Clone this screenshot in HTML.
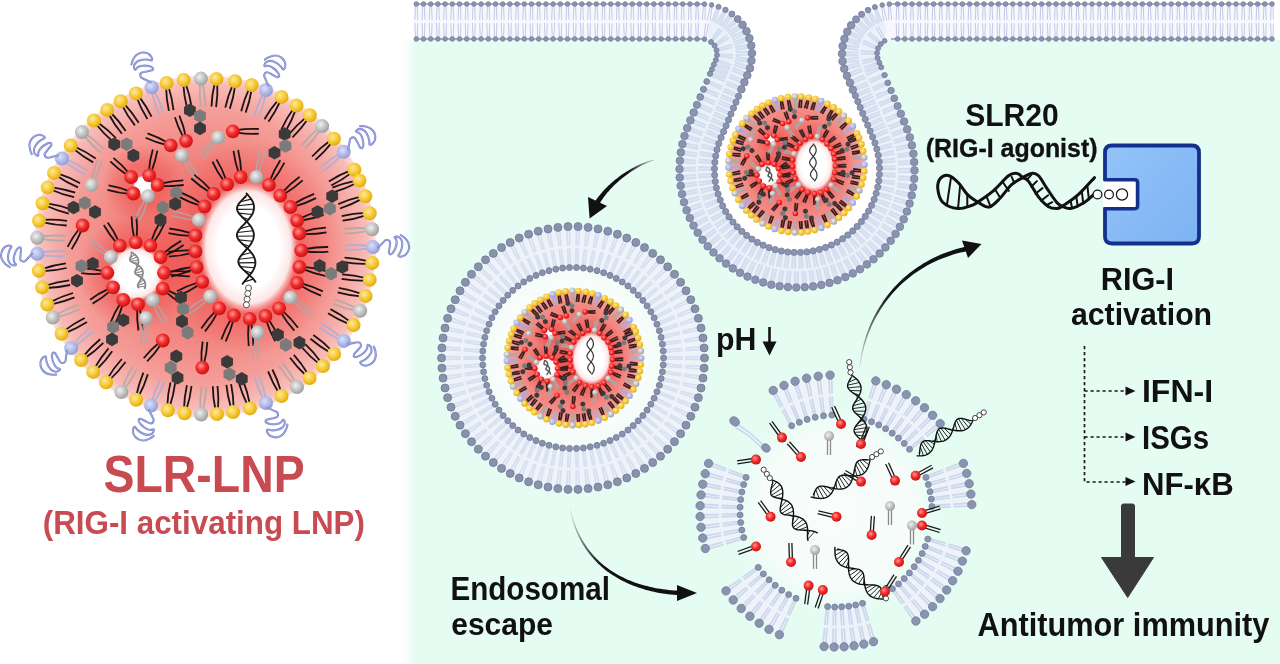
<!DOCTYPE html>
<html><head><meta charset="utf-8"><style>
html,body{margin:0;padding:0;background:#fff;}
svg{display:block;will-change:transform;}
text{font-family:"Liberation Sans",sans-serif;font-weight:bold;}
</style></head><body>
<svg width="1280" height="664" viewBox="0 0 1280 664">
<defs>
<radialGradient id="gY" cx="0.4" cy="0.38" r="0.65"><stop offset="0" stop-color="#fbe9a0"/><stop offset="0.55" stop-color="#f6c936"/><stop offset="1" stop-color="#e2a90a"/></radialGradient>
<radialGradient id="gR" cx="0.4" cy="0.38" r="0.65"><stop offset="0" stop-color="#ff9a9a"/><stop offset="0.5" stop-color="#f22c2c"/><stop offset="1" stop-color="#c90f0f"/></radialGradient>
<radialGradient id="gG" cx="0.4" cy="0.38" r="0.65"><stop offset="0" stop-color="#f0f0f0"/><stop offset="1" stop-color="#9c9c9c"/></radialGradient>
<radialGradient id="gL" cx="0.4" cy="0.38" r="0.65"><stop offset="0" stop-color="#dbe0fa"/><stop offset="1" stop-color="#8f9bd6"/></radialGradient>
<radialGradient id="gDisc"><stop offset="0" stop-color="#f06a64"/><stop offset="0.5" stop-color="#f2827d"/><stop offset="0.8" stop-color="#f59e99"/><stop offset="0.95" stop-color="#f8bcb8"/><stop offset="1" stop-color="#fde0dd"/></radialGradient>
<radialGradient id="gGlow"><stop offset="0.5" stop-color="#ee3a3a" stop-opacity="0.45"/><stop offset="1" stop-color="#ee3a3a" stop-opacity="0"/></radialGradient>
<radialGradient id="gHole"><stop offset="0" stop-color="#fff"/><stop offset="0.62" stop-color="#fff"/><stop offset="0.85" stop-color="#fde6e6"/><stop offset="1" stop-color="#fbd0d0" stop-opacity="0"/></radialGradient>
<linearGradient id="gEdge" x1="0" y1="0" x2="1" y2="0"><stop offset="0" stop-color="#e5fcf3" stop-opacity="0"/><stop offset="1" stop-color="#e5fcf3" stop-opacity="0.85"/></linearGradient>
<radialGradient id="gLumen2"><stop offset="0" stop-color="#f8fdfb"/><stop offset="0.75" stop-color="#f5fcf9"/><stop offset="1" stop-color="#f5fcf9" stop-opacity="0"/></radialGradient>
<radialGradient id="gLumen"><stop offset="0.6" stop-color="#fbfefd"/><stop offset="1" stop-color="#f3fcf8"/></radialGradient>
<linearGradient id="gRig" x1="0" y1="0" x2="1" y2="1"><stop offset="0" stop-color="#93c3f8"/><stop offset="1" stop-color="#7db3f2"/></linearGradient>
<linearGradient id="gArr1" gradientUnits="userSpaceOnUse" x1="654" y1="160" x2="600" y2="205"><stop offset="0" stop-color="#111" stop-opacity="0.2"/><stop offset="0.4" stop-color="#111"/></linearGradient>
<linearGradient id="gArr2" gradientUnits="userSpaceOnUse" x1="570" y1="510" x2="640" y2="585"><stop offset="0" stop-color="#111" stop-opacity="0.05"/><stop offset="0.6" stop-color="#111"/></linearGradient>
<linearGradient id="gArr3" gradientUnits="userSpaceOnUse" x1="860" y1="372" x2="920" y2="270"><stop offset="0" stop-color="#111" stop-opacity="0.05"/><stop offset="0.7" stop-color="#111"/></linearGradient>
<g id="lnp"><circle r="171" fill="url(#gDisc)"/><ellipse cx="44" cy="1" rx="92" ry="108" fill="url(#gGlow)"/><circle cx="-69" cy="27" r="58" fill="url(#gGlow)"/><circle cx="-62" cy="-62" r="40" fill="url(#gGlow)" opacity="0.8"/><ellipse cx="43.5" cy="1" rx="50" ry="66" fill="url(#gHole)"/><circle cx="-69.3" cy="26.8" r="28" fill="url(#gHole)"/><circle cx="-62" cy="-61" r="10" fill="url(#gHole)"/><path d="M-163.5 -10Q-151.6 -11.5 -139.7 -10.7" stroke="#a9a9a9" stroke-width="1.8" fill="none" opacity="0.85"/><path d="M-163.6 -7.5Q-151.7 -5.5 -139.8 -6" stroke="#a9a9a9" stroke-width="1.8" fill="none" opacity="0.85"/><path d="M-161.7 -26.6Q-149.7 -27.3 -137.9 -25.7" stroke="#1c1414" stroke-width="1.8" fill="none"/><path d="M-161.9 -24.1Q-150.2 -21.4 -138.3 -21" stroke="#1c1414" stroke-width="1.8" fill="none"/><path d="M-158 -43.2Q-146.1 -41.5 -134.9 -37.4" stroke="#1c1414" stroke-width="1.8" fill="none"/><path d="M-158.7 -40.8Q-147.8 -35.7 -136.2 -32.9" stroke="#1c1414" stroke-width="1.8" fill="none"/><path d="M-152.9 -59.2Q-140.9 -57.6 -129.7 -53.8" stroke="#1c1414" stroke-width="1.8" fill="none"/><path d="M-153.6 -56.8Q-142.6 -51.9 -130.9 -49.3" stroke="#1c1414" stroke-width="1.8" fill="none"/><path d="M-146.7 -72.9Q-135.2 -69.2 -124.9 -63.3" stroke="#1c1414" stroke-width="1.8" fill="none"/><path d="M-147.8 -70.6Q-137.9 -63.8 -127 -59.1" stroke="#1c1414" stroke-width="1.8" fill="none"/><path d="M-138.8 -87Q-127.7 -82.6 -117.7 -76" stroke="#a6aedb" stroke-width="1.8" fill="none" opacity="0.85"/><path d="M-140.1 -84.8Q-130.7 -77.4 -120 -72" stroke="#a6aedb" stroke-width="1.8" fill="none" opacity="0.85"/><path d="M-130.1 -99.7Q-119.1 -94.9 -109.3 -88.1" stroke="#1c1414" stroke-width="1.8" fill="none"/><path d="M-131.4 -97.6Q-122.3 -89.8 -111.8 -84.1" stroke="#1c1414" stroke-width="1.8" fill="none"/><path d="M-119.1 -112.4Q-109.2 -105.6 -101 -97" stroke="#a9a9a9" stroke-width="1.8" fill="none" opacity="0.85"/><path d="M-120.9 -110.6Q-113.3 -101.2 -104.2 -93.6" stroke="#a9a9a9" stroke-width="1.8" fill="none" opacity="0.85"/><path d="M-107.2 -124.1Q-97.3 -117.2 -89.1 -108.5" stroke="#1c1414" stroke-width="1.8" fill="none"/><path d="M-108.9 -122.2Q-101.4 -112.8 -92.3 -105.1" stroke="#1c1414" stroke-width="1.8" fill="none"/><path d="M-94.3 -134Q-85.8 -125.4 -79.3 -115.4" stroke="#1c1414" stroke-width="1.8" fill="none"/><path d="M-96.3 -132.5Q-90.7 -121.9 -83.1 -112.7" stroke="#1c1414" stroke-width="1.8" fill="none"/><path d="M-80.8 -142.6Q-72.6 -133.9 -66.3 -123.8" stroke="#1c1414" stroke-width="1.8" fill="none"/><path d="M-82.9 -141.2Q-77.5 -130.4 -70.1 -121.1" stroke="#1c1414" stroke-width="1.8" fill="none"/><path d="M-66 -150.1Q-58.7 -140.5 -53.5 -129.8" stroke="#1c1414" stroke-width="1.8" fill="none"/><path d="M-68.2 -148.8Q-64 -137.6 -57.6 -127.5" stroke="#1c1414" stroke-width="1.8" fill="none"/><path d="M-50.7 -155.8Q-45.1 -145.1 -41.8 -133.7" stroke="#a6aedb" stroke-width="1.8" fill="none" opacity="0.85"/><path d="M-53.1 -154.9Q-50.8 -143.1 -46.2 -132.1" stroke="#a6aedb" stroke-width="1.8" fill="none" opacity="0.85"/><path d="M-36.4 -159.6Q-32.8 -148.2 -31.5 -136.3" stroke="#1c1414" stroke-width="1.8" fill="none"/><path d="M-38.9 -159.2Q-38.7 -147.2 -36.1 -135.6" stroke="#1c1414" stroke-width="1.8" fill="none"/><path d="M-19.3 -162.8Q-15.2 -151.5 -13.4 -139.7" stroke="#1c1414" stroke-width="1.8" fill="none"/><path d="M-21.7 -162.3Q-21 -150.3 -18 -138.7" stroke="#1c1414" stroke-width="1.8" fill="none"/><path d="M-2.5 -163.9Q0.2 -152.1 0.5 -140.2" stroke="#a9a9a9" stroke-width="1.8" fill="none" opacity="0.85"/><path d="M-5 -163.7Q-5.8 -151.7 -4.2 -139.9" stroke="#a9a9a9" stroke-width="1.8" fill="none" opacity="0.85"/><path d="M12.3 -163.3Q12.9 -151.3 11.1 -139.5" stroke="#1c1414" stroke-width="1.8" fill="none"/><path d="M9.8 -163.5Q6.9 -151.9 6.5 -140" stroke="#1c1414" stroke-width="1.8" fill="none"/><path d="M30.1 -160.9Q28.6 -149 24.8 -137.7" stroke="#1c1414" stroke-width="1.8" fill="none"/><path d="M27.7 -161.6Q22.9 -150.6 20.3 -138.9" stroke="#1c1414" stroke-width="1.8" fill="none"/><path d="M46.6 -157Q44.8 -145.1 40.6 -133.9" stroke="#1c1414" stroke-width="1.8" fill="none"/><path d="M44.2 -157.8Q39 -146.9 36.2 -135.3" stroke="#1c1414" stroke-width="1.8" fill="none"/><path d="M60.8 -152.1Q58.3 -140.4 53.6 -129.4" stroke="#a6aedb" stroke-width="1.8" fill="none" opacity="0.85"/><path d="M58.4 -153Q52.7 -142.4 49.2 -131" stroke="#a6aedb" stroke-width="1.8" fill="none" opacity="0.85"/><path d="M75.3 -145.3Q70.4 -134.4 63.4 -124.7" stroke="#1c1414" stroke-width="1.8" fill="none"/><path d="M73.2 -146.7Q65.3 -137.6 59.5 -127.2" stroke="#1c1414" stroke-width="1.8" fill="none"/><path d="M90.7 -136.6Q86.6 -125.3 80.5 -115" stroke="#1c1414" stroke-width="1.8" fill="none"/><path d="M88.4 -137.8Q81.3 -128.1 76.4 -117.2" stroke="#1c1414" stroke-width="1.8" fill="none"/><path d="M102.9 -127.4Q96.1 -117.4 87.5 -109.1" stroke="#1c1414" stroke-width="1.8" fill="none"/><path d="M101 -129.1Q91.7 -121.5 84.1 -112.3" stroke="#1c1414" stroke-width="1.8" fill="none"/><path d="M115.3 -116.5Q108.6 -106.4 100.2 -98" stroke="#a9a9a9" stroke-width="1.8" fill="none" opacity="0.85"/><path d="M113.4 -118.1Q104.2 -110.4 96.7 -101.1" stroke="#a9a9a9" stroke-width="1.8" fill="none" opacity="0.85"/><path d="M126.7 -103.9Q119.4 -94.4 110.4 -86.6" stroke="#1c1414" stroke-width="1.8" fill="none"/><path d="M125 -105.8Q115.2 -98.7 107.1 -90" stroke="#1c1414" stroke-width="1.8" fill="none"/><path d="M136.3 -91.1Q128.1 -82.3 118.4 -75.3" stroke="#a6aedb" stroke-width="1.8" fill="none" opacity="0.85"/><path d="M134.7 -93Q124.3 -87 115.5 -79" stroke="#a6aedb" stroke-width="1.8" fill="none" opacity="0.85"/><path d="M146.4 -73.6Q136.9 -66.3 126.2 -61" stroke="#1c1414" stroke-width="1.8" fill="none"/><path d="M145.1 -75.8Q133.9 -71.5 123.9 -65.1" stroke="#1c1414" stroke-width="1.8" fill="none"/><path d="M151 -63.3Q140.4 -57.7 128.9 -54.4" stroke="#1c1414" stroke-width="1.8" fill="none"/><path d="M150.2 -65.7Q138.4 -63.4 127.4 -58.8" stroke="#1c1414" stroke-width="1.8" fill="none"/><path d="M156.8 -47.6Q146.4 -41.7 135 -38" stroke="#1c1414" stroke-width="1.8" fill="none"/><path d="M155.9 -49.9Q144.2 -47.3 133.3 -42.4" stroke="#1c1414" stroke-width="1.8" fill="none"/><path d="M160.8 -31.2Q149.4 -27.3 137.6 -25.8" stroke="#1c1414" stroke-width="1.8" fill="none"/><path d="M160.3 -33.7Q148.3 -33.2 136.7 -30.4" stroke="#1c1414" stroke-width="1.8" fill="none"/><path d="M163 -15.7Q151.3 -13.1 139.4 -12.8" stroke="#a9a9a9" stroke-width="1.8" fill="none" opacity="0.85"/><path d="M162.8 -18.2Q150.8 -19.1 139 -17.5" stroke="#a9a9a9" stroke-width="1.8" fill="none" opacity="0.85"/><path d="M163.8 1.9Q152 3.9 140.1 3.5" stroke="#a6aedb" stroke-width="1.8" fill="none" opacity="0.85"/><path d="M163.8 -0.6Q151.8 -2.1 140 -1.1" stroke="#a6aedb" stroke-width="1.8" fill="none" opacity="0.85"/><path d="M162.9 17.2Q150.9 17.7 139.1 15.7" stroke="#1c1414" stroke-width="1.8" fill="none"/><path d="M163.2 14.7Q151.5 11.7 139.6 11.1" stroke="#1c1414" stroke-width="1.8" fill="none"/><path d="M160.4 34Q148.4 34.4 136.6 32.4" stroke="#1c1414" stroke-width="1.8" fill="none"/><path d="M160.7 31.5Q149 28.4 137.1 27.8" stroke="#1c1414" stroke-width="1.8" fill="none"/><path d="M156.2 49.8Q144.2 49 132.7 45.8" stroke="#1c1414" stroke-width="1.8" fill="none"/><path d="M156.7 47.3Q145.5 43.1 133.7 41.3" stroke="#1c1414" stroke-width="1.8" fill="none"/><path d="M150.8 64.1Q139 61.8 128 57.3" stroke="#a9a9a9" stroke-width="1.8" fill="none" opacity="0.85"/><path d="M151.7 61.7Q141 56.2 129.5 52.9" stroke="#a9a9a9" stroke-width="1.8" fill="none" opacity="0.85"/><path d="M144.2 77.6Q133 73.2 123 66.7" stroke="#1c1414" stroke-width="1.8" fill="none"/><path d="M145.5 75.4Q136 68 125.4 62.6" stroke="#1c1414" stroke-width="1.8" fill="none"/><path d="M134.7 93.2Q123.9 88.1 114.3 81" stroke="#a6aedb" stroke-width="1.8" fill="none" opacity="0.85"/><path d="M136.1 91.1Q127.2 83.1 116.9 77.1" stroke="#a6aedb" stroke-width="1.8" fill="none" opacity="0.85"/><path d="M125 106Q114.5 100.1 105.5 92.3" stroke="#1c1414" stroke-width="1.8" fill="none"/><path d="M126.5 104Q118.2 95.3 108.3 88.6" stroke="#1c1414" stroke-width="1.8" fill="none"/><path d="M114.2 117.4Q104.7 110 97 101" stroke="#1c1414" stroke-width="1.8" fill="none"/><path d="M116 115.7Q109 105.9 100.3 97.7" stroke="#1c1414" stroke-width="1.8" fill="none"/><path d="M101 129Q92.1 120.9 85.1 111.2" stroke="#1c1414" stroke-width="1.8" fill="none"/><path d="M102.9 127.4Q96.8 117.1 88.8 108.3" stroke="#1c1414" stroke-width="1.8" fill="none"/><path d="M88.5 137.9Q80.2 129.2 73.8 119.1" stroke="#a9a9a9" stroke-width="1.8" fill="none" opacity="0.85"/><path d="M90.6 136.4Q85.1 125.7 77.6 116.4" stroke="#a9a9a9" stroke-width="1.8" fill="none" opacity="0.85"/><path d="M73.7 146.2Q67.3 136 63.1 124.9" stroke="#1c1414" stroke-width="1.8" fill="none"/><path d="M76 145.2Q72.8 133.6 67.4 123" stroke="#1c1414" stroke-width="1.8" fill="none"/><path d="M58.5 153Q52.9 142.3 49.7 130.8" stroke="#a6aedb" stroke-width="1.8" fill="none" opacity="0.85"/><path d="M60.8 152.1Q58.6 140.3 54.1 129.3" stroke="#a6aedb" stroke-width="1.8" fill="none" opacity="0.85"/><path d="M42.4 158.3Q37 147.6 33.8 136.1" stroke="#1c1414" stroke-width="1.8" fill="none"/><path d="M44.8 157.5Q42.7 145.7 38.3 134.6" stroke="#1c1414" stroke-width="1.8" fill="none"/><path d="M26.1 161.7Q22.6 150.2 21.4 138.3" stroke="#1c1414" stroke-width="1.8" fill="none"/><path d="M28.6 161.3Q28.5 149.3 26.1 137.6" stroke="#1c1414" stroke-width="1.8" fill="none"/><path d="M10.5 163.5Q7.9 151.7 7.8 139.8" stroke="#1c1414" stroke-width="1.8" fill="none"/><path d="M13 163.3Q13.9 151.3 12.5 139.5" stroke="#1c1414" stroke-width="1.8" fill="none"/><path d="M-4.7 163.7Q-5.2 151.6 -3.4 139.9" stroke="#a9a9a9" stroke-width="1.8" fill="none" opacity="0.85"/><path d="M-2.1 163.9Q0.7 152.2 1.2 140.3" stroke="#a9a9a9" stroke-width="1.8" fill="none" opacity="0.85"/><path d="M-21 162.4Q-20.7 150.4 -18.1 138.8" stroke="#1c1414" stroke-width="1.8" fill="none"/><path d="M-18.5 162.8Q-14.8 151.4 -13.5 139.5" stroke="#1c1414" stroke-width="1.8" fill="none"/><path d="M-37.7 159.5Q-37.3 147.4 -34.5 135.9" stroke="#1c1414" stroke-width="1.8" fill="none"/><path d="M-35.2 159.9Q-31.4 148.5 -29.9 136.7" stroke="#1c1414" stroke-width="1.8" fill="none"/><path d="M-53.3 154.8Q-50 143.2 -44.5 132.6" stroke="#a6aedb" stroke-width="1.8" fill="none" opacity="0.85"/><path d="M-51 155.8Q-44.5 145.7 -40.2 134.6" stroke="#a6aedb" stroke-width="1.8" fill="none" opacity="0.85"/><path d="M-68.6 148.9Q-66.2 137.1 -61.6 126.1" stroke="#1c1414" stroke-width="1.8" fill="none"/><path d="M-66.3 149.7Q-60.6 139.1 -57.2 127.7" stroke="#1c1414" stroke-width="1.8" fill="none"/><path d="M-82.8 141.4Q-78.6 130.1 -72.2 120" stroke="#a9a9a9" stroke-width="1.8" fill="none" opacity="0.85"/><path d="M-80.6 142.6Q-73.3 133 -68.1 122.3" stroke="#a9a9a9" stroke-width="1.8" fill="none" opacity="0.85"/><path d="M-97.3 131.7Q-91.2 121.3 -83.2 112.5" stroke="#1c1414" stroke-width="1.8" fill="none"/><path d="M-95.4 133.3Q-86.5 125.1 -79.5 115.5" stroke="#1c1414" stroke-width="1.8" fill="none"/><path d="M-110.2 121.3Q-104.3 110.9 -96.5 101.9" stroke="#1c1414" stroke-width="1.8" fill="none"/><path d="M-108.2 122.9Q-99.5 114.5 -92.8 104.7" stroke="#1c1414" stroke-width="1.8" fill="none"/><path d="M-121.6 109.7Q-114 100.4 -104.8 92.8" stroke="#1c1414" stroke-width="1.8" fill="none"/><path d="M-119.9 111.6Q-110 104.8 -101.7 96.3" stroke="#1c1414" stroke-width="1.8" fill="none"/><path d="M-131.6 97.8Q-124 88.5 -114.7 80.9" stroke="#a6aedb" stroke-width="1.8" fill="none" opacity="0.85"/><path d="M-129.9 99.7Q-119.9 92.9 -111.6 84.4" stroke="#a6aedb" stroke-width="1.8" fill="none" opacity="0.85"/><path d="M-140.5 84.1Q-131 76.8 -120.3 71.5" stroke="#1c1414" stroke-width="1.8" fill="none"/><path d="M-139.3 86.3Q-128 82 -118 75.6" stroke="#1c1414" stroke-width="1.8" fill="none"/><path d="M-148.8 68.3Q-138.5 62.2 -127.2 58.4" stroke="#a9a9a9" stroke-width="1.8" fill="none" opacity="0.85"/><path d="M-147.9 70.6Q-136.2 67.8 -125.4 62.7" stroke="#a9a9a9" stroke-width="1.8" fill="none" opacity="0.85"/><path d="M-154.1 55.4Q-143.5 49.8 -132 46.5" stroke="#1c1414" stroke-width="1.8" fill="none"/><path d="M-153.3 57.8Q-141.5 55.5 -130.5 50.9" stroke="#1c1414" stroke-width="1.8" fill="none"/><path d="M-159 39Q-147.6 35.2 -135.7 33.9" stroke="#1c1414" stroke-width="1.8" fill="none"/><path d="M-158.6 41.5Q-146.6 41.1 -134.9 38.5" stroke="#1c1414" stroke-width="1.8" fill="none"/><path d="M-162.3 22.3Q-150.9 18.4 -139.1 16.9" stroke="#1c1414" stroke-width="1.8" fill="none"/><path d="M-161.9 24.7Q-149.9 24.3 -138.3 21.5" stroke="#1c1414" stroke-width="1.8" fill="none"/><path d="M-163.6 6Q-151.8 4.3 -139.9 4.9" stroke="#a6aedb" stroke-width="1.8" fill="none" opacity="0.85"/><path d="M-163.6 8.6Q-151.7 10.3 -139.8 9.5" stroke="#a6aedb" stroke-width="1.8" fill="none" opacity="0.85"/><path d="M33.7 -73.4Q29.9 -84.3 28.5 -95.6" stroke="#1c1414" stroke-width="1.8" fill="none"/><path d="M36.2 -73.9Q35.8 -85.4 33.1 -96.5" stroke="#1c1414" stroke-width="1.8" fill="none"/><path d="M51.2 -73.9Q51.9 -85.4 54.9 -96.4" stroke="#a9a9a9" stroke-width="1.8" fill="none" opacity="0.85"/><path d="M53.6 -73.3Q57.7 -84.1 59.5 -95.4" stroke="#a9a9a9" stroke-width="1.8" fill="none" opacity="0.85"/><path d="M64.9 -65.9Q69.1 -76.6 75.3 -86.2" stroke="#1c1414" stroke-width="1.8" fill="none"/><path d="M67.1 -64.6Q74.3 -73.6 79.4 -83.8" stroke="#1c1414" stroke-width="1.8" fill="none"/><path d="M77.7 -54.4Q85.4 -63 94.6 -69.7" stroke="#1c1414" stroke-width="1.8" fill="none"/><path d="M79.3 -52.5Q89.2 -58.3 97.6 -66.1" stroke="#1c1414" stroke-width="1.8" fill="none"/><path d="M88.7 -42.4Q98.4 -48.6 109.1 -52.7" stroke="#1c1414" stroke-width="1.8" fill="none"/><path d="M89.7 -40.1Q100.9 -43.2 111 -48.4" stroke="#1c1414" stroke-width="1.8" fill="none"/><path d="M95.7 -28.4Q106.1 -33.4 117.2 -36.2" stroke="#1c1414" stroke-width="1.8" fill="none"/><path d="M96.5 -26Q107.9 -27.7 118.6 -31.7" stroke="#1c1414" stroke-width="1.8" fill="none"/><path d="M98.4 -14.9Q109.5 -18.1 120.9 -18.8" stroke="#1c1414" stroke-width="1.8" fill="none"/><path d="M98.7 -12.4Q110.3 -12.1 121.5 -14.2" stroke="#1c1414" stroke-width="1.8" fill="none"/><path d="M100.3 2.5Q111.7 0.3 123.1 0.5" stroke="#1c1414" stroke-width="1.8" fill="none"/><path d="M100.4 5Q111.9 6.3 123.3 5.2" stroke="#1c1414" stroke-width="1.8" fill="none"/><path d="M98.8 20.3Q110.3 21.3 121.2 24.7" stroke="#1c1414" stroke-width="1.8" fill="none"/><path d="M98.2 22.7Q108.8 27.2 120 29.3" stroke="#1c1414" stroke-width="1.8" fill="none"/><path d="M96.5 36.8Q107.6 39.7 117.8 44.9" stroke="#1c1414" stroke-width="1.8" fill="none"/><path d="M95.5 39.1Q105.2 45.2 116 49.2" stroke="#1c1414" stroke-width="1.8" fill="none"/><path d="M89.5 52.5Q99.5 58.2 108.1 65.7" stroke="#a9a9a9" stroke-width="1.8" fill="none" opacity="0.85"/><path d="M87.9 54.5Q95.8 62.9 105.2 69.4" stroke="#a9a9a9" stroke-width="1.8" fill="none" opacity="0.85"/><path d="M77.7 64.3Q86.3 72 93 81.3" stroke="#1c1414" stroke-width="1.8" fill="none"/><path d="M75.8 65.9Q81.6 75.8 89.3 84.2" stroke="#1c1414" stroke-width="1.8" fill="none"/><path d="M63.5 72.7Q70 82.2 74.4 92.7" stroke="#1c1414" stroke-width="1.8" fill="none"/><path d="M61.2 73.8Q64.6 84.8 70.2 94.8" stroke="#1c1414" stroke-width="1.8" fill="none"/><path d="M46.2 76.5Q48.5 87.8 48.3 99.3" stroke="#1c1414" stroke-width="1.8" fill="none"/><path d="M43.6 76.7Q42.5 88.1 43.7 99.5" stroke="#1c1414" stroke-width="1.8" fill="none"/><path d="M28.4 73.4Q25.7 84.6 20.7 94.8" stroke="#1c1414" stroke-width="1.8" fill="none"/><path d="M26.1 72.4Q20.1 82.2 16.4 93" stroke="#1c1414" stroke-width="1.8" fill="none"/><path d="M12.7 65.9Q7.3 76.1 0 84.9" stroke="#1c1414" stroke-width="1.8" fill="none"/><path d="M10.7 64.4Q2.5 72.6 -3.7 82.1" stroke="#1c1414" stroke-width="1.8" fill="none"/><path d="M2.5 53.3Q-5.7 61.3 -15.4 67.5" stroke="#a9a9a9" stroke-width="1.8" fill="none" opacity="0.85"/><path d="M1.1 51.2Q-9.2 56.5 -18.1 63.7" stroke="#a9a9a9" stroke-width="1.8" fill="none" opacity="0.85"/><path d="M-5.9 38.2Q-15.5 44.7 -26.1 49" stroke="#1c1414" stroke-width="1.8" fill="none"/><path d="M-7 36Q-18.1 39.3 -28.1 44.8" stroke="#1c1414" stroke-width="1.8" fill="none"/><path d="M-12 22.9Q-22.5 27.6 -33.7 30" stroke="#1c1414" stroke-width="1.8" fill="none"/><path d="M-12.7 20.5Q-24.1 21.9 -35 25.5" stroke="#1c1414" stroke-width="1.8" fill="none"/><path d="M-13.5 6.5Q-24.7 9.5 -36.1 10.1" stroke="#1c1414" stroke-width="1.8" fill="none"/><path d="M-13.8 4Q-25.3 3.5 -36.6 5.5" stroke="#1c1414" stroke-width="1.8" fill="none"/><path d="M-13.9 -10.6Q-25.4 -10.8 -36.5 -13.3" stroke="#1c1414" stroke-width="1.8" fill="none"/><path d="M-13.4 -13.1Q-24.4 -16.7 -35.7 -18" stroke="#1c1414" stroke-width="1.8" fill="none"/><path d="M-10.5 -26.4Q-22 -27.4 -32.9 -30.8" stroke="#a9a9a9" stroke-width="1.8" fill="none" opacity="0.85"/><path d="M-9.9 -28.8Q-20.5 -33.2 -31.8 -35.3" stroke="#a9a9a9" stroke-width="1.8" fill="none" opacity="0.85"/><path d="M-4.8 -40.9Q-15.9 -44.1 -25.9 -49.6" stroke="#1c1414" stroke-width="1.8" fill="none"/><path d="M-3.8 -43.1Q-13.3 -49.6 -23.9 -53.8" stroke="#1c1414" stroke-width="1.8" fill="none"/><path d="M4.6 -54.3Q-5.3 -60.2 -13.7 -68" stroke="#1c1414" stroke-width="1.8" fill="none"/><path d="M6.2 -56.2Q-1.5 -64.8 -10.7 -71.6" stroke="#1c1414" stroke-width="1.8" fill="none"/><path d="M19 -65.2Q12.1 -74.5 7.4 -84.9" stroke="#1c1414" stroke-width="1.8" fill="none"/><path d="M21.2 -66.4Q17.4 -77.3 11.5 -87.1" stroke="#1c1414" stroke-width="1.8" fill="none"/><path d="M-70.8 -8.3Q-73.3 -19.1 -73.4 -30" stroke="#1c1414" stroke-width="1.8" fill="none"/><path d="M-68.3 -8.5Q-67.3 -19.5 -68.7 -30.3" stroke="#1c1414" stroke-width="1.8" fill="none"/><path d="M-53.8 -5.2Q-50.3 -15.7 -44.7 -25" stroke="#1c1414" stroke-width="1.8" fill="none"/><path d="M-51.5 -4Q-45 -12.9 -40.5 -22.9" stroke="#1c1414" stroke-width="1.8" fill="none"/><path d="M-41.7 7.2Q-33.4 -0.2 -23.9 -5.6" stroke="#1c1414" stroke-width="1.8" fill="none"/><path d="M-40.3 9.3Q-30.2 4.8 -21.4 -1.6" stroke="#1c1414" stroke-width="1.8" fill="none"/><path d="M-36.8 25.2Q-25.9 24 -15 25.1" stroke="#1c1414" stroke-width="1.8" fill="none"/><path d="M-37 27.7Q-26.1 30 -15.2 29.8" stroke="#1c1414" stroke-width="1.8" fill="none"/><path d="M-38 43.3Q-27.8 47.7 -19 54" stroke="#1c1414" stroke-width="1.8" fill="none"/><path d="M-39.3 45.4Q-31.1 52.7 -21.5 58" stroke="#1c1414" stroke-width="1.8" fill="none"/><path d="M-49.3 56.5Q-42.4 65.1 -37.7 75" stroke="#a9a9a9" stroke-width="1.8" fill="none" opacity="0.85"/><path d="M-51.5 57.7Q-47.7 68.1 -41.8 77.3" stroke="#a9a9a9" stroke-width="1.8" fill="none" opacity="0.85"/><path d="M-65.3 61.9Q-62.4 72.6 -61.8 83.5" stroke="#1c1414" stroke-width="1.8" fill="none"/><path d="M-67.8 62.2Q-68.3 73.2 -66.5 84" stroke="#1c1414" stroke-width="1.8" fill="none"/><path d="M-82.3 57.7Q-85.2 68.4 -90.2 78.1" stroke="#1c1414" stroke-width="1.8" fill="none"/><path d="M-84.6 56.7Q-90.6 65.9 -94.5 76.2" stroke="#1c1414" stroke-width="1.8" fill="none"/><path d="M-94.7 44.3Q-102.9 51.7 -112.4 57.1" stroke="#1c1414" stroke-width="1.8" fill="none"/><path d="M-96.1 42.1Q-106.2 46.7 -114.9 53.2" stroke="#1c1414" stroke-width="1.8" fill="none"/><path d="M-101.9 27.2Q-112.9 28.1 -123.7 26.6" stroke="#1c1414" stroke-width="1.8" fill="none"/><path d="M-101.7 24.7Q-112.4 22.1 -123.3 21.9" stroke="#1c1414" stroke-width="1.8" fill="none"/><path d="M-98.3 8.9Q-108 3.7 -116.3 -3.4" stroke="#a9a9a9" stroke-width="1.8" fill="none" opacity="0.85"/><path d="M-96.8 6.9Q-104.4 -1.1 -113.4 -7.2" stroke="#a9a9a9" stroke-width="1.8" fill="none" opacity="0.85"/><path d="M-88.4 -3.7Q-95.8 -11.9 -101.2 -21.5" stroke="#1c1414" stroke-width="1.8" fill="none"/><path d="M-86.3 -5.1Q-90.8 -15.2 -97.3 -24" stroke="#1c1414" stroke-width="1.8" fill="none"/><path d="M-38.7 -101.6Q-49.4 -104.1 -59.3 -108.8" stroke="#1c1414" stroke-width="1.8" fill="none"/><path d="M-37.7 -103.9Q-47.2 -109.6 -57.5 -113.1" stroke="#1c1414" stroke-width="1.8" fill="none"/><path d="M-21.6 -109.2Q-27 -118.9 -30.1 -129.3" stroke="#1c1414" stroke-width="1.8" fill="none"/><path d="M-19.3 -110.1Q-21.3 -120.9 -25.7 -130.9" stroke="#1c1414" stroke-width="1.8" fill="none"/><path d="M-77.8 -71.4Q-87 -77.4 -94.7 -85.2" stroke="#1c1414" stroke-width="1.8" fill="none"/><path d="M-76.1 -73.2Q-83 -81.8 -91.6 -88.6" stroke="#1c1414" stroke-width="1.8" fill="none"/><path d="M-56.1 -75.5Q-55.3 -86.5 -52.2 -97" stroke="#1c1414" stroke-width="1.8" fill="none"/><path d="M-53.6 -74.9Q-49.5 -85.1 -47.7 -95.9" stroke="#1c1414" stroke-width="1.8" fill="none"/><path d="M-43.3 -63.2Q-32.6 -65.9 -21.7 -66.2" stroke="#1c1414" stroke-width="1.8" fill="none"/><path d="M-43.1 -60.7Q-32.1 -59.9 -21.3 -61.5" stroke="#1c1414" stroke-width="1.8" fill="none"/><path d="M-76 -52.7Q-87 -53.5 -97.5 -56.6" stroke="#1c1414" stroke-width="1.8" fill="none"/><path d="M-75.4 -55.2Q-85.6 -59.3 -96.4 -61.1" stroke="#1c1414" stroke-width="1.8" fill="none"/><path d="M-123.4 -16.7Q-127.4 -6.4 -133.4 2.7" stroke="#1c1414" stroke-width="1.8" fill="none"/><path d="M-125.6 -18Q-132.5 -9.4 -137.4 0.3" stroke="#1c1414" stroke-width="1.8" fill="none"/><path d="M32 -116.5Q42.9 -118.2 53.8 -117.5" stroke="#1c1414" stroke-width="1.8" fill="none"/><path d="M32 -113.9Q42.9 -112.2 53.8 -112.9" stroke="#1c1414" stroke-width="1.8" fill="none"/><path d="M-44.1 98Q-50.1 107.2 -57.9 114.9" stroke="#1c1414" stroke-width="1.8" fill="none"/><path d="M-45.9 96.3Q-54.5 103.2 -61.3 111.8" stroke="#1c1414" stroke-width="1.8" fill="none"/><path d="M-3.5 116.8Q-4.1 105.8 -2.3 95" stroke="#1c1414" stroke-width="1.8" fill="none"/><path d="M-1 117.1Q1.9 106.4 2.3 95.5" stroke="#1c1414" stroke-width="1.8" fill="none"/><path d="M-113.3 -66Q-111.6 -76.9 -107.6 -87.1" stroke="#a9a9a9" stroke-width="1.8" fill="none" opacity="0.85"/><path d="M-110.9 -65.2Q-105.9 -75 -103.1 -85.6" stroke="#a9a9a9" stroke-width="1.8" fill="none" opacity="0.85"/><path d="M-19.6 -88.2Q-12.1 -80.2 -6.5 -70.8" stroke="#a9a9a9" stroke-width="1.8" fill="none" opacity="0.85"/><path d="M-21.7 -86.8Q-17 -76.8 -10.4 -68.1" stroke="#a9a9a9" stroke-width="1.8" fill="none" opacity="0.85"/><path d="M-57.5 -46Q-60.3 -35.3 -65.3 -25.6" stroke="#a9a9a9" stroke-width="1.8" fill="none" opacity="0.85"/><path d="M-59.8 -47Q-65.8 -37.7 -69.6 -27.5" stroke="#a9a9a9" stroke-width="1.8" fill="none" opacity="0.85"/><path d="M11.4 -105.1Q5.7 -95.6 -1.8 -87.7" stroke="#a9a9a9" stroke-width="1.8" fill="none" opacity="0.85"/><path d="M9.4 -106.7Q1.1 -99.5 -5.4 -90.7" stroke="#a9a9a9" stroke-width="1.8" fill="none" opacity="0.85"/><path d="M-58.3 75.8Q-57.5 86.8 -59.1 97.6" stroke="#a9a9a9" stroke-width="1.8" fill="none" opacity="0.85"/><path d="M-60.8 75.6Q-63.5 86.3 -63.8 97.2" stroke="#a9a9a9" stroke-width="1.8" fill="none" opacity="0.85"/><path d="M53.5 90.3Q54.3 101.3 52.7 112.1" stroke="#a9a9a9" stroke-width="1.8" fill="none" opacity="0.85"/><path d="M51 90.1Q48.3 100.8 48 111.7" stroke="#a9a9a9" stroke-width="1.8" fill="none" opacity="0.85"/><polygon points="-84.9,-98.9 -90.8,-95.5 -96.7,-98.9 -96.7,-105.7 -90.8,-109.1 -84.9,-105.7" fill="#3a3a3a"/><polygon points="-72.5,-98.9 -78.4,-95.5 -84.3,-98.9 -84.3,-105.7 -78.4,-109.1 -72.5,-105.7" fill="#7b7b7b"/><polygon points="-65.7,-87.6 -71.6,-84.2 -77.5,-87.6 -77.5,-94.4 -71.6,-97.8 -65.7,-94.4" fill="#3a3a3a"/><polygon points="-125.5,-35.6 -131.4,-32.2 -137.3,-35.6 -137.3,-42.4 -131.4,-45.8 -125.5,-42.4" fill="#3a3a3a"/><polygon points="-114.3,-40.1 -120.2,-36.7 -126.1,-40.1 -126.1,-46.9 -120.2,-50.3 -114.3,-46.9" fill="#7b7b7b"/><polygon points="-104.1,-31.1 -110,-27.7 -115.9,-31.1 -115.9,-37.9 -110,-41.3 -104.1,-37.9" fill="#3a3a3a"/><polygon points="-9.2,-132.8 -15.1,-129.4 -21,-132.8 -21,-139.6 -15.1,-143 -9.2,-139.6" fill="#3a3a3a"/><polygon points="0.9,-127.1 -5,-123.7 -10.9,-127.1 -10.9,-133.9 -5,-137.3 0.9,-133.9" fill="#7b7b7b"/><polygon points="0.9,-114.7 -5,-111.3 -10.9,-114.7 -10.9,-121.5 -5,-124.9 0.9,-121.5" fill="#3a3a3a"/><polygon points="-22.8,-50.3 -28.7,-46.9 -34.6,-50.3 -34.6,-57.1 -28.7,-60.5 -22.8,-57.1" fill="#7b7b7b"/><polygon points="-23.9,-39.1 -29.8,-35.7 -35.7,-39.1 -35.7,-45.9 -29.8,-49.3 -23.9,-45.9" fill="#3a3a3a"/><polygon points="-36.3,-35.6 -42.2,-32.2 -48.1,-35.6 -48.1,-42.4 -42.2,-45.8 -36.3,-42.4" fill="#7b7b7b"/><polygon points="-38.6,-23.2 -44.5,-19.8 -50.4,-23.2 -50.4,-30 -44.5,-33.4 -38.6,-30" fill="#3a3a3a"/><polygon points="85.6,-109.1 79.7,-105.7 73.8,-109.1 73.8,-115.9 79.7,-119.3 85.6,-115.9" fill="#3a3a3a"/><polygon points="86.3,-97.1 80.4,-93.7 74.5,-97.1 74.5,-103.9 80.4,-107.3 86.3,-103.9" fill="#7b7b7b"/><polygon points="75.4,-90.3 69.5,-86.9 63.6,-90.3 63.6,-97.1 69.5,-100.5 75.4,-97.1" fill="#3a3a3a"/><polygon points="133.1,-46.9 127.2,-43.5 121.3,-46.9 121.3,-53.7 127.2,-57.1 133.1,-53.7" fill="#3a3a3a"/><polygon points="130.8,-34.5 124.9,-31.1 119,-34.5 119,-41.3 124.9,-44.7 130.8,-41.3" fill="#7b7b7b"/><polygon points="118.4,-31.1 112.5,-27.7 106.6,-31.1 106.6,-37.9 112.5,-41.3 118.4,-37.9" fill="#3a3a3a"/><polygon points="-106.3,20.6 -112.2,24 -118.1,20.6 -118.1,13.8 -112.2,10.4 -106.3,13.8" fill="#3a3a3a"/><polygon points="-117.6,22.9 -123.5,26.3 -129.4,22.9 -129.4,16.1 -123.5,12.7 -117.6,16.1" fill="#7b7b7b"/><polygon points="-122.1,37.6 -128,41 -133.9,37.6 -133.9,30.8 -128,27.4 -122.1,30.8" fill="#3a3a3a"/><polygon points="-75.8,77.1 -81.7,80.5 -87.6,77.1 -87.6,70.3 -81.7,66.9 -75.8,70.3" fill="#3a3a3a"/><polygon points="-86,83.9 -91.9,87.3 -97.8,83.9 -97.8,77.1 -91.9,73.7 -86,77.1" fill="#7b7b7b"/><polygon points="-87.1,96.3 -93,99.7 -98.9,96.3 -98.9,89.5 -93,86.1 -87.1,89.5" fill="#3a3a3a"/><polygon points="-18.1,54.5 -24,57.9 -29.9,54.5 -29.9,47.7 -24,44.3 -18.1,47.7" fill="#3a3a3a"/><polygon points="-16,65.9 -21.9,69.3 -27.8,65.9 -27.8,59.1 -21.9,55.7 -16,59.1" fill="#7b7b7b"/><polygon points="-17.1,78.2 -23,81.6 -28.9,78.2 -28.9,71.4 -23,68 -17.1,71.4" fill="#3a3a3a"/><polygon points="-11.5,89.5 -17.4,92.9 -23.3,89.5 -23.3,82.7 -17.4,79.3 -11.5,82.7" fill="#7b7b7b"/><polygon points="-22.8,113.2 -28.7,116.6 -34.6,113.2 -34.6,106.4 -28.7,103 -22.8,106.4" fill="#3a3a3a"/><polygon points="-28.4,124.5 -34.3,127.9 -40.2,124.5 -40.2,117.7 -34.3,114.3 -28.4,117.7" fill="#7b7b7b"/><polygon points="-21.6,134.7 -27.5,138.1 -33.4,134.7 -33.4,127.9 -27.5,124.5 -21.6,127.9" fill="#3a3a3a"/><polygon points="78.8,91.6 72.9,95 67,91.6 67,84.8 72.9,81.4 78.8,84.8" fill="#3a3a3a"/><polygon points="86.7,101.8 80.8,105.2 74.9,101.8 74.9,95 80.8,91.6 86.7,95" fill="#7b7b7b"/><polygon points="100.3,99.5 94.4,102.9 88.5,99.5 88.5,92.7 94.4,89.3 100.3,92.7" fill="#3a3a3a"/><polygon points="28,118.7 22.1,122.1 16.2,118.7 16.2,111.9 22.1,108.5 28,111.9" fill="#3a3a3a"/><polygon points="30.3,131.1 24.4,134.5 18.5,131.1 18.5,124.3 24.4,120.9 30.3,124.3" fill="#7b7b7b"/><polygon points="42.7,135.7 36.8,139.1 30.9,135.7 30.9,128.9 36.8,125.5 42.7,128.9" fill="#3a3a3a"/><polygon points="120.6,22.7 114.7,26.1 108.8,22.7 108.8,15.9 114.7,12.5 120.6,15.9" fill="#3a3a3a"/><polygon points="131.9,30.6 126,34 120.1,30.6 120.1,23.8 126,20.4 131.9,23.8" fill="#7b7b7b"/><polygon points="143.2,23.9 137.3,27.3 131.4,23.9 131.4,17.1 137.3,13.7 143.2,17.1" fill="#3a3a3a"/><circle cx="-167.8" cy="-8.8" r="7" fill="url(#gG)"/><circle cx="-166" cy="-25.7" r="7" fill="url(#gY)"/><circle cx="-162.4" cy="-43.2" r="7" fill="url(#gY)"/><circle cx="-157.3" cy="-59.1" r="7" fill="url(#gY)"/><circle cx="-151" cy="-73.6" r="7" fill="url(#gY)"/><circle cx="-143.1" cy="-88" r="7" fill="url(#gL)"/><circle cx="-134.3" cy="-100.9" r="7" fill="url(#gY)"/><circle cx="-123.1" cy="-114.4" r="7" fill="url(#gG)"/><circle cx="-111.1" cy="-126" r="7" fill="url(#gY)"/><circle cx="-97.8" cy="-136.6" r="7" fill="url(#gY)"/><circle cx="-84.3" cy="-145.3" r="7" fill="url(#gY)"/><circle cx="-69.1" cy="-153.1" r="7" fill="url(#gY)"/><circle cx="-53.3" cy="-159.3" r="7" fill="url(#gL)"/><circle cx="-38.4" cy="-163.6" r="7" fill="url(#gY)"/><circle cx="-21.3" cy="-166.6" r="7" fill="url(#gY)"/><circle cx="-4.1" cy="-167.9" r="7" fill="url(#gG)"/><circle cx="11.4" cy="-167.6" r="7" fill="url(#gY)"/><circle cx="30" cy="-165.3" r="7" fill="url(#gY)"/><circle cx="46.6" cy="-161.4" r="7" fill="url(#gY)"/><circle cx="61" cy="-156.5" r="7" fill="url(#gL)"/><circle cx="76.5" cy="-149.6" r="7" fill="url(#gY)"/><circle cx="91.5" cy="-140.9" r="7" fill="url(#gY)"/><circle cx="104.8" cy="-131.3" r="7" fill="url(#gY)"/><circle cx="117.1" cy="-120.4" r="7" fill="url(#gG)"/><circle cx="128.9" cy="-107.8" r="7" fill="url(#gY)"/><circle cx="138.8" cy="-94.7" r="7" fill="url(#gL)"/><circle cx="149.4" cy="-76.8" r="7" fill="url(#gY)"/><circle cx="154.5" cy="-65.9" r="7" fill="url(#gY)"/><circle cx="160.3" cy="-50.2" r="7" fill="url(#gY)"/><circle cx="164.7" cy="-33.2" r="7" fill="url(#gY)"/><circle cx="167.1" cy="-17.3" r="7" fill="url(#gG)"/><circle cx="168" cy="0.6" r="7" fill="url(#gL)"/><circle cx="167.2" cy="16.4" r="7" fill="url(#gY)"/><circle cx="164.7" cy="33.2" r="7" fill="url(#gY)"/><circle cx="160.6" cy="49.4" r="7" fill="url(#gY)"/><circle cx="155.2" cy="64.3" r="7" fill="url(#gG)"/><circle cx="148.5" cy="78.6" r="7" fill="url(#gY)"/><circle cx="138.9" cy="94.4" r="7" fill="url(#gL)"/><circle cx="129.1" cy="107.5" r="7" fill="url(#gY)"/><circle cx="118" cy="119.6" r="7" fill="url(#gY)"/><circle cx="104.6" cy="131.5" r="7" fill="url(#gY)"/><circle cx="92" cy="140.6" r="7" fill="url(#gG)"/><circle cx="76.5" cy="149.6" r="7" fill="url(#gY)"/><circle cx="61" cy="156.5" r="7" fill="url(#gL)"/><circle cx="44.9" cy="161.9" r="7" fill="url(#gY)"/><circle cx="28" cy="165.6" r="7" fill="url(#gY)"/><circle cx="12" cy="167.6" r="7" fill="url(#gY)"/><circle cx="-3.8" cy="168" r="7" fill="url(#gG)"/><circle cx="-20.5" cy="166.7" r="7" fill="url(#gY)"/><circle cx="-37.2" cy="163.8" r="7" fill="url(#gY)"/><circle cx="-53.9" cy="159.1" r="7" fill="url(#gL)"/><circle cx="-68.9" cy="153.2" r="7" fill="url(#gY)"/><circle cx="-83.7" cy="145.6" r="7" fill="url(#gG)"/><circle cx="-99" cy="135.7" r="7" fill="url(#gY)"/><circle cx="-111.8" cy="125.4" r="7" fill="url(#gY)"/><circle cx="-123.9" cy="113.5" r="7" fill="url(#gY)"/><circle cx="-133.8" cy="101.6" r="7" fill="url(#gL)"/><circle cx="-143.5" cy="87.3" r="7" fill="url(#gY)"/><circle cx="-152.3" cy="71" r="7" fill="url(#gG)"/><circle cx="-157.7" cy="58" r="7" fill="url(#gY)"/><circle cx="-162.9" cy="40.9" r="7" fill="url(#gY)"/><circle cx="-166.2" cy="24.3" r="7" fill="url(#gY)"/><circle cx="-167.8" cy="7.3" r="7" fill="url(#gL)"/><circle cx="35.7" cy="-69.5" r="6.9" fill="url(#gR)"/><circle cx="51.5" cy="-69.5" r="6.9" fill="url(#gG)"/><circle cx="63.9" cy="-61.6" r="6.9" fill="url(#gR)"/><circle cx="75.2" cy="-50.8" r="6.9" fill="url(#gR)"/><circle cx="85.4" cy="-39.5" r="6.9" fill="url(#gR)"/><circle cx="92.1" cy="-25.9" r="6.9" fill="url(#gR)"/><circle cx="94.4" cy="-13.1" r="6.9" fill="url(#gR)"/><circle cx="96.2" cy="3.9" r="6.9" fill="url(#gR)"/><circle cx="94.4" cy="20.5" r="6.9" fill="url(#gR)"/><circle cx="92.1" cy="36.3" r="6.9" fill="url(#gR)"/><circle cx="85.4" cy="50.9" r="6.9" fill="url(#gG)"/><circle cx="74.1" cy="61.8" r="6.9" fill="url(#gR)"/><circle cx="60.5" cy="69.5" r="6.9" fill="url(#gR)"/><circle cx="44.7" cy="72.4" r="6.9" fill="url(#gR)"/><circle cx="28.9" cy="69" r="6.9" fill="url(#gR)"/><circle cx="14.2" cy="61.8" r="6.9" fill="url(#gR)"/><circle cx="5.2" cy="49.8" r="6.9" fill="url(#gG)"/><circle cx="-2.7" cy="35.3" r="6.9" fill="url(#gR)"/><circle cx="-8.3" cy="20.6" r="6.9" fill="url(#gR)"/><circle cx="-9.5" cy="4.8" r="6.9" fill="url(#gR)"/><circle cx="-9.5" cy="-11.1" r="6.9" fill="url(#gR)"/><circle cx="-6.1" cy="-26.6" r="6.9" fill="url(#gG)"/><circle cx="-0.5" cy="-40.2" r="6.9" fill="url(#gR)"/><circle cx="8.6" cy="-52.6" r="6.9" fill="url(#gR)"/><circle cx="22.1" cy="-62.1" r="6.9" fill="url(#gR)"/><circle cx="-69.3" cy="-4.2" r="6.9" fill="url(#gR)"/><circle cx="-54.6" cy="-0.9" r="6.9" fill="url(#gR)"/><circle cx="-44.5" cy="10.5" r="6.9" fill="url(#gR)"/><circle cx="-41.1" cy="26.3" r="6.9" fill="url(#gR)"/><circle cx="-42.2" cy="42.1" r="6.9" fill="url(#gR)"/><circle cx="-52.4" cy="53.4" r="6.9" fill="url(#gG)"/><circle cx="-67" cy="57.9" r="6.9" fill="url(#gR)"/><circle cx="-81.7" cy="53.4" r="6.9" fill="url(#gR)"/><circle cx="-91.9" cy="40.9" r="6.9" fill="url(#gR)"/><circle cx="-97.6" cy="26.3" r="6.9" fill="url(#gR)"/><circle cx="-94.2" cy="10.5" r="6.9" fill="url(#gG)"/><circle cx="-85.1" cy="-0.9" r="6.9" fill="url(#gR)"/><circle cx="-34.3" cy="-101.2" r="6.9" fill="url(#gR)"/><circle cx="-19" cy="-105.7" r="6.9" fill="url(#gR)"/><circle cx="-73.8" cy="-69.5" r="6.9" fill="url(#gR)"/><circle cx="-55.8" cy="-71.1" r="6.9" fill="url(#gR)"/><circle cx="-47.4" cy="-61.6" r="6.9" fill="url(#gR)"/><circle cx="-71.6" cy="-53" r="6.9" fill="url(#gR)"/><circle cx="-122.4" cy="-21" r="6.9" fill="url(#gR)"/><circle cx="27.8" cy="-115.2" r="6.9" fill="url(#gR)"/><circle cx="-42.2" cy="94" r="6.9" fill="url(#gR)"/><circle cx="-2.7" cy="121.1" r="6.9" fill="url(#gR)"/><circle cx="-113.4" cy="-61.6" r="6.9" fill="url(#gG)"/><circle cx="-23" cy="-91" r="6.9" fill="url(#gG)"/><circle cx="-56.9" cy="-50.3" r="6.9" fill="url(#gG)"/><circle cx="13.1" cy="-109.1" r="6.9" fill="url(#gG)"/><circle cx="-59.2" cy="71.5" r="6.9" fill="url(#gG)"/><circle cx="52.6" cy="86" r="6.9" fill="url(#gG)"/><path d="M-147.1 -91.1 C-148.2 -90.8 -151.8 -89.9 -153.7 -89.5 C-155.5 -89.1 -156.9 -88.4 -158 -88.8 C-159.1 -89.3 -160.5 -90.9 -160.4 -92.2 C-160.2 -93.6 -158.1 -95.5 -157 -97 C-155.9 -98.5 -154.1 -100.2 -153.7 -101.3 C-153.3 -102.4 -153.7 -103.3 -154.5 -103.5 C-155.4 -103.7 -157.1 -103.4 -158.6 -102.5 C-160.2 -101.7 -162.8 -99.8 -164.1 -98.5 C-165.4 -97.1 -166.1 -95.7 -166.6 -94.4 C-167.1 -93.1 -166.3 -90.9 -166.9 -90.7 C-167.6 -90.5 -169.8 -91.9 -170.4 -93.1 C-171.1 -94.4 -171.3 -96.6 -170.8 -98.3 C-170.3 -100 -168.9 -101.9 -167.7 -103.3 C-166.4 -104.8 -164.6 -106.1 -163.3 -106.9 C-162.1 -107.8 -160.4 -107.9 -160.2 -108.5 C-160.1 -109.2 -161 -110.4 -162.2 -110.9 C-163.3 -111.4 -165.4 -112 -167.2 -111.6 C-169 -111.2 -171.5 -109.8 -172.8 -108.3 C-174.2 -106.9 -175.1 -104.6 -175.5 -102.7 C-175.8 -100.8 -175.3 -98.5 -174.9 -96.8 C-174.6 -95 -173.5 -93.1 -173.2 -92.3" stroke="#7a84cc" stroke-width="2.1" fill="none" stroke-linecap="round" stroke-linejoin="round"/><path d="M-147.1 -91.1 C-148.2 -90.8 -151.8 -89.9 -153.7 -89.5 C-155.5 -89.1 -156.9 -88.4 -158 -88.8 C-159.1 -89.3 -160.5 -90.9 -160.4 -92.2 C-160.2 -93.6 -158.1 -95.5 -157 -97 C-155.9 -98.5 -154.1 -100.2 -153.7 -101.3 C-153.3 -102.4 -153.7 -103.3 -154.5 -103.5 C-155.4 -103.7 -157.1 -103.4 -158.6 -102.5 C-160.2 -101.7 -162.8 -99.8 -164.1 -98.5 C-165.4 -97.1 -166.1 -95.7 -166.6 -94.4 C-167.1 -93.1 -166.3 -90.9 -166.9 -90.7 C-167.6 -90.5 -169.8 -91.9 -170.4 -93.1 C-171.1 -94.4 -171.3 -96.6 -170.8 -98.3 C-170.3 -100 -168.9 -101.9 -167.7 -103.3 C-166.4 -104.8 -164.6 -106.1 -163.3 -106.9 C-162.1 -107.8 -160.4 -107.9 -160.2 -108.5 C-160.1 -109.2 -161 -110.4 -162.2 -110.9 C-163.3 -111.4 -165.4 -112 -167.2 -111.6 C-169 -111.2 -171.5 -109.8 -172.8 -108.3 C-174.2 -106.9 -175.1 -104.6 -175.5 -102.7 C-175.8 -100.8 -175.3 -98.5 -174.9 -96.8 C-174.6 -95 -173.5 -93.1 -173.2 -92.3" stroke="#b4bcee" stroke-width="0.7" fill="none" stroke-linecap="round" stroke-linejoin="round"/><path d="M-54.4 -164.2 C-55.4 -164.7 -58.8 -166.3 -60.5 -167.2 C-62.1 -168.1 -63.7 -168.4 -64.2 -169.5 C-64.8 -170.6 -64.9 -172.7 -63.9 -173.6 C-62.8 -174.6 -60 -174.7 -58.2 -175.1 C-56.4 -175.6 -53.9 -175.7 -52.9 -176.3 C-51.9 -176.8 -51.7 -177.8 -52.2 -178.5 C-52.7 -179.2 -54.2 -180 -55.9 -180.4 C-57.7 -180.8 -60.8 -181 -62.7 -180.8 C-64.6 -180.6 -66.1 -180 -67.2 -179.3 C-68.4 -178.6 -69.3 -176.4 -69.9 -176.6 C-70.5 -176.9 -71.3 -179.4 -71 -180.8 C-70.7 -182.2 -69.4 -183.9 -68 -184.9 C-66.6 -185.9 -64.2 -186.5 -62.3 -186.8 C-60.5 -187.1 -58.2 -186.9 -56.7 -186.8 C-55.2 -186.7 -53.9 -185.7 -53.3 -186.1 C-52.7 -186.4 -52.7 -187.9 -53.3 -189.1 C-53.9 -190.2 -55.1 -192 -56.7 -192.8 C-58.3 -193.7 -61.1 -194.2 -63.1 -194 C-65.1 -193.7 -67.2 -192.6 -68.7 -191.3 C-70.3 -190.1 -71.3 -188 -72.1 -186.4 C-73 -184.9 -73.4 -182.7 -73.6 -181.9" stroke="#7a84cc" stroke-width="2.1" fill="none" stroke-linecap="round" stroke-linejoin="round"/><path d="M-54.4 -164.2 C-55.4 -164.7 -58.8 -166.3 -60.5 -167.2 C-62.1 -168.1 -63.7 -168.4 -64.2 -169.5 C-64.8 -170.6 -64.9 -172.7 -63.9 -173.6 C-62.8 -174.6 -60 -174.7 -58.2 -175.1 C-56.4 -175.6 -53.9 -175.7 -52.9 -176.3 C-51.9 -176.8 -51.7 -177.8 -52.2 -178.5 C-52.7 -179.2 -54.2 -180 -55.9 -180.4 C-57.7 -180.8 -60.8 -181 -62.7 -180.8 C-64.6 -180.6 -66.1 -180 -67.2 -179.3 C-68.4 -178.6 -69.3 -176.4 -69.9 -176.6 C-70.5 -176.9 -71.3 -179.4 -71 -180.8 C-70.7 -182.2 -69.4 -183.9 -68 -184.9 C-66.6 -185.9 -64.2 -186.5 -62.3 -186.8 C-60.5 -187.1 -58.2 -186.9 -56.7 -186.8 C-55.2 -186.7 -53.9 -185.7 -53.3 -186.1 C-52.7 -186.4 -52.7 -187.9 -53.3 -189.1 C-53.9 -190.2 -55.1 -192 -56.7 -192.8 C-58.3 -193.7 -61.1 -194.2 -63.1 -194 C-65.1 -193.7 -67.2 -192.6 -68.7 -191.3 C-70.3 -190.1 -71.3 -188 -72.1 -186.4 C-73 -184.9 -73.4 -182.7 -73.6 -181.9" stroke="#b4bcee" stroke-width="0.7" fill="none" stroke-linecap="round" stroke-linejoin="round"/><path d="M63.3 -161 C62.8 -162 61.3 -165.5 60.6 -167.2 C59.9 -168.9 58.9 -170.1 59.1 -171.3 C59.4 -172.5 60.7 -174.2 62.1 -174.3 C63.5 -174.4 65.7 -172.6 67.4 -171.8 C69.1 -171 71 -169.5 72.2 -169.3 C73.3 -169.1 74.1 -169.7 74.2 -170.6 C74.2 -171.4 73.6 -173 72.5 -174.4 C71.4 -175.8 69.1 -178 67.5 -179 C66 -180.1 64.5 -180.5 63.1 -180.8 C61.7 -181 59.7 -179.8 59.4 -180.4 C59.1 -181 60 -183.5 61.2 -184.3 C62.3 -185.2 64.4 -185.8 66.1 -185.6 C67.9 -185.5 70 -184.4 71.7 -183.4 C73.3 -182.5 74.9 -180.9 76 -179.8 C77.1 -178.8 77.5 -177.1 78.1 -177.1 C78.8 -177 79.8 -178.2 80.1 -179.4 C80.4 -180.6 80.6 -182.8 79.9 -184.4 C79.1 -186.1 77.4 -188.3 75.7 -189.4 C74 -190.5 71.6 -191 69.7 -191 C67.7 -191 65.5 -190.1 63.9 -189.4 C62.3 -188.7 60.5 -187.3 59.9 -186.9" stroke="#7a84cc" stroke-width="2.1" fill="none" stroke-linecap="round" stroke-linejoin="round"/><path d="M63.3 -161 C62.8 -162 61.3 -165.5 60.6 -167.2 C59.9 -168.9 58.9 -170.1 59.1 -171.3 C59.4 -172.5 60.7 -174.2 62.1 -174.3 C63.5 -174.4 65.7 -172.6 67.4 -171.8 C69.1 -171 71 -169.5 72.2 -169.3 C73.3 -169.1 74.1 -169.7 74.2 -170.6 C74.2 -171.4 73.6 -173 72.5 -174.4 C71.4 -175.8 69.1 -178 67.5 -179 C66 -180.1 64.5 -180.5 63.1 -180.8 C61.7 -181 59.7 -179.8 59.4 -180.4 C59.1 -181 60 -183.5 61.2 -184.3 C62.3 -185.2 64.4 -185.8 66.1 -185.6 C67.9 -185.5 70 -184.4 71.7 -183.4 C73.3 -182.5 74.9 -180.9 76 -179.8 C77.1 -178.8 77.5 -177.1 78.1 -177.1 C78.8 -177 79.8 -178.2 80.1 -179.4 C80.4 -180.6 80.6 -182.8 79.9 -184.4 C79.1 -186.1 77.4 -188.3 75.7 -189.4 C74 -190.5 71.6 -191 69.7 -191 C67.7 -191 65.5 -190.1 63.9 -189.4 C62.3 -188.7 60.5 -187.3 59.9 -186.9" stroke="#b4bcee" stroke-width="0.7" fill="none" stroke-linecap="round" stroke-linejoin="round"/><path d="M143.2 -97.1 C143.4 -98.2 144 -101.9 144.4 -103.7 C144.8 -105.5 144.7 -107.1 145.6 -108 C146.5 -108.8 148.5 -109.4 149.7 -108.7 C150.9 -108 151.8 -105.3 152.7 -103.7 C153.6 -102.1 154.4 -99.7 155.2 -98.9 C156 -98.1 157 -98.1 157.6 -98.8 C158.1 -99.5 158.5 -101.2 158.4 -103 C158.2 -104.7 157.6 -107.8 156.9 -109.6 C156.2 -111.3 155.2 -112.6 154.2 -113.5 C153.2 -114.5 150.9 -114.7 150.9 -115.3 C151 -116 153.2 -117.5 154.6 -117.6 C156 -117.6 158.1 -116.9 159.4 -115.8 C160.8 -114.7 162 -112.6 162.8 -110.9 C163.6 -109.1 164 -106.9 164.3 -105.4 C164.6 -103.9 164 -102.4 164.5 -102 C165 -101.5 166.5 -101.9 167.4 -102.8 C168.3 -103.6 169.8 -105.3 170.1 -107.1 C170.5 -108.9 170.2 -111.7 169.5 -113.5 C168.7 -115.4 167 -117.1 165.4 -118.2 C163.8 -119.4 161.5 -119.8 159.8 -120.2 C158 -120.5 155.8 -120.4 155 -120.4" stroke="#7a84cc" stroke-width="2.1" fill="none" stroke-linecap="round" stroke-linejoin="round"/><path d="M143.2 -97.1 C143.4 -98.2 144 -101.9 144.4 -103.7 C144.8 -105.5 144.7 -107.1 145.6 -108 C146.5 -108.8 148.5 -109.4 149.7 -108.7 C150.9 -108 151.8 -105.3 152.7 -103.7 C153.6 -102.1 154.4 -99.7 155.2 -98.9 C156 -98.1 157 -98.1 157.6 -98.8 C158.1 -99.5 158.5 -101.2 158.4 -103 C158.2 -104.7 157.6 -107.8 156.9 -109.6 C156.2 -111.3 155.2 -112.6 154.2 -113.5 C153.2 -114.5 150.9 -114.7 150.9 -115.3 C151 -116 153.2 -117.5 154.6 -117.6 C156 -117.6 158.1 -116.9 159.4 -115.8 C160.8 -114.7 162 -112.6 162.8 -110.9 C163.6 -109.1 164 -106.9 164.3 -105.4 C164.6 -103.9 164 -102.4 164.5 -102 C165 -101.5 166.5 -101.9 167.4 -102.8 C168.3 -103.6 169.8 -105.3 170.1 -107.1 C170.5 -108.9 170.2 -111.7 169.5 -113.5 C168.7 -115.4 167 -117.1 165.4 -118.2 C163.8 -119.4 161.5 -119.8 159.8 -120.2 C158 -120.5 155.8 -120.4 155 -120.4" stroke="#b4bcee" stroke-width="0.7" fill="none" stroke-linecap="round" stroke-linejoin="round"/><path d="M173 1.1 C173.8 0.3 176.4 -2.4 177.8 -3.7 C179.1 -4.9 179.9 -6.3 181.1 -6.5 C182.3 -6.7 184.4 -6.1 184.9 -4.8 C185.5 -3.6 184.7 -0.8 184.6 1 C184.4 2.9 183.7 5.2 183.9 6.4 C184.1 7.5 185 8.1 185.8 7.8 C186.6 7.6 187.9 6.4 188.8 4.9 C189.7 3.3 190.9 0.4 191.4 -1.4 C191.8 -3.3 191.6 -4.9 191.4 -6.2 C191.1 -7.6 189.3 -9 189.7 -9.6 C190.2 -10.1 192.8 -10 194 -9.3 C195.2 -8.6 196.5 -6.8 197 -5.1 C197.5 -3.4 197.2 -1 196.9 0.8 C196.6 2.7 195.7 4.8 195.1 6.2 C194.5 7.6 193.2 8.5 193.3 9.2 C193.5 9.8 194.9 10.3 196.2 10.1 C197.4 10 199.5 9.4 200.8 8.1 C202.1 6.8 203.6 4.4 204 2.4 C204.4 0.4 204 -1.9 203.3 -3.8 C202.6 -5.6 200.9 -7.3 199.7 -8.6 C198.5 -9.8 196.6 -11 195.9 -11.4" stroke="#7a84cc" stroke-width="2.1" fill="none" stroke-linecap="round" stroke-linejoin="round"/><path d="M173 1.1 C173.8 0.3 176.4 -2.4 177.8 -3.7 C179.1 -4.9 179.9 -6.3 181.1 -6.5 C182.3 -6.7 184.4 -6.1 184.9 -4.8 C185.5 -3.6 184.7 -0.8 184.6 1 C184.4 2.9 183.7 5.2 183.9 6.4 C184.1 7.5 185 8.1 185.8 7.8 C186.6 7.6 187.9 6.4 188.8 4.9 C189.7 3.3 190.9 0.4 191.4 -1.4 C191.8 -3.3 191.6 -4.9 191.4 -6.2 C191.1 -7.6 189.3 -9 189.7 -9.6 C190.2 -10.1 192.8 -10 194 -9.3 C195.2 -8.6 196.5 -6.8 197 -5.1 C197.5 -3.4 197.2 -1 196.9 0.8 C196.6 2.7 195.7 4.8 195.1 6.2 C194.5 7.6 193.2 8.5 193.3 9.2 C193.5 9.8 194.9 10.3 196.2 10.1 C197.4 10 199.5 9.4 200.8 8.1 C202.1 6.8 203.6 4.4 204 2.4 C204.4 0.4 204 -1.9 203.3 -3.8 C202.6 -5.6 200.9 -7.3 199.7 -8.6 C198.5 -9.8 196.6 -11 195.9 -11.4" stroke="#b4bcee" stroke-width="0.7" fill="none" stroke-linecap="round" stroke-linejoin="round"/><path d="M142.8 97.6 C143.9 97.4 147.6 96.7 149.4 96.4 C151.3 96.1 152.7 95.4 153.8 95.9 C154.9 96.4 156.2 98.1 156 99.4 C155.8 100.8 153.6 102.6 152.4 104 C151.2 105.5 149.4 107.1 148.9 108.1 C148.5 109.2 148.9 110.2 149.7 110.4 C150.5 110.6 152.2 110.4 153.8 109.6 C155.5 108.8 158.1 107.1 159.4 105.8 C160.8 104.5 161.6 103.1 162.1 101.9 C162.7 100.6 162 98.4 162.6 98.2 C163.3 98 165.5 99.5 166 100.8 C166.6 102.1 166.7 104.2 166.2 105.9 C165.6 107.6 164.1 109.4 162.8 110.8 C161.5 112.2 159.6 113.4 158.3 114.2 C157 115.1 155.4 115.1 155.2 115.7 C154.9 116.3 155.8 117.5 157 118.1 C158.1 118.7 160.2 119.4 162 119 C163.8 118.7 166.3 117.5 167.7 116.1 C169.2 114.6 170.2 112.5 170.6 110.5 C171.1 108.6 170.7 106.3 170.4 104.6 C170.1 102.8 169.1 100.8 168.8 100.1" stroke="#7a84cc" stroke-width="2.1" fill="none" stroke-linecap="round" stroke-linejoin="round"/><path d="M142.8 97.6 C143.9 97.4 147.6 96.7 149.4 96.4 C151.3 96.1 152.7 95.4 153.8 95.9 C154.9 96.4 156.2 98.1 156 99.4 C155.8 100.8 153.6 102.6 152.4 104 C151.2 105.5 149.4 107.1 148.9 108.1 C148.5 109.2 148.9 110.2 149.7 110.4 C150.5 110.6 152.2 110.4 153.8 109.6 C155.5 108.8 158.1 107.1 159.4 105.8 C160.8 104.5 161.6 103.1 162.1 101.9 C162.7 100.6 162 98.4 162.6 98.2 C163.3 98 165.5 99.5 166 100.8 C166.6 102.1 166.7 104.2 166.2 105.9 C165.6 107.6 164.1 109.4 162.8 110.8 C161.5 112.2 159.6 113.4 158.3 114.2 C157 115.1 155.4 115.1 155.2 115.7 C154.9 116.3 155.8 117.5 157 118.1 C158.1 118.7 160.2 119.4 162 119 C163.8 118.7 166.3 117.5 167.7 116.1 C169.2 114.6 170.2 112.5 170.6 110.5 C171.1 108.6 170.7 106.3 170.4 104.6 C170.1 102.8 169.1 100.8 168.8 100.1" stroke="#b4bcee" stroke-width="0.7" fill="none" stroke-linecap="round" stroke-linejoin="round"/><path d="M62.4 161.4 C63.4 161.8 66.9 163.3 68.6 164.1 C70.2 164.9 71.8 165.1 72.4 166.1 C73 167.2 73.2 169.3 72.3 170.3 C71.3 171.3 68.5 171.6 66.7 172.1 C64.9 172.6 62.5 172.9 61.5 173.5 C60.5 174.1 60.3 175.1 60.8 175.8 C61.4 176.4 62.9 177.2 64.7 177.5 C66.5 177.8 69.6 177.8 71.5 177.5 C73.4 177.2 74.8 176.5 75.9 175.8 C77.1 175 77.8 172.8 78.4 173 C79.1 173.2 80 175.7 79.8 177.1 C79.5 178.5 78.3 180.3 76.9 181.4 C75.6 182.5 73.3 183.1 71.4 183.5 C69.5 184 67.3 183.9 65.8 183.8 C64.2 183.8 62.9 182.8 62.3 183.2 C61.8 183.6 61.9 185.1 62.5 186.2 C63.1 187.3 64.4 189.1 66 189.8 C67.7 190.6 70.5 191 72.5 190.7 C74.5 190.3 76.6 189.1 78 187.7 C79.5 186.4 80.4 184.3 81.2 182.7 C81.9 181.1 82.2 178.9 82.4 178.1" stroke="#7a84cc" stroke-width="2.1" fill="none" stroke-linecap="round" stroke-linejoin="round"/><path d="M62.4 161.4 C63.4 161.8 66.9 163.3 68.6 164.1 C70.2 164.9 71.8 165.1 72.4 166.1 C73 167.2 73.2 169.3 72.3 170.3 C71.3 171.3 68.5 171.6 66.7 172.1 C64.9 172.6 62.5 172.9 61.5 173.5 C60.5 174.1 60.3 175.1 60.8 175.8 C61.4 176.4 62.9 177.2 64.7 177.5 C66.5 177.8 69.6 177.8 71.5 177.5 C73.4 177.2 74.8 176.5 75.9 175.8 C77.1 175 77.8 172.8 78.4 173 C79.1 173.2 80 175.7 79.8 177.1 C79.5 178.5 78.3 180.3 76.9 181.4 C75.6 182.5 73.3 183.1 71.4 183.5 C69.5 184 67.3 183.9 65.8 183.8 C64.2 183.8 62.9 182.8 62.3 183.2 C61.8 183.6 61.9 185.1 62.5 186.2 C63.1 187.3 64.4 189.1 66 189.8 C67.7 190.6 70.5 191 72.5 190.7 C74.5 190.3 76.6 189.1 78 187.7 C79.5 186.4 80.4 184.3 81.2 182.7 C81.9 181.1 82.2 178.9 82.4 178.1" stroke="#b4bcee" stroke-width="0.7" fill="none" stroke-linecap="round" stroke-linejoin="round"/><path d="M-55.9 163.7 C-55.4 164.7 -53.7 168.1 -52.9 169.8 C-52.2 171.4 -51.1 172.6 -51.3 173.8 C-51.5 175 -52.7 176.8 -54.1 176.9 C-55.5 177.1 -57.8 175.4 -59.5 174.7 C-61.2 173.9 -63.3 172.6 -64.4 172.4 C-65.6 172.2 -66.4 172.9 -66.4 173.7 C-66.4 174.6 -65.7 176.2 -64.5 177.5 C-63.3 178.9 -61 180.9 -59.3 181.9 C-57.7 182.9 -56.2 183.3 -54.8 183.5 C-53.5 183.6 -51.5 182.4 -51.1 183 C-50.8 183.5 -51.7 186 -52.7 186.9 C-53.8 187.8 -55.9 188.5 -57.6 188.4 C-59.4 188.3 -61.6 187.4 -63.3 186.5 C-65 185.6 -66.7 184.1 -67.8 183.1 C-68.9 182.1 -69.4 180.5 -70 180.4 C-70.7 180.4 -71.6 181.6 -71.9 182.8 C-72.1 184.1 -72.2 186.2 -71.4 187.9 C-70.6 189.5 -68.8 191.6 -67 192.7 C-65.3 193.7 -62.9 194.1 -60.9 194 C-59 193.9 -56.9 192.9 -55.3 192.1 C-53.7 191.4 -52 189.9 -51.3 189.4" stroke="#7a84cc" stroke-width="2.1" fill="none" stroke-linecap="round" stroke-linejoin="round"/><path d="M-55.9 163.7 C-55.4 164.7 -53.7 168.1 -52.9 169.8 C-52.2 171.4 -51.1 172.6 -51.3 173.8 C-51.5 175 -52.7 176.8 -54.1 176.9 C-55.5 177.1 -57.8 175.4 -59.5 174.7 C-61.2 173.9 -63.3 172.6 -64.4 172.4 C-65.6 172.2 -66.4 172.9 -66.4 173.7 C-66.4 174.6 -65.7 176.2 -64.5 177.5 C-63.3 178.9 -61 180.9 -59.3 181.9 C-57.7 182.9 -56.2 183.3 -54.8 183.5 C-53.5 183.6 -51.5 182.4 -51.1 183 C-50.8 183.5 -51.7 186 -52.7 186.9 C-53.8 187.8 -55.9 188.5 -57.6 188.4 C-59.4 188.3 -61.6 187.4 -63.3 186.5 C-65 185.6 -66.7 184.1 -67.8 183.1 C-68.9 182.1 -69.4 180.5 -70 180.4 C-70.7 180.4 -71.6 181.6 -71.9 182.8 C-72.1 184.1 -72.2 186.2 -71.4 187.9 C-70.6 189.5 -68.8 191.6 -67 192.7 C-65.3 193.7 -62.9 194.1 -60.9 194 C-59 193.9 -56.9 192.9 -55.3 192.1 C-53.7 191.4 -52 189.9 -51.3 189.4" stroke="#b4bcee" stroke-width="0.7" fill="none" stroke-linecap="round" stroke-linejoin="round"/><path d="M-138.1 104.2 C-138.2 105.3 -138.7 109.1 -139 110.9 C-139.3 112.7 -139.1 114.3 -139.9 115.2 C-140.8 116.1 -142.8 116.8 -144 116.2 C-145.2 115.5 -146.2 112.9 -147.2 111.3 C-148.2 109.7 -149.1 107.4 -150 106.7 C-150.8 105.9 -151.9 106 -152.4 106.7 C-152.9 107.4 -153.2 109 -153 110.8 C-152.7 112.6 -151.9 115.7 -151.1 117.4 C-150.4 119.1 -149.3 120.3 -148.3 121.2 C-147.2 122.1 -144.9 122.2 -144.9 122.8 C-145 123.5 -147.1 125.1 -148.5 125.2 C-149.9 125.4 -152 124.7 -153.4 123.7 C-154.8 122.7 -156.1 120.6 -157 119 C-157.9 117.3 -158.4 115.1 -158.8 113.6 C-159.1 112.1 -158.6 110.6 -159.1 110.1 C-159.7 109.7 -161.1 110.2 -162 111.1 C-162.9 112 -164.2 113.7 -164.5 115.5 C-164.7 117.3 -164.4 120.1 -163.5 122 C-162.6 123.8 -160.9 125.4 -159.2 126.5 C-157.5 127.5 -155.2 127.8 -153.5 128.1 C-151.7 128.4 -149.5 128.1 -148.7 128.1" stroke="#7a84cc" stroke-width="2.1" fill="none" stroke-linecap="round" stroke-linejoin="round"/><path d="M-138.1 104.2 C-138.2 105.3 -138.7 109.1 -139 110.9 C-139.3 112.7 -139.1 114.3 -139.9 115.2 C-140.8 116.1 -142.8 116.8 -144 116.2 C-145.2 115.5 -146.2 112.9 -147.2 111.3 C-148.2 109.7 -149.1 107.4 -150 106.7 C-150.8 105.9 -151.9 106 -152.4 106.7 C-152.9 107.4 -153.2 109 -153 110.8 C-152.7 112.6 -151.9 115.7 -151.1 117.4 C-150.4 119.1 -149.3 120.3 -148.3 121.2 C-147.2 122.1 -144.9 122.2 -144.9 122.8 C-145 123.5 -147.1 125.1 -148.5 125.2 C-149.9 125.4 -152 124.7 -153.4 123.7 C-154.8 122.7 -156.1 120.6 -157 119 C-157.9 117.3 -158.4 115.1 -158.8 113.6 C-159.1 112.1 -158.6 110.6 -159.1 110.1 C-159.7 109.7 -161.1 110.2 -162 111.1 C-162.9 112 -164.2 113.7 -164.5 115.5 C-164.7 117.3 -164.4 120.1 -163.5 122 C-162.6 123.8 -160.9 125.4 -159.2 126.5 C-157.5 127.5 -155.2 127.8 -153.5 128.1 C-151.7 128.4 -149.5 128.1 -148.7 128.1" stroke="#b4bcee" stroke-width="0.7" fill="none" stroke-linecap="round" stroke-linejoin="round"/><path d="M-172.9 7.1 C-173.6 7.9 -176.1 10.7 -177.4 12 C-178.7 13.4 -179.4 14.8 -180.6 15 C-181.8 15.3 -183.9 14.7 -184.5 13.5 C-185.1 12.3 -184.5 9.5 -184.4 7.7 C-184.3 5.8 -183.8 3.4 -184 2.3 C-184.3 1.2 -185.2 0.7 -186 0.9 C-186.8 1.2 -188 2.5 -188.8 4 C-189.7 5.6 -190.7 8.6 -191.1 10.5 C-191.4 12.3 -191.2 13.9 -190.9 15.2 C-190.5 16.6 -188.6 17.9 -189.1 18.5 C-189.5 19 -192.1 19.1 -193.4 18.4 C-194.6 17.7 -195.9 16.1 -196.5 14.4 C-197.1 12.7 -197 10.3 -196.8 8.4 C-196.5 6.5 -195.7 4.4 -195.2 3 C-194.7 1.6 -193.3 0.6 -193.5 0 C-193.8 -0.7 -195.2 -1.1 -196.4 -0.9 C-197.7 -0.6 -199.8 0 -201 1.3 C-202.2 2.7 -203.5 5.2 -203.8 7.2 C-204.2 9.2 -203.7 11.6 -202.9 13.3 C-202.1 15.1 -200.4 16.7 -199.1 18 C-197.8 19.2 -195.8 20.2 -195.2 20.7" stroke="#7a84cc" stroke-width="2.1" fill="none" stroke-linecap="round" stroke-linejoin="round"/><path d="M-172.9 7.1 C-173.6 7.9 -176.1 10.7 -177.4 12 C-178.7 13.4 -179.4 14.8 -180.6 15 C-181.8 15.3 -183.9 14.7 -184.5 13.5 C-185.1 12.3 -184.5 9.5 -184.4 7.7 C-184.3 5.8 -183.8 3.4 -184 2.3 C-184.3 1.2 -185.2 0.7 -186 0.9 C-186.8 1.2 -188 2.5 -188.8 4 C-189.7 5.6 -190.7 8.6 -191.1 10.5 C-191.4 12.3 -191.2 13.9 -190.9 15.2 C-190.5 16.6 -188.6 17.9 -189.1 18.5 C-189.5 19 -192.1 19.1 -193.4 18.4 C-194.6 17.7 -195.9 16.1 -196.5 14.4 C-197.1 12.7 -197 10.3 -196.8 8.4 C-196.5 6.5 -195.7 4.4 -195.2 3 C-194.7 1.6 -193.3 0.6 -193.5 0 C-193.8 -0.7 -195.2 -1.1 -196.4 -0.9 C-197.7 -0.6 -199.8 0 -201 1.3 C-202.2 2.7 -203.5 5.2 -203.8 7.2 C-204.2 9.2 -203.7 11.6 -202.9 13.3 C-202.1 15.1 -200.4 16.7 -199.1 18 C-197.8 19.2 -195.8 20.2 -195.2 20.7" stroke="#b4bcee" stroke-width="0.7" fill="none" stroke-linecap="round" stroke-linejoin="round"/><path d="M41.1 -50.5 L39.5 -49 L38.1 -47.5 L36.7 -46.1 L35.4 -44.7 L34.3 -43.4 L33.4 -42.1 L32.7 -40.8 L32.3 -39.5 L32 -38.3 L32.1 -37.1 L32.4 -35.9 L33 -34.6 L33.7 -33.4 L34.7 -32.1 L35.9 -30.8 L37.1 -29.5 L38.5 -28.1 L40 -26.7 L41.4 -25.3 L42.8 -23.8 L44.2 -22.2 L45.4 -20.7 L46.5 -19 L47.4 -17.4 L48.1 -15.7 L48.6 -14 L48.9 -12.2 L48.8 -10.5 L48.6 -8.7 L48.1 -7 L47.4 -5.3 L46.5 -3.6 L45.4 -1.9 L44.2 -0.2 L42.9 1.4 L41.5 2.9 L40.1 4.5 L38.8 5.9 L37.5 7.4 L36.3 8.8 L35.3 10.1 L34.5 11.4 L33.9 12.7 L33.5 14 L33.4 15.2 L33.5 16.4 L33.9 17.6 L34.5 18.9 L35.4 20.1 L36.5 21.3 L37.7 22.6 L39.1 23.9 L40.6 25.3 L42.2 26.7 L43.8 28.1 L45.4 29.6 L47 31.1 L48.4 32.6 L49.7 34.2 L50.8 35.9" stroke="#1a1a1a" stroke-width="1.9" fill="none"/><path d="M40.9 -53.5 L42.4 -52 L43.7 -50.5 L45 -49 L46.2 -47.4 L47.2 -45.8 L48 -44.1 L48.6 -42.4 L48.9 -40.7 L49 -38.9 L48.9 -37.2 L48.5 -35.4 L47.9 -33.7 L47.1 -32 L46 -30.3 L44.8 -28.6 L43.5 -26.9 L42.1 -25.3 L40.6 -23.8 L39.1 -22.2 L37.7 -20.8 L36.3 -19.3 L35.1 -17.9 L34 -16.6 L33.2 -15.3 L32.5 -14 L32.1 -12.8 L31.9 -11.5 L32 -10.3 L32.3 -9.1 L32.9 -7.9 L33.7 -6.6 L34.8 -5.4 L36 -4.1 L37.3 -2.8 L38.8 -1.4 L40.3 0 L41.9 1.4 L43.4 2.9 L44.9 4.4 L46.2 6 L47.4 7.6 L48.5 9.3 L49.3 11 L49.9 12.7 L50.3 14.4 L50.4 16.1 L50.3 17.9 L49.9 19.6 L49.3 21.3 L48.5 23.1 L47.6 24.7 L46.4 26.4 L45.2 28 L43.9 29.6 L42.6 31.1 L41.3 32.6 L40.1 34 L39 35.4 L38 36.8 L37.2 38.1" stroke="#1a1a1a" stroke-width="1.9" fill="none"/><line x1="39.5" y1="-49" x2="42.4" y2="-52" stroke="#1a1a1a" stroke-width="1.1"/><line x1="35.4" y1="-44.7" x2="46.2" y2="-47.4" stroke="#1a1a1a" stroke-width="1.1"/><line x1="32.7" y1="-40.8" x2="48.6" y2="-42.4" stroke="#1a1a1a" stroke-width="1.1"/><line x1="32.1" y1="-37.1" x2="48.9" y2="-37.2" stroke="#1a1a1a" stroke-width="1.1"/><line x1="33.7" y1="-33.4" x2="47.1" y2="-32" stroke="#1a1a1a" stroke-width="1.1"/><line x1="37.1" y1="-29.5" x2="43.5" y2="-26.9" stroke="#1a1a1a" stroke-width="1.1"/><line x1="41.4" y1="-25.3" x2="39.1" y2="-22.2" stroke="#1a1a1a" stroke-width="1.1"/><line x1="45.4" y1="-20.7" x2="35.1" y2="-17.9" stroke="#1a1a1a" stroke-width="1.1"/><line x1="48.1" y1="-15.7" x2="32.5" y2="-14" stroke="#1a1a1a" stroke-width="1.1"/><line x1="48.8" y1="-10.5" x2="32" y2="-10.3" stroke="#1a1a1a" stroke-width="1.1"/><line x1="47.4" y1="-5.3" x2="33.7" y2="-6.6" stroke="#1a1a1a" stroke-width="1.1"/><line x1="44.2" y1="-0.2" x2="37.3" y2="-2.8" stroke="#1a1a1a" stroke-width="1.1"/><line x1="40.1" y1="4.5" x2="41.9" y2="1.4" stroke="#1a1a1a" stroke-width="1.1"/><line x1="36.3" y1="8.8" x2="46.2" y2="6" stroke="#1a1a1a" stroke-width="1.1"/><line x1="33.9" y1="12.7" x2="49.3" y2="11" stroke="#1a1a1a" stroke-width="1.1"/><line x1="33.5" y1="16.4" x2="50.4" y2="16.1" stroke="#1a1a1a" stroke-width="1.1"/><line x1="35.4" y1="20.1" x2="49.3" y2="21.3" stroke="#1a1a1a" stroke-width="1.1"/><line x1="39.1" y1="23.9" x2="46.4" y2="26.4" stroke="#1a1a1a" stroke-width="1.1"/><line x1="43.8" y1="28.1" x2="42.6" y2="31.1" stroke="#1a1a1a" stroke-width="1.1"/><line x1="48.4" y1="32.6" x2="39" y2="35.4" stroke="#1a1a1a" stroke-width="1.1"/><circle cx="43.5" cy="41.5" r="3" fill="#fff" stroke="#444" stroke-width="0.9"/><circle cx="42.8" cy="47.1" r="3" fill="#fff" stroke="#444" stroke-width="0.9"/><circle cx="42.1" cy="52.7" r="3" fill="#fff" stroke="#444" stroke-width="0.9"/><circle cx="41.4" cy="58.3" r="3" fill="#fff" stroke="#444" stroke-width="0.9"/><path d="M-73.6 8.4 L-73.8 9.1 L-74.1 9.8 L-74.4 10.5 L-74.6 11.1 L-74.8 11.6 L-75 12.2 L-75.1 12.6 L-75.1 13.1 L-75.1 13.5 L-75 13.9 L-74.8 14.2 L-74.5 14.6 L-74.2 14.9 L-73.7 15.2 L-73.3 15.5 L-72.7 15.7 L-72.1 16 L-71.4 16.3 L-70.7 16.7 L-69.9 17 L-69.1 17.4 L-68.4 17.8 L-67.6 18.2 L-66.8 18.7 L-66.1 19.2 L-65.3 19.7 L-64.7 20.3 L-64.1 20.9 L-63.6 21.6 L-63.1 22.3 L-62.7 23.1 L-62.4 23.8 L-62.2 24.6 L-62.1 25.5 L-62.1 26.3 L-62.1 27.2 L-62.3 28.1 L-62.5 28.9 L-62.7 29.8 L-63.1 30.6 L-63.4 31.5 L-63.8 32.3 L-64.3 33.1 L-64.7 33.8 L-65.2 34.6 L-65.6 35.2 L-66 35.9 L-66.4 36.5 L-66.7 37.1 L-67 37.6 L-67.2 38.1 L-67.3 38.6 L-67.4 39 L-67.3 39.4 L-67.2 39.8 L-67.1 40.2 L-66.8 40.5 L-66.5 40.9 L-66.1 41.2 L-65.6 41.5" stroke="#8a8a8a" stroke-width="1.8" fill="none"/><path d="M-74.4 5.6 L-73.6 6 L-72.8 6.4 L-71.9 6.9 L-71.1 7.4 L-70.4 7.9 L-69.7 8.5 L-69 9.1 L-68.4 9.8 L-67.9 10.5 L-67.5 11.2 L-67.1 12 L-66.8 12.7 L-66.7 13.5 L-66.6 14.4 L-66.5 15.2 L-66.6 16 L-66.7 16.9 L-66.9 17.7 L-67.2 18.5 L-67.4 19.3 L-67.8 20.1 L-68.1 20.8 L-68.4 21.5 L-68.8 22.2 L-69.1 22.8 L-69.4 23.4 L-69.6 24 L-69.8 24.5 L-70 25 L-70.1 25.5 L-70.1 25.9 L-70 26.3 L-69.9 26.7 L-69.7 27 L-69.4 27.4 L-69 27.7 L-68.6 28 L-68.1 28.3 L-67.6 28.7 L-67 29 L-66.3 29.4 L-65.7 29.7 L-65 30.2 L-64.3 30.6 L-63.6 31.1 L-63 31.6 L-62.4 32.2 L-61.8 32.8 L-61.3 33.4 L-60.8 34.1 L-60.4 34.8 L-60.1 35.6 L-59.8 36.4 L-59.7 37.2 L-59.6 38.1 L-59.6 38.9 L-59.7 39.8 L-59.9 40.7 L-60.1 41.6 L-60.4 42.5" stroke="#8a8a8a" stroke-width="1.8" fill="none"/><line x1="-73.8" y1="9.1" x2="-73.6" y2="6" stroke="#8a8a8a" stroke-width="1.1"/><line x1="-74.8" y1="11.6" x2="-70.4" y2="7.9" stroke="#8a8a8a" stroke-width="1.1"/><line x1="-75.1" y1="13.5" x2="-67.9" y2="10.5" stroke="#8a8a8a" stroke-width="1.1"/><line x1="-74.2" y1="14.9" x2="-66.7" y2="13.5" stroke="#8a8a8a" stroke-width="1.1"/><line x1="-72.1" y1="16" x2="-66.7" y2="16.9" stroke="#8a8a8a" stroke-width="1.1"/><line x1="-69.1" y1="17.4" x2="-67.8" y2="20.1" stroke="#8a8a8a" stroke-width="1.1"/><line x1="-66.1" y1="19.2" x2="-69.1" y2="22.8" stroke="#8a8a8a" stroke-width="1.1"/><line x1="-63.6" y1="21.6" x2="-70" y2="25" stroke="#8a8a8a" stroke-width="1.1"/><line x1="-62.2" y1="24.6" x2="-69.9" y2="26.7" stroke="#8a8a8a" stroke-width="1.1"/><line x1="-62.3" y1="28.1" x2="-68.6" y2="28" stroke="#8a8a8a" stroke-width="1.1"/><line x1="-63.4" y1="31.5" x2="-66.3" y2="29.4" stroke="#8a8a8a" stroke-width="1.1"/><line x1="-65.2" y1="34.6" x2="-63.6" y2="31.1" stroke="#8a8a8a" stroke-width="1.1"/><line x1="-66.7" y1="37.1" x2="-61.3" y2="33.4" stroke="#8a8a8a" stroke-width="1.1"/><line x1="-67.4" y1="39" x2="-59.8" y2="36.4" stroke="#8a8a8a" stroke-width="1.1"/><line x1="-66.8" y1="40.5" x2="-59.7" y2="39.8" stroke="#8a8a8a" stroke-width="1.1"/></g><g id="lnps"><circle r="171" fill="url(#gDisc)"/><circle r="166" fill="#ee4a40" opacity="0.22"/><ellipse cx="44" cy="1" rx="92" ry="108" fill="url(#gGlow)"/><circle cx="-69" cy="27" r="58" fill="url(#gGlow)"/><circle cx="-62" cy="-62" r="40" fill="url(#gGlow)" opacity="0.8"/><ellipse cx="43.5" cy="1" rx="50" ry="66" fill="url(#gHole)"/><circle cx="-69.3" cy="26.8" r="28" fill="url(#gHole)"/><circle cx="-62" cy="-61" r="10" fill="url(#gHole)"/><path d="M-163.5 -10.1Q-151.6 -11.7 -139.7 -10.9" stroke="#a9a9a9" stroke-width="4.4" fill="none" opacity="0.85"/><path d="M-163.6 -7.3Q-151.7 -5.3 -139.8 -5.7" stroke="#a9a9a9" stroke-width="4.4" fill="none" opacity="0.85"/><path d="M-161.7 -26.7Q-149.7 -27.5 -137.9 -26" stroke="#3a2020" stroke-width="4.4" fill="none"/><path d="M-162 -24Q-150.2 -21.2 -138.3 -20.8" stroke="#3a2020" stroke-width="4.4" fill="none"/><path d="M-157.9 -43.3Q-146 -41.7 -134.8 -37.7" stroke="#3a2020" stroke-width="4.4" fill="none"/><path d="M-158.7 -40.7Q-147.8 -35.5 -136.3 -32.7" stroke="#3a2020" stroke-width="4.4" fill="none"/><path d="M-152.8 -59.3Q-140.9 -57.8 -129.6 -54" stroke="#3a2020" stroke-width="4.4" fill="none"/><path d="M-153.6 -56.6Q-142.6 -51.7 -131 -49" stroke="#3a2020" stroke-width="4.4" fill="none"/><path d="M-146.6 -73Q-135.2 -69.4 -124.8 -63.5" stroke="#3a2020" stroke-width="4.4" fill="none"/><path d="M-147.9 -70.5Q-138 -63.6 -127.1 -58.9" stroke="#3a2020" stroke-width="4.4" fill="none"/><path d="M-138.8 -87.1Q-127.6 -82.7 -117.6 -76.3" stroke="#a6aedb" stroke-width="4.4" fill="none" opacity="0.85"/><path d="M-140.2 -84.7Q-130.8 -77.2 -120.2 -71.8" stroke="#a6aedb" stroke-width="4.4" fill="none" opacity="0.85"/><path d="M-130 -99.8Q-119 -95.1 -109.2 -88.3" stroke="#3a2020" stroke-width="4.4" fill="none"/><path d="M-131.5 -97.5Q-122.4 -89.7 -111.9 -83.9" stroke="#3a2020" stroke-width="4.4" fill="none"/><path d="M-119 -112.5Q-109.1 -105.7 -100.8 -97.2" stroke="#a9a9a9" stroke-width="4.4" fill="none" opacity="0.85"/><path d="M-120.9 -110.5Q-113.5 -101 -104.4 -93.4" stroke="#a9a9a9" stroke-width="4.4" fill="none" opacity="0.85"/><path d="M-107.1 -124.2Q-97.2 -117.3 -88.9 -108.7" stroke="#3a2020" stroke-width="4.4" fill="none"/><path d="M-109 -122.1Q-101.6 -112.6 -92.5 -104.9" stroke="#3a2020" stroke-width="4.4" fill="none"/><path d="M-94.2 -134Q-85.7 -125.5 -79.1 -115.6" stroke="#3a2020" stroke-width="4.4" fill="none"/><path d="M-96.4 -132.4Q-90.8 -121.7 -83.3 -112.5" stroke="#3a2020" stroke-width="4.4" fill="none"/><path d="M-80.7 -142.7Q-72.4 -134 -66.1 -123.9" stroke="#3a2020" stroke-width="4.4" fill="none"/><path d="M-83 -141.1Q-77.6 -130.3 -70.3 -120.9" stroke="#3a2020" stroke-width="4.4" fill="none"/><path d="M-65.9 -150.1Q-58.5 -140.6 -53.3 -129.9" stroke="#3a2020" stroke-width="4.4" fill="none"/><path d="M-68.3 -148.8Q-64.1 -137.5 -57.8 -127.4" stroke="#3a2020" stroke-width="4.4" fill="none"/><path d="M-50.6 -155.8Q-44.9 -145.2 -41.6 -133.8" stroke="#a6aedb" stroke-width="4.4" fill="none" opacity="0.85"/><path d="M-53.2 -154.9Q-51 -143.1 -46.5 -132" stroke="#a6aedb" stroke-width="4.4" fill="none" opacity="0.85"/><path d="M-36.3 -159.6Q-32.6 -148.2 -31.2 -136.4" stroke="#3a2020" stroke-width="4.4" fill="none"/><path d="M-39.1 -159.2Q-38.9 -147.2 -36.3 -135.5" stroke="#3a2020" stroke-width="4.4" fill="none"/><path d="M-19.1 -162.8Q-15 -151.5 -13.2 -139.7" stroke="#3a2020" stroke-width="4.4" fill="none"/><path d="M-21.9 -162.2Q-21.2 -150.2 -18.3 -138.7" stroke="#3a2020" stroke-width="4.4" fill="none"/><path d="M-2.4 -163.9Q0.4 -152.2 0.7 -140.2" stroke="#a9a9a9" stroke-width="4.4" fill="none" opacity="0.85"/><path d="M-5.2 -163.7Q-6 -151.6 -4.5 -139.8" stroke="#a9a9a9" stroke-width="4.4" fill="none" opacity="0.85"/><path d="M12.4 -163.3Q13.1 -151.3 11.4 -139.5" stroke="#3a2020" stroke-width="4.4" fill="none"/><path d="M9.6 -163.6Q6.7 -151.9 6.2 -140" stroke="#3a2020" stroke-width="4.4" fill="none"/><path d="M30.3 -160.9Q28.8 -148.9 25.1 -137.6" stroke="#3a2020" stroke-width="4.4" fill="none"/><path d="M27.6 -161.6Q22.7 -150.6 20.1 -139" stroke="#3a2020" stroke-width="4.4" fill="none"/><path d="M46.7 -157Q44.9 -145.1 40.9 -133.9" stroke="#3a2020" stroke-width="4.4" fill="none"/><path d="M44 -157.8Q38.8 -146.9 35.9 -135.4" stroke="#3a2020" stroke-width="4.4" fill="none"/><path d="M60.9 -152.1Q58.5 -140.3 53.8 -129.3" stroke="#a6aedb" stroke-width="4.4" fill="none" opacity="0.85"/><path d="M58.3 -153.1Q52.5 -142.5 49 -131.1" stroke="#a6aedb" stroke-width="4.4" fill="none" opacity="0.85"/><path d="M75.5 -145.3Q70.6 -134.3 63.7 -124.6" stroke="#3a2020" stroke-width="4.4" fill="none"/><path d="M73.1 -146.8Q65.2 -137.7 59.3 -127.4" stroke="#3a2020" stroke-width="4.4" fill="none"/><path d="M90.8 -136.5Q86.8 -125.2 80.7 -114.9" stroke="#3a2020" stroke-width="4.4" fill="none"/><path d="M88.3 -137.8Q81.2 -128.1 76.1 -117.3" stroke="#3a2020" stroke-width="4.4" fill="none"/><path d="M103 -127.3Q96.2 -117.3 87.7 -109" stroke="#3a2020" stroke-width="4.4" fill="none"/><path d="M100.9 -129.2Q91.5 -121.6 83.9 -112.5" stroke="#3a2020" stroke-width="4.4" fill="none"/><path d="M115.4 -116.4Q108.8 -106.3 100.4 -97.8" stroke="#a9a9a9" stroke-width="4.4" fill="none" opacity="0.85"/><path d="M113.3 -118.2Q104 -110.6 96.5 -101.3" stroke="#a9a9a9" stroke-width="4.4" fill="none" opacity="0.85"/><path d="M126.8 -103.8Q119.5 -94.3 110.5 -86.5" stroke="#3a2020" stroke-width="4.4" fill="none"/><path d="M124.9 -105.9Q115.1 -98.9 106.9 -90.2" stroke="#3a2020" stroke-width="4.4" fill="none"/><path d="M136.4 -91Q128.2 -82.1 118.6 -75.1" stroke="#a6aedb" stroke-width="4.4" fill="none" opacity="0.85"/><path d="M134.6 -93.1Q124.2 -87.1 115.3 -79.2" stroke="#a6aedb" stroke-width="4.4" fill="none" opacity="0.85"/><path d="M146.4 -73.5Q137 -66.1 126.3 -60.8" stroke="#3a2020" stroke-width="4.4" fill="none"/><path d="M145.1 -76Q133.8 -71.7 123.8 -65.3" stroke="#3a2020" stroke-width="4.4" fill="none"/><path d="M151 -63.2Q140.4 -57.5 129 -54.1" stroke="#3a2020" stroke-width="4.4" fill="none"/><path d="M150.1 -65.8Q138.3 -63.6 127.3 -59" stroke="#3a2020" stroke-width="4.4" fill="none"/><path d="M156.9 -47.4Q146.4 -41.5 135.1 -37.8" stroke="#3a2020" stroke-width="4.4" fill="none"/><path d="M155.9 -50Q144.1 -47.4 133.2 -42.6" stroke="#3a2020" stroke-width="4.4" fill="none"/><path d="M160.8 -31.1Q149.4 -27.1 137.6 -25.6" stroke="#3a2020" stroke-width="4.4" fill="none"/><path d="M160.3 -33.8Q148.3 -33.4 136.7 -30.7" stroke="#3a2020" stroke-width="4.4" fill="none"/><path d="M163 -15.6Q151.3 -12.9 139.4 -12.6" stroke="#a9a9a9" stroke-width="4.4" fill="none" opacity="0.85"/><path d="M162.8 -18.3Q150.8 -19.3 139 -17.8" stroke="#a9a9a9" stroke-width="4.4" fill="none" opacity="0.85"/><path d="M163.8 2.1Q152 4.1 140.1 3.8" stroke="#a6aedb" stroke-width="4.4" fill="none" opacity="0.85"/><path d="M163.8 -0.7Q151.8 -2.3 139.9 -1.4" stroke="#a6aedb" stroke-width="4.4" fill="none" opacity="0.85"/><path d="M162.9 17.3Q150.8 17.9 139.1 16" stroke="#3a2020" stroke-width="4.4" fill="none"/><path d="M163.2 14.6Q151.5 11.5 139.6 10.8" stroke="#3a2020" stroke-width="4.4" fill="none"/><path d="M160.4 34.1Q148.3 34.6 136.6 32.7" stroke="#3a2020" stroke-width="4.4" fill="none"/><path d="M160.7 31.3Q149 28.2 137.1 27.5" stroke="#3a2020" stroke-width="4.4" fill="none"/><path d="M156.2 49.9Q144.2 49.2 132.6 46.1" stroke="#3a2020" stroke-width="4.4" fill="none"/><path d="M156.8 47.2Q145.5 42.9 133.7 41" stroke="#3a2020" stroke-width="4.4" fill="none"/><path d="M150.8 64.2Q139 62 127.9 57.6" stroke="#a9a9a9" stroke-width="4.4" fill="none" opacity="0.85"/><path d="M151.7 61.6Q141 56 129.6 52.7" stroke="#a9a9a9" stroke-width="4.4" fill="none" opacity="0.85"/><path d="M144.1 77.7Q132.9 73.3 122.9 66.9" stroke="#3a2020" stroke-width="4.4" fill="none"/><path d="M145.5 75.3Q136.1 67.8 125.5 62.4" stroke="#3a2020" stroke-width="4.4" fill="none"/><path d="M134.7 93.3Q123.7 88.2 114.1 81.2" stroke="#a6aedb" stroke-width="4.4" fill="none" opacity="0.85"/><path d="M136.2 91Q127.3 82.9 117 76.9" stroke="#a6aedb" stroke-width="4.4" fill="none" opacity="0.85"/><path d="M124.9 106.1Q114.4 100.2 105.3 92.5" stroke="#3a2020" stroke-width="4.4" fill="none"/><path d="M126.6 103.9Q118.3 95.2 108.5 88.4" stroke="#3a2020" stroke-width="4.4" fill="none"/><path d="M114.1 117.5Q104.5 110.2 96.8 101.1" stroke="#3a2020" stroke-width="4.4" fill="none"/><path d="M116.1 115.6Q109.2 105.8 100.5 97.6" stroke="#3a2020" stroke-width="4.4" fill="none"/><path d="M100.8 129.1Q92 121 84.9 111.4" stroke="#3a2020" stroke-width="4.4" fill="none"/><path d="M103 127.3Q96.9 117 89 108.1" stroke="#3a2020" stroke-width="4.4" fill="none"/><path d="M88.4 138Q80 129.3 73.6 119.3" stroke="#a9a9a9" stroke-width="4.4" fill="none" opacity="0.85"/><path d="M90.7 136.3Q85.2 125.6 77.8 116.3" stroke="#a9a9a9" stroke-width="4.4" fill="none" opacity="0.85"/><path d="M73.6 146.3Q67.1 136.1 62.9 125" stroke="#3a2020" stroke-width="4.4" fill="none"/><path d="M76.1 145.1Q73 133.5 67.6 122.9" stroke="#3a2020" stroke-width="4.4" fill="none"/><path d="M58.3 153Q52.8 142.3 49.4 130.9" stroke="#a6aedb" stroke-width="4.4" fill="none" opacity="0.85"/><path d="M61 152.1Q58.8 140.3 54.4 129.2" stroke="#a6aedb" stroke-width="4.4" fill="none" opacity="0.85"/><path d="M42.2 158.3Q36.8 147.6 33.6 136.1" stroke="#3a2020" stroke-width="4.4" fill="none"/><path d="M44.9 157.5Q42.8 145.6 38.5 134.5" stroke="#3a2020" stroke-width="4.4" fill="none"/><path d="M26 161.7Q22.4 150.2 21.2 138.4" stroke="#3a2020" stroke-width="4.4" fill="none"/><path d="M28.8 161.3Q28.7 149.2 26.3 137.6" stroke="#3a2020" stroke-width="4.4" fill="none"/><path d="M10.3 163.5Q7.7 151.7 7.6 139.8" stroke="#3a2020" stroke-width="4.4" fill="none"/><path d="M13.1 163.3Q14.1 151.3 12.7 139.5" stroke="#3a2020" stroke-width="4.4" fill="none"/><path d="M-4.8 163.6Q-5.4 151.6 -3.7 139.8" stroke="#a9a9a9" stroke-width="4.4" fill="none" opacity="0.85"/><path d="M-2 163.9Q0.9 152.2 1.5 140.3" stroke="#a9a9a9" stroke-width="4.4" fill="none" opacity="0.85"/><path d="M-21.2 162.4Q-20.9 150.3 -18.4 138.7" stroke="#3a2020" stroke-width="4.4" fill="none"/><path d="M-18.4 162.8Q-14.6 151.4 -13.2 139.6" stroke="#3a2020" stroke-width="4.4" fill="none"/><path d="M-37.8 159.4Q-37.5 147.4 -34.7 135.8" stroke="#3a2020" stroke-width="4.4" fill="none"/><path d="M-35.1 159.9Q-31.2 148.6 -29.6 136.8" stroke="#3a2020" stroke-width="4.4" fill="none"/><path d="M-53.4 154.7Q-50.2 143.1 -44.8 132.5" stroke="#a6aedb" stroke-width="4.4" fill="none" opacity="0.85"/><path d="M-50.9 155.9Q-44.3 145.8 -40 134.7" stroke="#a6aedb" stroke-width="4.4" fill="none" opacity="0.85"/><path d="M-68.8 148.8Q-66.4 137 -61.8 126" stroke="#3a2020" stroke-width="4.4" fill="none"/><path d="M-66.1 149.8Q-60.4 139.2 -56.9 127.8" stroke="#3a2020" stroke-width="4.4" fill="none"/><path d="M-82.9 141.3Q-78.7 130 -72.5 119.9" stroke="#a9a9a9" stroke-width="4.4" fill="none" opacity="0.85"/><path d="M-80.5 142.6Q-73.2 133.1 -67.9 122.4" stroke="#a9a9a9" stroke-width="4.4" fill="none" opacity="0.85"/><path d="M-97.4 131.6Q-91.3 121.2 -83.4 112.4" stroke="#3a2020" stroke-width="4.4" fill="none"/><path d="M-95.3 133.4Q-86.4 125.3 -79.3 115.6" stroke="#3a2020" stroke-width="4.4" fill="none"/><path d="M-110.3 121.3Q-104.4 110.7 -96.7 101.7" stroke="#3a2020" stroke-width="4.4" fill="none"/><path d="M-108.1 123Q-99.4 114.7 -92.6 104.9" stroke="#3a2020" stroke-width="4.4" fill="none"/><path d="M-121.7 109.6Q-114.2 100.2 -105 92.6" stroke="#3a2020" stroke-width="4.4" fill="none"/><path d="M-119.8 111.7Q-109.8 105 -101.5 96.5" stroke="#3a2020" stroke-width="4.4" fill="none"/><path d="M-131.7 97.7Q-124.1 88.3 -114.9 80.7" stroke="#a6aedb" stroke-width="4.4" fill="none" opacity="0.85"/><path d="M-129.8 99.8Q-119.8 93.1 -111.4 84.6" stroke="#a6aedb" stroke-width="4.4" fill="none" opacity="0.85"/><path d="M-140.6 84Q-131.1 76.6 -120.4 71.3" stroke="#3a2020" stroke-width="4.4" fill="none"/><path d="M-139.2 86.4Q-127.9 82.2 -117.9 75.8" stroke="#3a2020" stroke-width="4.4" fill="none"/><path d="M-148.9 68.1Q-138.5 62 -127.3 58.1" stroke="#a9a9a9" stroke-width="4.4" fill="none" opacity="0.85"/><path d="M-147.8 70.7Q-136.1 67.9 -125.3 62.9" stroke="#a9a9a9" stroke-width="4.4" fill="none" opacity="0.85"/><path d="M-154.2 55.3Q-143.5 49.7 -132.1 46.3" stroke="#3a2020" stroke-width="4.4" fill="none"/><path d="M-153.2 57.9Q-141.4 55.7 -130.4 51.2" stroke="#3a2020" stroke-width="4.4" fill="none"/><path d="M-159 38.8Q-147.6 35 -135.8 33.6" stroke="#3a2020" stroke-width="4.4" fill="none"/><path d="M-158.6 41.6Q-146.5 41.3 -134.9 38.7" stroke="#3a2020" stroke-width="4.4" fill="none"/><path d="M-162.4 22.1Q-151 18.2 -139.2 16.6" stroke="#3a2020" stroke-width="4.4" fill="none"/><path d="M-161.9 24.9Q-149.8 24.5 -138.2 21.7" stroke="#3a2020" stroke-width="4.4" fill="none"/><path d="M-163.6 5.9Q-151.8 4.1 -139.9 4.6" stroke="#a6aedb" stroke-width="4.4" fill="none" opacity="0.85"/><path d="M-163.6 8.7Q-151.7 10.5 -139.8 9.8" stroke="#a6aedb" stroke-width="4.4" fill="none" opacity="0.85"/><path d="M33.6 -73.4Q29.7 -84.3 28.3 -95.6" stroke="#3a2020" stroke-width="4.4" fill="none"/><path d="M36.3 -73.9Q36 -85.4 33.4 -96.5" stroke="#3a2020" stroke-width="4.4" fill="none"/><path d="M51 -73.9Q51.7 -85.4 54.7 -96.4" stroke="#a9a9a9" stroke-width="4.4" fill="none" opacity="0.85"/><path d="M53.8 -73.3Q57.9 -84.1 59.8 -95.3" stroke="#a9a9a9" stroke-width="4.4" fill="none" opacity="0.85"/><path d="M64.8 -65.9Q68.9 -76.7 75.1 -86.3" stroke="#3a2020" stroke-width="4.4" fill="none"/><path d="M67.2 -64.5Q74.5 -73.5 79.6 -83.7" stroke="#3a2020" stroke-width="4.4" fill="none"/><path d="M77.6 -54.5Q85.3 -63.1 94.5 -69.9" stroke="#3a2020" stroke-width="4.4" fill="none"/><path d="M79.3 -52.4Q89.3 -58.2 97.8 -65.9" stroke="#3a2020" stroke-width="4.4" fill="none"/><path d="M88.7 -42.5Q98.3 -48.8 109 -53" stroke="#3a2020" stroke-width="4.4" fill="none"/><path d="M89.8 -39.9Q100.9 -43 111.1 -48.2" stroke="#3a2020" stroke-width="4.4" fill="none"/><path d="M95.7 -28.5Q106 -33.6 117.1 -36.4" stroke="#3a2020" stroke-width="4.4" fill="none"/><path d="M96.5 -25.8Q107.9 -27.5 118.6 -31.5" stroke="#3a2020" stroke-width="4.4" fill="none"/><path d="M98.4 -15Q109.5 -18.2 120.9 -19.1" stroke="#3a2020" stroke-width="4.4" fill="none"/><path d="M98.7 -12.2Q110.3 -11.9 121.5 -13.9" stroke="#3a2020" stroke-width="4.4" fill="none"/><path d="M100.3 2.3Q111.7 0.1 123.1 0.2" stroke="#3a2020" stroke-width="4.4" fill="none"/><path d="M100.5 5.1Q111.9 6.5 123.3 5.4" stroke="#3a2020" stroke-width="4.4" fill="none"/><path d="M98.8 20.1Q110.3 21.1 121.2 24.5" stroke="#3a2020" stroke-width="4.4" fill="none"/><path d="M98.1 22.9Q108.8 27.4 120 29.5" stroke="#3a2020" stroke-width="4.4" fill="none"/><path d="M96.5 36.7Q107.7 39.6 117.9 44.6" stroke="#3a2020" stroke-width="4.4" fill="none"/><path d="M95.4 39.3Q105.1 45.4 115.9 49.4" stroke="#3a2020" stroke-width="4.4" fill="none"/><path d="M89.6 52.4Q99.7 58 108.3 65.5" stroke="#a9a9a9" stroke-width="4.4" fill="none" opacity="0.85"/><path d="M87.8 54.6Q95.7 63 105 69.6" stroke="#a9a9a9" stroke-width="4.4" fill="none" opacity="0.85"/><path d="M77.8 64.2Q86.4 71.9 93.2 81.1" stroke="#3a2020" stroke-width="4.4" fill="none"/><path d="M75.7 65.9Q81.5 75.9 89.1 84.4" stroke="#3a2020" stroke-width="4.4" fill="none"/><path d="M63.6 72.7Q70.2 82.1 74.7 92.6" stroke="#3a2020" stroke-width="4.4" fill="none"/><path d="M61.1 73.9Q64.5 84.9 70 94.9" stroke="#3a2020" stroke-width="4.4" fill="none"/><path d="M46.3 76.5Q48.7 87.8 48.6 99.2" stroke="#3a2020" stroke-width="4.4" fill="none"/><path d="M43.5 76.7Q42.3 88.1 43.4 99.5" stroke="#3a2020" stroke-width="4.4" fill="none"/><path d="M28.6 73.4Q25.9 84.6 20.9 94.9" stroke="#3a2020" stroke-width="4.4" fill="none"/><path d="M26 72.3Q19.9 82.2 16.1 92.9" stroke="#3a2020" stroke-width="4.4" fill="none"/><path d="M12.8 66Q7.5 76.2 0.2 85.1" stroke="#3a2020" stroke-width="4.4" fill="none"/><path d="M10.6 64.3Q2.4 72.4 -3.9 82" stroke="#3a2020" stroke-width="4.4" fill="none"/><path d="M2.6 53.4Q-5.6 61.5 -15.2 67.7" stroke="#a9a9a9" stroke-width="4.4" fill="none" opacity="0.85"/><path d="M1 51.1Q-9.3 56.3 -18.2 63.5" stroke="#a9a9a9" stroke-width="4.4" fill="none" opacity="0.85"/><path d="M-5.9 38.4Q-15.4 44.9 -25.9 49.3" stroke="#3a2020" stroke-width="4.4" fill="none"/><path d="M-7.1 35.8Q-18.2 39.1 -28.2 44.6" stroke="#3a2020" stroke-width="4.4" fill="none"/><path d="M-12 23.1Q-22.5 27.8 -33.6 30.3" stroke="#3a2020" stroke-width="4.4" fill="none"/><path d="M-12.7 20.4Q-24.2 21.7 -35 25.3" stroke="#3a2020" stroke-width="4.4" fill="none"/><path d="M-13.5 6.7Q-24.7 9.7 -36 10.4" stroke="#3a2020" stroke-width="4.4" fill="none"/><path d="M-13.8 3.9Q-25.4 3.3 -36.6 5.2" stroke="#3a2020" stroke-width="4.4" fill="none"/><path d="M-13.9 -10.4Q-25.4 -10.6 -36.6 -13.1" stroke="#3a2020" stroke-width="4.4" fill="none"/><path d="M-13.4 -13.2Q-24.3 -16.9 -35.7 -18.2" stroke="#3a2020" stroke-width="4.4" fill="none"/><path d="M-10.5 -26.2Q-22 -27.2 -32.9 -30.5" stroke="#a9a9a9" stroke-width="4.4" fill="none" opacity="0.85"/><path d="M-9.8 -29Q-20.5 -33.4 -31.7 -35.6" stroke="#a9a9a9" stroke-width="4.4" fill="none" opacity="0.85"/><path d="M-4.9 -40.7Q-16 -44 -26 -49.4" stroke="#3a2020" stroke-width="4.4" fill="none"/><path d="M-3.7 -43.3Q-13.2 -49.7 -23.8 -54.1" stroke="#3a2020" stroke-width="4.4" fill="none"/><path d="M4.5 -54.2Q-5.5 -60.1 -13.9 -67.8" stroke="#3a2020" stroke-width="4.4" fill="none"/><path d="M6.3 -56.4Q-1.4 -65 -10.6 -71.8" stroke="#3a2020" stroke-width="4.4" fill="none"/><path d="M18.9 -65.2Q12 -74.4 7.2 -84.7" stroke="#3a2020" stroke-width="4.4" fill="none"/><path d="M21.4 -66.5Q17.6 -77.4 11.8 -87.2" stroke="#3a2020" stroke-width="4.4" fill="none"/><path d="M-71 -8.3Q-73.5 -19.1 -73.6 -30" stroke="#3a2020" stroke-width="4.4" fill="none"/><path d="M-68.2 -8.5Q-67.1 -19.5 -68.4 -30.3" stroke="#3a2020" stroke-width="4.4" fill="none"/><path d="M-53.9 -5.3Q-50.5 -15.8 -44.9 -25.2" stroke="#3a2020" stroke-width="4.4" fill="none"/><path d="M-51.4 -4Q-44.8 -12.8 -40.3 -22.8" stroke="#3a2020" stroke-width="4.4" fill="none"/><path d="M-41.7 7Q-33.6 -0.4 -24.1 -5.8" stroke="#3a2020" stroke-width="4.4" fill="none"/><path d="M-40.2 9.4Q-30.1 5 -21.2 -1.4" stroke="#3a2020" stroke-width="4.4" fill="none"/><path d="M-36.8 25.1Q-25.9 23.8 -15 24.8" stroke="#3a2020" stroke-width="4.4" fill="none"/><path d="M-37 27.9Q-26.2 30.2 -15.2 30" stroke="#3a2020" stroke-width="4.4" fill="none"/><path d="M-37.9 43.2Q-27.7 47.5 -18.8 53.8" stroke="#3a2020" stroke-width="4.4" fill="none"/><path d="M-39.4 45.5Q-31.2 52.9 -21.6 58.2" stroke="#3a2020" stroke-width="4.4" fill="none"/><path d="M-49.1 56.4Q-42.3 65 -37.5 74.9" stroke="#a9a9a9" stroke-width="4.4" fill="none" opacity="0.85"/><path d="M-51.6 57.8Q-47.9 68.2 -42 77.4" stroke="#a9a9a9" stroke-width="4.4" fill="none" opacity="0.85"/><path d="M-65.2 61.9Q-62.2 72.6 -61.6 83.5" stroke="#3a2020" stroke-width="4.4" fill="none"/><path d="M-67.9 62.2Q-68.5 73.3 -66.7 84" stroke="#3a2020" stroke-width="4.4" fill="none"/><path d="M-82.1 57.8Q-85 68.5 -90 78.2" stroke="#3a2020" stroke-width="4.4" fill="none"/><path d="M-84.7 56.7Q-90.8 65.9 -94.7 76" stroke="#3a2020" stroke-width="4.4" fill="none"/><path d="M-94.6 44.4Q-102.8 51.9 -112.2 57.3" stroke="#3a2020" stroke-width="4.4" fill="none"/><path d="M-96.2 42Q-106.3 46.5 -115.1 53" stroke="#3a2020" stroke-width="4.4" fill="none"/><path d="M-101.9 27.4Q-112.9 28.3 -123.7 26.8" stroke="#3a2020" stroke-width="4.4" fill="none"/><path d="M-101.7 24.6Q-112.4 21.9 -123.3 21.7" stroke="#3a2020" stroke-width="4.4" fill="none"/><path d="M-98.4 9.1Q-108.1 3.9 -116.4 -3.2" stroke="#a9a9a9" stroke-width="4.4" fill="none" opacity="0.85"/><path d="M-96.7 6.8Q-104.3 -1.2 -113.3 -7.4" stroke="#a9a9a9" stroke-width="4.4" fill="none" opacity="0.85"/><path d="M-88.6 -3.7Q-96 -11.8 -101.4 -21.3" stroke="#3a2020" stroke-width="4.4" fill="none"/><path d="M-86.2 -5.2Q-90.6 -15.3 -97 -24.1" stroke="#3a2020" stroke-width="4.4" fill="none"/><path d="M-38.7 -101.5Q-49.5 -103.9 -59.4 -108.5" stroke="#3a2020" stroke-width="4.4" fill="none"/><path d="M-37.7 -104.1Q-47.1 -109.8 -57.4 -113.4" stroke="#3a2020" stroke-width="4.4" fill="none"/><path d="M-21.8 -109.2Q-27.2 -118.8 -30.3 -129.2" stroke="#3a2020" stroke-width="4.4" fill="none"/><path d="M-19.1 -110.1Q-21.2 -121 -25.4 -131" stroke="#3a2020" stroke-width="4.4" fill="none"/><path d="M-77.9 -71.3Q-87.2 -77.2 -94.9 -85" stroke="#3a2020" stroke-width="4.4" fill="none"/><path d="M-76 -73.4Q-82.9 -82 -91.4 -88.8" stroke="#3a2020" stroke-width="4.4" fill="none"/><path d="M-56.2 -75.5Q-55.5 -86.5 -52.5 -97" stroke="#3a2020" stroke-width="4.4" fill="none"/><path d="M-53.5 -74.9Q-49.3 -85.1 -47.4 -95.8" stroke="#3a2020" stroke-width="4.4" fill="none"/><path d="M-43.3 -63.4Q-32.6 -66.1 -21.7 -66.5" stroke="#3a2020" stroke-width="4.4" fill="none"/><path d="M-43.1 -60.6Q-32.1 -59.7 -21.3 -61.3" stroke="#3a2020" stroke-width="4.4" fill="none"/><path d="M-76 -52.6Q-87 -53.3 -97.5 -56.3" stroke="#3a2020" stroke-width="4.4" fill="none"/><path d="M-75.4 -55.3Q-85.6 -59.5 -96.3 -61.4" stroke="#3a2020" stroke-width="4.4" fill="none"/><path d="M-123.3 -16.7Q-127.2 -6.3 -133.1 2.8" stroke="#3a2020" stroke-width="4.4" fill="none"/><path d="M-125.7 -18.1Q-132.7 -9.5 -137.7 0.2" stroke="#3a2020" stroke-width="4.4" fill="none"/><path d="M32 -116.6Q42.9 -118.4 53.8 -117.8" stroke="#3a2020" stroke-width="4.4" fill="none"/><path d="M32 -113.8Q42.9 -112 53.8 -112.6" stroke="#3a2020" stroke-width="4.4" fill="none"/><path d="M-44 98.1Q-49.9 107.4 -57.7 115.1" stroke="#3a2020" stroke-width="4.4" fill="none"/><path d="M-46.1 96.2Q-54.7 103.1 -61.5 111.6" stroke="#3a2020" stroke-width="4.4" fill="none"/><path d="M-3.7 116.8Q-4.3 105.7 -2.6 95" stroke="#3a2020" stroke-width="4.4" fill="none"/><path d="M-0.9 117.1Q2.1 106.4 2.6 95.5" stroke="#3a2020" stroke-width="4.4" fill="none"/><path d="M-113.4 -66Q-111.8 -76.9 -107.8 -87.1" stroke="#a9a9a9" stroke-width="4.4" fill="none" opacity="0.85"/><path d="M-110.8 -65.2Q-105.7 -75 -102.9 -85.5" stroke="#a9a9a9" stroke-width="4.4" fill="none" opacity="0.85"/><path d="M-19.5 -88.3Q-11.9 -80.3 -6.3 -70.9" stroke="#a9a9a9" stroke-width="4.4" fill="none" opacity="0.85"/><path d="M-21.8 -86.7Q-17.2 -76.7 -10.6 -68" stroke="#a9a9a9" stroke-width="4.4" fill="none" opacity="0.85"/><path d="M-57.3 -45.9Q-60.1 -35.2 -65.1 -25.5" stroke="#a9a9a9" stroke-width="4.4" fill="none" opacity="0.85"/><path d="M-59.9 -47Q-66 -37.8 -69.9 -27.6" stroke="#a9a9a9" stroke-width="4.4" fill="none" opacity="0.85"/><path d="M11.5 -105Q5.8 -95.5 -1.6 -87.5" stroke="#a9a9a9" stroke-width="4.4" fill="none" opacity="0.85"/><path d="M9.3 -106.8Q0.9 -99.6 -5.6 -90.9" stroke="#a9a9a9" stroke-width="4.4" fill="none" opacity="0.85"/><path d="M-58.2 75.8Q-57.3 86.8 -58.9 97.6" stroke="#a9a9a9" stroke-width="4.4" fill="none" opacity="0.85"/><path d="M-61 75.6Q-63.7 86.3 -64.1 97.2" stroke="#a9a9a9" stroke-width="4.4" fill="none" opacity="0.85"/><path d="M53.6 90.3Q54.5 101.3 52.9 112.1" stroke="#a9a9a9" stroke-width="4.4" fill="none" opacity="0.85"/><path d="M50.8 90.1Q48.1 100.8 47.7 111.7" stroke="#a9a9a9" stroke-width="4.4" fill="none" opacity="0.85"/><polygon points="-84.9,-98.9 -90.8,-95.5 -96.7,-98.9 -96.7,-105.7 -90.8,-109.1 -84.9,-105.7" fill="#3a3a3a"/><polygon points="-72.5,-98.9 -78.4,-95.5 -84.3,-98.9 -84.3,-105.7 -78.4,-109.1 -72.5,-105.7" fill="#7b7b7b"/><polygon points="-65.7,-87.6 -71.6,-84.2 -77.5,-87.6 -77.5,-94.4 -71.6,-97.8 -65.7,-94.4" fill="#3a3a3a"/><polygon points="-125.5,-35.6 -131.4,-32.2 -137.3,-35.6 -137.3,-42.4 -131.4,-45.8 -125.5,-42.4" fill="#3a3a3a"/><polygon points="-114.3,-40.1 -120.2,-36.7 -126.1,-40.1 -126.1,-46.9 -120.2,-50.3 -114.3,-46.9" fill="#7b7b7b"/><polygon points="-104.1,-31.1 -110,-27.7 -115.9,-31.1 -115.9,-37.9 -110,-41.3 -104.1,-37.9" fill="#3a3a3a"/><polygon points="-9.2,-132.8 -15.1,-129.4 -21,-132.8 -21,-139.6 -15.1,-143 -9.2,-139.6" fill="#3a3a3a"/><polygon points="0.9,-127.1 -5,-123.7 -10.9,-127.1 -10.9,-133.9 -5,-137.3 0.9,-133.9" fill="#7b7b7b"/><polygon points="0.9,-114.7 -5,-111.3 -10.9,-114.7 -10.9,-121.5 -5,-124.9 0.9,-121.5" fill="#3a3a3a"/><polygon points="-22.8,-50.3 -28.7,-46.9 -34.6,-50.3 -34.6,-57.1 -28.7,-60.5 -22.8,-57.1" fill="#7b7b7b"/><polygon points="-23.9,-39.1 -29.8,-35.7 -35.7,-39.1 -35.7,-45.9 -29.8,-49.3 -23.9,-45.9" fill="#3a3a3a"/><polygon points="-36.3,-35.6 -42.2,-32.2 -48.1,-35.6 -48.1,-42.4 -42.2,-45.8 -36.3,-42.4" fill="#7b7b7b"/><polygon points="-38.6,-23.2 -44.5,-19.8 -50.4,-23.2 -50.4,-30 -44.5,-33.4 -38.6,-30" fill="#3a3a3a"/><polygon points="85.6,-109.1 79.7,-105.7 73.8,-109.1 73.8,-115.9 79.7,-119.3 85.6,-115.9" fill="#3a3a3a"/><polygon points="86.3,-97.1 80.4,-93.7 74.5,-97.1 74.5,-103.9 80.4,-107.3 86.3,-103.9" fill="#7b7b7b"/><polygon points="75.4,-90.3 69.5,-86.9 63.6,-90.3 63.6,-97.1 69.5,-100.5 75.4,-97.1" fill="#3a3a3a"/><polygon points="133.1,-46.9 127.2,-43.5 121.3,-46.9 121.3,-53.7 127.2,-57.1 133.1,-53.7" fill="#3a3a3a"/><polygon points="130.8,-34.5 124.9,-31.1 119,-34.5 119,-41.3 124.9,-44.7 130.8,-41.3" fill="#7b7b7b"/><polygon points="118.4,-31.1 112.5,-27.7 106.6,-31.1 106.6,-37.9 112.5,-41.3 118.4,-37.9" fill="#3a3a3a"/><polygon points="-106.3,20.6 -112.2,24 -118.1,20.6 -118.1,13.8 -112.2,10.4 -106.3,13.8" fill="#3a3a3a"/><polygon points="-117.6,22.9 -123.5,26.3 -129.4,22.9 -129.4,16.1 -123.5,12.7 -117.6,16.1" fill="#7b7b7b"/><polygon points="-122.1,37.6 -128,41 -133.9,37.6 -133.9,30.8 -128,27.4 -122.1,30.8" fill="#3a3a3a"/><polygon points="-75.8,77.1 -81.7,80.5 -87.6,77.1 -87.6,70.3 -81.7,66.9 -75.8,70.3" fill="#3a3a3a"/><polygon points="-86,83.9 -91.9,87.3 -97.8,83.9 -97.8,77.1 -91.9,73.7 -86,77.1" fill="#7b7b7b"/><polygon points="-87.1,96.3 -93,99.7 -98.9,96.3 -98.9,89.5 -93,86.1 -87.1,89.5" fill="#3a3a3a"/><polygon points="-18.1,54.5 -24,57.9 -29.9,54.5 -29.9,47.7 -24,44.3 -18.1,47.7" fill="#3a3a3a"/><polygon points="-16,65.9 -21.9,69.3 -27.8,65.9 -27.8,59.1 -21.9,55.7 -16,59.1" fill="#7b7b7b"/><polygon points="-17.1,78.2 -23,81.6 -28.9,78.2 -28.9,71.4 -23,68 -17.1,71.4" fill="#3a3a3a"/><polygon points="-11.5,89.5 -17.4,92.9 -23.3,89.5 -23.3,82.7 -17.4,79.3 -11.5,82.7" fill="#7b7b7b"/><polygon points="-22.8,113.2 -28.7,116.6 -34.6,113.2 -34.6,106.4 -28.7,103 -22.8,106.4" fill="#3a3a3a"/><polygon points="-28.4,124.5 -34.3,127.9 -40.2,124.5 -40.2,117.7 -34.3,114.3 -28.4,117.7" fill="#7b7b7b"/><polygon points="-21.6,134.7 -27.5,138.1 -33.4,134.7 -33.4,127.9 -27.5,124.5 -21.6,127.9" fill="#3a3a3a"/><polygon points="78.8,91.6 72.9,95 67,91.6 67,84.8 72.9,81.4 78.8,84.8" fill="#3a3a3a"/><polygon points="86.7,101.8 80.8,105.2 74.9,101.8 74.9,95 80.8,91.6 86.7,95" fill="#7b7b7b"/><polygon points="100.3,99.5 94.4,102.9 88.5,99.5 88.5,92.7 94.4,89.3 100.3,92.7" fill="#3a3a3a"/><polygon points="28,118.7 22.1,122.1 16.2,118.7 16.2,111.9 22.1,108.5 28,111.9" fill="#3a3a3a"/><polygon points="30.3,131.1 24.4,134.5 18.5,131.1 18.5,124.3 24.4,120.9 30.3,124.3" fill="#7b7b7b"/><polygon points="42.7,135.7 36.8,139.1 30.9,135.7 30.9,128.9 36.8,125.5 42.7,128.9" fill="#3a3a3a"/><polygon points="120.6,22.7 114.7,26.1 108.8,22.7 108.8,15.9 114.7,12.5 120.6,15.9" fill="#3a3a3a"/><polygon points="131.9,30.6 126,34 120.1,30.6 120.1,23.8 126,20.4 131.9,23.8" fill="#7b7b7b"/><polygon points="143.2,23.9 137.3,27.3 131.4,23.9 131.4,17.1 137.3,13.7 143.2,17.1" fill="#3a3a3a"/><circle cx="-167.8" cy="-8.8" r="8.2" fill="url(#gG)"/><circle cx="-166" cy="-25.7" r="8.2" fill="url(#gY)"/><circle cx="-162.4" cy="-43.2" r="8.2" fill="url(#gY)"/><circle cx="-157.3" cy="-59.1" r="8.2" fill="url(#gY)"/><circle cx="-151" cy="-73.6" r="8.2" fill="url(#gY)"/><circle cx="-143.1" cy="-88" r="8.2" fill="url(#gL)"/><circle cx="-134.3" cy="-100.9" r="8.2" fill="url(#gY)"/><circle cx="-123.1" cy="-114.4" r="8.2" fill="url(#gG)"/><circle cx="-111.1" cy="-126" r="8.2" fill="url(#gY)"/><circle cx="-97.8" cy="-136.6" r="8.2" fill="url(#gY)"/><circle cx="-84.3" cy="-145.3" r="8.2" fill="url(#gY)"/><circle cx="-69.1" cy="-153.1" r="8.2" fill="url(#gY)"/><circle cx="-53.3" cy="-159.3" r="8.2" fill="url(#gL)"/><circle cx="-38.4" cy="-163.6" r="8.2" fill="url(#gY)"/><circle cx="-21.3" cy="-166.6" r="8.2" fill="url(#gY)"/><circle cx="-4.1" cy="-167.9" r="8.2" fill="url(#gG)"/><circle cx="11.4" cy="-167.6" r="8.2" fill="url(#gY)"/><circle cx="30" cy="-165.3" r="8.2" fill="url(#gY)"/><circle cx="46.6" cy="-161.4" r="8.2" fill="url(#gY)"/><circle cx="61" cy="-156.5" r="8.2" fill="url(#gL)"/><circle cx="76.5" cy="-149.6" r="8.2" fill="url(#gY)"/><circle cx="91.5" cy="-140.9" r="8.2" fill="url(#gY)"/><circle cx="104.8" cy="-131.3" r="8.2" fill="url(#gY)"/><circle cx="117.1" cy="-120.4" r="8.2" fill="url(#gG)"/><circle cx="128.9" cy="-107.8" r="8.2" fill="url(#gY)"/><circle cx="138.8" cy="-94.7" r="8.2" fill="url(#gL)"/><circle cx="149.4" cy="-76.8" r="8.2" fill="url(#gY)"/><circle cx="154.5" cy="-65.9" r="8.2" fill="url(#gY)"/><circle cx="160.3" cy="-50.2" r="8.2" fill="url(#gY)"/><circle cx="164.7" cy="-33.2" r="8.2" fill="url(#gY)"/><circle cx="167.1" cy="-17.3" r="8.2" fill="url(#gG)"/><circle cx="168" cy="0.6" r="8.2" fill="url(#gL)"/><circle cx="167.2" cy="16.4" r="8.2" fill="url(#gY)"/><circle cx="164.7" cy="33.2" r="8.2" fill="url(#gY)"/><circle cx="160.6" cy="49.4" r="8.2" fill="url(#gY)"/><circle cx="155.2" cy="64.3" r="8.2" fill="url(#gG)"/><circle cx="148.5" cy="78.6" r="8.2" fill="url(#gY)"/><circle cx="138.9" cy="94.4" r="8.2" fill="url(#gL)"/><circle cx="129.1" cy="107.5" r="8.2" fill="url(#gY)"/><circle cx="118" cy="119.6" r="8.2" fill="url(#gY)"/><circle cx="104.6" cy="131.5" r="8.2" fill="url(#gY)"/><circle cx="92" cy="140.6" r="8.2" fill="url(#gG)"/><circle cx="76.5" cy="149.6" r="8.2" fill="url(#gY)"/><circle cx="61" cy="156.5" r="8.2" fill="url(#gL)"/><circle cx="44.9" cy="161.9" r="8.2" fill="url(#gY)"/><circle cx="28" cy="165.6" r="8.2" fill="url(#gY)"/><circle cx="12" cy="167.6" r="8.2" fill="url(#gY)"/><circle cx="-3.8" cy="168" r="8.2" fill="url(#gG)"/><circle cx="-20.5" cy="166.7" r="8.2" fill="url(#gY)"/><circle cx="-37.2" cy="163.8" r="8.2" fill="url(#gY)"/><circle cx="-53.9" cy="159.1" r="8.2" fill="url(#gL)"/><circle cx="-68.9" cy="153.2" r="8.2" fill="url(#gY)"/><circle cx="-83.7" cy="145.6" r="8.2" fill="url(#gG)"/><circle cx="-99" cy="135.7" r="8.2" fill="url(#gY)"/><circle cx="-111.8" cy="125.4" r="8.2" fill="url(#gY)"/><circle cx="-123.9" cy="113.5" r="8.2" fill="url(#gY)"/><circle cx="-133.8" cy="101.6" r="8.2" fill="url(#gL)"/><circle cx="-143.5" cy="87.3" r="8.2" fill="url(#gY)"/><circle cx="-152.3" cy="71" r="8.2" fill="url(#gG)"/><circle cx="-157.7" cy="58" r="8.2" fill="url(#gY)"/><circle cx="-162.9" cy="40.9" r="8.2" fill="url(#gY)"/><circle cx="-166.2" cy="24.3" r="8.2" fill="url(#gY)"/><circle cx="-167.8" cy="7.3" r="8.2" fill="url(#gL)"/><circle cx="35.7" cy="-69.5" r="6.9" fill="url(#gR)"/><circle cx="51.5" cy="-69.5" r="6.9" fill="url(#gG)"/><circle cx="63.9" cy="-61.6" r="6.9" fill="url(#gR)"/><circle cx="75.2" cy="-50.8" r="6.9" fill="url(#gR)"/><circle cx="85.4" cy="-39.5" r="6.9" fill="url(#gR)"/><circle cx="92.1" cy="-25.9" r="6.9" fill="url(#gR)"/><circle cx="94.4" cy="-13.1" r="6.9" fill="url(#gR)"/><circle cx="96.2" cy="3.9" r="6.9" fill="url(#gR)"/><circle cx="94.4" cy="20.5" r="6.9" fill="url(#gR)"/><circle cx="92.1" cy="36.3" r="6.9" fill="url(#gR)"/><circle cx="85.4" cy="50.9" r="6.9" fill="url(#gG)"/><circle cx="74.1" cy="61.8" r="6.9" fill="url(#gR)"/><circle cx="60.5" cy="69.5" r="6.9" fill="url(#gR)"/><circle cx="44.7" cy="72.4" r="6.9" fill="url(#gR)"/><circle cx="28.9" cy="69" r="6.9" fill="url(#gR)"/><circle cx="14.2" cy="61.8" r="6.9" fill="url(#gR)"/><circle cx="5.2" cy="49.8" r="6.9" fill="url(#gG)"/><circle cx="-2.7" cy="35.3" r="6.9" fill="url(#gR)"/><circle cx="-8.3" cy="20.6" r="6.9" fill="url(#gR)"/><circle cx="-9.5" cy="4.8" r="6.9" fill="url(#gR)"/><circle cx="-9.5" cy="-11.1" r="6.9" fill="url(#gR)"/><circle cx="-6.1" cy="-26.6" r="6.9" fill="url(#gG)"/><circle cx="-0.5" cy="-40.2" r="6.9" fill="url(#gR)"/><circle cx="8.6" cy="-52.6" r="6.9" fill="url(#gR)"/><circle cx="22.1" cy="-62.1" r="6.9" fill="url(#gR)"/><circle cx="-69.3" cy="-4.2" r="6.9" fill="url(#gR)"/><circle cx="-54.6" cy="-0.9" r="6.9" fill="url(#gR)"/><circle cx="-44.5" cy="10.5" r="6.9" fill="url(#gR)"/><circle cx="-41.1" cy="26.3" r="6.9" fill="url(#gR)"/><circle cx="-42.2" cy="42.1" r="6.9" fill="url(#gR)"/><circle cx="-52.4" cy="53.4" r="6.9" fill="url(#gG)"/><circle cx="-67" cy="57.9" r="6.9" fill="url(#gR)"/><circle cx="-81.7" cy="53.4" r="6.9" fill="url(#gR)"/><circle cx="-91.9" cy="40.9" r="6.9" fill="url(#gR)"/><circle cx="-97.6" cy="26.3" r="6.9" fill="url(#gR)"/><circle cx="-94.2" cy="10.5" r="6.9" fill="url(#gG)"/><circle cx="-85.1" cy="-0.9" r="6.9" fill="url(#gR)"/><circle cx="-34.3" cy="-101.2" r="6.9" fill="url(#gR)"/><circle cx="-19" cy="-105.7" r="6.9" fill="url(#gR)"/><circle cx="-73.8" cy="-69.5" r="6.9" fill="url(#gR)"/><circle cx="-55.8" cy="-71.1" r="6.9" fill="url(#gR)"/><circle cx="-47.4" cy="-61.6" r="6.9" fill="url(#gR)"/><circle cx="-71.6" cy="-53" r="6.9" fill="url(#gR)"/><circle cx="-122.4" cy="-21" r="6.9" fill="url(#gR)"/><circle cx="27.8" cy="-115.2" r="6.9" fill="url(#gR)"/><circle cx="-42.2" cy="94" r="6.9" fill="url(#gR)"/><circle cx="-2.7" cy="121.1" r="6.9" fill="url(#gR)"/><circle cx="-113.4" cy="-61.6" r="6.9" fill="url(#gG)"/><circle cx="-23" cy="-91" r="6.9" fill="url(#gG)"/><circle cx="-56.9" cy="-50.3" r="6.9" fill="url(#gG)"/><circle cx="13.1" cy="-109.1" r="6.9" fill="url(#gG)"/><circle cx="-59.2" cy="71.5" r="6.9" fill="url(#gG)"/><circle cx="52.6" cy="86" r="6.9" fill="url(#gG)"/><path d="M41 -48.5 L39.7 -47 L38.5 -45.5 L37.3 -44 L36.1 -42.6 L35.1 -41.2 L34.2 -39.9 L33.5 -38.6 L33 -37.3 L32.7 -36 L32.5 -34.7 L32.6 -33.4 L32.8 -32.2 L33.2 -30.9 L33.9 -29.6 L34.6 -28.3 L35.6 -27 L36.6 -25.7 L37.8 -24.3 L39 -22.9 L40.2 -21.4 L41.5 -20 L42.7 -18.4 L43.9 -16.9 L45 -15.3 L45.9 -13.7 L46.8 -12 L47.5 -10.4 L48 -8.7 L48.3 -6.9 L48.5 -5.2 L48.5 -3.5 L48.2 -1.7 L47.8 0 L47.2 1.7 L46.5 3.4 L45.6 5.1 L44.7 6.8 L43.6 8.4 L42.5 10 L41.3 11.6 L40.2 13.1 L39.1 14.6 L38 16 L37.1 17.4 L36.2 18.8 L35.5 20.1 L35 21.5 L34.6 22.8 L34.5 24 L34.5 25.3 L34.7 26.6 L35.2 27.8 L35.8 29.1 L36.6 30.4 L37.5 31.6 L38.6 33 L39.9 34.3 L41.2 35.7 L42.5 37.1 L44 38.5" stroke="#333" stroke-width="3" fill="none"/><path d="M41 -51.5 L42.1 -50 L43.3 -48.5 L44.4 -46.9 L45.4 -45.4 L46.4 -43.7 L47.1 -42.1 L47.7 -40.4 L48.2 -38.7 L48.4 -37 L48.5 -35.2 L48.4 -33.5 L48 -31.8 L47.5 -30 L46.9 -28.3 L46 -26.6 L45.1 -24.9 L44 -23.2 L42.8 -21.6 L41.6 -20 L40.3 -18.4 L39.1 -16.9 L37.9 -15.4 L36.7 -14 L35.6 -12.6 L34.7 -11.2 L33.9 -9.8 L33.3 -8.5 L32.8 -7.2 L32.6 -5.9 L32.5 -4.7 L32.6 -3.4 L33 -2.1 L33.5 -0.9 L34.2 0.4 L35.1 1.7 L36.2 3 L37.3 4.3 L38.6 5.7 L39.9 7.1 L41.2 8.6 L42.6 10 L43.9 11.5 L45.2 13.1 L46.4 14.7 L47.5 16.3 L48.4 17.9 L49.2 19.6 L49.8 21.3 L50.3 23 L50.5 24.8 L50.5 26.5 L50.4 28.2 L50.1 30 L49.6 31.7 L48.9 33.4 L48.1 35.1 L47.2 36.7 L46.2 38.4 L45.1 39.9 L44 41.5" stroke="#333" stroke-width="3" fill="none"/><line x1="39.7" y1="-47" x2="42.1" y2="-50" stroke="#333" stroke-width="1.8"/><path d="M-73.6 8.4 L-73.9 9.2 L-74.2 9.8 L-74.4 10.5 L-74.7 11.1 L-74.9 11.7 L-75.1 12.3 L-75.3 12.8 L-75.4 13.3 L-75.4 13.7 L-75.3 14.2 L-75.2 14.5 L-75 14.9 L-74.7 15.2 L-74.4 15.6 L-73.9 15.9 L-73.4 16.2 L-72.9 16.5 L-72.2 16.8 L-71.6 17.1 L-70.8 17.4 L-70.1 17.7 L-69.3 18.1 L-68.5 18.4 L-67.7 18.8 L-66.9 19.3 L-66.1 19.7 L-65.4 20.2 L-64.7 20.8 L-64 21.4 L-63.4 22 L-62.8 22.6 L-62.4 23.3 L-62 24 L-61.7 24.8 L-61.4 25.6 L-61.3 26.4 L-61.2 27.2 L-61.2 28 L-61.3 28.9 L-61.5 29.8 L-61.8 30.6 L-62.1 31.5 L-62.4 32.4 L-62.8 33.2 L-63.3 34 L-63.8 34.8 L-64.2 35.6 L-64.7 36.4 L-65.2 37.1 L-65.6 37.8 L-66.1 38.4 L-66.4 39.1 L-66.8 39.6 L-67.1 40.2 L-67.3 40.7 L-67.4 41.2 L-67.5 41.6 L-67.5 42.1 L-67.4 42.5 L-67.2 42.8" stroke="#555" stroke-width="3.6" fill="none"/><path d="M-74.4 5.6 L-73.6 6 L-72.7 6.4 L-71.9 6.8 L-71 7.3 L-70.2 7.8 L-69.5 8.4 L-68.8 8.9 L-68.2 9.6 L-67.6 10.2 L-67.1 10.9 L-66.7 11.6 L-66.4 12.4 L-66.1 13.2 L-66 14 L-65.9 14.8 L-65.9 15.6 L-65.9 16.4 L-66.1 17.3 L-66.3 18.1 L-66.5 18.9 L-66.8 19.7 L-67.2 20.5 L-67.5 21.3 L-67.9 22 L-68.3 22.7 L-68.6 23.4 L-69 24.1 L-69.3 24.7 L-69.6 25.3 L-69.8 25.8 L-70 26.3 L-70.1 26.8 L-70.2 27.3 L-70.1 27.7 L-70.1 28.1 L-69.9 28.5 L-69.6 28.8 L-69.3 29.2 L-69 29.5 L-68.5 29.9 L-68 30.2 L-67.4 30.5 L-66.8 30.9 L-66.2 31.2 L-65.5 31.6 L-64.8 32 L-64.1 32.5 L-63.4 32.9 L-62.8 33.4 L-62.1 34 L-61.5 34.5 L-60.9 35.1 L-60.4 35.8 L-60 36.4 L-59.6 37.2 L-59.3 37.9 L-59 38.7 L-58.9 39.5 L-58.8 40.3 L-58.8 41.2" stroke="#555" stroke-width="3.6" fill="none"/><line x1="-73.9" y1="9.2" x2="-73.6" y2="6" stroke="#555" stroke-width="2.2"/></g></defs>
<rect width="1280" height="664" fill="#fff"/><rect x="414" y="0" width="866" height="664" fill="#e5fcf3"/><rect x="403" y="40" width="11" height="624" fill="url(#gEdge)"/><rect x="1270" y="0" width="10" height="40" fill="#fff"/><path d="M414 -2 L414 4 L414.5 4 L415 4 L415.5 4 L416 4 L416.5 4 L417 4 L417.5 4 L418 4 L418.5 4 L419 4 L419.5 4 L420 4 L420.5 4 L421 4 L421.5 4 L422 4 L422.5 4 L423 4 L423.5 4 L424 4 L424.5 4 L425 4 L425.5 4 L426 4 L426.5 4 L427 4 L427.5 4 L428 4 L428.5 4 L429 4 L429.5 4 L430 4 L430.5 4 L431 4 L431.5 4 L432 4 L432.5 4 L433 4 L433.5 4 L434 4 L434.5 4 L435 4 L435.5 4 L436 4 L436.5 4 L437 4 L437.5 4 L438 4 L438.5 4 L439 4 L439.5 4 L440 4 L440.5 4 L441 4 L441.5 4 L442 4 L442.5 4 L443 4 L443.5 4 L444 4 L444.5 4 L445 4 L445.5 4 L446 4 L446.5 4 L447 4 L447.5 4 L448 4 L448.5 4 L449 4 L449.5 4 L450 4 L450.5 4 L451 4 L451.5 4 L452 4 L452.5 4 L453 4 L453.5 4 L454 4 L454.5 4 L455 4 L455.5 4 L456 4 L456.5 4 L457 4 L457.5 4 L458 4 L458.5 4 L459 4 L459.5 4 L460 4 L460.5 4 L461 4 L461.5 4 L462 4 L462.5 4 L463 4 L463.5 4 L464 4 L464.5 4 L465 4 L465.5 4 L466 4 L466.5 4 L467 4 L467.5 4 L468 4 L468.5 4 L469 4 L469.5 4 L470 4 L470.5 4 L471 4 L471.5 4 L472 4 L472.5 4 L473 4 L473.5 4 L474 4 L474.5 4 L475 4 L475.5 4 L476 4 L476.5 4 L477 4 L477.5 4 L478 4 L478.5 4 L479 4 L479.5 4 L480 4 L480.5 4 L481 4 L481.5 4 L482 4 L482.5 4 L483 4 L483.5 4 L484 4 L484.5 4 L485 4 L485.5 4 L486 4 L486.5 4 L487 4 L487.5 4 L488 4 L488.5 4 L489 4 L489.5 4 L490 4 L490.5 4 L491 4 L491.5 4 L492 4 L492.5 4 L493 4 L493.5 4 L494 4 L494.5 4 L495 4 L495.5 4 L496 4 L496.5 4 L497 4 L497.5 4 L498 4 L498.5 4 L499 4 L499.5 4 L500 4 L500.5 4 L501 4 L501.5 4 L502 4 L502.5 4 L503 4 L503.5 4 L504 4 L504.5 4 L505 4 L505.5 4 L506 4 L506.5 4 L507 4 L507.5 4 L508 4 L508.5 4 L509 4 L509.5 4 L510 4 L510.5 4 L511 4 L511.5 4 L512 4 L512.5 4 L513 4 L513.5 4 L514 4 L514.5 4 L515 4 L515.5 4 L516 4 L516.5 4 L517 4 L517.5 4 L518 4 L518.5 4 L519 4 L519.5 4 L520 4 L520.5 4 L521 4 L521.5 4 L522 4 L522.5 4 L523 4 L523.5 4 L524 4 L524.5 4 L525 4 L525.5 4 L526 4 L526.5 4 L527 4 L527.5 4 L528 4 L528.5 4 L529 4 L529.5 4 L530 4 L530.5 4 L531 4 L531.5 4 L532 4 L532.5 4 L533 4 L533.5 4 L534 4 L534.5 4 L535 4 L535.5 4 L536 4 L536.5 4 L537 4 L537.5 4 L538 4 L538.5 4 L539 4 L539.5 4 L540 4 L540.5 4 L541 4 L541.5 4 L542 4 L542.5 4 L543 4 L543.5 4 L544 4 L544.5 4 L545 4 L545.5 4 L546 4 L546.5 4 L547 4 L547.5 4 L548 4 L548.5 4 L549 4 L549.5 4 L550 4 L550.5 4 L551 4 L551.5 4 L552 4 L552.5 4 L553 4 L553.5 4 L554 4 L554.5 4 L555 4 L555.5 4 L556 4 L556.5 4 L557 4 L557.5 4 L558 4 L558.5 4 L559 4 L559.5 4 L560 4 L560.5 4 L561 4 L561.5 4 L562 4 L562.5 4 L563 4 L563.5 4 L564 4 L564.5 4 L565 4 L565.5 4 L566 4 L566.5 4 L567 4 L567.5 4 L568 4 L568.5 4 L569 4 L569.5 4 L570 4 L570.5 4 L571 4 L571.5 4 L572 4 L572.5 4 L573 4 L573.5 4 L574 4 L574.5 4 L575 4 L575.5 4 L576 4 L576.5 4 L577 4 L577.5 4 L578 4 L578.5 4 L579 4 L579.5 4 L580 4 L580.5 4 L581 4 L581.5 4 L582 4 L582.5 4 L583 4 L583.5 4 L584 4 L584.5 4 L585 4 L585.5 4 L586 4 L586.5 4 L587 4 L587.5 4 L588 4 L588.5 4 L589 4 L589.5 4 L590 4 L590.5 4 L591 4 L591.5 4 L592 4 L592.5 4 L593 4 L593.5 4 L594 4 L594.5 4 L595 4 L595.5 4 L596 4 L596.5 4 L597 4 L597.5 4 L598 4 L598.5 4 L599 4 L599.5 4 L600 4 L600.5 4 L601 4 L601.5 4 L602 4 L602.5 4 L603 4 L603.5 4 L604 4 L604.5 4 L605 4 L605.5 4 L606 4 L606.5 4 L607 4 L607.5 4 L608 4 L608.5 4 L609 4 L609.5 4 L610 4 L610.5 4 L611 4 L611.5 4 L612 4 L612.5 4 L613 4 L613.5 4 L614 4 L614.5 4 L615 4 L615.5 4 L616 4 L616.5 4 L617 4 L617.5 4 L618 4 L618.5 4 L619 4 L619.5 4 L620 4 L620.5 4 L621 4 L621.5 4 L622 4 L622.5 4 L623 4 L623.5 4 L624 4 L624.5 4 L625 4 L625.5 4 L626 4 L626.5 4 L627 4 L627.5 4 L628 4 L628.5 4 L629 4 L629.5 4 L630 4 L630.5 4 L631 4 L631.5 4 L632 4 L632.5 4 L633 4 L633.5 4 L634 4 L634.5 4 L635 4 L635.5 4 L636 4 L636.5 4 L637 4 L637.5 4 L638 4 L638.5 4 L639 4 L639.5 4 L640 4 L640.5 4 L641 4 L641.5 4 L642 4 L642.5 4 L643 4 L643.5 4 L644 4 L644.5 4 L645 4 L645.5 4 L646 4 L646.5 4 L647 4 L647.5 4 L648 4 L648.5 4 L649 4 L649.5 4 L650 4 L650.5 4 L651 4 L651.5 4 L652 4 L652.5 4 L653 4 L653.5 4 L654 4 L654.5 4 L655 4 L655.5 4 L656 4 L656.5 4 L657 4 L657.5 4 L658 4 L658.5 4 L659 4 L659.5 4 L660 4 L660.5 4 L661 4 L661.5 4 L662 4 L662.5 4 L663 4 L663.5 4 L664 4 L664.5 4 L665 4 L665.5 4 L666 4 L666.5 4 L667 4 L667.5 4 L668 4 L668.5 4 L669 4 L669.5 4 L670 4 L670.5 4 L671 4 L671.5 4 L672 4 L672.5 4 L673 4 L673.5 4 L674 4 L674.5 4 L675 4 L675.5 4 L676 4 L676.5 4 L677 4 L677.5 4 L678 4 L678.5 4 L679 4 L679.5 4 L680 4 L680.5 4 L681 4 L681.5 4 L682 4 L682.5 4 L683 4 L683.5 4 L684 4 L684.5 4 L685 4 L685.5 4 L686 4 L686.5 4 L687 4 L687.5 4 L688 4 L688.5 4 L689 4 L689.5 4 L690 4 L690.5 4 L691 4 L691.5 4 L692 4 L692.5 4 L693 4 L693.5 4 L694 4 L694.5 4 L695 4 L695.5 4 L696 4 L696.5 4 L697 4 L697.5 4 L698 4 L698.5 4 L699 4 L699.5 4 L700 4 L700.5 4 L701 4 L701.5 4 L702.1 4 L702.8 4 L703.5 4 L704.3 4.1 L705.1 4.1 L705.9 4.2 L706.6 4.2 L707.4 4.3 L708.2 4.4 L709 4.5 L709.7 4.6 L710.5 4.7 L711.2 4.9 L712 5 L712.8 5.2 L713.5 5.3 L714.3 5.5 L715 5.7 L715.8 5.9 L716.5 6.2 L717.3 6.4 L718 6.6 L718.7 6.9 L719.4 7.1 L720.2 7.4 L720.9 7.7 L721.6 8 L722.3 8.3 L723 8.6 L723.7 9 L724.4 9.3 L725.1 9.7 L725.8 10 L726.5 10.4 L727.1 10.8 L727.8 11.2 L728.5 11.6 L729.1 12 L729.8 12.4 L730.4 12.9 L731 13.3 L731.7 13.8 L732.3 14.2 L732.9 14.7 L733.5 15.2 L734.1 15.7 L734.7 16.2 L735.3 16.7 L735.9 17.2 L736.4 17.7 L737 18.3 L737.5 18.8 L738.1 19.4 L738.6 19.9 L739.1 20.5 L739.6 21.1 L740.1 21.7 L740.6 22.3 L741.1 22.9 L741.6 23.5 L742.1 24.1 L742.5 24.7 L743 25.4 L743.4 26 L743.9 26.6 L744.3 27.3 L744.7 28 L745.1 28.6 L745.5 29.3 L745.8 30 L746.2 30.6 L746.6 31.3 L746.9 32 L747.3 32.7 L747.6 33.4 L747.9 34.1 L748.2 34.9 L748.5 35.6 L748.8 36.3 L749 37 L749.3 37.8 L749.5 38.5 L749.8 39.2 L750 40 L750.2 40.7 L750.4 41.5 L750.6 42.2 L750.8 43 L750.9 43.7 L751.1 44.5 L751.2 45.2 L751.4 46 L751.5 46.8 L751.6 47.5 L751.7 48.3 L751.8 49.1 L751.8 49.9 L751.9 50.6 L751.9 51.4 L752 52.2 L752 53 L752 53.7 L752 54.5 L752 55.3 L752 56.1 L751.9 56.8 L751.9 57.6 L751.8 58.4 L751.7 59.1 L751.6 59.9 L751.6 60.7 L751.4 61.4 L751.3 62.2 L751.2 63 L751 63.7 L750.9 64.5 L750.7 65.3 L750.5 66 L750.3 66.8 L750.1 67.5 L749.9 68.3 L749.7 69 L749.5 69.7 L749.2 70.5 L749 71.2 L748.7 71.9 L748.4 72.6 L748.1 73.3 L747.9 73.8 L747.7 74.3 L747.5 74.7 L747.3 75.2 L747.1 75.7 L746.9 76.1 L746.7 76.6 L746.5 77.1 L746.4 77.5 L746.2 78 L746 78.4 L745.8 78.9 L745.6 79.4 L745.4 79.8 L745.2 80.3 L745 80.8 L744.8 81.2 L744.6 81.7 L744.4 82.1 L744.2 82.6 L744 83.1 L743.8 83.5 L743.6 84 L743.4 84.4 L743.2 84.9 L743.1 85.4 L742.9 85.8 L742.7 86.3 L742.5 86.8 L742.3 87.2 L742.1 87.7 L741.9 88.1 L741.7 88.6 L741.5 89.1 L741.3 89.5 L741.1 90 L740.9 90.5 L740.7 90.9 L740.5 91.4 L740.3 91.8 L740.1 92.3 L740 92.8 L739.8 93.2 L739.6 93.7 L739.4 94.2 L739.2 94.6 L739 95.1 L738.8 95.5 L738.6 96 L738.4 96.5 L738.2 96.9 L738 97.4 L737.8 97.9 L737.6 98.3 L737.4 98.8 L737.2 99.2 L737 99.7 L736.8 100.2 L736.7 100.6 L736.5 101.1 L736.3 101.5 L736.1 102 L735.9 102.5 L735.7 102.9 L735.5 103.4 L735.3 103.9 L735.1 104.3 L734.9 104.8 L734.7 105.2 L734.5 105.7 L734.3 106.2 L734.1 106.6 L733.9 107.1 L733.7 107.6 L733.5 108 L733.4 108.5 L733.2 108.9 L733 109.4 L732.8 109.9 L732.6 110.3 L732.4 110.8 L732.2 111.3 L732 111.7 L731.8 112.2 L731.6 112.6 L731.4 113.1 L731.2 113.6 L731 114 L730.8 114.5 L730.6 115 L730.4 115.4 L730.2 115.9 L730.1 116.3 L729.9 116.8 L729.7 117.3 L729.5 117.7 L729.3 118.2 L729.1 118.6 L728.9 119.1 L728.7 119.6 L728.5 120 L728.3 120.5 L728.1 121 L727.9 121.4 L727.7 121.9 L727.5 122.3 L727.3 122.8 L727.1 123.3 L726.9 123.7 L726.8 124.2 L726.6 124.7 L726.4 125.1 L726.2 125.6 L726 126 L725.8 126.5 L725.6 127 L725.4 127.4 L725.2 127.9 L725 128.4 L724.8 128.8 L724.6 129.3 L724.4 129.7 L724.2 130.2 L724 130.7 L723.8 131.1 L723.6 131.6 L723.5 132.1 L723.3 132.5 L723.1 133 L722.9 133.4 L722.7 133.9 L722.5 134.4 L722.3 134.8 L722.1 135.3 L721.9 135.8 L721.7 136.2 L721.5 136.7 L721.3 137.1 L721.1 137.6 L720.9 138 L720.8 138.4 L720.6 138.8 L720.5 139.2 L720.3 139.6 L720.2 140 L720 140.4 L719.9 140.7 L719.7 141.1 L719.6 141.5 L719.4 141.9 L719.3 142.3 L719.2 142.7 L719 143.1 L718.9 143.5 L718.8 143.9 L718.6 144.2 L718.5 144.6 L718.4 145 L718.2 145.4 L718.1 145.8 L718 146.2 L717.9 146.6 L717.8 147 L717.7 147.4 L717.5 147.8 L717.4 148.2 L717.3 148.6 L717.2 149 L717.1 149.4 L717 149.8 L716.9 150.2 L716.8 150.6 L716.7 151 L716.6 151.4 L716.5 151.8 L716.4 152.2 L716.4 152.6 L716.3 153 L716.2 153.4 L716.1 153.8 L716 154.2 L715.9 154.6 L715.9 155 L715.8 155.4 L715.7 155.8 L715.7 156.3 L715.6 156.7 L715.5 157.1 L715.5 157.5 L715.4 157.9 L715.3 158.3 L715.3 158.7 L715.2 159.1 L715.2 159.5 L715.1 159.9 L715.1 160.3 L715 160.7 L715 161.2 L714.9 161.6 L714.9 162 L714.9 162.4 L714.8 162.8 L714.8 163.2 L714.7 163.6 L714.7 164 L714.7 164.4 L714.7 164.9 L714.6 165.3 L714.6 165.7 L714.6 166.1 L714.6 166.5 L714.6 166.9 L714.5 167.3 L714.5 167.7 L714.5 168.2 L714.5 168.6 L714.5 169 L714.5 169.4 L714.5 169.8 L714.5 170.2 L714.5 170.6 L714.5 171 L714.5 171.5 L714.5 171.9 L714.5 172.3 L714.5 172.7 L714.6 173.1 L714.6 173.5 L714.6 173.9 L714.6 174.3 L714.6 174.8 L714.7 175.2 L714.7 175.6 L714.7 176 L714.7 176.4 L714.8 176.8 L714.8 177.2 L714.9 177.6 L714.9 178 L714.9 178.5 L715 178.9 L715 179.3 L715.1 179.7 L715.1 180.1 L715.2 180.5 L715.2 180.9 L715.3 181.3 L715.3 181.7 L715.4 182.1 L715.5 182.5 L715.5 183 L715.6 183.4 L715.7 183.8 L715.7 184.2 L715.8 184.6 L715.9 185 L715.9 185.4 L716 185.8 L716.1 186.2 L716.2 186.6 L716.3 187 L716.4 187.4 L716.4 187.8 L716.5 188.2 L716.6 188.6 L716.7 189 L716.8 189.4 L716.9 189.8 L717 190.2 L717.1 190.6 L717.2 191 L717.3 191.4 L717.4 191.8 L717.5 192.2 L717.7 192.6 L717.8 193 L717.9 193.4 L718 193.8 L718.1 194.2 L718.3 194.6 L718.4 195 L718.5 195.4 L718.6 195.8 L718.8 196.2 L718.9 196.6 L719 197 L719.2 197.3 L719.3 197.7 L719.4 198.1 L719.6 198.5 L719.7 198.9 L719.9 199.3 L720 199.7 L720.2 200 L720.3 200.4 L720.5 200.8 L720.6 201.2 L720.8 201.6 L720.9 202 L721.1 202.3 L721.3 202.7 L721.4 203.1 L721.6 203.5 L721.8 203.9 L721.9 204.2 L722.1 204.6 L722.3 205 L722.5 205.4 L722.6 205.7 L722.8 206.1 L723 206.5 L723.2 206.8 L723.4 207.2 L723.6 207.6 L723.7 207.9 L723.9 208.3 L724.1 208.7 L724.3 209 L724.5 209.4 L724.7 209.8 L724.9 210.1 L725.1 210.5 L725.3 210.8 L725.5 211.2 L725.7 211.6 L725.9 211.9 L726.1 212.3 L726.4 212.6 L726.6 213 L726.8 213.3 L727 213.7 L727.2 214 L727.4 214.4 L727.7 214.7 L727.9 215.1 L728.1 215.4 L728.4 215.8 L728.6 216.1 L728.8 216.4 L729 216.8 L729.3 217.1 L729.5 217.5 L729.8 217.8 L730 218.1 L730.2 218.5 L730.5 218.8 L730.7 219.1 L731 219.5 L731.2 219.8 L731.5 220.1 L731.7 220.4 L732 220.8 L732.2 221.1 L732.5 221.4 L732.7 221.7 L733 222.1 L733.3 222.4 L733.5 222.7 L733.8 223 L734.1 223.3 L734.3 223.6 L734.6 224 L734.9 224.3 L735.1 224.6 L735.4 224.9 L735.7 225.2 L736 225.5 L736.2 225.8 L736.5 226.1 L736.8 226.4 L737.1 226.7 L737.4 227 L737.7 227.3 L737.9 227.6 L738.2 227.9 L738.5 228.2 L738.8 228.5 L739.1 228.8 L739.4 229.1 L739.7 229.4 L740 229.6 L740.3 229.9 L740.6 230.2 L740.9 230.5 L741.2 230.8 L741.5 231 L741.8 231.3 L742.1 231.6 L742.4 231.9 L742.7 232.1 L743 232.4 L743.4 232.7 L743.7 233 L744 233.2 L744.3 233.5 L744.6 233.7 L744.9 234 L745.3 234.3 L745.6 234.5 L745.9 234.8 L746.2 235 L746.6 235.3 L746.9 235.5 L747.2 235.8 L747.5 236 L747.9 236.3 L748.2 236.5 L748.5 236.8 L748.9 237 L749.2 237.3 L749.6 237.5 L749.9 237.7 L750.2 238 L750.6 238.2 L750.9 238.4 L751.3 238.7 L751.6 238.9 L751.9 239.1 L752.3 239.3 L752.6 239.6 L753 239.8 L753.3 240 L753.7 240.2 L754 240.4 L754.4 240.6 L754.7 240.9 L755.1 241.1 L755.5 241.3 L755.8 241.5 L756.2 241.7 L756.5 241.9 L756.9 242.1 L757.3 242.3 L757.6 242.5 L758 242.7 L758.3 242.9 L758.7 243.1 L759.1 243.3 L759.4 243.5 L759.8 243.6 L760.2 243.8 L760.5 244 L760.9 244.2 L761.3 244.4 L761.7 244.5 L762 244.7 L762.4 244.9 L762.8 245.1 L763.2 245.2 L763.5 245.4 L763.9 245.6 L764.3 245.7 L764.7 245.9 L765.1 246.1 L765.4 246.2 L765.8 246.4 L766.2 246.5 L766.6 246.7 L767 246.8 L767.3 247 L767.7 247.1 L768.1 247.3 L768.5 247.4 L768.9 247.6 L769.3 247.7 L769.7 247.8 L770.1 248 L770.5 248.1 L770.8 248.2 L771.2 248.4 L771.6 248.5 L772 248.6 L772.4 248.8 L772.8 248.9 L773.2 249 L773.6 249.1 L774 249.2 L774.4 249.3 L774.8 249.5 L775.2 249.6 L775.6 249.7 L776 249.8 L776.4 249.9 L776.8 250 L777.2 250.1 L777.6 250.2 L778 250.3 L778.4 250.4 L778.8 250.5 L779.2 250.6 L779.6 250.6 L780 250.7 L780.4 250.8 L780.8 250.9 L781.2 251 L781.6 251.1 L782 251.1 L782.4 251.2 L782.8 251.3 L783.2 251.3 L783.6 251.4 L784.1 251.5 L784.5 251.5 L784.9 251.6 L785.3 251.7 L785.7 251.7 L786.1 251.8 L786.5 251.8 L786.9 251.9 L787.3 251.9 L787.7 252 L788.1 252 L788.6 252.1 L789 252.1 L789.4 252.1 L789.8 252.2 L790.2 252.2 L790.6 252.3 L791 252.3 L791.4 252.3 L791.8 252.3 L792.3 252.4 L792.7 252.4 L793.1 252.4 L793.5 252.4 L793.9 252.4 L794.3 252.5 L794.7 252.5 L795.1 252.5 L795.6 252.5 L796 252.5 L796.4 252.5 L796.8 252.5 L797.2 252.5 L797.6 252.5 L798 252.5 L798.4 252.5 L798.9 252.5 L799.3 252.5 L799.7 252.5 L800.1 252.4 L800.5 252.4 L800.9 252.4 L801.3 252.4 L801.7 252.4 L802.2 252.3 L802.6 252.3 L803 252.3 L803.4 252.3 L803.8 252.2 L804.2 252.2 L804.6 252.1 L805 252.1 L805.4 252.1 L805.9 252 L806.3 252 L806.7 251.9 L807.1 251.9 L807.5 251.8 L807.9 251.8 L808.3 251.7 L808.7 251.7 L809.1 251.6 L809.5 251.5 L809.9 251.5 L810.4 251.4 L810.8 251.3 L811.2 251.3 L811.6 251.2 L812 251.1 L812.4 251.1 L812.8 251 L813.2 250.9 L813.6 250.8 L814 250.7 L814.4 250.6 L814.8 250.6 L815.2 250.5 L815.6 250.4 L816 250.3 L816.4 250.2 L816.8 250.1 L817.2 250 L817.6 249.9 L818 249.8 L818.4 249.7 L818.8 249.6 L819.2 249.5 L819.6 249.3 L820 249.2 L820.4 249.1 L820.8 249 L821.2 248.9 L821.6 248.8 L822 248.6 L822.4 248.5 L822.8 248.4 L823.2 248.2 L823.5 248.1 L823.9 248 L824.3 247.8 L824.7 247.7 L825.1 247.6 L825.5 247.4 L825.9 247.3 L826.3 247.1 L826.7 247 L827 246.8 L827.4 246.7 L827.8 246.5 L828.2 246.4 L828.6 246.2 L828.9 246.1 L829.3 245.9 L829.7 245.7 L830.1 245.6 L830.5 245.4 L830.8 245.2 L831.2 245.1 L831.6 244.9 L832 244.7 L832.3 244.5 L832.7 244.4 L833.1 244.2 L833.5 244 L833.8 243.8 L834.2 243.6 L834.6 243.5 L834.9 243.3 L835.3 243.1 L835.7 242.9 L836 242.7 L836.4 242.5 L836.7 242.3 L837.1 242.1 L837.5 241.9 L837.8 241.7 L838.2 241.5 L838.5 241.3 L838.9 241.1 L839.3 240.9 L839.6 240.6 L840 240.4 L840.3 240.2 L840.7 240 L841 239.8 L841.4 239.6 L841.7 239.3 L842.1 239.1 L842.4 238.9 L842.7 238.7 L843.1 238.4 L843.4 238.2 L843.8 238 L844.1 237.7 L844.4 237.5 L844.8 237.3 L845.1 237 L845.5 236.8 L845.8 236.5 L846.1 236.3 L846.5 236 L846.8 235.8 L847.1 235.5 L847.4 235.3 L847.8 235 L848.1 234.8 L848.4 234.5 L848.7 234.3 L849.1 234 L849.4 233.7 L849.7 233.5 L850 233.2 L850.3 233 L850.6 232.7 L851 232.4 L851.3 232.1 L851.6 231.9 L851.9 231.6 L852.2 231.3 L852.5 231 L852.8 230.8 L853.1 230.5 L853.4 230.2 L853.7 229.9 L854 229.6 L854.3 229.4 L854.6 229.1 L854.9 228.8 L855.2 228.5 L855.5 228.2 L855.8 227.9 L856.1 227.6 L856.3 227.3 L856.6 227 L856.9 226.7 L857.2 226.4 L857.5 226.1 L857.8 225.8 L858 225.5 L858.3 225.2 L858.6 224.9 L858.9 224.6 L859.1 224.3 L859.4 224 L859.7 223.6 L859.9 223.3 L860.2 223 L860.5 222.7 L860.7 222.4 L861 222.1 L861.3 221.7 L861.5 221.4 L861.8 221.1 L862 220.8 L862.3 220.4 L862.5 220.1 L862.8 219.8 L863 219.5 L863.3 219.1 L863.5 218.8 L863.8 218.5 L864 218.1 L864.2 217.8 L864.5 217.5 L864.7 217.1 L865 216.8 L865.2 216.4 L865.4 216.1 L865.6 215.8 L865.9 215.4 L866.1 215.1 L866.3 214.7 L866.6 214.4 L866.8 214 L867 213.7 L867.2 213.3 L867.4 213 L867.6 212.6 L867.9 212.3 L868.1 211.9 L868.3 211.6 L868.5 211.2 L868.7 210.8 L868.9 210.5 L869.1 210.1 L869.3 209.8 L869.5 209.4 L869.7 209 L869.9 208.7 L870.1 208.3 L870.3 207.9 L870.4 207.6 L870.6 207.2 L870.8 206.8 L871 206.5 L871.2 206.1 L871.4 205.7 L871.5 205.4 L871.7 205 L871.9 204.6 L872.1 204.2 L872.2 203.9 L872.4 203.5 L872.6 203.1 L872.7 202.7 L872.9 202.3 L873.1 202 L873.2 201.6 L873.4 201.2 L873.5 200.8 L873.7 200.4 L873.8 200 L874 199.7 L874.1 199.3 L874.3 198.9 L874.4 198.5 L874.6 198.1 L874.7 197.7 L874.8 197.3 L875 197 L875.1 196.6 L875.2 196.2 L875.4 195.8 L875.5 195.4 L875.6 195 L875.7 194.6 L875.9 194.2 L876 193.8 L876.1 193.4 L876.2 193 L876.3 192.6 L876.5 192.2 L876.6 191.8 L876.7 191.4 L876.8 191 L876.9 190.6 L877 190.2 L877.1 189.8 L877.2 189.4 L877.3 189 L877.4 188.6 L877.5 188.2 L877.6 187.8 L877.6 187.4 L877.7 187 L877.8 186.6 L877.9 186.2 L878 185.8 L878.1 185.4 L878.1 185 L878.2 184.6 L878.3 184.2 L878.3 183.8 L878.4 183.4 L878.5 183 L878.5 182.5 L878.6 182.1 L878.7 181.7 L878.7 181.3 L878.8 180.9 L878.8 180.5 L878.9 180.1 L878.9 179.7 L879 179.3 L879 178.9 L879.1 178.5 L879.1 178 L879.1 177.6 L879.2 177.2 L879.2 176.8 L879.3 176.4 L879.3 176 L879.3 175.6 L879.3 175.2 L879.4 174.8 L879.4 174.3 L879.4 173.9 L879.4 173.5 L879.4 173.1 L879.5 172.7 L879.5 172.3 L879.5 171.9 L879.5 171.5 L879.5 171 L879.5 170.6 L879.5 170.2 L879.5 169.8 L879.5 169.4 L879.5 169 L879.5 168.6 L879.5 168.2 L879.5 167.7 L879.5 167.3 L879.4 166.9 L879.4 166.5 L879.4 166.1 L879.4 165.7 L879.4 165.3 L879.3 164.9 L879.3 164.4 L879.3 164 L879.3 163.6 L879.2 163.2 L879.2 162.8 L879.1 162.4 L879.1 162 L879.1 161.6 L879 161.2 L879 160.7 L878.9 160.3 L878.9 159.9 L878.8 159.5 L878.8 159.1 L878.7 158.7 L878.7 158.3 L878.6 157.9 L878.5 157.5 L878.5 157.1 L878.4 156.7 L878.3 156.3 L878.3 155.8 L878.2 155.4 L878.1 155 L878.1 154.6 L878 154.2 L877.9 153.8 L877.8 153.4 L877.7 153 L877.6 152.6 L877.6 152.2 L877.5 151.8 L877.4 151.4 L877.3 151 L877.2 150.6 L877.1 150.2 L877 149.8 L876.9 149.4 L876.8 149 L876.7 148.6 L876.6 148.2 L876.5 147.8 L876.3 147.4 L876.2 147 L876.1 146.6 L876 146.2 L875.9 145.8 L875.8 145.4 L875.6 145 L875.5 144.6 L875.4 144.2 L875.2 143.9 L875.1 143.5 L875 143.1 L874.8 142.7 L874.7 142.3 L874.6 141.9 L874.4 141.5 L874.3 141.1 L874.1 140.7 L874 140.4 L873.8 140 L873.7 139.6 L873.5 139.2 L873.4 138.8 L873.2 138.4 L873.1 138 L872.9 137.6 L872.7 137.1 L872.5 136.7 L872.3 136.2 L872.1 135.8 L871.9 135.3 L871.7 134.8 L871.5 134.4 L871.3 133.9 L871.1 133.4 L870.9 133 L870.7 132.5 L870.5 132.1 L870.4 131.6 L870.2 131.1 L870 130.7 L869.8 130.2 L869.6 129.7 L869.4 129.3 L869.2 128.8 L869 128.4 L868.8 127.9 L868.6 127.4 L868.4 127 L868.2 126.5 L868 126 L867.8 125.6 L867.6 125.1 L867.4 124.7 L867.2 124.2 L867.1 123.7 L866.9 123.3 L866.7 122.8 L866.5 122.3 L866.3 121.9 L866.1 121.4 L865.9 121 L865.7 120.5 L865.5 120 L865.3 119.6 L865.1 119.1 L864.9 118.6 L864.7 118.2 L864.5 117.7 L864.3 117.3 L864.1 116.8 L863.9 116.3 L863.8 115.9 L863.6 115.4 L863.4 115 L863.2 114.5 L863 114 L862.8 113.6 L862.6 113.1 L862.4 112.6 L862.2 112.2 L862 111.7 L861.8 111.3 L861.6 110.8 L861.4 110.3 L861.2 109.9 L861 109.4 L860.8 108.9 L860.6 108.5 L860.5 108 L860.3 107.6 L860.1 107.1 L859.9 106.6 L859.7 106.2 L859.5 105.7 L859.3 105.2 L859.1 104.8 L858.9 104.3 L858.7 103.9 L858.5 103.4 L858.3 102.9 L858.1 102.5 L857.9 102 L857.7 101.5 L857.5 101.1 L857.3 100.6 L857.2 100.2 L857 99.7 L856.8 99.2 L856.6 98.8 L856.4 98.3 L856.2 97.9 L856 97.4 L855.8 96.9 L855.6 96.5 L855.4 96 L855.2 95.5 L855 95.1 L854.8 94.6 L854.6 94.2 L854.4 93.7 L854.2 93.2 L854 92.8 L853.9 92.3 L853.7 91.8 L853.5 91.4 L853.3 90.9 L853.1 90.5 L852.9 90 L852.7 89.5 L852.5 89.1 L852.3 88.6 L852.1 88.1 L851.9 87.7 L851.7 87.2 L851.5 86.8 L851.3 86.3 L851.1 85.8 L850.9 85.4 L850.8 84.9 L850.6 84.4 L850.4 84 L850.2 83.5 L850 83.1 L849.8 82.6 L849.6 82.1 L849.4 81.7 L849.2 81.2 L849 80.8 L848.8 80.3 L848.6 79.8 L848.4 79.4 L848.2 78.9 L848 78.4 L847.8 78 L847.6 77.5 L847.5 77.1 L847.3 76.6 L847.1 76.1 L846.9 75.7 L846.7 75.2 L846.5 74.7 L846.3 74.3 L846.1 73.8 L845.9 73.3 L845.6 72.6 L845.3 71.9 L845 71.2 L844.8 70.5 L844.5 69.7 L844.3 69 L844.1 68.3 L843.9 67.5 L843.7 66.8 L843.5 66 L843.3 65.3 L843.1 64.5 L843 63.7 L842.8 63 L842.7 62.2 L842.6 61.4 L842.4 60.7 L842.4 59.9 L842.3 59.1 L842.2 58.4 L842.1 57.6 L842.1 56.8 L842 56.1 L842 55.3 L842 54.5 L842 53.7 L842 53 L842 52.2 L842.1 51.4 L842.1 50.6 L842.2 49.9 L842.2 49.1 L842.3 48.3 L842.4 47.5 L842.5 46.8 L842.6 46 L842.8 45.2 L842.9 44.5 L843.1 43.7 L843.2 43 L843.4 42.2 L843.6 41.5 L843.8 40.7 L844 40 L844.2 39.2 L844.5 38.5 L844.7 37.8 L845 37 L845.2 36.3 L845.5 35.6 L845.8 34.9 L846.1 34.1 L846.4 33.4 L846.7 32.7 L847.1 32 L847.4 31.3 L847.8 30.6 L848.2 30 L848.5 29.3 L848.9 28.6 L849.3 28 L849.7 27.3 L850.1 26.6 L850.6 26 L851 25.4 L851.5 24.7 L851.9 24.1 L852.4 23.5 L852.9 22.9 L853.4 22.3 L853.9 21.7 L854.4 21.1 L854.9 20.5 L855.4 19.9 L855.9 19.4 L856.5 18.8 L857 18.3 L857.6 17.7 L858.1 17.2 L858.7 16.7 L859.3 16.2 L859.9 15.7 L860.5 15.2 L861.1 14.7 L861.7 14.2 L862.3 13.8 L863 13.3 L863.6 12.9 L864.2 12.4 L864.9 12 L865.5 11.6 L866.2 11.2 L866.9 10.8 L867.5 10.4 L868.2 10 L868.9 9.7 L869.6 9.3 L870.3 9 L871 8.6 L871.7 8.3 L872.4 8 L873.1 7.7 L873.8 7.4 L874.6 7.1 L875.3 6.9 L876 6.6 L876.7 6.4 L877.5 6.2 L878.2 5.9 L879 5.7 L879.7 5.5 L880.5 5.3 L881.2 5.2 L882 5 L882.8 4.9 L883.5 4.7 L884.3 4.6 L885 4.5 L885.8 4.4 L886.6 4.3 L887.4 4.2 L888.1 4.2 L888.9 4.1 L889.7 4.1 L890.5 4 L891.2 4 L891.9 4 L892.5 4 L893 4 L893.5 4 L894 4 L894.5 4 L895 4 L895.5 4 L896 4 L896.5 4 L897 4 L897.5 4 L898 4 L898.5 4 L899 4 L899.5 4 L900 4 L900.5 4 L901 4 L901.5 4 L902 4 L902.5 4 L903 4 L903.5 4 L904 4 L904.5 4 L905 4 L905.5 4 L906 4 L906.5 4 L907 4 L907.5 4 L908 4 L908.5 4 L909 4 L909.5 4 L910 4 L910.5 4 L911 4 L911.5 4 L912 4 L912.5 4 L913 4 L913.5 4 L914 4 L914.5 4 L915 4 L915.5 4 L916 4 L916.5 4 L917 4 L917.5 4 L918 4 L918.5 4 L919 4 L919.5 4 L920 4 L920.5 4 L921 4 L921.5 4 L922 4 L922.5 4 L923 4 L923.5 4 L924 4 L924.5 4 L925 4 L925.5 4 L926 4 L926.5 4 L927 4 L927.5 4 L928 4 L928.5 4 L929 4 L929.5 4 L930 4 L930.5 4 L931 4 L931.5 4 L932 4 L932.5 4 L933 4 L933.5 4 L934 4 L934.5 4 L935 4 L935.5 4 L936 4 L936.5 4 L937 4 L937.5 4 L938 4 L938.5 4 L939 4 L939.5 4 L940 4 L940.5 4 L941 4 L941.5 4 L942 4 L942.5 4 L943 4 L943.5 4 L944 4 L944.5 4 L945 4 L945.5 4 L946 4 L946.5 4 L947 4 L947.5 4 L948 4 L948.5 4 L949 4 L949.5 4 L950 4 L950.5 4 L951 4 L951.5 4 L952 4 L952.5 4 L953 4 L953.5 4 L954 4 L954.5 4 L955 4 L955.5 4 L956 4 L956.5 4 L957 4 L957.5 4 L958 4 L958.5 4 L959 4 L959.5 4 L960 4 L960.5 4 L961 4 L961.5 4 L962 4 L962.5 4 L963 4 L963.5 4 L964 4 L964.5 4 L965 4 L965.5 4 L966 4 L966.5 4 L967 4 L967.5 4 L968 4 L968.5 4 L969 4 L969.5 4 L970 4 L970.5 4 L971 4 L971.5 4 L972 4 L972.5 4 L973 4 L973.5 4 L974 4 L974.5 4 L975 4 L975.5 4 L976 4 L976.5 4 L977 4 L977.5 4 L978 4 L978.5 4 L979 4 L979.5 4 L980 4 L980.5 4 L981 4 L981.5 4 L982 4 L982.5 4 L983 4 L983.5 4 L984 4 L984.5 4 L985 4 L985.5 4 L986 4 L986.5 4 L987 4 L987.5 4 L988 4 L988.5 4 L989 4 L989.5 4 L990 4 L990.5 4 L991 4 L991.5 4 L992 4 L992.5 4 L993 4 L993.5 4 L994 4 L994.5 4 L995 4 L995.5 4 L996 4 L996.5 4 L997 4 L997.5 4 L998 4 L998.5 4 L999 4 L999.5 4 L1000 4 L1000.5 4 L1001 4 L1001.5 4 L1002 4 L1002.5 4 L1003 4 L1003.5 4 L1004 4 L1004.5 4 L1005 4 L1005.5 4 L1006 4 L1006.5 4 L1007 4 L1007.5 4 L1008 4 L1008.5 4 L1009 4 L1009.5 4 L1010 4 L1010.5 4 L1011 4 L1011.5 4 L1012 4 L1012.5 4 L1013 4 L1013.5 4 L1014 4 L1014.5 4 L1015 4 L1015.5 4 L1016 4 L1016.5 4 L1017 4 L1017.5 4 L1018 4 L1018.5 4 L1019 4 L1019.5 4 L1020 4 L1020.5 4 L1021 4 L1021.5 4 L1022 4 L1022.5 4 L1023 4 L1023.5 4 L1024 4 L1024.5 4 L1025 4 L1025.5 4 L1026 4 L1026.5 4 L1027 4 L1027.5 4 L1028 4 L1028.5 4 L1029 4 L1029.5 4 L1030 4 L1030.5 4 L1031 4 L1031.5 4 L1032 4 L1032.5 4 L1033 4 L1033.5 4 L1034 4 L1034.5 4 L1035 4 L1035.5 4 L1036 4 L1036.5 4 L1037 4 L1037.5 4 L1038 4 L1038.5 4 L1039 4 L1039.5 4 L1040 4 L1040.5 4 L1041 4 L1041.5 4 L1042 4 L1042.5 4 L1043 4 L1043.5 4 L1044 4 L1044.5 4 L1045 4 L1045.5 4 L1046 4 L1046.5 4 L1047 4 L1047.5 4 L1048 4 L1048.5 4 L1049 4 L1049.5 4 L1050 4 L1050.5 4 L1051 4 L1051.5 4 L1052 4 L1052.5 4 L1053 4 L1053.5 4 L1054 4 L1054.5 4 L1055 4 L1055.5 4 L1056 4 L1056.5 4 L1057 4 L1057.5 4 L1058 4 L1058.5 4 L1059 4 L1059.5 4 L1060 4 L1060.5 4 L1061 4 L1061.5 4 L1062 4 L1062.5 4 L1063 4 L1063.5 4 L1064 4 L1064.5 4 L1065 4 L1065.5 4 L1066 4 L1066.5 4 L1067 4 L1067.5 4 L1068 4 L1068.5 4 L1069 4 L1069.5 4 L1070 4 L1070.5 4 L1071 4 L1071.5 4 L1072 4 L1072.5 4 L1073 4 L1073.5 4 L1074 4 L1074.5 4 L1075 4 L1075.5 4 L1076 4 L1076.5 4 L1077 4 L1077.5 4 L1078 4 L1078.5 4 L1079 4 L1079.5 4 L1080 4 L1080.5 4 L1081 4 L1081.5 4 L1082 4 L1082.5 4 L1083 4 L1083.5 4 L1084 4 L1084.5 4 L1085 4 L1085.5 4 L1086 4 L1086.5 4 L1087 4 L1087.5 4 L1088 4 L1088.5 4 L1089 4 L1089.5 4 L1090 4 L1090.5 4 L1091 4 L1091.5 4 L1092 4 L1092.5 4 L1093 4 L1093.5 4 L1094 4 L1094.5 4 L1095 4 L1095.5 4 L1096 4 L1096.5 4 L1097 4 L1097.5 4 L1098 4 L1098.5 4 L1099 4 L1099.5 4 L1100 4 L1100.5 4 L1101 4 L1101.5 4 L1102 4 L1102.5 4 L1103 4 L1103.5 4 L1104 4 L1104.5 4 L1105 4 L1105.5 4 L1106 4 L1106.5 4 L1107 4 L1107.5 4 L1108 4 L1108.5 4 L1109 4 L1109.5 4 L1110 4 L1110.5 4 L1111 4 L1111.5 4 L1112 4 L1112.5 4 L1113 4 L1113.5 4 L1114 4 L1114.5 4 L1115 4 L1115.5 4 L1116 4 L1116.5 4 L1117 4 L1117.5 4 L1118 4 L1118.5 4 L1119 4 L1119.5 4 L1120 4 L1120.5 4 L1121 4 L1121.5 4 L1122 4 L1122.5 4 L1123 4 L1123.5 4 L1124 4 L1124.5 4 L1125 4 L1125.5 4 L1126 4 L1126.5 4 L1127 4 L1127.5 4 L1128 4 L1128.5 4 L1129 4 L1129.5 4 L1130 4 L1130.5 4 L1131 4 L1131.5 4 L1132 4 L1132.5 4 L1133 4 L1133.5 4 L1134 4 L1134.5 4 L1135 4 L1135.5 4 L1136 4 L1136.5 4 L1137 4 L1137.5 4 L1138 4 L1138.5 4 L1139 4 L1139.5 4 L1140 4 L1140.5 4 L1141 4 L1141.5 4 L1142 4 L1142.5 4 L1143 4 L1143.5 4 L1144 4 L1144.5 4 L1145 4 L1145.5 4 L1146 4 L1146.5 4 L1147 4 L1147.5 4 L1148 4 L1148.5 4 L1149 4 L1149.5 4 L1150 4 L1150.5 4 L1151 4 L1151.5 4 L1152 4 L1152.5 4 L1153 4 L1153.5 4 L1154 4 L1154.5 4 L1155 4 L1155.5 4 L1156 4 L1156.5 4 L1157 4 L1157.5 4 L1158 4 L1158.5 4 L1159 4 L1159.5 4 L1160 4 L1160.5 4 L1161 4 L1161.5 4 L1162 4 L1162.5 4 L1163 4 L1163.5 4 L1164 4 L1164.5 4 L1165 4 L1165.5 4 L1166 4 L1166.5 4 L1167 4 L1167.5 4 L1168 4 L1168.5 4 L1169 4 L1169.5 4 L1170 4 L1170.5 4 L1171 4 L1171.5 4 L1172 4 L1172.5 4 L1173 4 L1173.5 4 L1174 4 L1174.5 4 L1175 4 L1175.5 4 L1176 4 L1176.5 4 L1177 4 L1177.5 4 L1178 4 L1178.5 4 L1179 4 L1179.5 4 L1180 4 L1180.5 4 L1181 4 L1181.5 4 L1182 4 L1182.5 4 L1183 4 L1183.5 4 L1184 4 L1184.5 4 L1185 4 L1185.5 4 L1186 4 L1186.5 4 L1187 4 L1187.5 4 L1188 4 L1188.5 4 L1189 4 L1189.5 4 L1190 4 L1190.5 4 L1191 4 L1191.5 4 L1192 4 L1192.5 4 L1193 4 L1193.5 4 L1194 4 L1194.5 4 L1195 4 L1195.5 4 L1196 4 L1196.5 4 L1197 4 L1197.5 4 L1198 4 L1198.5 4 L1199 4 L1199.5 4 L1200 4 L1200.5 4 L1201 4 L1201.5 4 L1202 4 L1202.5 4 L1203 4 L1203.5 4 L1204 4 L1204.5 4 L1205 4 L1205.5 4 L1206 4 L1206.5 4 L1207 4 L1207.5 4 L1208 4 L1208.5 4 L1209 4 L1209.5 4 L1210 4 L1210.5 4 L1211 4 L1211.5 4 L1212 4 L1212.5 4 L1213 4 L1213.5 4 L1214 4 L1214.5 4 L1215 4 L1215.5 4 L1216 4 L1216.5 4 L1217 4 L1217.5 4 L1218 4 L1218.5 4 L1219 4 L1219.5 4 L1220 4 L1220.5 4 L1221 4 L1221.5 4 L1222 4 L1222.5 4 L1223 4 L1223.5 4 L1224 4 L1224.5 4 L1225 4 L1225.5 4 L1226 4 L1226.5 4 L1227 4 L1227.5 4 L1228 4 L1228.5 4 L1229 4 L1229.5 4 L1230 4 L1230.5 4 L1231 4 L1231.5 4 L1232 4 L1232.5 4 L1233 4 L1233.5 4 L1234 4 L1234.5 4 L1235 4 L1235.5 4 L1236 4 L1236.5 4 L1237 4 L1237.5 4 L1238 4 L1238.5 4 L1239 4 L1239.5 4 L1240 4 L1240.5 4 L1241 4 L1241.5 4 L1242 4 L1242.5 4 L1243 4 L1243.5 4 L1244 4 L1244.5 4 L1245 4 L1245.5 4 L1246 4 L1246.5 4 L1247 4 L1247.5 4 L1248 4 L1248.5 4 L1249 4 L1249.5 4 L1250 4 L1250.5 4 L1251 4 L1251.5 4 L1252 4 L1252.5 4 L1253 4 L1253.5 4 L1254 4 L1254.5 4 L1255 4 L1255.5 4 L1256 4 L1256.5 4 L1257 4 L1257.5 4 L1258 4 L1258.5 4 L1259 4 L1259.5 4 L1260 4 L1260.5 4 L1261 4 L1261.5 4 L1262 4 L1262.5 4 L1263 4 L1263.5 4 L1264 4 L1264.5 4 L1265 4 L1265.5 4 L1266 4 L1266.5 4 L1267 4 L1267.5 4 L1268 4 L1268.5 4 L1269 4 L1269.5 4 L1270 4 L1270.5 4 L1271 4 L1271.5 4 L1272 4 L1272 -2Z" fill="#fff"/><path d="M414 21.5 L414.5 21.5 L415 21.5 L415.5 21.5 L416 21.5 L416.5 21.5 L417 21.5 L417.5 21.5 L418 21.5 L418.5 21.5 L419 21.5 L419.5 21.5 L420 21.5 L420.5 21.5 L421 21.5 L421.5 21.5 L422 21.5 L422.5 21.5 L423 21.5 L423.5 21.5 L424 21.5 L424.5 21.5 L425 21.5 L425.5 21.5 L426 21.5 L426.5 21.5 L427 21.5 L427.5 21.5 L428 21.5 L428.5 21.5 L429 21.5 L429.5 21.5 L430 21.5 L430.5 21.5 L431 21.5 L431.5 21.5 L432 21.5 L432.5 21.5 L433 21.5 L433.5 21.5 L434 21.5 L434.5 21.5 L435 21.5 L435.5 21.5 L436 21.5 L436.5 21.5 L437 21.5 L437.5 21.5 L438 21.5 L438.5 21.5 L439 21.5 L439.5 21.5 L440 21.5 L440.5 21.5 L441 21.5 L441.5 21.5 L442 21.5 L442.5 21.5 L443 21.5 L443.5 21.5 L444 21.5 L444.5 21.5 L445 21.5 L445.5 21.5 L446 21.5 L446.5 21.5 L447 21.5 L447.5 21.5 L448 21.5 L448.5 21.5 L449 21.5 L449.5 21.5 L450 21.5 L450.5 21.5 L451 21.5 L451.5 21.5 L452 21.5 L452.5 21.5 L453 21.5 L453.5 21.5 L454 21.5 L454.5 21.5 L455 21.5 L455.5 21.5 L456 21.5 L456.5 21.5 L457 21.5 L457.5 21.5 L458 21.5 L458.5 21.5 L459 21.5 L459.5 21.5 L460 21.5 L460.5 21.5 L461 21.5 L461.5 21.5 L462 21.5 L462.5 21.5 L463 21.5 L463.5 21.5 L464 21.5 L464.5 21.5 L465 21.5 L465.5 21.5 L466 21.5 L466.5 21.5 L467 21.5 L467.5 21.5 L468 21.5 L468.5 21.5 L469 21.5 L469.5 21.5 L470 21.5 L470.5 21.5 L471 21.5 L471.5 21.5 L472 21.5 L472.5 21.5 L473 21.5 L473.5 21.5 L474 21.5 L474.5 21.5 L475 21.5 L475.5 21.5 L476 21.5 L476.5 21.5 L477 21.5 L477.5 21.5 L478 21.5 L478.5 21.5 L479 21.5 L479.5 21.5 L480 21.5 L480.5 21.5 L481 21.5 L481.5 21.5 L482 21.5 L482.5 21.5 L483 21.5 L483.5 21.5 L484 21.5 L484.5 21.5 L485 21.5 L485.5 21.5 L486 21.5 L486.5 21.5 L487 21.5 L487.5 21.5 L488 21.5 L488.5 21.5 L489 21.5 L489.5 21.5 L490 21.5 L490.5 21.5 L491 21.5 L491.5 21.5 L492 21.5 L492.5 21.5 L493 21.5 L493.5 21.5 L494 21.5 L494.5 21.5 L495 21.5 L495.5 21.5 L496 21.5 L496.5 21.5 L497 21.5 L497.5 21.5 L498 21.5 L498.5 21.5 L499 21.5 L499.5 21.5 L500 21.5 L500.5 21.5 L501 21.5 L501.5 21.5 L502 21.5 L502.5 21.5 L503 21.5 L503.5 21.5 L504 21.5 L504.5 21.5 L505 21.5 L505.5 21.5 L506 21.5 L506.5 21.5 L507 21.5 L507.5 21.5 L508 21.5 L508.5 21.5 L509 21.5 L509.5 21.5 L510 21.5 L510.5 21.5 L511 21.5 L511.5 21.5 L512 21.5 L512.5 21.5 L513 21.5 L513.5 21.5 L514 21.5 L514.5 21.5 L515 21.5 L515.5 21.5 L516 21.5 L516.5 21.5 L517 21.5 L517.5 21.5 L518 21.5 L518.5 21.5 L519 21.5 L519.5 21.5 L520 21.5 L520.5 21.5 L521 21.5 L521.5 21.5 L522 21.5 L522.5 21.5 L523 21.5 L523.5 21.5 L524 21.5 L524.5 21.5 L525 21.5 L525.5 21.5 L526 21.5 L526.5 21.5 L527 21.5 L527.5 21.5 L528 21.5 L528.5 21.5 L529 21.5 L529.5 21.5 L530 21.5 L530.5 21.5 L531 21.5 L531.5 21.5 L532 21.5 L532.5 21.5 L533 21.5 L533.5 21.5 L534 21.5 L534.5 21.5 L535 21.5 L535.5 21.5 L536 21.5 L536.5 21.5 L537 21.5 L537.5 21.5 L538 21.5 L538.5 21.5 L539 21.5 L539.5 21.5 L540 21.5 L540.5 21.5 L541 21.5 L541.5 21.5 L542 21.5 L542.5 21.5 L543 21.5 L543.5 21.5 L544 21.5 L544.5 21.5 L545 21.5 L545.5 21.5 L546 21.5 L546.5 21.5 L547 21.5 L547.5 21.5 L548 21.5 L548.5 21.5 L549 21.5 L549.5 21.5 L550 21.5 L550.5 21.5 L551 21.5 L551.5 21.5 L552 21.5 L552.5 21.5 L553 21.5 L553.5 21.5 L554 21.5 L554.5 21.5 L555 21.5 L555.5 21.5 L556 21.5 L556.5 21.5 L557 21.5 L557.5 21.5 L558 21.5 L558.5 21.5 L559 21.5 L559.5 21.5 L560 21.5 L560.5 21.5 L561 21.5 L561.5 21.5 L562 21.5 L562.5 21.5 L563 21.5 L563.5 21.5 L564 21.5 L564.5 21.5 L565 21.5 L565.5 21.5 L566 21.5 L566.5 21.5 L567 21.5 L567.5 21.5 L568 21.5 L568.5 21.5 L569 21.5 L569.5 21.5 L570 21.5 L570.5 21.5 L571 21.5 L571.5 21.5 L572 21.5 L572.5 21.5 L573 21.5 L573.5 21.5 L574 21.5 L574.5 21.5 L575 21.5 L575.5 21.5 L576 21.5 L576.5 21.5 L577 21.5 L577.5 21.5 L578 21.5 L578.5 21.5 L579 21.5 L579.5 21.5 L580 21.5 L580.5 21.5 L581 21.5 L581.5 21.5 L582 21.5 L582.5 21.5 L583 21.5 L583.5 21.5 L584 21.5 L584.5 21.5 L585 21.5 L585.5 21.5 L586 21.5 L586.5 21.5 L587 21.5 L587.5 21.5 L588 21.5 L588.5 21.5 L589 21.5 L589.5 21.5 L590 21.5 L590.5 21.5 L591 21.5 L591.5 21.5 L592 21.5 L592.5 21.5 L593 21.5 L593.5 21.5 L594 21.5 L594.5 21.5 L595 21.5 L595.5 21.5 L596 21.5 L596.5 21.5 L597 21.5 L597.5 21.5 L598 21.5 L598.5 21.5 L599 21.5 L599.5 21.5 L600 21.5 L600.5 21.5 L601 21.5 L601.5 21.5 L602 21.5 L602.5 21.5 L603 21.5 L603.5 21.5 L604 21.5 L604.5 21.5 L605 21.5 L605.5 21.5 L606 21.5 L606.5 21.5 L607 21.5 L607.5 21.5 L608 21.5 L608.5 21.5 L609 21.5 L609.5 21.5 L610 21.5 L610.5 21.5 L611 21.5 L611.5 21.5 L612 21.5 L612.5 21.5 L613 21.5 L613.5 21.5 L614 21.5 L614.5 21.5 L615 21.5 L615.5 21.5 L616 21.5 L616.5 21.5 L617 21.5 L617.5 21.5 L618 21.5 L618.5 21.5 L619 21.5 L619.5 21.5 L620 21.5 L620.5 21.5 L621 21.5 L621.5 21.5 L622 21.5 L622.5 21.5 L623 21.5 L623.5 21.5 L624 21.5 L624.5 21.5 L625 21.5 L625.5 21.5 L626 21.5 L626.5 21.5 L627 21.5 L627.5 21.5 L628 21.5 L628.5 21.5 L629 21.5 L629.5 21.5 L630 21.5 L630.5 21.5 L631 21.5 L631.5 21.5 L632 21.5 L632.5 21.5 L633 21.5 L633.5 21.5 L634 21.5 L634.5 21.5 L635 21.5 L635.5 21.5 L636 21.5 L636.5 21.5 L637 21.5 L637.5 21.5 L638 21.5 L638.5 21.5 L639 21.5 L639.5 21.5 L640 21.5 L640.5 21.5 L641 21.5 L641.5 21.5 L642 21.5 L642.5 21.5 L643 21.5 L643.5 21.5 L644 21.5 L644.5 21.5 L645 21.5 L645.5 21.5 L646 21.5 L646.5 21.5 L647 21.5 L647.5 21.5 L648 21.5 L648.5 21.5 L649 21.5 L649.5 21.5 L650 21.5 L650.5 21.5 L651 21.5 L651.5 21.5 L652 21.5 L652.5 21.5 L653 21.5 L653.5 21.5 L654 21.5 L654.5 21.5 L655 21.5 L655.5 21.5 L656 21.5 L656.5 21.5 L657 21.5 L657.5 21.5 L658 21.5 L658.5 21.5 L659 21.5 L659.5 21.5 L660 21.5 L660.5 21.5 L661 21.5 L661.5 21.5 L662 21.5 L662.5 21.5 L663 21.5 L663.5 21.5 L664 21.5 L664.5 21.5 L665 21.5 L665.5 21.5 L666 21.5 L666.5 21.5 L667 21.5 L667.5 21.5 L668 21.5 L668.5 21.5 L669 21.5 L669.5 21.5 L670 21.5 L670.5 21.5 L671 21.5 L671.5 21.5 L672 21.5 L672.5 21.5 L673 21.5 L673.5 21.5 L674 21.5 L674.5 21.5 L675 21.5 L675.5 21.5 L676 21.5 L676.5 21.5 L677 21.5 L677.5 21.5 L678 21.5 L678.5 21.5 L679 21.5 L679.5 21.5 L680 21.5 L680.5 21.5 L681 21.5 L681.5 21.5 L682 21.5 L682.5 21.5 L683 21.5 L683.5 21.5 L684 21.5 L684.5 21.5 L685 21.5 L685.5 21.5 L686 21.5 L686.5 21.5 L687 21.5 L687.5 21.5 L688 21.5 L688.5 21.5 L689 21.5 L689.5 21.5 L690 21.5 L690.5 21.5 L691 21.5 L691.5 21.5 L692 21.5 L692.5 21.5 L693 21.5 L693.5 21.5 L694 21.5 L694.5 21.5 L695 21.5 L695.5 21.5 L696 21.5 L696.5 21.5 L697 21.5 L697.5 21.5 L698 21.5 L698.5 21.5 L699 21.5 L699.5 21.5 L700 21.5 L700.5 21.5 L701 21.5 L701.5 21.5 L702 21.5 L702.5 21.5 L703 21.5 L703.5 21.5 L704 21.6 L704.5 21.6 L705 21.6 L705.5 21.7 L706 21.7 L706.5 21.8 L707 21.9 L707.5 22 L708 22.1 L708.5 22.2 L709 22.3 L709.5 22.4 L710 22.5 L710.5 22.6 L710.9 22.8 L711.4 22.9 L711.9 23 L712.4 23.2 L712.9 23.4 L713.3 23.5 L713.8 23.7 L714.3 23.9 L714.7 24.1 L715.2 24.3 L715.7 24.5 L716.1 24.7 L716.6 25 L717 25.2 L717.5 25.4 L717.9 25.7 L718.3 25.9 L718.8 26.2 L719.2 26.4 L719.6 26.7 L720.1 27 L720.5 27.3 L720.9 27.5 L721.3 27.8 L721.7 28.1 L722.1 28.5 L722.5 28.8 L722.9 29.1 L723.3 29.4 L723.6 29.7 L724 30.1 L724.4 30.4 L724.7 30.8 L725.1 31.1 L725.4 31.5 L725.8 31.9 L726.1 32.2 L726.5 32.6 L726.8 33 L727.1 33.4 L727.4 33.8 L727.7 34.2 L728.1 34.6 L728.3 35 L728.6 35.4 L728.9 35.8 L729.2 36.2 L729.5 36.6 L729.7 37.1 L730 37.5 L730.3 37.9 L730.5 38.4 L730.7 38.8 L731 39.3 L731.2 39.7 L731.4 40.2 L731.6 40.6 L731.8 41.1 L732 41.6 L732.2 42 L732.4 42.5 L732.6 43 L732.7 43.4 L732.9 43.9 L733 44.4 L733.2 44.9 L733.3 45.4 L733.5 45.9 L733.6 46.3 L733.7 46.8 L733.8 47.3 L733.9 47.8 L734 48.3 L734.1 48.8 L734.2 49.3 L734.2 49.8 L734.3 50.3 L734.3 50.8 L734.4 51.3 L734.4 51.8 L734.5 52.3 L734.5 52.8 L734.5 53.3 L734.5 53.8 L734.5 54.3 L734.5 54.8 L734.5 55.3 L734.4 55.8 L734.4 56.3 L734.4 56.8 L734.3 57.3 L734.3 57.8 L734.2 58.3 L734.1 58.8 L734.1 59.3 L734 59.8 L733.9 60.3 L733.8 60.8 L733.7 61.3 L733.5 61.8 L733.4 62.3 L733.3 62.8 L733.2 63.3 L733 63.7 L732.8 64.2 L732.7 64.7 L732.5 65.2 L732.3 65.6 L732.2 66.1 L732 66.6 L731.8 67 L731.6 67.5 L731.4 68 L731.2 68.4 L731 68.9 L730.8 69.4 L730.6 69.8 L730.4 70.3 L730.2 70.7 L730 71.2 L729.8 71.7 L729.6 72.1 L729.4 72.6 L729.2 73.1 L729.1 73.5 L728.9 74 L728.7 74.4 L728.5 74.9 L728.3 75.4 L728.1 75.8 L727.9 76.3 L727.7 76.7 L727.5 77.2 L727.3 77.7 L727.1 78.1 L726.9 78.6 L726.7 79.1 L726.5 79.5 L726.3 80 L726.1 80.4 L725.9 80.9 L725.8 81.4 L725.6 81.8 L725.4 82.3 L725.2 82.8 L725 83.2 L724.8 83.7 L724.6 84.1 L724.4 84.6 L724.2 85.1 L724 85.5 L723.8 86 L723.6 86.5 L723.4 86.9 L723.2 87.4 L723 87.8 L722.8 88.3 L722.7 88.8 L722.5 89.2 L722.3 89.7 L722.1 90.2 L721.9 90.6 L721.7 91.1 L721.5 91.5 L721.3 92 L721.1 92.5 L720.9 92.9 L720.7 93.4 L720.5 93.9 L720.3 94.3 L720.1 94.8 L719.9 95.2 L719.7 95.7 L719.5 96.2 L719.4 96.6 L719.2 97.1 L719 97.5 L718.8 98 L718.6 98.5 L718.4 98.9 L718.2 99.4 L718 99.9 L717.8 100.3 L717.6 100.8 L717.4 101.2 L717.2 101.7 L717 102.2 L716.8 102.6 L716.6 103.1 L716.4 103.6 L716.2 104 L716.1 104.5 L715.9 104.9 L715.7 105.4 L715.5 105.9 L715.3 106.3 L715.1 106.8 L714.9 107.3 L714.7 107.7 L714.5 108.2 L714.3 108.6 L714.1 109.1 L713.9 109.6 L713.7 110 L713.5 110.5 L713.3 111 L713.1 111.4 L712.9 111.9 L712.8 112.3 L712.6 112.8 L712.4 113.3 L712.2 113.7 L712 114.2 L711.8 114.6 L711.6 115.1 L711.4 115.6 L711.2 116 L711 116.5 L710.8 117 L710.6 117.4 L710.4 117.9 L710.2 118.3 L710 118.8 L709.8 119.3 L709.6 119.7 L709.5 120.2 L709.3 120.7 L709.1 121.1 L708.9 121.6 L708.7 122 L708.5 122.5 L708.3 123 L708.1 123.4 L707.9 123.9 L707.7 124.4 L707.5 124.8 L707.3 125.3 L707.1 125.7 L706.9 126.2 L706.7 126.7 L706.5 127.1 L706.4 127.6 L706.2 128.1 L706 128.5 L705.8 129 L705.6 129.4 L705.4 129.9 L705.2 130.4 L705 130.8 L704.8 131.3 L704.6 131.7 L704.4 132.2 L704.2 132.7 L704 133.1 L703.9 133.6 L703.7 134.1 L703.5 134.5 L703.3 135 L703.1 135.5 L703 135.9 L702.8 136.4 L702.6 136.9 L702.5 137.4 L702.3 137.8 L702.2 138.3 L702 138.8 L701.8 139.3 L701.7 139.7 L701.5 140.2 L701.4 140.7 L701.2 141.2 L701.1 141.6 L701 142.1 L700.8 142.6 L700.7 143.1 L700.6 143.6 L700.4 144.1 L700.3 144.5 L700.2 145 L700 145.5 L699.9 146 L699.8 146.5 L699.7 147 L699.6 147.5 L699.5 147.9 L699.4 148.4 L699.2 148.9 L699.1 149.4 L699 149.9 L698.9 150.4 L698.8 150.9 L698.8 151.4 L698.7 151.9 L698.6 152.3 L698.5 152.8 L698.4 153.3 L698.3 153.8 L698.2 154.3 L698.2 154.8 L698.1 155.3 L698 155.8 L697.9 156.3 L697.9 156.8 L697.8 157.3 L697.7 157.8 L697.7 158.3 L697.6 158.8 L697.6 159.3 L697.5 159.8 L697.5 160.3 L697.4 160.8 L697.4 161.3 L697.3 161.8 L697.3 162.3 L697.3 162.8 L697.2 163.3 L697.2 163.8 L697.2 164.3 L697.1 164.8 L697.1 165.3 L697.1 165.8 L697.1 166.3 L697.1 166.8 L697 167.3 L697 167.8 L697 168.3 L697 168.8 L697 169.3 L697 169.8 L697 170.3 L697 170.8 L697 171.3 L697 171.8 L697 172.3 L697 172.8 L697.1 173.3 L697.1 173.8 L697.1 174.3 L697.1 174.8 L697.1 175.3 L697.2 175.8 L697.2 176.3 L697.2 176.8 L697.3 177.3 L697.3 177.8 L697.3 178.3 L697.4 178.8 L697.4 179.3 L697.5 179.8 L697.5 180.3 L697.6 180.7 L697.6 181.2 L697.7 181.7 L697.8 182.2 L697.8 182.7 L697.9 183.2 L697.9 183.7 L698 184.2 L698.1 184.7 L698.2 185.2 L698.2 185.7 L698.3 186.2 L698.4 186.7 L698.5 187.2 L698.6 187.7 L698.7 188.2 L698.8 188.7 L698.9 189.2 L698.9 189.6 L699 190.1 L699.1 190.6 L699.3 191.1 L699.4 191.6 L699.5 192.1 L699.6 192.6 L699.7 193.1 L699.8 193.6 L699.9 194 L700.1 194.5 L700.2 195 L700.3 195.5 L700.4 196 L700.6 196.5 L700.7 196.9 L700.8 197.4 L701 197.9 L701.1 198.4 L701.3 198.9 L701.4 199.3 L701.5 199.8 L701.7 200.3 L701.9 200.8 L702 201.2 L702.2 201.7 L702.3 202.2 L702.5 202.7 L702.7 203.1 L702.8 203.6 L703 204.1 L703.2 204.6 L703.3 205 L703.5 205.5 L703.7 206 L703.9 206.4 L704.1 206.9 L704.2 207.4 L704.4 207.8 L704.6 208.3 L704.8 208.7 L705 209.2 L705.2 209.7 L705.4 210.1 L705.6 210.6 L705.8 211 L706 211.5 L706.2 211.9 L706.4 212.4 L706.6 212.8 L706.9 213.3 L707.1 213.8 L707.3 214.2 L707.5 214.6 L707.7 215.1 L708 215.5 L708.2 216 L708.4 216.4 L708.7 216.9 L708.9 217.3 L709.1 217.8 L709.4 218.2 L709.6 218.6 L709.9 219.1 L710.1 219.5 L710.4 219.9 L710.6 220.4 L710.9 220.8 L711.1 221.2 L711.4 221.7 L711.6 222.1 L711.9 222.5 L712.2 222.9 L712.4 223.4 L712.7 223.8 L713 224.2 L713.2 224.6 L713.5 225 L713.8 225.5 L714.1 225.9 L714.3 226.3 L714.6 226.7 L714.9 227.1 L715.2 227.5 L715.5 227.9 L715.8 228.3 L716.1 228.7 L716.4 229.1 L716.7 229.6 L717 230 L717.3 230.4 L717.6 230.8 L717.9 231.1 L718.2 231.5 L718.5 231.9 L718.8 232.3 L719.1 232.7 L719.4 233.1 L719.7 233.5 L720.1 233.9 L720.4 234.3 L720.7 234.6 L721 235 L721.4 235.4 L721.7 235.8 L722 236.2 L722.3 236.5 L722.7 236.9 L723 237.3 L723.4 237.6 L723.7 238 L724 238.4 L724.4 238.7 L724.7 239.1 L725.1 239.5 L725.4 239.8 L725.8 240.2 L726.1 240.5 L726.5 240.9 L726.8 241.2 L727.2 241.6 L727.5 241.9 L727.9 242.3 L728.3 242.6 L728.6 243 L729 243.3 L729.4 243.7 L729.7 244 L730.1 244.3 L730.5 244.7 L730.9 245 L731.2 245.3 L731.6 245.7 L732 246 L732.4 246.3 L732.7 246.6 L733.1 246.9 L733.5 247.3 L733.9 247.6 L734.3 247.9 L734.7 248.2 L735.1 248.5 L735.5 248.8 L735.9 249.1 L736.3 249.4 L736.7 249.7 L737.1 250 L737.5 250.3 L737.9 250.6 L738.3 250.9 L738.7 251.2 L739.1 251.5 L739.5 251.8 L739.9 252.1 L740.3 252.4 L740.7 252.7 L741.1 252.9 L741.6 253.2 L742 253.5 L742.4 253.8 L742.8 254 L743.2 254.3 L743.6 254.6 L744.1 254.8 L744.5 255.1 L744.9 255.4 L745.4 255.6 L745.8 255.9 L746.2 256.1 L746.6 256.4 L747.1 256.6 L747.5 256.9 L747.9 257.1 L748.4 257.4 L748.8 257.6 L749.3 257.9 L749.7 258.1 L750.1 258.3 L750.6 258.6 L751 258.8 L751.5 259 L751.9 259.3 L752.4 259.5 L752.8 259.7 L753.3 259.9 L753.7 260.1 L754.2 260.4 L754.6 260.6 L755.1 260.8 L755.5 261 L756 261.2 L756.4 261.4 L756.9 261.6 L757.4 261.8 L757.8 262 L758.3 262.2 L758.7 262.4 L759.2 262.6 L759.7 262.8 L760.1 263 L760.6 263.1 L761.1 263.3 L761.5 263.5 L762 263.7 L762.5 263.8 L762.9 264 L763.4 264.2 L763.9 264.4 L764.3 264.5 L764.8 264.7 L765.3 264.8 L765.8 265 L766.2 265.2 L766.7 265.3 L767.2 265.5 L767.7 265.6 L768.2 265.7 L768.6 265.9 L769.1 266 L769.6 266.2 L770.1 266.3 L770.6 266.4 L771 266.6 L771.5 266.7 L772 266.8 L772.5 267 L773 267.1 L773.5 267.2 L773.9 267.3 L774.4 267.4 L774.9 267.5 L775.4 267.6 L775.9 267.7 L776.4 267.9 L776.9 268 L777.4 268.1 L777.9 268.2 L778.4 268.2 L778.8 268.3 L779.3 268.4 L779.8 268.5 L780.3 268.6 L780.8 268.7 L781.3 268.8 L781.8 268.8 L782.3 268.9 L782.8 269 L783.3 269.1 L783.8 269.1 L784.3 269.2 L784.8 269.3 L785.3 269.3 L785.8 269.4 L786.3 269.4 L786.8 269.5 L787.3 269.5 L787.8 269.6 L788.3 269.6 L788.8 269.7 L789.3 269.7 L789.8 269.7 L790.3 269.8 L790.8 269.8 L791.3 269.8 L791.8 269.9 L792.2 269.9 L792.7 269.9 L793.2 269.9 L793.7 269.9 L794.2 270 L794.7 270 L795.2 270 L795.7 270 L796.2 270 L796.7 270 L797.3 270 L797.8 270 L798.3 270 L798.8 270 L799.3 270 L799.8 270 L800.3 269.9 L800.8 269.9 L801.3 269.9 L801.8 269.9 L802.2 269.9 L802.7 269.8 L803.2 269.8 L803.7 269.8 L804.2 269.7 L804.7 269.7 L805.2 269.7 L805.7 269.6 L806.2 269.6 L806.7 269.5 L807.2 269.5 L807.7 269.4 L808.2 269.4 L808.7 269.3 L809.2 269.3 L809.7 269.2 L810.2 269.1 L810.7 269.1 L811.2 269 L811.7 268.9 L812.2 268.8 L812.7 268.8 L813.2 268.7 L813.7 268.6 L814.2 268.5 L814.7 268.4 L815.2 268.3 L815.6 268.2 L816.1 268.2 L816.6 268.1 L817.1 268 L817.6 267.9 L818.1 267.7 L818.6 267.6 L819.1 267.5 L819.6 267.4 L820.1 267.3 L820.5 267.2 L821 267.1 L821.5 267 L822 266.8 L822.5 266.7 L823 266.6 L823.4 266.4 L823.9 266.3 L824.4 266.2 L824.9 266 L825.4 265.9 L825.8 265.7 L826.3 265.6 L826.8 265.5 L827.3 265.3 L827.8 265.2 L828.2 265 L828.7 264.8 L829.2 264.7 L829.7 264.5 L830.1 264.4 L830.6 264.2 L831.1 264 L831.5 263.8 L832 263.7 L832.5 263.5 L832.9 263.3 L833.4 263.1 L833.9 263 L834.3 262.8 L834.8 262.6 L835.3 262.4 L835.7 262.2 L836.2 262 L836.6 261.8 L837.1 261.6 L837.6 261.4 L838 261.2 L838.5 261 L838.9 260.8 L839.4 260.6 L839.8 260.4 L840.3 260.1 L840.7 259.9 L841.2 259.7 L841.6 259.5 L842.1 259.3 L842.5 259 L843 258.8 L843.4 258.6 L843.9 258.3 L844.3 258.1 L844.7 257.9 L845.2 257.6 L845.6 257.4 L846.1 257.1 L846.5 256.9 L846.9 256.6 L847.4 256.4 L847.8 256.1 L848.2 255.9 L848.6 255.6 L849.1 255.4 L849.5 255.1 L849.9 254.8 L850.4 254.6 L850.8 254.3 L851.2 254 L851.6 253.8 L852 253.5 L852.4 253.2 L852.9 252.9 L853.3 252.7 L853.7 252.4 L854.1 252.1 L854.5 251.8 L854.9 251.5 L855.3 251.2 L855.7 250.9 L856.1 250.6 L856.5 250.3 L856.9 250 L857.3 249.7 L857.7 249.4 L858.1 249.1 L858.5 248.8 L858.9 248.5 L859.3 248.2 L859.7 247.9 L860.1 247.6 L860.5 247.3 L860.9 246.9 L861.3 246.6 L861.6 246.3 L862 246 L862.4 245.7 L862.8 245.3 L863.1 245 L863.5 244.7 L863.9 244.3 L864.3 244 L864.6 243.7 L865 243.3 L865.4 243 L865.7 242.6 L866.1 242.3 L866.5 241.9 L866.8 241.6 L867.2 241.2 L867.5 240.9 L867.9 240.5 L868.2 240.2 L868.6 239.8 L868.9 239.5 L869.3 239.1 L869.6 238.7 L870 238.4 L870.3 238 L870.6 237.6 L871 237.3 L871.3 236.9 L871.7 236.5 L872 236.2 L872.3 235.8 L872.6 235.4 L873 235 L873.3 234.6 L873.6 234.3 L873.9 233.9 L874.3 233.5 L874.6 233.1 L874.9 232.7 L875.2 232.3 L875.5 231.9 L875.8 231.5 L876.1 231.1 L876.4 230.8 L876.7 230.4 L877 230 L877.3 229.6 L877.6 229.1 L877.9 228.7 L878.2 228.3 L878.5 227.9 L878.8 227.5 L879.1 227.1 L879.4 226.7 L879.7 226.3 L879.9 225.9 L880.2 225.5 L880.5 225 L880.8 224.6 L881 224.2 L881.3 223.8 L881.6 223.4 L881.8 222.9 L882.1 222.5 L882.4 222.1 L882.6 221.7 L882.9 221.2 L883.1 220.8 L883.4 220.4 L883.6 219.9 L883.9 219.5 L884.1 219.1 L884.4 218.6 L884.6 218.2 L884.9 217.8 L885.1 217.3 L885.3 216.9 L885.6 216.4 L885.8 216 L886 215.5 L886.3 215.1 L886.5 214.6 L886.7 214.2 L886.9 213.8 L887.1 213.3 L887.4 212.8 L887.6 212.4 L887.8 211.9 L888 211.5 L888.2 211 L888.4 210.6 L888.6 210.1 L888.8 209.7 L889 209.2 L889.2 208.7 L889.4 208.3 L889.6 207.8 L889.8 207.4 L889.9 206.9 L890.1 206.4 L890.3 206 L890.5 205.5 L890.7 205 L890.8 204.6 L891 204.1 L891.2 203.6 L891.3 203.1 L891.5 202.7 L891.7 202.2 L891.8 201.7 L892 201.2 L892.1 200.8 L892.3 200.3 L892.5 199.8 L892.6 199.3 L892.7 198.9 L892.9 198.4 L893 197.9 L893.2 197.4 L893.3 196.9 L893.4 196.5 L893.6 196 L893.7 195.5 L893.8 195 L893.9 194.5 L894.1 194 L894.2 193.6 L894.3 193.1 L894.4 192.6 L894.5 192.1 L894.6 191.6 L894.7 191.1 L894.9 190.6 L895 190.1 L895.1 189.6 L895.1 189.2 L895.2 188.7 L895.3 188.2 L895.4 187.7 L895.5 187.2 L895.6 186.7 L895.7 186.2 L895.8 185.7 L895.8 185.2 L895.9 184.7 L896 184.2 L896.1 183.7 L896.1 183.2 L896.2 182.7 L896.2 182.2 L896.3 181.7 L896.4 181.2 L896.4 180.7 L896.5 180.3 L896.5 179.8 L896.6 179.3 L896.6 178.8 L896.7 178.3 L896.7 177.8 L896.7 177.3 L896.8 176.8 L896.8 176.3 L896.8 175.8 L896.9 175.3 L896.9 174.8 L896.9 174.3 L896.9 173.8 L896.9 173.3 L897 172.8 L897 172.3 L897 171.8 L897 171.3 L897 170.8 L897 170.3 L897 169.8 L897 169.3 L897 168.8 L897 168.3 L897 167.8 L897 167.3 L896.9 166.8 L896.9 166.3 L896.9 165.8 L896.9 165.3 L896.9 164.8 L896.8 164.3 L896.8 163.8 L896.8 163.3 L896.7 162.8 L896.7 162.3 L896.7 161.8 L896.6 161.3 L896.6 160.8 L896.5 160.3 L896.5 159.8 L896.4 159.3 L896.4 158.8 L896.3 158.3 L896.3 157.8 L896.2 157.3 L896.1 156.8 L896.1 156.3 L896 155.8 L895.9 155.3 L895.8 154.8 L895.8 154.3 L895.7 153.8 L895.6 153.3 L895.5 152.8 L895.4 152.3 L895.3 151.9 L895.2 151.4 L895.2 150.9 L895.1 150.4 L895 149.9 L894.9 149.4 L894.8 148.9 L894.6 148.4 L894.5 147.9 L894.4 147.5 L894.3 147 L894.2 146.5 L894.1 146 L894 145.5 L893.8 145 L893.7 144.5 L893.6 144.1 L893.4 143.6 L893.3 143.1 L893.2 142.6 L893 142.1 L892.9 141.6 L892.8 141.2 L892.6 140.7 L892.5 140.2 L892.3 139.7 L892.2 139.3 L892 138.8 L891.8 138.3 L891.7 137.8 L891.5 137.4 L891.4 136.9 L891.2 136.4 L891 135.9 L890.9 135.5 L890.7 135 L890.5 134.5 L890.3 134.1 L890.1 133.6 L890 133.1 L889.8 132.7 L889.6 132.2 L889.4 131.7 L889.2 131.3 L889 130.8 L888.8 130.4 L888.6 129.9 L888.4 129.4 L888.2 129 L888 128.5 L887.8 128.1 L887.6 127.6 L887.5 127.1 L887.3 126.7 L887.1 126.2 L886.9 125.7 L886.7 125.3 L886.5 124.8 L886.3 124.4 L886.1 123.9 L885.9 123.4 L885.7 123 L885.5 122.5 L885.3 122 L885.1 121.6 L884.9 121.1 L884.7 120.7 L884.5 120.2 L884.4 119.7 L884.2 119.3 L884 118.8 L883.8 118.3 L883.6 117.9 L883.4 117.4 L883.2 117 L883 116.5 L882.8 116 L882.6 115.6 L882.4 115.1 L882.2 114.6 L882 114.2 L881.8 113.7 L881.6 113.3 L881.4 112.8 L881.2 112.3 L881.1 111.9 L880.9 111.4 L880.7 111 L880.5 110.5 L880.3 110 L880.1 109.6 L879.9 109.1 L879.7 108.6 L879.5 108.2 L879.3 107.7 L879.1 107.3 L878.9 106.8 L878.7 106.3 L878.5 105.9 L878.3 105.4 L878.1 104.9 L877.9 104.5 L877.8 104 L877.6 103.6 L877.4 103.1 L877.2 102.6 L877 102.2 L876.8 101.7 L876.6 101.2 L876.4 100.8 L876.2 100.3 L876 99.9 L875.8 99.4 L875.6 98.9 L875.4 98.5 L875.2 98 L875 97.5 L874.8 97.1 L874.6 96.6 L874.5 96.2 L874.3 95.7 L874.1 95.2 L873.9 94.8 L873.7 94.3 L873.5 93.9 L873.3 93.4 L873.1 92.9 L872.9 92.5 L872.7 92 L872.5 91.5 L872.3 91.1 L872.1 90.6 L871.9 90.2 L871.7 89.7 L871.5 89.2 L871.3 88.8 L871.2 88.3 L871 87.8 L870.8 87.4 L870.6 86.9 L870.4 86.5 L870.2 86 L870 85.5 L869.8 85.1 L869.6 84.6 L869.4 84.1 L869.2 83.7 L869 83.2 L868.8 82.8 L868.6 82.3 L868.4 81.8 L868.2 81.4 L868.1 80.9 L867.9 80.4 L867.7 80 L867.5 79.5 L867.3 79.1 L867.1 78.6 L866.9 78.1 L866.7 77.7 L866.5 77.2 L866.3 76.7 L866.1 76.3 L865.9 75.8 L865.7 75.4 L865.5 74.9 L865.3 74.4 L865.1 74 L864.9 73.5 L864.8 73.1 L864.6 72.6 L864.4 72.1 L864.2 71.7 L864 71.2 L863.8 70.7 L863.6 70.3 L863.4 69.8 L863.2 69.4 L863 68.9 L862.8 68.4 L862.6 68 L862.4 67.5 L862.2 67 L862 66.6 L861.8 66.1 L861.7 65.6 L861.5 65.2 L861.3 64.7 L861.2 64.2 L861 63.7 L860.8 63.3 L860.7 62.8 L860.6 62.3 L860.5 61.8 L860.3 61.3 L860.2 60.8 L860.1 60.3 L860 59.8 L859.9 59.3 L859.9 58.8 L859.8 58.3 L859.7 57.8 L859.7 57.3 L859.6 56.8 L859.6 56.3 L859.6 55.8 L859.5 55.3 L859.5 54.8 L859.5 54.3 L859.5 53.8 L859.5 53.3 L859.5 52.8 L859.5 52.3 L859.6 51.8 L859.6 51.3 L859.7 50.8 L859.7 50.3 L859.8 49.8 L859.8 49.3 L859.9 48.8 L860 48.3 L860.1 47.8 L860.2 47.3 L860.3 46.8 L860.4 46.3 L860.5 45.9 L860.7 45.4 L860.8 44.9 L861 44.4 L861.1 43.9 L861.3 43.4 L861.4 43 L861.6 42.5 L861.8 42 L862 41.6 L862.2 41.1 L862.4 40.6 L862.6 40.2 L862.8 39.7 L863 39.3 L863.3 38.8 L863.5 38.4 L863.7 37.9 L864 37.5 L864.3 37.1 L864.5 36.6 L864.8 36.2 L865.1 35.8 L865.4 35.4 L865.7 35 L865.9 34.6 L866.3 34.2 L866.6 33.8 L866.9 33.4 L867.2 33 L867.5 32.6 L867.9 32.2 L868.2 31.9 L868.6 31.5 L868.9 31.1 L869.3 30.8 L869.6 30.4 L870 30.1 L870.4 29.7 L870.7 29.4 L871.1 29.1 L871.5 28.8 L871.9 28.5 L872.3 28.1 L872.7 27.8 L873.1 27.5 L873.5 27.3 L873.9 27 L874.4 26.7 L874.8 26.4 L875.2 26.2 L875.7 25.9 L876.1 25.7 L876.5 25.4 L877 25.2 L877.4 25 L877.9 24.7 L878.3 24.5 L878.8 24.3 L879.3 24.1 L879.7 23.9 L880.2 23.7 L880.7 23.5 L881.1 23.4 L881.6 23.2 L882.1 23 L882.6 22.9 L883.1 22.8 L883.5 22.6 L884 22.5 L884.5 22.4 L885 22.3 L885.5 22.2 L886 22.1 L886.5 22 L887 21.9 L887.5 21.8 L888 21.7 L888.5 21.7 L889 21.6 L889.5 21.6 L890 21.6 L890.5 21.5 L891 21.5 L891.5 21.5 L892 21.5 L892.5 21.5 L893 21.5 L893.5 21.5 L894 21.5 L894.5 21.5 L895 21.5 L895.5 21.5 L896 21.5 L896.5 21.5 L897 21.5 L897.5 21.5 L898 21.5 L898.5 21.5 L899 21.5 L899.5 21.5 L900 21.5 L900.5 21.5 L901 21.5 L901.5 21.5 L902 21.5 L902.5 21.5 L903 21.5 L903.5 21.5 L904 21.5 L904.5 21.5 L905 21.5 L905.5 21.5 L906 21.5 L906.5 21.5 L907 21.5 L907.5 21.5 L908 21.5 L908.5 21.5 L909 21.5 L909.5 21.5 L910 21.5 L910.5 21.5 L911 21.5 L911.5 21.5 L912 21.5 L912.5 21.5 L913 21.5 L913.5 21.5 L914 21.5 L914.5 21.5 L915 21.5 L915.5 21.5 L916 21.5 L916.5 21.5 L917 21.5 L917.5 21.5 L918 21.5 L918.5 21.5 L919 21.5 L919.5 21.5 L920 21.5 L920.5 21.5 L921 21.5 L921.5 21.5 L922 21.5 L922.5 21.5 L923 21.5 L923.5 21.5 L924 21.5 L924.5 21.5 L925 21.5 L925.5 21.5 L926 21.5 L926.5 21.5 L927 21.5 L927.5 21.5 L928 21.5 L928.5 21.5 L929 21.5 L929.5 21.5 L930 21.5 L930.5 21.5 L931 21.5 L931.5 21.5 L932 21.5 L932.5 21.5 L933 21.5 L933.5 21.5 L934 21.5 L934.5 21.5 L935 21.5 L935.5 21.5 L936 21.5 L936.5 21.5 L937 21.5 L937.5 21.5 L938 21.5 L938.5 21.5 L939 21.5 L939.5 21.5 L940 21.5 L940.5 21.5 L941 21.5 L941.5 21.5 L942 21.5 L942.5 21.5 L943 21.5 L943.5 21.5 L944 21.5 L944.5 21.5 L945 21.5 L945.5 21.5 L946 21.5 L946.5 21.5 L947 21.5 L947.5 21.5 L948 21.5 L948.5 21.5 L949 21.5 L949.5 21.5 L950 21.5 L950.5 21.5 L951 21.5 L951.5 21.5 L952 21.5 L952.5 21.5 L953 21.5 L953.5 21.5 L954 21.5 L954.5 21.5 L955 21.5 L955.5 21.5 L956 21.5 L956.5 21.5 L957 21.5 L957.5 21.5 L958 21.5 L958.5 21.5 L959 21.5 L959.5 21.5 L960 21.5 L960.5 21.5 L961 21.5 L961.5 21.5 L962 21.5 L962.5 21.5 L963 21.5 L963.5 21.5 L964 21.5 L964.5 21.5 L965 21.5 L965.5 21.5 L966 21.5 L966.5 21.5 L967 21.5 L967.5 21.5 L968 21.5 L968.5 21.5 L969 21.5 L969.5 21.5 L970 21.5 L970.5 21.5 L971 21.5 L971.5 21.5 L972 21.5 L972.5 21.5 L973 21.5 L973.5 21.5 L974 21.5 L974.5 21.5 L975 21.5 L975.5 21.5 L976 21.5 L976.5 21.5 L977 21.5 L977.5 21.5 L978 21.5 L978.5 21.5 L979 21.5 L979.5 21.5 L980 21.5 L980.5 21.5 L981 21.5 L981.5 21.5 L982 21.5 L982.5 21.5 L983 21.5 L983.5 21.5 L984 21.5 L984.5 21.5 L985 21.5 L985.5 21.5 L986 21.5 L986.5 21.5 L987 21.5 L987.5 21.5 L988 21.5 L988.5 21.5 L989 21.5 L989.5 21.5 L990 21.5 L990.5 21.5 L991 21.5 L991.5 21.5 L992 21.5 L992.5 21.5 L993 21.5 L993.5 21.5 L994 21.5 L994.5 21.5 L995 21.5 L995.5 21.5 L996 21.5 L996.5 21.5 L997 21.5 L997.5 21.5 L998 21.5 L998.5 21.5 L999 21.5 L999.5 21.5 L1000 21.5 L1000.5 21.5 L1001 21.5 L1001.5 21.5 L1002 21.5 L1002.5 21.5 L1003 21.5 L1003.5 21.5 L1004 21.5 L1004.5 21.5 L1005 21.5 L1005.5 21.5 L1006 21.5 L1006.5 21.5 L1007 21.5 L1007.5 21.5 L1008 21.5 L1008.5 21.5 L1009 21.5 L1009.5 21.5 L1010 21.5 L1010.5 21.5 L1011 21.5 L1011.5 21.5 L1012 21.5 L1012.5 21.5 L1013 21.5 L1013.5 21.5 L1014 21.5 L1014.5 21.5 L1015 21.5 L1015.5 21.5 L1016 21.5 L1016.5 21.5 L1017 21.5 L1017.5 21.5 L1018 21.5 L1018.5 21.5 L1019 21.5 L1019.5 21.5 L1020 21.5 L1020.5 21.5 L1021 21.5 L1021.5 21.5 L1022 21.5 L1022.5 21.5 L1023 21.5 L1023.5 21.5 L1024 21.5 L1024.5 21.5 L1025 21.5 L1025.5 21.5 L1026 21.5 L1026.5 21.5 L1027 21.5 L1027.5 21.5 L1028 21.5 L1028.5 21.5 L1029 21.5 L1029.5 21.5 L1030 21.5 L1030.5 21.5 L1031 21.5 L1031.5 21.5 L1032 21.5 L1032.5 21.5 L1033 21.5 L1033.5 21.5 L1034 21.5 L1034.5 21.5 L1035 21.5 L1035.5 21.5 L1036 21.5 L1036.5 21.5 L1037 21.5 L1037.5 21.5 L1038 21.5 L1038.5 21.5 L1039 21.5 L1039.5 21.5 L1040 21.5 L1040.5 21.5 L1041 21.5 L1041.5 21.5 L1042 21.5 L1042.5 21.5 L1043 21.5 L1043.5 21.5 L1044 21.5 L1044.5 21.5 L1045 21.5 L1045.5 21.5 L1046 21.5 L1046.5 21.5 L1047 21.5 L1047.5 21.5 L1048 21.5 L1048.5 21.5 L1049 21.5 L1049.5 21.5 L1050 21.5 L1050.5 21.5 L1051 21.5 L1051.5 21.5 L1052 21.5 L1052.5 21.5 L1053 21.5 L1053.5 21.5 L1054 21.5 L1054.5 21.5 L1055 21.5 L1055.5 21.5 L1056 21.5 L1056.5 21.5 L1057 21.5 L1057.5 21.5 L1058 21.5 L1058.5 21.5 L1059 21.5 L1059.5 21.5 L1060 21.5 L1060.5 21.5 L1061 21.5 L1061.5 21.5 L1062 21.5 L1062.5 21.5 L1063 21.5 L1063.5 21.5 L1064 21.5 L1064.5 21.5 L1065 21.5 L1065.5 21.5 L1066 21.5 L1066.5 21.5 L1067 21.5 L1067.5 21.5 L1068 21.5 L1068.5 21.5 L1069 21.5 L1069.5 21.5 L1070 21.5 L1070.5 21.5 L1071 21.5 L1071.5 21.5 L1072 21.5 L1072.5 21.5 L1073 21.5 L1073.5 21.5 L1074 21.5 L1074.5 21.5 L1075 21.5 L1075.5 21.5 L1076 21.5 L1076.5 21.5 L1077 21.5 L1077.5 21.5 L1078 21.5 L1078.5 21.5 L1079 21.5 L1079.5 21.5 L1080 21.5 L1080.5 21.5 L1081 21.5 L1081.5 21.5 L1082 21.5 L1082.5 21.5 L1083 21.5 L1083.5 21.5 L1084 21.5 L1084.5 21.5 L1085 21.5 L1085.5 21.5 L1086 21.5 L1086.5 21.5 L1087 21.5 L1087.5 21.5 L1088 21.5 L1088.5 21.5 L1089 21.5 L1089.5 21.5 L1090 21.5 L1090.5 21.5 L1091 21.5 L1091.5 21.5 L1092 21.5 L1092.5 21.5 L1093 21.5 L1093.5 21.5 L1094 21.5 L1094.5 21.5 L1095 21.5 L1095.5 21.5 L1096 21.5 L1096.5 21.5 L1097 21.5 L1097.5 21.5 L1098 21.5 L1098.5 21.5 L1099 21.5 L1099.5 21.5 L1100 21.5 L1100.5 21.5 L1101 21.5 L1101.5 21.5 L1102 21.5 L1102.5 21.5 L1103 21.5 L1103.5 21.5 L1104 21.5 L1104.5 21.5 L1105 21.5 L1105.5 21.5 L1106 21.5 L1106.5 21.5 L1107 21.5 L1107.5 21.5 L1108 21.5 L1108.5 21.5 L1109 21.5 L1109.5 21.5 L1110 21.5 L1110.5 21.5 L1111 21.5 L1111.5 21.5 L1112 21.5 L1112.5 21.5 L1113 21.5 L1113.5 21.5 L1114 21.5 L1114.5 21.5 L1115 21.5 L1115.5 21.5 L1116 21.5 L1116.5 21.5 L1117 21.5 L1117.5 21.5 L1118 21.5 L1118.5 21.5 L1119 21.5 L1119.5 21.5 L1120 21.5 L1120.5 21.5 L1121 21.5 L1121.5 21.5 L1122 21.5 L1122.5 21.5 L1123 21.5 L1123.5 21.5 L1124 21.5 L1124.5 21.5 L1125 21.5 L1125.5 21.5 L1126 21.5 L1126.5 21.5 L1127 21.5 L1127.5 21.5 L1128 21.5 L1128.5 21.5 L1129 21.5 L1129.5 21.5 L1130 21.5 L1130.5 21.5 L1131 21.5 L1131.5 21.5 L1132 21.5 L1132.5 21.5 L1133 21.5 L1133.5 21.5 L1134 21.5 L1134.5 21.5 L1135 21.5 L1135.5 21.5 L1136 21.5 L1136.5 21.5 L1137 21.5 L1137.5 21.5 L1138 21.5 L1138.5 21.5 L1139 21.5 L1139.5 21.5 L1140 21.5 L1140.5 21.5 L1141 21.5 L1141.5 21.5 L1142 21.5 L1142.5 21.5 L1143 21.5 L1143.5 21.5 L1144 21.5 L1144.5 21.5 L1145 21.5 L1145.5 21.5 L1146 21.5 L1146.5 21.5 L1147 21.5 L1147.5 21.5 L1148 21.5 L1148.5 21.5 L1149 21.5 L1149.5 21.5 L1150 21.5 L1150.5 21.5 L1151 21.5 L1151.5 21.5 L1152 21.5 L1152.5 21.5 L1153 21.5 L1153.5 21.5 L1154 21.5 L1154.5 21.5 L1155 21.5 L1155.5 21.5 L1156 21.5 L1156.5 21.5 L1157 21.5 L1157.5 21.5 L1158 21.5 L1158.5 21.5 L1159 21.5 L1159.5 21.5 L1160 21.5 L1160.5 21.5 L1161 21.5 L1161.5 21.5 L1162 21.5 L1162.5 21.5 L1163 21.5 L1163.5 21.5 L1164 21.5 L1164.5 21.5 L1165 21.5 L1165.5 21.5 L1166 21.5 L1166.5 21.5 L1167 21.5 L1167.5 21.5 L1168 21.5 L1168.5 21.5 L1169 21.5 L1169.5 21.5 L1170 21.5 L1170.5 21.5 L1171 21.5 L1171.5 21.5 L1172 21.5 L1172.5 21.5 L1173 21.5 L1173.5 21.5 L1174 21.5 L1174.5 21.5 L1175 21.5 L1175.5 21.5 L1176 21.5 L1176.5 21.5 L1177 21.5 L1177.5 21.5 L1178 21.5 L1178.5 21.5 L1179 21.5 L1179.5 21.5 L1180 21.5 L1180.5 21.5 L1181 21.5 L1181.5 21.5 L1182 21.5 L1182.5 21.5 L1183 21.5 L1183.5 21.5 L1184 21.5 L1184.5 21.5 L1185 21.5 L1185.5 21.5 L1186 21.5 L1186.5 21.5 L1187 21.5 L1187.5 21.5 L1188 21.5 L1188.5 21.5 L1189 21.5 L1189.5 21.5 L1190 21.5 L1190.5 21.5 L1191 21.5 L1191.5 21.5 L1192 21.5 L1192.5 21.5 L1193 21.5 L1193.5 21.5 L1194 21.5 L1194.5 21.5 L1195 21.5 L1195.5 21.5 L1196 21.5 L1196.5 21.5 L1197 21.5 L1197.5 21.5 L1198 21.5 L1198.5 21.5 L1199 21.5 L1199.5 21.5 L1200 21.5 L1200.5 21.5 L1201 21.5 L1201.5 21.5 L1202 21.5 L1202.5 21.5 L1203 21.5 L1203.5 21.5 L1204 21.5 L1204.5 21.5 L1205 21.5 L1205.5 21.5 L1206 21.5 L1206.5 21.5 L1207 21.5 L1207.5 21.5 L1208 21.5 L1208.5 21.5 L1209 21.5 L1209.5 21.5 L1210 21.5 L1210.5 21.5 L1211 21.5 L1211.5 21.5 L1212 21.5 L1212.5 21.5 L1213 21.5 L1213.5 21.5 L1214 21.5 L1214.5 21.5 L1215 21.5 L1215.5 21.5 L1216 21.5 L1216.5 21.5 L1217 21.5 L1217.5 21.5 L1218 21.5 L1218.5 21.5 L1219 21.5 L1219.5 21.5 L1220 21.5 L1220.5 21.5 L1221 21.5 L1221.5 21.5 L1222 21.5 L1222.5 21.5 L1223 21.5 L1223.5 21.5 L1224 21.5 L1224.5 21.5 L1225 21.5 L1225.5 21.5 L1226 21.5 L1226.5 21.5 L1227 21.5 L1227.5 21.5 L1228 21.5 L1228.5 21.5 L1229 21.5 L1229.5 21.5 L1230 21.5 L1230.5 21.5 L1231 21.5 L1231.5 21.5 L1232 21.5 L1232.5 21.5 L1233 21.5 L1233.5 21.5 L1234 21.5 L1234.5 21.5 L1235 21.5 L1235.5 21.5 L1236 21.5 L1236.5 21.5 L1237 21.5 L1237.5 21.5 L1238 21.5 L1238.5 21.5 L1239 21.5 L1239.5 21.5 L1240 21.5 L1240.5 21.5 L1241 21.5 L1241.5 21.5 L1242 21.5 L1242.5 21.5 L1243 21.5 L1243.5 21.5 L1244 21.5 L1244.5 21.5 L1245 21.5 L1245.5 21.5 L1246 21.5 L1246.5 21.5 L1247 21.5 L1247.5 21.5 L1248 21.5 L1248.5 21.5 L1249 21.5 L1249.5 21.5 L1250 21.5 L1250.5 21.5 L1251 21.5 L1251.5 21.5 L1252 21.5 L1252.5 21.5 L1253 21.5 L1253.5 21.5 L1254 21.5 L1254.5 21.5 L1255 21.5 L1255.5 21.5 L1256 21.5 L1256.5 21.5 L1257 21.5 L1257.5 21.5 L1258 21.5 L1258.5 21.5 L1259 21.5 L1259.5 21.5 L1260 21.5 L1260.5 21.5 L1261 21.5 L1261.5 21.5 L1262 21.5 L1262.5 21.5 L1263 21.5 L1263.5 21.5 L1264 21.5 L1264.5 21.5 L1265 21.5 L1265.5 21.5 L1266 21.5 L1266.5 21.5 L1267 21.5 L1267.5 21.5 L1268 21.5 L1268.5 21.5 L1269 21.5 L1269.5 21.5 L1270 21.5 L1270.5 21.5 L1271 21.5 L1271.5 21.5 L1272 21.5" stroke="#f6f8fd" stroke-width="35" fill="none"/><path d="M724 30.1 L724.4 30.4 L724.7 30.8 L725.1 31.1 L725.4 31.5 L725.8 31.9 L726.1 32.2 L726.5 32.6 L726.8 33 L727.1 33.4 L727.4 33.8 L727.7 34.2 L728.1 34.6 L728.3 35 L728.6 35.4 L728.9 35.8 L729.2 36.2 L729.5 36.6 L729.7 37.1 L730 37.5 L730.3 37.9 L730.5 38.4 L730.7 38.8 L731 39.3 L731.2 39.7 L731.4 40.2 L731.6 40.6 L731.8 41.1 L732 41.6 L732.2 42 L732.4 42.5 L732.6 43 L732.7 43.4 L732.9 43.9 L733 44.4 L733.2 44.9 L733.3 45.4 L733.5 45.9 L733.6 46.3 L733.7 46.8 L733.8 47.3 L733.9 47.8 L734 48.3 L734.1 48.8 L734.2 49.3 L734.2 49.8 L734.3 50.3 L734.3 50.8 L734.4 51.3 L734.4 51.8 L734.5 52.3 L734.5 52.8 L734.5 53.3 L734.5 53.8 L734.5 54.3 L734.5 54.8 L734.5 55.3 L734.4 55.8 L734.4 56.3 L734.4 56.8 L734.3 57.3 L734.3 57.8 L734.2 58.3 L734.1 58.8 L734.1 59.3 L734 59.8 L733.9 60.3 L733.8 60.8 L733.7 61.3 L733.5 61.8 L733.4 62.3 L733.3 62.8 L733.2 63.3 L733 63.7 L732.8 64.2 L732.7 64.7 L732.5 65.2 L732.3 65.6 L732.2 66.1 L732 66.6 L731.8 67 L731.6 67.5 L731.4 68 L731.2 68.4 L731 68.9 L730.8 69.4 L730.6 69.8 L730.4 70.3 L730.2 70.7 L730 71.2 L729.8 71.7 L729.6 72.1 L729.4 72.6 L729.2 73.1 L729.1 73.5 L728.9 74 L728.7 74.4 L728.5 74.9 L728.3 75.4 L728.1 75.8 L727.9 76.3 L727.7 76.7 L727.5 77.2 L727.3 77.7 L727.1 78.1 L726.9 78.6 L726.7 79.1 L726.5 79.5 L726.3 80 L726.1 80.4 L725.9 80.9 L725.8 81.4 L725.6 81.8 L725.4 82.3 L725.2 82.8 L725 83.2 L724.8 83.7 L724.6 84.1 L724.4 84.6 L724.2 85.1 L724 85.5 L723.8 86 L723.6 86.5 L723.4 86.9 L723.2 87.4 L723 87.8 L722.8 88.3 L722.7 88.8 L722.5 89.2 L722.3 89.7 L722.1 90.2 L721.9 90.6 L721.7 91.1 L721.5 91.5 L721.3 92 L721.1 92.5 L720.9 92.9 L720.7 93.4 L720.5 93.9 L720.3 94.3 L720.1 94.8 L719.9 95.2 L719.7 95.7 L719.5 96.2 L719.4 96.6 L719.2 97.1 L719 97.5 L718.8 98 L718.6 98.5 L718.4 98.9 L718.2 99.4 L718 99.9 L717.8 100.3 L717.6 100.8 L717.4 101.2 L717.2 101.7 L717 102.2 L716.8 102.6 L716.6 103.1 L716.4 103.6 L716.2 104 L716.1 104.5 L715.9 104.9 L715.7 105.4 L715.5 105.9 L715.3 106.3 L715.1 106.8 L714.9 107.3 L714.7 107.7 L714.5 108.2 L714.3 108.6 L714.1 109.1 L713.9 109.6 L713.7 110 L713.5 110.5 L713.3 111 L713.1 111.4 L712.9 111.9 L712.8 112.3 L712.6 112.8 L712.4 113.3 L712.2 113.7 L712 114.2 L711.8 114.6 L711.6 115.1 L711.4 115.6 L711.2 116 L711 116.5 L710.8 117 L710.6 117.4 L710.4 117.9 L710.2 118.3 L710 118.8 L709.8 119.3 L709.6 119.7 L709.5 120.2 L709.3 120.7 L709.1 121.1 L708.9 121.6 L708.7 122 L708.5 122.5 L708.3 123 L708.1 123.4 L707.9 123.9 L707.7 124.4 L707.5 124.8 L707.3 125.3 L707.1 125.7 L706.9 126.2 L706.7 126.7 L706.5 127.1 L706.4 127.6 L706.2 128.1 L706 128.5 L705.8 129 L705.6 129.4 L705.4 129.9 L705.2 130.4 L705 130.8 L704.8 131.3 L704.6 131.7 L704.4 132.2 L704.2 132.7 L704 133.1 L703.9 133.6 L703.7 134.1 L703.5 134.5 L703.3 135 L703.1 135.5 L703 135.9 L702.8 136.4 L702.6 136.9 L702.5 137.4 L702.3 137.8 L702.2 138.3 L702 138.8 L701.8 139.3 L701.7 139.7 L701.5 140.2 L701.4 140.7 L701.2 141.2 L701.1 141.6 L701 142.1 L700.8 142.6 L700.7 143.1 L700.6 143.6 L700.4 144.1 L700.3 144.5 L700.2 145 L700 145.5 L699.9 146 L699.8 146.5 L699.7 147 L699.6 147.5 L699.5 147.9 L699.4 148.4 L699.2 148.9 L699.1 149.4 L699 149.9 L698.9 150.4 L698.8 150.9 L698.8 151.4 L698.7 151.9 L698.6 152.3 L698.5 152.8 L698.4 153.3 L698.3 153.8 L698.2 154.3 L698.2 154.8 L698.1 155.3 L698 155.8 L697.9 156.3 L697.9 156.8 L697.8 157.3 L697.7 157.8 L697.7 158.3 L697.6 158.8 L697.6 159.3 L697.5 159.8 L697.5 160.3 L697.4 160.8 L697.4 161.3 L697.3 161.8 L697.3 162.3 L697.3 162.8 L697.2 163.3 L697.2 163.8 L697.2 164.3 L697.1 164.8 L697.1 165.3 L697.1 165.8 L697.1 166.3 L697.1 166.8 L697 167.3 L697 167.8 L697 168.3 L697 168.8 L697 169.3 L697 169.8 L697 170.3 L697 170.8 L697 171.3 L697 171.8 L697 172.3 L697 172.8 L697.1 173.3 L697.1 173.8 L697.1 174.3 L697.1 174.8 L697.1 175.3 L697.2 175.8 L697.2 176.3 L697.2 176.8 L697.3 177.3 L697.3 177.8 L697.3 178.3 L697.4 178.8 L697.4 179.3 L697.5 179.8 L697.5 180.3 L697.6 180.7 L697.6 181.2 L697.7 181.7 L697.8 182.2 L697.8 182.7 L697.9 183.2 L697.9 183.7 L698 184.2 L698.1 184.7 L698.2 185.2 L698.2 185.7 L698.3 186.2 L698.4 186.7 L698.5 187.2 L698.6 187.7 L698.7 188.2 L698.8 188.7 L698.9 189.2 L698.9 189.6 L699 190.1 L699.1 190.6 L699.3 191.1 L699.4 191.6 L699.5 192.1 L699.6 192.6 L699.7 193.1 L699.8 193.6 L699.9 194 L700.1 194.5 L700.2 195 L700.3 195.5 L700.4 196 L700.6 196.5 L700.7 196.9 L700.8 197.4 L701 197.9 L701.1 198.4 L701.3 198.9 L701.4 199.3 L701.5 199.8 L701.7 200.3 L701.9 200.8 L702 201.2 L702.2 201.7 L702.3 202.2 L702.5 202.7 L702.7 203.1 L702.8 203.6 L703 204.1 L703.2 204.6 L703.3 205 L703.5 205.5 L703.7 206 L703.9 206.4 L704.1 206.9 L704.2 207.4 L704.4 207.8 L704.6 208.3 L704.8 208.7 L705 209.2 L705.2 209.7 L705.4 210.1 L705.6 210.6 L705.8 211 L706 211.5 L706.2 211.9 L706.4 212.4 L706.6 212.8 L706.9 213.3 L707.1 213.8 L707.3 214.2 L707.5 214.6 L707.7 215.1 L708 215.5 L708.2 216 L708.4 216.4 L708.7 216.9 L708.9 217.3 L709.1 217.8 L709.4 218.2 L709.6 218.6 L709.9 219.1 L710.1 219.5 L710.4 219.9 L710.6 220.4 L710.9 220.8 L711.1 221.2 L711.4 221.7 L711.6 222.1 L711.9 222.5 L712.2 222.9 L712.4 223.4 L712.7 223.8 L713 224.2 L713.2 224.6 L713.5 225 L713.8 225.5 L714.1 225.9 L714.3 226.3 L714.6 226.7 L714.9 227.1 L715.2 227.5 L715.5 227.9 L715.8 228.3 L716.1 228.7 L716.4 229.1 L716.7 229.6 L717 230 L717.3 230.4 L717.6 230.8 L717.9 231.1 L718.2 231.5 L718.5 231.9 L718.8 232.3 L719.1 232.7 L719.4 233.1 L719.7 233.5 L720.1 233.9 L720.4 234.3 L720.7 234.6 L721 235 L721.4 235.4 L721.7 235.8 L722 236.2 L722.3 236.5 L722.7 236.9 L723 237.3 L723.4 237.6 L723.7 238 L724 238.4 L724.4 238.7 L724.7 239.1 L725.1 239.5 L725.4 239.8 L725.8 240.2 L726.1 240.5 L726.5 240.9 L726.8 241.2 L727.2 241.6 L727.5 241.9 L727.9 242.3 L728.3 242.6 L728.6 243 L729 243.3 L729.4 243.7 L729.7 244 L730.1 244.3 L730.5 244.7 L730.9 245 L731.2 245.3 L731.6 245.7 L732 246 L732.4 246.3 L732.7 246.6 L733.1 246.9 L733.5 247.3 L733.9 247.6 L734.3 247.9 L734.7 248.2 L735.1 248.5 L735.5 248.8 L735.9 249.1 L736.3 249.4 L736.7 249.7 L737.1 250 L737.5 250.3 L737.9 250.6 L738.3 250.9 L738.7 251.2 L739.1 251.5 L739.5 251.8 L739.9 252.1 L740.3 252.4 L740.7 252.7 L741.1 252.9 L741.6 253.2 L742 253.5 L742.4 253.8 L742.8 254 L743.2 254.3 L743.6 254.6 L744.1 254.8 L744.5 255.1 L744.9 255.4 L745.4 255.6 L745.8 255.9 L746.2 256.1 L746.6 256.4 L747.1 256.6 L747.5 256.9 L747.9 257.1 L748.4 257.4 L748.8 257.6 L749.3 257.9 L749.7 258.1 L750.1 258.3 L750.6 258.6 L751 258.8 L751.5 259 L751.9 259.3 L752.4 259.5 L752.8 259.7 L753.3 259.9 L753.7 260.1 L754.2 260.4 L754.6 260.6 L755.1 260.8 L755.5 261 L756 261.2 L756.4 261.4 L756.9 261.6 L757.4 261.8 L757.8 262 L758.3 262.2 L758.7 262.4 L759.2 262.6 L759.7 262.8 L760.1 263 L760.6 263.1 L761.1 263.3 L761.5 263.5 L762 263.7 L762.5 263.8 L762.9 264 L763.4 264.2 L763.9 264.4 L764.3 264.5 L764.8 264.7 L765.3 264.8 L765.8 265 L766.2 265.2 L766.7 265.3 L767.2 265.5 L767.7 265.6 L768.2 265.7 L768.6 265.9 L769.1 266 L769.6 266.2 L770.1 266.3 L770.6 266.4 L771 266.6 L771.5 266.7 L772 266.8 L772.5 267 L773 267.1 L773.5 267.2 L773.9 267.3 L774.4 267.4 L774.9 267.5 L775.4 267.6 L775.9 267.7 L776.4 267.9 L776.9 268 L777.4 268.1 L777.9 268.2 L778.4 268.2 L778.8 268.3 L779.3 268.4 L779.8 268.5 L780.3 268.6 L780.8 268.7 L781.3 268.8 L781.8 268.8 L782.3 268.9 L782.8 269 L783.3 269.1 L783.8 269.1 L784.3 269.2 L784.8 269.3 L785.3 269.3 L785.8 269.4 L786.3 269.4 L786.8 269.5 L787.3 269.5 L787.8 269.6 L788.3 269.6 L788.8 269.7 L789.3 269.7 L789.8 269.7 L790.3 269.8 L790.8 269.8 L791.3 269.8 L791.8 269.9 L792.2 269.9 L792.7 269.9 L793.2 269.9 L793.7 269.9 L794.2 270 L794.7 270 L795.2 270 L795.7 270 L796.2 270 L796.7 270 L797.3 270 L797.8 270 L798.3 270 L798.8 270 L799.3 270 L799.8 270 L800.3 269.9 L800.8 269.9 L801.3 269.9 L801.8 269.9 L802.2 269.9 L802.7 269.8 L803.2 269.8 L803.7 269.8 L804.2 269.7 L804.7 269.7 L805.2 269.7 L805.7 269.6 L806.2 269.6 L806.7 269.5 L807.2 269.5 L807.7 269.4 L808.2 269.4 L808.7 269.3 L809.2 269.3 L809.7 269.2 L810.2 269.1 L810.7 269.1 L811.2 269 L811.7 268.9 L812.2 268.8 L812.7 268.8 L813.2 268.7 L813.7 268.6 L814.2 268.5 L814.7 268.4 L815.2 268.3 L815.6 268.2 L816.1 268.2 L816.6 268.1 L817.1 268 L817.6 267.9 L818.1 267.7 L818.6 267.6 L819.1 267.5 L819.6 267.4 L820.1 267.3 L820.5 267.2 L821 267.1 L821.5 267 L822 266.8 L822.5 266.7 L823 266.6 L823.4 266.4 L823.9 266.3 L824.4 266.2 L824.9 266 L825.4 265.9 L825.8 265.7 L826.3 265.6 L826.8 265.5 L827.3 265.3 L827.8 265.2 L828.2 265 L828.7 264.8 L829.2 264.7 L829.7 264.5 L830.1 264.4 L830.6 264.2 L831.1 264 L831.5 263.8 L832 263.7 L832.5 263.5 L832.9 263.3 L833.4 263.1 L833.9 263 L834.3 262.8 L834.8 262.6 L835.3 262.4 L835.7 262.2 L836.2 262 L836.6 261.8 L837.1 261.6 L837.6 261.4 L838 261.2 L838.5 261 L838.9 260.8 L839.4 260.6 L839.8 260.4 L840.3 260.1 L840.7 259.9 L841.2 259.7 L841.6 259.5 L842.1 259.3 L842.5 259 L843 258.8 L843.4 258.6 L843.9 258.3 L844.3 258.1 L844.7 257.9 L845.2 257.6 L845.6 257.4 L846.1 257.1 L846.5 256.9 L846.9 256.6 L847.4 256.4 L847.8 256.1 L848.2 255.9 L848.6 255.6 L849.1 255.4 L849.5 255.1 L849.9 254.8 L850.4 254.6 L850.8 254.3 L851.2 254 L851.6 253.8 L852 253.5 L852.4 253.2 L852.9 252.9 L853.3 252.7 L853.7 252.4 L854.1 252.1 L854.5 251.8 L854.9 251.5 L855.3 251.2 L855.7 250.9 L856.1 250.6 L856.5 250.3 L856.9 250 L857.3 249.7 L857.7 249.4 L858.1 249.1 L858.5 248.8 L858.9 248.5 L859.3 248.2 L859.7 247.9 L860.1 247.6 L860.5 247.3 L860.9 246.9 L861.3 246.6 L861.6 246.3 L862 246 L862.4 245.7 L862.8 245.3 L863.1 245 L863.5 244.7 L863.9 244.3 L864.3 244 L864.6 243.7 L865 243.3 L865.4 243 L865.7 242.6 L866.1 242.3 L866.5 241.9 L866.8 241.6 L867.2 241.2 L867.5 240.9 L867.9 240.5 L868.2 240.2 L868.6 239.8 L868.9 239.5 L869.3 239.1 L869.6 238.7 L870 238.4 L870.3 238 L870.6 237.6 L871 237.3 L871.3 236.9 L871.7 236.5 L872 236.2 L872.3 235.8 L872.6 235.4 L873 235 L873.3 234.6 L873.6 234.3 L873.9 233.9 L874.3 233.5 L874.6 233.1 L874.9 232.7 L875.2 232.3 L875.5 231.9 L875.8 231.5 L876.1 231.1 L876.4 230.8 L876.7 230.4 L877 230 L877.3 229.6 L877.6 229.1 L877.9 228.7 L878.2 228.3 L878.5 227.9 L878.8 227.5 L879.1 227.1 L879.4 226.7 L879.7 226.3 L879.9 225.9 L880.2 225.5 L880.5 225 L880.8 224.6 L881 224.2 L881.3 223.8 L881.6 223.4 L881.8 222.9 L882.1 222.5 L882.4 222.1 L882.6 221.7 L882.9 221.2 L883.1 220.8 L883.4 220.4 L883.6 219.9 L883.9 219.5 L884.1 219.1 L884.4 218.6 L884.6 218.2 L884.9 217.8 L885.1 217.3 L885.3 216.9 L885.6 216.4 L885.8 216 L886 215.5 L886.3 215.1 L886.5 214.6 L886.7 214.2 L886.9 213.8 L887.1 213.3 L887.4 212.8 L887.6 212.4 L887.8 211.9 L888 211.5 L888.2 211 L888.4 210.6 L888.6 210.1 L888.8 209.7 L889 209.2 L889.2 208.7 L889.4 208.3 L889.6 207.8 L889.8 207.4 L889.9 206.9 L890.1 206.4 L890.3 206 L890.5 205.5 L890.7 205 L890.8 204.6 L891 204.1 L891.2 203.6 L891.3 203.1 L891.5 202.7 L891.7 202.2 L891.8 201.7 L892 201.2 L892.1 200.8 L892.3 200.3 L892.5 199.8 L892.6 199.3 L892.7 198.9 L892.9 198.4 L893 197.9 L893.2 197.4 L893.3 196.9 L893.4 196.5 L893.6 196 L893.7 195.5 L893.8 195 L893.9 194.5 L894.1 194 L894.2 193.6 L894.3 193.1 L894.4 192.6 L894.5 192.1 L894.6 191.6 L894.7 191.1 L894.9 190.6 L895 190.1 L895.1 189.6 L895.1 189.2 L895.2 188.7 L895.3 188.2 L895.4 187.7 L895.5 187.2 L895.6 186.7 L895.7 186.2 L895.8 185.7 L895.8 185.2 L895.9 184.7 L896 184.2 L896.1 183.7 L896.1 183.2 L896.2 182.7 L896.2 182.2 L896.3 181.7 L896.4 181.2 L896.4 180.7 L896.5 180.3 L896.5 179.8 L896.6 179.3 L896.6 178.8 L896.7 178.3 L896.7 177.8 L896.7 177.3 L896.8 176.8 L896.8 176.3 L896.8 175.8 L896.9 175.3 L896.9 174.8 L896.9 174.3 L896.9 173.8 L896.9 173.3 L897 172.8 L897 172.3 L897 171.8 L897 171.3 L897 170.8 L897 170.3 L897 169.8 L897 169.3 L897 168.8 L897 168.3 L897 167.8 L897 167.3 L896.9 166.8 L896.9 166.3 L896.9 165.8 L896.9 165.3 L896.9 164.8 L896.8 164.3 L896.8 163.8 L896.8 163.3 L896.7 162.8 L896.7 162.3 L896.7 161.8 L896.6 161.3 L896.6 160.8 L896.5 160.3 L896.5 159.8 L896.4 159.3 L896.4 158.8 L896.3 158.3 L896.3 157.8 L896.2 157.3 L896.1 156.8 L896.1 156.3 L896 155.8 L895.9 155.3 L895.8 154.8 L895.8 154.3 L895.7 153.8 L895.6 153.3 L895.5 152.8 L895.4 152.3 L895.3 151.9 L895.2 151.4 L895.2 150.9 L895.1 150.4 L895 149.9 L894.9 149.4 L894.8 148.9 L894.6 148.4 L894.5 147.9 L894.4 147.5 L894.3 147 L894.2 146.5 L894.1 146 L894 145.5 L893.8 145 L893.7 144.5 L893.6 144.1 L893.4 143.6 L893.3 143.1 L893.2 142.6 L893 142.1 L892.9 141.6 L892.8 141.2 L892.6 140.7 L892.5 140.2 L892.3 139.7 L892.2 139.3 L892 138.8 L891.8 138.3 L891.7 137.8 L891.5 137.4 L891.4 136.9 L891.2 136.4 L891 135.9 L890.9 135.5 L890.7 135 L890.5 134.5 L890.3 134.1 L890.1 133.6 L890 133.1 L889.8 132.7 L889.6 132.2 L889.4 131.7 L889.2 131.3 L889 130.8 L888.8 130.4 L888.6 129.9 L888.4 129.4 L888.2 129 L888 128.5 L887.8 128.1 L887.6 127.6 L887.5 127.1 L887.3 126.7 L887.1 126.2 L886.9 125.7 L886.7 125.3 L886.5 124.8 L886.3 124.4 L886.1 123.9 L885.9 123.4 L885.7 123 L885.5 122.5 L885.3 122 L885.1 121.6 L884.9 121.1 L884.7 120.7 L884.5 120.2 L884.4 119.7 L884.2 119.3 L884 118.8 L883.8 118.3 L883.6 117.9 L883.4 117.4 L883.2 117 L883 116.5 L882.8 116 L882.6 115.6 L882.4 115.1 L882.2 114.6 L882 114.2 L881.8 113.7 L881.6 113.3 L881.4 112.8 L881.2 112.3 L881.1 111.9 L880.9 111.4 L880.7 111 L880.5 110.5 L880.3 110 L880.1 109.6 L879.9 109.1 L879.7 108.6 L879.5 108.2 L879.3 107.7 L879.1 107.3 L878.9 106.8 L878.7 106.3 L878.5 105.9 L878.3 105.4 L878.1 104.9 L877.9 104.5 L877.8 104 L877.6 103.6 L877.4 103.1 L877.2 102.6 L877 102.2 L876.8 101.7 L876.6 101.2 L876.4 100.8 L876.2 100.3 L876 99.9 L875.8 99.4 L875.6 98.9 L875.4 98.5 L875.2 98 L875 97.5 L874.8 97.1 L874.6 96.6 L874.5 96.2 L874.3 95.7 L874.1 95.2 L873.9 94.8 L873.7 94.3 L873.5 93.9 L873.3 93.4 L873.1 92.9 L872.9 92.5 L872.7 92 L872.5 91.5 L872.3 91.1 L872.1 90.6 L871.9 90.2 L871.7 89.7 L871.5 89.2 L871.3 88.8 L871.2 88.3 L871 87.8 L870.8 87.4 L870.6 86.9 L870.4 86.5 L870.2 86 L870 85.5 L869.8 85.1 L869.6 84.6 L869.4 84.1 L869.2 83.7 L869 83.2 L868.8 82.8 L868.6 82.3 L868.4 81.8 L868.2 81.4 L868.1 80.9 L867.9 80.4 L867.7 80 L867.5 79.5 L867.3 79.1 L867.1 78.6 L866.9 78.1 L866.7 77.7 L866.5 77.2 L866.3 76.7 L866.1 76.3 L865.9 75.8 L865.7 75.4 L865.5 74.9 L865.3 74.4 L865.1 74 L864.9 73.5 L864.8 73.1 L864.6 72.6 L864.4 72.1 L864.2 71.7 L864 71.2 L863.8 70.7 L863.6 70.3 L863.4 69.8 L863.2 69.4 L863 68.9 L862.8 68.4 L862.6 68 L862.4 67.5 L862.2 67 L862 66.6 L861.8 66.1 L861.7 65.6 L861.5 65.2 L861.3 64.7 L861.2 64.2 L861 63.7 L860.8 63.3 L860.7 62.8 L860.6 62.3 L860.5 61.8 L860.3 61.3 L860.2 60.8 L860.1 60.3 L860 59.8 L859.9 59.3 L859.9 58.8 L859.8 58.3 L859.7 57.8 L859.7 57.3 L859.6 56.8 L859.6 56.3 L859.6 55.8 L859.5 55.3 L859.5 54.8 L859.5 54.3 L859.5 53.8 L859.5 53.3 L859.5 52.8 L859.5 52.3 L859.6 51.8 L859.6 51.3 L859.7 50.8 L859.7 50.3 L859.8 49.8 L859.8 49.3 L859.9 48.8 L860 48.3 L860.1 47.8 L860.2 47.3 L860.3 46.8 L860.4 46.3 L860.5 45.9 L860.7 45.4 L860.8 44.9 L861 44.4 L861.1 43.9 L861.3 43.4 L861.4 43 L861.6 42.5 L861.8 42 L862 41.6 L862.2 41.1 L862.4 40.6 L862.6 40.2 L862.8 39.7 L863 39.3 L863.3 38.8 L863.5 38.4 L863.7 37.9 L864 37.5 L864.3 37.1 L864.5 36.6 L864.8 36.2 L865.1 35.8 L865.4 35.4 L865.7 35 L865.9 34.6 L866.3 34.2 L866.6 33.8 L866.9 33.4 L867.2 33 L867.5 32.6 L867.9 32.2 L868.2 31.9 L868.6 31.5 L868.9 31.1 L869.3 30.8 L869.6 30.4 L870 30.1" stroke="#ebf1f9" stroke-width="33" fill="none" stroke-linecap="round"/><path d="M414 4 L702.8 4" stroke="#8f98b5" stroke-width="1.4" fill="none"/><path d="M891.2 4 L1272 4" stroke="#8f98b5" stroke-width="1.4" fill="none"/><path d="M414 39 L702.9 39" stroke="#8f98b5" stroke-width="1.4" fill="none"/><path d="M891.1 39 L1272 39" stroke="#8f98b5" stroke-width="1.4" fill="none"/><g stroke-linecap="round"><line x1="703.7" y1="4" x2="702.3" y2="19.5" stroke="#c3cae8" stroke-width="1"/><line x1="705.3" y1="4.1" x2="705.1" y2="19.6" stroke="#c3cae8" stroke-width="1"/><line x1="710.8" y1="4.8" x2="707.3" y2="19.9" stroke="#c3cae8" stroke-width="1"/><line x1="712.4" y1="5.1" x2="710" y2="20.4" stroke="#c3cae8" stroke-width="1"/><line x1="717.7" y1="6.5" x2="712.2" y2="21" stroke="#d3deef" stroke-width="2.2"/><line x1="719.4" y1="7.1" x2="714.8" y2="21.9" stroke="#d3deef" stroke-width="2.2"/><line x1="724.7" y1="9.4" x2="717" y2="22.9" stroke="#d3deef" stroke-width="2.2"/><line x1="726.4" y1="10.3" x2="719.5" y2="24.2" stroke="#d3deef" stroke-width="2.2"/><line x1="731.1" y1="13.3" x2="721.5" y2="25.5" stroke="#d3deef" stroke-width="2.2"/><line x1="732.8" y1="14.6" x2="723.8" y2="27.2" stroke="#d3deef" stroke-width="2.2"/><line x1="736.8" y1="18.1" x2="725.6" y2="28.8" stroke="#d3deef" stroke-width="2.2"/><line x1="738.5" y1="19.8" x2="727.5" y2="30.8" stroke="#d3deef" stroke-width="2.2"/><line x1="741.8" y1="23.7" x2="729.1" y2="32.6" stroke="#d3deef" stroke-width="2.2"/><line x1="743.3" y1="25.8" x2="730.7" y2="34.9" stroke="#d3deef" stroke-width="2.2"/><line x1="745.9" y1="30.1" x2="732.1" y2="37.1" stroke="#d3deef" stroke-width="2.2"/><line x1="747.1" y1="32.4" x2="733.4" y2="39.6" stroke="#d3deef" stroke-width="2.2"/><line x1="749" y1="37" x2="734.3" y2="41.8" stroke="#d3deef" stroke-width="2.2"/><line x1="749.9" y1="39.5" x2="735.2" y2="44.5" stroke="#d3deef" stroke-width="2.2"/><line x1="751.1" y1="44.3" x2="735.8" y2="46.8" stroke="#d3deef" stroke-width="2.2"/><line x1="751.5" y1="46.9" x2="736.2" y2="49.6" stroke="#d3deef" stroke-width="2.2"/><line x1="752" y1="51.8" x2="736.5" y2="52" stroke="#d3deef" stroke-width="2.2"/><line x1="752" y1="54.5" x2="736.5" y2="54.8" stroke="#d3deef" stroke-width="2.2"/><line x1="751.7" y1="59.4" x2="736.4" y2="57.2" stroke="#d3deef" stroke-width="2.2"/><line x1="751.4" y1="62.1" x2="736" y2="59.9" stroke="#d3deef" stroke-width="2.2"/><line x1="750.3" y1="66.9" x2="735.4" y2="62.5" stroke="#d3deef" stroke-width="2.2"/><line x1="749.6" y1="69.4" x2="734.7" y2="65.2" stroke="#d3deef" stroke-width="2.2"/><line x1="747.8" y1="74.1" x2="733.5" y2="68" stroke="#d3deef" stroke-width="2.2"/><line x1="746.8" y1="76.5" x2="732.5" y2="70.6" stroke="#d3deef" stroke-width="2.2"/><line x1="744.9" y1="81.1" x2="730.6" y2="75" stroke="#d3deef" stroke-width="2.2"/><line x1="743.8" y1="83.5" x2="729.5" y2="77.6" stroke="#d3deef" stroke-width="2.2"/><line x1="741.9" y1="88.1" x2="727.7" y2="82" stroke="#d3deef" stroke-width="2.2"/><line x1="740.9" y1="90.5" x2="726.6" y2="84.6" stroke="#d3deef" stroke-width="2.2"/><line x1="738.9" y1="95.3" x2="724.7" y2="89" stroke="#d3deef" stroke-width="2.2"/><line x1="738" y1="97.3" x2="723.6" y2="91.6" stroke="#d3deef" stroke-width="2.2"/><line x1="736.4" y1="101.2" x2="722.2" y2="94.9" stroke="#d3deef" stroke-width="2.2"/><line x1="735.6" y1="103.2" x2="721.2" y2="97.5" stroke="#d3deef" stroke-width="2.2"/><line x1="733.9" y1="107.1" x2="719.8" y2="100.8" stroke="#d3deef" stroke-width="2.2"/><line x1="733.1" y1="109.1" x2="718.7" y2="103.4" stroke="#d3deef" stroke-width="2.2"/><line x1="731.5" y1="113" x2="717.3" y2="106.7" stroke="#d3deef" stroke-width="2.2"/><line x1="730.6" y1="115" x2="716.2" y2="109.3" stroke="#d3deef" stroke-width="2.2"/><line x1="729" y1="118.9" x2="714.8" y2="112.6" stroke="#d3deef" stroke-width="2.2"/><line x1="728.1" y1="120.9" x2="713.7" y2="115.2" stroke="#d3deef" stroke-width="2.2"/><line x1="726.5" y1="124.8" x2="712.3" y2="118.5" stroke="#d3deef" stroke-width="2.2"/><line x1="725.7" y1="126.8" x2="711.2" y2="121.1" stroke="#d3deef" stroke-width="2.2"/><line x1="724" y1="130.7" x2="709.9" y2="124.4" stroke="#d3deef" stroke-width="2.2"/><line x1="723.2" y1="132.7" x2="708.8" y2="127" stroke="#d3deef" stroke-width="2.2"/><line x1="721.5" y1="136.6" x2="707.4" y2="130.3" stroke="#d3deef" stroke-width="2.2"/><line x1="720.7" y1="138.6" x2="706.3" y2="132.9" stroke="#d3deef" stroke-width="2.2"/><line x1="719.2" y1="142.6" x2="704.6" y2="137.3" stroke="#d3deef" stroke-width="2.2"/><line x1="718.5" y1="144.6" x2="703.7" y2="140" stroke="#d3deef" stroke-width="2.2"/><line x1="717.3" y1="148.7" x2="702.4" y2="144.5" stroke="#d3deef" stroke-width="2.2"/><line x1="716.8" y1="150.8" x2="701.7" y2="147.2" stroke="#d3deef" stroke-width="2.2"/><line x1="715.9" y1="154.9" x2="700.7" y2="152" stroke="#d3deef" stroke-width="2.2"/><line x1="715.5" y1="157.1" x2="700.2" y2="154.7" stroke="#d3deef" stroke-width="2.2"/><line x1="715" y1="161.2" x2="699.6" y2="159.5" stroke="#d3deef" stroke-width="2.2"/><line x1="714.8" y1="163.4" x2="699.3" y2="162.2" stroke="#d3deef" stroke-width="2.2"/><line x1="714.5" y1="167.6" x2="699" y2="167.1" stroke="#d3deef" stroke-width="2.2"/><line x1="714.5" y1="169.8" x2="699" y2="169.9" stroke="#d3deef" stroke-width="2.2"/><line x1="714.6" y1="174" x2="699.1" y2="174.6" stroke="#d3deef" stroke-width="2.2"/><line x1="714.7" y1="176.2" x2="699.3" y2="177.4" stroke="#d3deef" stroke-width="2.2"/><line x1="715.2" y1="180.4" x2="699.8" y2="182.3" stroke="#d3deef" stroke-width="2.2"/><line x1="715.5" y1="182.5" x2="700.1" y2="185" stroke="#d3deef" stroke-width="2.2"/><line x1="716.2" y1="186.7" x2="701" y2="189.7" stroke="#d3deef" stroke-width="2.2"/><line x1="716.7" y1="188.8" x2="701.6" y2="192.5" stroke="#d3deef" stroke-width="2.2"/><line x1="717.7" y1="192.9" x2="702.8" y2="197.1" stroke="#d3deef" stroke-width="2.2"/><line x1="718.4" y1="195" x2="703.6" y2="199.8" stroke="#d3deef" stroke-width="2.2"/><line x1="719.8" y1="199" x2="705.2" y2="204.3" stroke="#d3deef" stroke-width="2.2"/><line x1="720.5" y1="201" x2="706.2" y2="206.9" stroke="#d3deef" stroke-width="2.2"/><line x1="722.2" y1="204.9" x2="708.1" y2="211.4" stroke="#d3deef" stroke-width="2.2"/><line x1="723.2" y1="206.9" x2="709.4" y2="213.9" stroke="#d3deef" stroke-width="2.2"/><line x1="725.2" y1="210.6" x2="711.6" y2="218.1" stroke="#d3deef" stroke-width="2.2"/><line x1="726.3" y1="212.5" x2="713" y2="220.5" stroke="#d3deef" stroke-width="2.2"/><line x1="728.5" y1="216" x2="715.6" y2="224.6" stroke="#d3deef" stroke-width="2.2"/><line x1="729.8" y1="217.8" x2="717.2" y2="226.9" stroke="#d3deef" stroke-width="2.2"/><line x1="732.3" y1="221.2" x2="720.1" y2="230.7" stroke="#d3deef" stroke-width="2.2"/><line x1="733.7" y1="222.9" x2="721.8" y2="232.9" stroke="#d3deef" stroke-width="2.2"/><line x1="736.5" y1="226.1" x2="725" y2="236.5" stroke="#d3deef" stroke-width="2.2"/><line x1="738" y1="227.6" x2="726.9" y2="238.5" stroke="#d3deef" stroke-width="2.2"/><line x1="741" y1="230.6" x2="730.4" y2="241.9" stroke="#d3deef" stroke-width="2.2"/><line x1="742.6" y1="232" x2="732.4" y2="243.7" stroke="#d3deef" stroke-width="2.2"/><line x1="745.9" y1="234.7" x2="736.2" y2="246.8" stroke="#d3deef" stroke-width="2.2"/><line x1="747.6" y1="236.1" x2="738.4" y2="248.5" stroke="#d3deef" stroke-width="2.2"/><line x1="751" y1="238.5" x2="742.3" y2="251.3" stroke="#d3deef" stroke-width="2.2"/><line x1="752.8" y1="239.7" x2="744.6" y2="252.8" stroke="#d3deef" stroke-width="2.2"/><line x1="756.5" y1="241.9" x2="748.8" y2="255.3" stroke="#d3deef" stroke-width="2.2"/><line x1="758.4" y1="242.9" x2="751.2" y2="256.7" stroke="#d3deef" stroke-width="2.2"/><line x1="762.2" y1="244.8" x2="755.5" y2="258.8" stroke="#d3deef" stroke-width="2.2"/><line x1="764.1" y1="245.7" x2="758" y2="259.9" stroke="#d3deef" stroke-width="2.2"/><line x1="768.1" y1="247.3" x2="762.5" y2="261.7" stroke="#d3deef" stroke-width="2.2"/><line x1="770.1" y1="248" x2="765.2" y2="262.7" stroke="#d3deef" stroke-width="2.2"/><line x1="774.1" y1="249.3" x2="769.8" y2="264.2" stroke="#d3deef" stroke-width="2.2"/><line x1="776.2" y1="249.8" x2="772.5" y2="264.9" stroke="#d3deef" stroke-width="2.2"/><line x1="780.4" y1="250.8" x2="777.1" y2="266" stroke="#d3deef" stroke-width="2.2"/><line x1="782.5" y1="251.2" x2="779.9" y2="266.5" stroke="#d3deef" stroke-width="2.2"/><line x1="786.7" y1="251.9" x2="784.6" y2="267.2" stroke="#d3deef" stroke-width="2.2"/><line x1="788.8" y1="252.1" x2="787.4" y2="267.5" stroke="#d3deef" stroke-width="2.2"/><line x1="793" y1="252.4" x2="792.2" y2="267.9" stroke="#d3deef" stroke-width="2.2"/><line x1="795.2" y1="252.5" x2="795" y2="268" stroke="#d3deef" stroke-width="2.2"/><line x1="799.4" y1="252.5" x2="799.8" y2="268" stroke="#d3deef" stroke-width="2.2"/><line x1="801.6" y1="252.4" x2="802.6" y2="267.8" stroke="#d3deef" stroke-width="2.2"/><line x1="805.8" y1="252" x2="807.4" y2="267.5" stroke="#d3deef" stroke-width="2.2"/><line x1="808" y1="251.8" x2="810.1" y2="267.1" stroke="#d3deef" stroke-width="2.2"/><line x1="812.2" y1="251.1" x2="814.9" y2="266.4" stroke="#d3deef" stroke-width="2.2"/><line x1="814.3" y1="250.7" x2="817.7" y2="265.8" stroke="#d3deef" stroke-width="2.2"/><line x1="818.4" y1="249.7" x2="822.3" y2="264.7" stroke="#d3deef" stroke-width="2.2"/><line x1="820.5" y1="249.1" x2="825" y2="263.9" stroke="#d3deef" stroke-width="2.2"/><line x1="824.5" y1="247.8" x2="829.6" y2="262.4" stroke="#d3deef" stroke-width="2.2"/><line x1="826.5" y1="247" x2="832.2" y2="261.5" stroke="#d3deef" stroke-width="2.2"/><line x1="830.4" y1="245.4" x2="836.6" y2="259.6" stroke="#d3deef" stroke-width="2.2"/><line x1="832.4" y1="244.5" x2="839.2" y2="258.5" stroke="#d3deef" stroke-width="2.2"/><line x1="836.2" y1="242.6" x2="843.5" y2="256.3" stroke="#d3deef" stroke-width="2.2"/><line x1="838.1" y1="241.5" x2="845.9" y2="254.9" stroke="#d3deef" stroke-width="2.2"/><line x1="841.7" y1="239.3" x2="850" y2="252.4" stroke="#d3deef" stroke-width="2.2"/><line x1="843.5" y1="238.1" x2="852.3" y2="250.9" stroke="#d3deef" stroke-width="2.2"/><line x1="846.9" y1="235.7" x2="856.3" y2="248.1" stroke="#d3deef" stroke-width="2.2"/><line x1="848.7" y1="234.3" x2="858.5" y2="246.3" stroke="#d3deef" stroke-width="2.2"/><line x1="851.9" y1="231.6" x2="862.1" y2="243.3" stroke="#d3deef" stroke-width="2.2"/><line x1="853.5" y1="230.1" x2="864.2" y2="241.4" stroke="#d3deef" stroke-width="2.2"/><line x1="856.5" y1="227.2" x2="867.6" y2="238" stroke="#d3deef" stroke-width="2.2"/><line x1="858" y1="225.6" x2="869.5" y2="235.9" stroke="#d3deef" stroke-width="2.2"/><line x1="860.7" y1="222.4" x2="872.6" y2="232.3" stroke="#d3deef" stroke-width="2.2"/><line x1="862.1" y1="220.7" x2="874.4" y2="230.1" stroke="#d3deef" stroke-width="2.2"/><line x1="864.6" y1="217.3" x2="877.3" y2="226.2" stroke="#d3deef" stroke-width="2.2"/><line x1="865.8" y1="215.5" x2="878.8" y2="223.9" stroke="#d3deef" stroke-width="2.2"/><line x1="868.1" y1="211.9" x2="881.4" y2="219.9" stroke="#d3deef" stroke-width="2.2"/><line x1="869.1" y1="210" x2="882.8" y2="217.5" stroke="#d3deef" stroke-width="2.2"/><line x1="871.1" y1="206.3" x2="885" y2="213.2" stroke="#d3deef" stroke-width="2.2"/><line x1="872" y1="204.3" x2="886.2" y2="210.6" stroke="#d3deef" stroke-width="2.2"/><line x1="873.7" y1="200.4" x2="888.1" y2="206.3" stroke="#d3deef" stroke-width="2.2"/><line x1="874.5" y1="198.4" x2="889.1" y2="203.6" stroke="#d3deef" stroke-width="2.2"/><line x1="875.8" y1="194.4" x2="890.6" y2="199.1" stroke="#d3deef" stroke-width="2.2"/><line x1="876.4" y1="192.3" x2="891.4" y2="196.4" stroke="#d3deef" stroke-width="2.2"/><line x1="877.5" y1="188.2" x2="892.6" y2="191.7" stroke="#d3deef" stroke-width="2.2"/><line x1="877.9" y1="186.1" x2="893.1" y2="189" stroke="#d3deef" stroke-width="2.2"/><line x1="878.6" y1="181.9" x2="894" y2="184.2" stroke="#d3deef" stroke-width="2.2"/><line x1="878.9" y1="179.8" x2="894.3" y2="181.5" stroke="#d3deef" stroke-width="2.2"/><line x1="879.3" y1="175.5" x2="894.8" y2="176.7" stroke="#d3deef" stroke-width="2.2"/><line x1="879.4" y1="173.4" x2="894.9" y2="173.9" stroke="#d3deef" stroke-width="2.2"/><line x1="879.5" y1="169.2" x2="895" y2="169.1" stroke="#d3deef" stroke-width="2.2"/><line x1="879.5" y1="167" x2="894.9" y2="166.3" stroke="#d3deef" stroke-width="2.2"/><line x1="879.2" y1="162.8" x2="894.6" y2="161.5" stroke="#d3deef" stroke-width="2.2"/><line x1="879" y1="160.6" x2="894.4" y2="158.7" stroke="#d3deef" stroke-width="2.2"/><line x1="878.4" y1="156.4" x2="893.7" y2="154" stroke="#d3deef" stroke-width="2.2"/><line x1="878" y1="154.3" x2="893.2" y2="151.2" stroke="#d3deef" stroke-width="2.2"/><line x1="877.1" y1="150.1" x2="892.2" y2="146.5" stroke="#d3deef" stroke-width="2.2"/><line x1="876.5" y1="148" x2="891.5" y2="143.8" stroke="#d3deef" stroke-width="2.2"/><line x1="875.3" y1="144" x2="890" y2="139.2" stroke="#d3deef" stroke-width="2.2"/><line x1="874.6" y1="142" x2="889.1" y2="136.6" stroke="#d3deef" stroke-width="2.2"/><line x1="873" y1="138" x2="887.5" y2="132.3" stroke="#d3deef" stroke-width="2.2"/><line x1="872.2" y1="136" x2="886.4" y2="129.7" stroke="#d3deef" stroke-width="2.2"/><line x1="870.6" y1="132.1" x2="885" y2="126.4" stroke="#d3deef" stroke-width="2.2"/><line x1="869.7" y1="130.1" x2="883.9" y2="123.8" stroke="#d3deef" stroke-width="2.2"/><line x1="868.1" y1="126.2" x2="882.5" y2="120.5" stroke="#d3deef" stroke-width="2.2"/><line x1="867.3" y1="124.2" x2="881.4" y2="117.9" stroke="#d3deef" stroke-width="2.2"/><line x1="865.6" y1="120.3" x2="880" y2="114.6" stroke="#d3deef" stroke-width="2.2"/><line x1="864.8" y1="118.3" x2="878.9" y2="112" stroke="#d3deef" stroke-width="2.2"/><line x1="863.1" y1="114.4" x2="877.5" y2="108.7" stroke="#d3deef" stroke-width="2.2"/><line x1="862.3" y1="112.4" x2="876.5" y2="106.1" stroke="#d3deef" stroke-width="2.2"/><line x1="860.7" y1="108.5" x2="875.1" y2="102.8" stroke="#d3deef" stroke-width="2.2"/><line x1="859.8" y1="106.5" x2="874" y2="100.2" stroke="#d3deef" stroke-width="2.2"/><line x1="858.2" y1="102.6" x2="872.6" y2="96.9" stroke="#d3deef" stroke-width="2.2"/><line x1="857.3" y1="100.6" x2="871.5" y2="94.3" stroke="#d3deef" stroke-width="2.2"/><line x1="855.7" y1="96.7" x2="870.1" y2="91" stroke="#d3deef" stroke-width="2.2"/><line x1="854.9" y1="94.7" x2="869" y2="88.4" stroke="#d3deef" stroke-width="2.2"/><line x1="853.3" y1="91" x2="867.6" y2="85.1" stroke="#d3deef" stroke-width="2.2"/><line x1="852.3" y1="88.6" x2="866.6" y2="82.5" stroke="#d3deef" stroke-width="2.2"/><line x1="850.4" y1="84" x2="864.7" y2="78.1" stroke="#d3deef" stroke-width="2.2"/><line x1="849.3" y1="81.6" x2="863.6" y2="75.5" stroke="#d3deef" stroke-width="2.2"/><line x1="847.4" y1="77" x2="861.8" y2="71.1" stroke="#d3deef" stroke-width="2.2"/><line x1="846.4" y1="74.6" x2="860.7" y2="68.5" stroke="#d3deef" stroke-width="2.2"/><line x1="844.6" y1="70" x2="859.4" y2="65.5" stroke="#d3deef" stroke-width="2.2"/><line x1="843.8" y1="67.4" x2="858.6" y2="62.8" stroke="#d3deef" stroke-width="2.2"/><line x1="842.7" y1="62.6" x2="858.1" y2="60.5" stroke="#d3deef" stroke-width="2.2"/><line x1="842.3" y1="60" x2="857.7" y2="57.7" stroke="#d3deef" stroke-width="2.2"/><line x1="842" y1="55" x2="857.5" y2="55.3" stroke="#d3deef" stroke-width="2.2"/><line x1="842" y1="52.4" x2="857.5" y2="52.5" stroke="#d3deef" stroke-width="2.2"/><line x1="842.4" y1="47.5" x2="857.7" y2="49.9" stroke="#d3deef" stroke-width="2.2"/><line x1="842.8" y1="44.8" x2="858.2" y2="47.1" stroke="#d3deef" stroke-width="2.2"/><line x1="844" y1="40" x2="858.7" y2="44.8" stroke="#d3deef" stroke-width="2.2"/><line x1="844.8" y1="37.5" x2="859.6" y2="42.1" stroke="#d3deef" stroke-width="2.2"/><line x1="846.6" y1="32.9" x2="860.5" y2="39.9" stroke="#d3deef" stroke-width="2.2"/><line x1="847.8" y1="30.5" x2="861.7" y2="37.4" stroke="#d3deef" stroke-width="2.2"/><line x1="850.4" y1="26.3" x2="862.9" y2="35.3" stroke="#d3deef" stroke-width="2.2"/><line x1="851.9" y1="24.1" x2="864.6" y2="33" stroke="#d3deef" stroke-width="2.2"/><line x1="855.1" y1="20.2" x2="866.1" y2="31.2" stroke="#d3deef" stroke-width="2.2"/><line x1="856.8" y1="18.5" x2="868" y2="29.2" stroke="#d3deef" stroke-width="2.2"/><line x1="860.8" y1="14.9" x2="870" y2="27.4" stroke="#d3deef" stroke-width="2.2"/><line x1="862.5" y1="13.6" x2="872.2" y2="25.7" stroke="#d3deef" stroke-width="2.2"/><line x1="867.1" y1="10.6" x2="874.2" y2="24.4" stroke="#d3deef" stroke-width="2.2"/><line x1="868.8" y1="9.7" x2="876.7" y2="23" stroke="#d3deef" stroke-width="2.2"/><line x1="874.1" y1="7.3" x2="878.9" y2="22.1" stroke="#d3deef" stroke-width="2.2"/><line x1="875.7" y1="6.7" x2="881.5" y2="21.1" stroke="#d3deef" stroke-width="2.2"/><line x1="881.4" y1="5.1" x2="883.8" y2="20.4" stroke="#c3cae8" stroke-width="1"/><line x1="883" y1="4.8" x2="886.6" y2="19.9" stroke="#c3cae8" stroke-width="1"/><line x1="888.5" y1="4.1" x2="888.8" y2="19.6" stroke="#c3cae8" stroke-width="1"/><line x1="890.1" y1="4" x2="891.6" y2="19.5" stroke="#c3cae8" stroke-width="1"/><line x1="415.5" y1="4" x2="414.9" y2="19.5" stroke="#c3cae8" stroke-width="1"/><line x1="417.1" y1="4" x2="417.7" y2="19.5" stroke="#c3cae8" stroke-width="1"/><line x1="422.7" y1="4" x2="422.1" y2="19.5" stroke="#c3cae8" stroke-width="1"/><line x1="424.3" y1="4" x2="424.9" y2="19.5" stroke="#c3cae8" stroke-width="1"/><line x1="429.9" y1="4" x2="429.3" y2="19.5" stroke="#c3cae8" stroke-width="1"/><line x1="431.5" y1="4" x2="432.1" y2="19.5" stroke="#c3cae8" stroke-width="1"/><line x1="437.1" y1="4" x2="436.5" y2="19.5" stroke="#c3cae8" stroke-width="1"/><line x1="438.7" y1="4" x2="439.3" y2="19.5" stroke="#c3cae8" stroke-width="1"/><line x1="444.3" y1="4" x2="443.7" y2="19.5" stroke="#c3cae8" stroke-width="1"/><line x1="445.9" y1="4" x2="446.5" y2="19.5" stroke="#c3cae8" stroke-width="1"/><line x1="451.5" y1="4" x2="450.9" y2="19.5" stroke="#c3cae8" stroke-width="1"/><line x1="453.1" y1="4" x2="453.7" y2="19.5" stroke="#c3cae8" stroke-width="1"/><line x1="458.7" y1="4" x2="458.1" y2="19.5" stroke="#c3cae8" stroke-width="1"/><line x1="460.3" y1="4" x2="460.9" y2="19.5" stroke="#c3cae8" stroke-width="1"/><line x1="465.9" y1="4" x2="465.3" y2="19.5" stroke="#c3cae8" stroke-width="1"/><line x1="467.5" y1="4" x2="468.1" y2="19.5" stroke="#c3cae8" stroke-width="1"/><line x1="473.1" y1="4" x2="472.5" y2="19.5" stroke="#c3cae8" stroke-width="1"/><line x1="474.7" y1="4" x2="475.3" y2="19.5" stroke="#c3cae8" stroke-width="1"/><line x1="480.3" y1="4" x2="479.7" y2="19.5" stroke="#c3cae8" stroke-width="1"/><line x1="481.9" y1="4" x2="482.5" y2="19.5" stroke="#c3cae8" stroke-width="1"/><line x1="487.5" y1="4" x2="486.9" y2="19.5" stroke="#c3cae8" stroke-width="1"/><line x1="489.1" y1="4" x2="489.7" y2="19.5" stroke="#c3cae8" stroke-width="1"/><line x1="494.7" y1="4" x2="494.1" y2="19.5" stroke="#c3cae8" stroke-width="1"/><line x1="496.3" y1="4" x2="496.9" y2="19.5" stroke="#c3cae8" stroke-width="1"/><line x1="501.9" y1="4" x2="501.3" y2="19.5" stroke="#c3cae8" stroke-width="1"/><line x1="503.5" y1="4" x2="504.1" y2="19.5" stroke="#c3cae8" stroke-width="1"/><line x1="509.1" y1="4" x2="508.5" y2="19.5" stroke="#c3cae8" stroke-width="1"/><line x1="510.7" y1="4" x2="511.3" y2="19.5" stroke="#c3cae8" stroke-width="1"/><line x1="516.3" y1="4" x2="515.7" y2="19.5" stroke="#c3cae8" stroke-width="1"/><line x1="517.9" y1="4" x2="518.5" y2="19.5" stroke="#c3cae8" stroke-width="1"/><line x1="523.5" y1="4" x2="522.9" y2="19.5" stroke="#c3cae8" stroke-width="1"/><line x1="525.1" y1="4" x2="525.7" y2="19.5" stroke="#c3cae8" stroke-width="1"/><line x1="530.7" y1="4" x2="530.1" y2="19.5" stroke="#c3cae8" stroke-width="1"/><line x1="532.3" y1="4" x2="532.9" y2="19.5" stroke="#c3cae8" stroke-width="1"/><line x1="537.9" y1="4" x2="537.3" y2="19.5" stroke="#c3cae8" stroke-width="1"/><line x1="539.5" y1="4" x2="540.1" y2="19.5" stroke="#c3cae8" stroke-width="1"/><line x1="545.1" y1="4" x2="544.5" y2="19.5" stroke="#c3cae8" stroke-width="1"/><line x1="546.7" y1="4" x2="547.3" y2="19.5" stroke="#c3cae8" stroke-width="1"/><line x1="552.3" y1="4" x2="551.7" y2="19.5" stroke="#c3cae8" stroke-width="1"/><line x1="553.9" y1="4" x2="554.5" y2="19.5" stroke="#c3cae8" stroke-width="1"/><line x1="559.5" y1="4" x2="558.9" y2="19.5" stroke="#c3cae8" stroke-width="1"/><line x1="561.1" y1="4" x2="561.7" y2="19.5" stroke="#c3cae8" stroke-width="1"/><line x1="566.7" y1="4" x2="566.1" y2="19.5" stroke="#c3cae8" stroke-width="1"/><line x1="568.3" y1="4" x2="568.9" y2="19.5" stroke="#c3cae8" stroke-width="1"/><line x1="573.9" y1="4" x2="573.3" y2="19.5" stroke="#c3cae8" stroke-width="1"/><line x1="575.5" y1="4" x2="576.1" y2="19.5" stroke="#c3cae8" stroke-width="1"/><line x1="581.1" y1="4" x2="580.5" y2="19.5" stroke="#c3cae8" stroke-width="1"/><line x1="582.7" y1="4" x2="583.3" y2="19.5" stroke="#c3cae8" stroke-width="1"/><line x1="588.3" y1="4" x2="587.7" y2="19.5" stroke="#c3cae8" stroke-width="1"/><line x1="589.9" y1="4" x2="590.5" y2="19.5" stroke="#c3cae8" stroke-width="1"/><line x1="595.5" y1="4" x2="594.9" y2="19.5" stroke="#c3cae8" stroke-width="1"/><line x1="597.1" y1="4" x2="597.7" y2="19.5" stroke="#c3cae8" stroke-width="1"/><line x1="602.7" y1="4" x2="602.1" y2="19.5" stroke="#c3cae8" stroke-width="1"/><line x1="604.3" y1="4" x2="604.9" y2="19.5" stroke="#c3cae8" stroke-width="1"/><line x1="609.9" y1="4" x2="609.3" y2="19.5" stroke="#c3cae8" stroke-width="1"/><line x1="611.5" y1="4" x2="612.1" y2="19.5" stroke="#c3cae8" stroke-width="1"/><line x1="617.1" y1="4" x2="616.5" y2="19.5" stroke="#c3cae8" stroke-width="1"/><line x1="618.7" y1="4" x2="619.3" y2="19.5" stroke="#c3cae8" stroke-width="1"/><line x1="624.3" y1="4" x2="623.7" y2="19.5" stroke="#c3cae8" stroke-width="1"/><line x1="625.9" y1="4" x2="626.5" y2="19.5" stroke="#c3cae8" stroke-width="1"/><line x1="631.5" y1="4" x2="630.9" y2="19.5" stroke="#c3cae8" stroke-width="1"/><line x1="633.1" y1="4" x2="633.7" y2="19.5" stroke="#c3cae8" stroke-width="1"/><line x1="638.7" y1="4" x2="638.1" y2="19.5" stroke="#c3cae8" stroke-width="1"/><line x1="640.3" y1="4" x2="640.9" y2="19.5" stroke="#c3cae8" stroke-width="1"/><line x1="645.9" y1="4" x2="645.3" y2="19.5" stroke="#c3cae8" stroke-width="1"/><line x1="647.5" y1="4" x2="648.1" y2="19.5" stroke="#c3cae8" stroke-width="1"/><line x1="653.1" y1="4" x2="652.5" y2="19.5" stroke="#c3cae8" stroke-width="1"/><line x1="654.7" y1="4" x2="655.3" y2="19.5" stroke="#c3cae8" stroke-width="1"/><line x1="660.3" y1="4" x2="659.7" y2="19.5" stroke="#c3cae8" stroke-width="1"/><line x1="661.9" y1="4" x2="662.5" y2="19.5" stroke="#c3cae8" stroke-width="1"/><line x1="667.5" y1="4" x2="666.9" y2="19.5" stroke="#c3cae8" stroke-width="1"/><line x1="669.1" y1="4" x2="669.7" y2="19.5" stroke="#c3cae8" stroke-width="1"/><line x1="674.7" y1="4" x2="674.1" y2="19.5" stroke="#c3cae8" stroke-width="1"/><line x1="676.3" y1="4" x2="676.9" y2="19.5" stroke="#c3cae8" stroke-width="1"/><line x1="681.9" y1="4" x2="681.3" y2="19.5" stroke="#c3cae8" stroke-width="1"/><line x1="683.5" y1="4" x2="684.1" y2="19.5" stroke="#c3cae8" stroke-width="1"/><line x1="689.1" y1="4" x2="688.5" y2="19.5" stroke="#c3cae8" stroke-width="1"/><line x1="690.7" y1="4" x2="691.3" y2="19.5" stroke="#c3cae8" stroke-width="1"/><line x1="696.3" y1="4" x2="695.7" y2="19.5" stroke="#c3cae8" stroke-width="1"/><line x1="697.9" y1="4" x2="698.5" y2="19.5" stroke="#c3cae8" stroke-width="1"/><line x1="1271.2" y1="4" x2="1270.6" y2="19.5" stroke="#c3cae8" stroke-width="1"/><line x1="1272.8" y1="4" x2="1273.4" y2="19.5" stroke="#c3cae8" stroke-width="1"/><line x1="1264" y1="4" x2="1263.4" y2="19.5" stroke="#c3cae8" stroke-width="1"/><line x1="1265.6" y1="4" x2="1266.2" y2="19.5" stroke="#c3cae8" stroke-width="1"/><line x1="1256.8" y1="4" x2="1256.2" y2="19.5" stroke="#c3cae8" stroke-width="1"/><line x1="1258.4" y1="4" x2="1259" y2="19.5" stroke="#c3cae8" stroke-width="1"/><line x1="1249.6" y1="4" x2="1249" y2="19.5" stroke="#c3cae8" stroke-width="1"/><line x1="1251.2" y1="4" x2="1251.8" y2="19.5" stroke="#c3cae8" stroke-width="1"/><line x1="1242.4" y1="4" x2="1241.8" y2="19.5" stroke="#c3cae8" stroke-width="1"/><line x1="1244" y1="4" x2="1244.6" y2="19.5" stroke="#c3cae8" stroke-width="1"/><line x1="1235.2" y1="4" x2="1234.6" y2="19.5" stroke="#c3cae8" stroke-width="1"/><line x1="1236.8" y1="4" x2="1237.4" y2="19.5" stroke="#c3cae8" stroke-width="1"/><line x1="1228" y1="4" x2="1227.4" y2="19.5" stroke="#c3cae8" stroke-width="1"/><line x1="1229.6" y1="4" x2="1230.2" y2="19.5" stroke="#c3cae8" stroke-width="1"/><line x1="1220.8" y1="4" x2="1220.2" y2="19.5" stroke="#c3cae8" stroke-width="1"/><line x1="1222.4" y1="4" x2="1223" y2="19.5" stroke="#c3cae8" stroke-width="1"/><line x1="1213.6" y1="4" x2="1213" y2="19.5" stroke="#c3cae8" stroke-width="1"/><line x1="1215.2" y1="4" x2="1215.8" y2="19.5" stroke="#c3cae8" stroke-width="1"/><line x1="1206.4" y1="4" x2="1205.8" y2="19.5" stroke="#c3cae8" stroke-width="1"/><line x1="1208" y1="4" x2="1208.6" y2="19.5" stroke="#c3cae8" stroke-width="1"/><line x1="1199.2" y1="4" x2="1198.6" y2="19.5" stroke="#c3cae8" stroke-width="1"/><line x1="1200.8" y1="4" x2="1201.4" y2="19.5" stroke="#c3cae8" stroke-width="1"/><line x1="1192" y1="4" x2="1191.4" y2="19.5" stroke="#c3cae8" stroke-width="1"/><line x1="1193.6" y1="4" x2="1194.2" y2="19.5" stroke="#c3cae8" stroke-width="1"/><line x1="1184.8" y1="4" x2="1184.2" y2="19.5" stroke="#c3cae8" stroke-width="1"/><line x1="1186.4" y1="4" x2="1187" y2="19.5" stroke="#c3cae8" stroke-width="1"/><line x1="1177.6" y1="4" x2="1177" y2="19.5" stroke="#c3cae8" stroke-width="1"/><line x1="1179.2" y1="4" x2="1179.8" y2="19.5" stroke="#c3cae8" stroke-width="1"/><line x1="1170.4" y1="4" x2="1169.8" y2="19.5" stroke="#c3cae8" stroke-width="1"/><line x1="1172" y1="4" x2="1172.6" y2="19.5" stroke="#c3cae8" stroke-width="1"/><line x1="1163.2" y1="4" x2="1162.6" y2="19.5" stroke="#c3cae8" stroke-width="1"/><line x1="1164.8" y1="4" x2="1165.4" y2="19.5" stroke="#c3cae8" stroke-width="1"/><line x1="1156" y1="4" x2="1155.4" y2="19.5" stroke="#c3cae8" stroke-width="1"/><line x1="1157.6" y1="4" x2="1158.2" y2="19.5" stroke="#c3cae8" stroke-width="1"/><line x1="1148.8" y1="4" x2="1148.2" y2="19.5" stroke="#c3cae8" stroke-width="1"/><line x1="1150.4" y1="4" x2="1151" y2="19.5" stroke="#c3cae8" stroke-width="1"/><line x1="1141.6" y1="4" x2="1141" y2="19.5" stroke="#c3cae8" stroke-width="1"/><line x1="1143.2" y1="4" x2="1143.8" y2="19.5" stroke="#c3cae8" stroke-width="1"/><line x1="1134.4" y1="4" x2="1133.8" y2="19.5" stroke="#c3cae8" stroke-width="1"/><line x1="1136" y1="4" x2="1136.6" y2="19.5" stroke="#c3cae8" stroke-width="1"/><line x1="1127.2" y1="4" x2="1126.6" y2="19.5" stroke="#c3cae8" stroke-width="1"/><line x1="1128.8" y1="4" x2="1129.4" y2="19.5" stroke="#c3cae8" stroke-width="1"/><line x1="1120" y1="4" x2="1119.4" y2="19.5" stroke="#c3cae8" stroke-width="1"/><line x1="1121.6" y1="4" x2="1122.2" y2="19.5" stroke="#c3cae8" stroke-width="1"/><line x1="1112.8" y1="4" x2="1112.2" y2="19.5" stroke="#c3cae8" stroke-width="1"/><line x1="1114.4" y1="4" x2="1115" y2="19.5" stroke="#c3cae8" stroke-width="1"/><line x1="1105.6" y1="4" x2="1105" y2="19.5" stroke="#c3cae8" stroke-width="1"/><line x1="1107.2" y1="4" x2="1107.8" y2="19.5" stroke="#c3cae8" stroke-width="1"/><line x1="1098.4" y1="4" x2="1097.8" y2="19.5" stroke="#c3cae8" stroke-width="1"/><line x1="1100" y1="4" x2="1100.6" y2="19.5" stroke="#c3cae8" stroke-width="1"/><line x1="1091.2" y1="4" x2="1090.6" y2="19.5" stroke="#c3cae8" stroke-width="1"/><line x1="1092.8" y1="4" x2="1093.4" y2="19.5" stroke="#c3cae8" stroke-width="1"/><line x1="1084" y1="4" x2="1083.4" y2="19.5" stroke="#c3cae8" stroke-width="1"/><line x1="1085.6" y1="4" x2="1086.2" y2="19.5" stroke="#c3cae8" stroke-width="1"/><line x1="1076.8" y1="4" x2="1076.2" y2="19.5" stroke="#c3cae8" stroke-width="1"/><line x1="1078.4" y1="4" x2="1079" y2="19.5" stroke="#c3cae8" stroke-width="1"/><line x1="1069.6" y1="4" x2="1069" y2="19.5" stroke="#c3cae8" stroke-width="1"/><line x1="1071.2" y1="4" x2="1071.8" y2="19.5" stroke="#c3cae8" stroke-width="1"/><line x1="1062.4" y1="4" x2="1061.8" y2="19.5" stroke="#c3cae8" stroke-width="1"/><line x1="1064" y1="4" x2="1064.6" y2="19.5" stroke="#c3cae8" stroke-width="1"/><line x1="1055.2" y1="4" x2="1054.6" y2="19.5" stroke="#c3cae8" stroke-width="1"/><line x1="1056.8" y1="4" x2="1057.4" y2="19.5" stroke="#c3cae8" stroke-width="1"/><line x1="1048" y1="4" x2="1047.4" y2="19.5" stroke="#c3cae8" stroke-width="1"/><line x1="1049.6" y1="4" x2="1050.2" y2="19.5" stroke="#c3cae8" stroke-width="1"/><line x1="1040.8" y1="4" x2="1040.2" y2="19.5" stroke="#c3cae8" stroke-width="1"/><line x1="1042.4" y1="4" x2="1043" y2="19.5" stroke="#c3cae8" stroke-width="1"/><line x1="1033.6" y1="4" x2="1033" y2="19.5" stroke="#c3cae8" stroke-width="1"/><line x1="1035.2" y1="4" x2="1035.8" y2="19.5" stroke="#c3cae8" stroke-width="1"/><line x1="1026.4" y1="4" x2="1025.8" y2="19.5" stroke="#c3cae8" stroke-width="1"/><line x1="1028" y1="4" x2="1028.6" y2="19.5" stroke="#c3cae8" stroke-width="1"/><line x1="1019.2" y1="4" x2="1018.6" y2="19.5" stroke="#c3cae8" stroke-width="1"/><line x1="1020.8" y1="4" x2="1021.4" y2="19.5" stroke="#c3cae8" stroke-width="1"/><line x1="1012" y1="4" x2="1011.4" y2="19.5" stroke="#c3cae8" stroke-width="1"/><line x1="1013.6" y1="4" x2="1014.2" y2="19.5" stroke="#c3cae8" stroke-width="1"/><line x1="1004.8" y1="4" x2="1004.2" y2="19.5" stroke="#c3cae8" stroke-width="1"/><line x1="1006.4" y1="4" x2="1007" y2="19.5" stroke="#c3cae8" stroke-width="1"/><line x1="997.6" y1="4" x2="997" y2="19.5" stroke="#c3cae8" stroke-width="1"/><line x1="999.2" y1="4" x2="999.8" y2="19.5" stroke="#c3cae8" stroke-width="1"/><line x1="990.4" y1="4" x2="989.8" y2="19.5" stroke="#c3cae8" stroke-width="1"/><line x1="992" y1="4" x2="992.6" y2="19.5" stroke="#c3cae8" stroke-width="1"/><line x1="983.2" y1="4" x2="982.6" y2="19.5" stroke="#c3cae8" stroke-width="1"/><line x1="984.8" y1="4" x2="985.4" y2="19.5" stroke="#c3cae8" stroke-width="1"/><line x1="976" y1="4" x2="975.4" y2="19.5" stroke="#c3cae8" stroke-width="1"/><line x1="977.6" y1="4" x2="978.2" y2="19.5" stroke="#c3cae8" stroke-width="1"/><line x1="968.8" y1="4" x2="968.2" y2="19.5" stroke="#c3cae8" stroke-width="1"/><line x1="970.4" y1="4" x2="971" y2="19.5" stroke="#c3cae8" stroke-width="1"/><line x1="961.6" y1="4" x2="961" y2="19.5" stroke="#c3cae8" stroke-width="1"/><line x1="963.2" y1="4" x2="963.8" y2="19.5" stroke="#c3cae8" stroke-width="1"/><line x1="954.4" y1="4" x2="953.8" y2="19.5" stroke="#c3cae8" stroke-width="1"/><line x1="956" y1="4" x2="956.6" y2="19.5" stroke="#c3cae8" stroke-width="1"/><line x1="947.2" y1="4" x2="946.6" y2="19.5" stroke="#c3cae8" stroke-width="1"/><line x1="948.8" y1="4" x2="949.4" y2="19.5" stroke="#c3cae8" stroke-width="1"/><line x1="940" y1="4" x2="939.4" y2="19.5" stroke="#c3cae8" stroke-width="1"/><line x1="941.6" y1="4" x2="942.2" y2="19.5" stroke="#c3cae8" stroke-width="1"/><line x1="932.8" y1="4" x2="932.2" y2="19.5" stroke="#c3cae8" stroke-width="1"/><line x1="934.4" y1="4" x2="935" y2="19.5" stroke="#c3cae8" stroke-width="1"/><line x1="925.6" y1="4" x2="925" y2="19.5" stroke="#c3cae8" stroke-width="1"/><line x1="927.2" y1="4" x2="927.8" y2="19.5" stroke="#c3cae8" stroke-width="1"/><line x1="918.4" y1="4" x2="917.8" y2="19.5" stroke="#c3cae8" stroke-width="1"/><line x1="920" y1="4" x2="920.6" y2="19.5" stroke="#c3cae8" stroke-width="1"/><line x1="911.2" y1="4" x2="910.6" y2="19.5" stroke="#c3cae8" stroke-width="1"/><line x1="912.8" y1="4" x2="913.4" y2="19.5" stroke="#c3cae8" stroke-width="1"/><line x1="904" y1="4" x2="903.4" y2="19.5" stroke="#c3cae8" stroke-width="1"/><line x1="905.6" y1="4" x2="906.2" y2="19.5" stroke="#c3cae8" stroke-width="1"/><line x1="896.8" y1="4" x2="896.2" y2="19.5" stroke="#c3cae8" stroke-width="1"/><line x1="898.4" y1="4" x2="899" y2="19.5" stroke="#c3cae8" stroke-width="1"/><line x1="703.7" y1="39.1" x2="705.6" y2="23.7" stroke="#c3cae8" stroke-width="1"/><line x1="705.3" y1="39.3" x2="708.4" y2="24.1" stroke="#c3cae8" stroke-width="1"/><line x1="710.3" y1="41.5" x2="719.2" y2="28.8" stroke="#d3deef" stroke-width="2.2"/><line x1="711.7" y1="42.6" x2="721.5" y2="30.5" stroke="#d3deef" stroke-width="2.2"/><line x1="714" y1="44.9" x2="726.6" y2="35.9" stroke="#d3deef" stroke-width="2.2"/><line x1="714.9" y1="46.4" x2="728.1" y2="38.2" stroke="#d3deef" stroke-width="2.2"/><line x1="716.3" y1="49.3" x2="731.1" y2="44.8" stroke="#d3deef" stroke-width="2.2"/><line x1="716.7" y1="51" x2="731.8" y2="47.5" stroke="#d3deef" stroke-width="2.2"/><line x1="717" y1="54.3" x2="732.5" y2="55" stroke="#d3deef" stroke-width="2.2"/><line x1="716.9" y1="56" x2="732.3" y2="57.8" stroke="#d3deef" stroke-width="2.2"/><line x1="716.1" y1="59.2" x2="730.6" y2="64.7" stroke="#d3deef" stroke-width="2.2"/><line x1="715.4" y1="60.8" x2="729.5" y2="67.3" stroke="#d3deef" stroke-width="2.2"/><line x1="714.2" y1="63.8" x2="728.7" y2="69.3" stroke="#d3deef" stroke-width="2.2"/><line x1="713.5" y1="65.4" x2="727.6" y2="71.9" stroke="#d3deef" stroke-width="2.2"/><line x1="712.2" y1="68.4" x2="726.7" y2="73.9" stroke="#d3deef" stroke-width="2.2"/><line x1="711.6" y1="70" x2="725.6" y2="76.5" stroke="#d3deef" stroke-width="2.2"/><line x1="710.3" y1="72.9" x2="724.8" y2="78.5" stroke="#d3deef" stroke-width="2.2"/><line x1="709.6" y1="74.7" x2="723.7" y2="81.1" stroke="#d3deef" stroke-width="2.2"/><line x1="707.1" y1="80.6" x2="721.5" y2="86.3" stroke="#d3deef" stroke-width="2.2"/><line x1="706.3" y1="82.5" x2="720.5" y2="88.8" stroke="#d3deef" stroke-width="2.2"/><line x1="703.9" y1="88.3" x2="718.3" y2="94" stroke="#d3deef" stroke-width="2.2"/><line x1="703" y1="90.3" x2="717.2" y2="96.6" stroke="#d3deef" stroke-width="2.2"/><line x1="700.7" y1="96" x2="715" y2="101.7" stroke="#d3deef" stroke-width="2.2"/><line x1="699.7" y1="98.1" x2="713.9" y2="104.3" stroke="#d3deef" stroke-width="2.2"/><line x1="697.4" y1="103.6" x2="711.8" y2="109.5" stroke="#d3deef" stroke-width="2.2"/><line x1="696.5" y1="105.9" x2="710.7" y2="112.1" stroke="#d3deef" stroke-width="2.2"/><line x1="694.2" y1="111.3" x2="708.5" y2="117.2" stroke="#d3deef" stroke-width="2.2"/><line x1="693.2" y1="113.8" x2="707.4" y2="119.8" stroke="#d3deef" stroke-width="2.2"/><line x1="691" y1="119" x2="705.3" y2="125" stroke="#d3deef" stroke-width="2.2"/><line x1="689.9" y1="121.5" x2="704.2" y2="127.6" stroke="#d3deef" stroke-width="2.2"/><line x1="687.7" y1="126.8" x2="702.2" y2="132.3" stroke="#d3deef" stroke-width="2.2"/><line x1="686.8" y1="129.3" x2="701.2" y2="134.9" stroke="#d3deef" stroke-width="2.2"/><line x1="684.9" y1="134.7" x2="699.8" y2="139.2" stroke="#d3deef" stroke-width="2.2"/><line x1="684.1" y1="137.3" x2="699" y2="141.8" stroke="#d3deef" stroke-width="2.2"/><line x1="682.7" y1="142.8" x2="697.8" y2="146.1" stroke="#d3deef" stroke-width="2.2"/><line x1="682.1" y1="145.4" x2="697.2" y2="148.9" stroke="#d3deef" stroke-width="2.2"/><line x1="681" y1="151" x2="696.4" y2="153.3" stroke="#d3deef" stroke-width="2.2"/><line x1="680.6" y1="153.7" x2="695.9" y2="156.1" stroke="#d3deef" stroke-width="2.2"/><line x1="680" y1="159.4" x2="695.4" y2="160.5" stroke="#d3deef" stroke-width="2.2"/><line x1="679.8" y1="162" x2="695.2" y2="163.3" stroke="#d3deef" stroke-width="2.2"/><line x1="679.5" y1="167.8" x2="695" y2="167.8" stroke="#d3deef" stroke-width="2.2"/><line x1="679.5" y1="170.4" x2="695" y2="170.6" stroke="#d3deef" stroke-width="2.2"/><line x1="679.7" y1="176.2" x2="695.1" y2="175.1" stroke="#d3deef" stroke-width="2.2"/><line x1="679.8" y1="178.8" x2="695.3" y2="177.9" stroke="#d3deef" stroke-width="2.2"/><line x1="680.4" y1="184.5" x2="695.7" y2="182.4" stroke="#d3deef" stroke-width="2.2"/><line x1="680.8" y1="187.2" x2="696.1" y2="185.1" stroke="#d3deef" stroke-width="2.2"/><line x1="681.7" y1="192.8" x2="696.9" y2="189.6" stroke="#d3deef" stroke-width="2.2"/><line x1="682.3" y1="195.4" x2="697.5" y2="192.3" stroke="#d3deef" stroke-width="2.2"/><line x1="683.7" y1="201" x2="698.5" y2="196.6" stroke="#d3deef" stroke-width="2.2"/><line x1="684.4" y1="203.5" x2="699.3" y2="199.3" stroke="#d3deef" stroke-width="2.2"/><line x1="686.2" y1="209" x2="700.7" y2="203.6" stroke="#d3deef" stroke-width="2.2"/><line x1="687.1" y1="211.5" x2="701.7" y2="206.3" stroke="#d3deef" stroke-width="2.2"/><line x1="689.2" y1="216.8" x2="703.3" y2="210.4" stroke="#d3deef" stroke-width="2.2"/><line x1="690.3" y1="219.3" x2="704.5" y2="213" stroke="#d3deef" stroke-width="2.2"/><line x1="692.8" y1="224.4" x2="706.5" y2="217" stroke="#d3deef" stroke-width="2.2"/><line x1="694.1" y1="226.7" x2="707.8" y2="219.5" stroke="#d3deef" stroke-width="2.2"/><line x1="697" y1="231.7" x2="710" y2="223.3" stroke="#d3deef" stroke-width="2.2"/><line x1="698.4" y1="234" x2="711.5" y2="225.7" stroke="#d3deef" stroke-width="2.2"/><line x1="701.7" y1="238.7" x2="714.1" y2="229.4" stroke="#d3deef" stroke-width="2.2"/><line x1="703.2" y1="240.8" x2="715.8" y2="231.7" stroke="#d3deef" stroke-width="2.2"/><line x1="706.8" y1="245.3" x2="718.6" y2="235.2" stroke="#d3deef" stroke-width="2.2"/><line x1="708.5" y1="247.3" x2="720.4" y2="237.4" stroke="#d3deef" stroke-width="2.2"/><line x1="712.4" y1="251.6" x2="723.4" y2="240.6" stroke="#d3deef" stroke-width="2.2"/><line x1="714.3" y1="253.5" x2="725.4" y2="242.6" stroke="#d3deef" stroke-width="2.2"/><line x1="718.5" y1="257.4" x2="728.6" y2="245.7" stroke="#d3deef" stroke-width="2.2"/><line x1="720.5" y1="259.2" x2="730.7" y2="247.6" stroke="#d3deef" stroke-width="2.2"/><line x1="724.9" y1="262.8" x2="734.2" y2="250.4" stroke="#d3deef" stroke-width="2.2"/><line x1="727" y1="264.4" x2="736.5" y2="252.1" stroke="#d3deef" stroke-width="2.2"/><line x1="731.7" y1="267.7" x2="740.1" y2="254.7" stroke="#d3deef" stroke-width="2.2"/><line x1="734" y1="269.2" x2="742.4" y2="256.2" stroke="#d3deef" stroke-width="2.2"/><line x1="738.9" y1="272.1" x2="746.3" y2="258.5" stroke="#d3deef" stroke-width="2.2"/><line x1="741.2" y1="273.4" x2="748.8" y2="259.9" stroke="#d3deef" stroke-width="2.2"/><line x1="746.3" y1="276" x2="752.8" y2="261.9" stroke="#d3deef" stroke-width="2.2"/><line x1="748.7" y1="277.1" x2="755.3" y2="263.1" stroke="#d3deef" stroke-width="2.2"/><line x1="754" y1="279.4" x2="759.5" y2="264.9" stroke="#d3deef" stroke-width="2.2"/><line x1="756.5" y1="280.3" x2="762.1" y2="265.9" stroke="#d3deef" stroke-width="2.2"/><line x1="761.9" y1="282.2" x2="766.3" y2="267.3" stroke="#d3deef" stroke-width="2.2"/><line x1="764.5" y1="282.9" x2="769" y2="268.1" stroke="#d3deef" stroke-width="2.2"/><line x1="770" y1="284.4" x2="773.3" y2="269.2" stroke="#d3deef" stroke-width="2.2"/><line x1="772.6" y1="285" x2="776.1" y2="269.8" stroke="#d3deef" stroke-width="2.2"/><line x1="778.3" y1="286" x2="780.5" y2="270.7" stroke="#d3deef" stroke-width="2.2"/><line x1="780.9" y1="286.4" x2="783.3" y2="271.1" stroke="#d3deef" stroke-width="2.2"/><line x1="786.6" y1="287" x2="787.7" y2="271.6" stroke="#d3deef" stroke-width="2.2"/><line x1="789.3" y1="287.2" x2="790.5" y2="271.8" stroke="#d3deef" stroke-width="2.2"/><line x1="795" y1="287.5" x2="795" y2="272" stroke="#d3deef" stroke-width="2.2"/><line x1="797.7" y1="287.5" x2="797.8" y2="272" stroke="#d3deef" stroke-width="2.2"/><line x1="803.4" y1="287.3" x2="802.3" y2="271.9" stroke="#d3deef" stroke-width="2.2"/><line x1="806" y1="287.2" x2="805.1" y2="271.7" stroke="#d3deef" stroke-width="2.2"/><line x1="811.8" y1="286.6" x2="809.6" y2="271.2" stroke="#d3deef" stroke-width="2.2"/><line x1="814.4" y1="286.2" x2="812.4" y2="270.8" stroke="#d3deef" stroke-width="2.2"/><line x1="820" y1="285.2" x2="816.7" y2="270.1" stroke="#d3deef" stroke-width="2.2"/><line x1="822.6" y1="284.7" x2="819.5" y2="269.5" stroke="#d3deef" stroke-width="2.2"/><line x1="828.2" y1="283.3" x2="823.9" y2="268.4" stroke="#d3deef" stroke-width="2.2"/><line x1="830.8" y1="282.6" x2="826.6" y2="267.6" stroke="#d3deef" stroke-width="2.2"/><line x1="836.2" y1="280.8" x2="830.8" y2="266.2" stroke="#d3deef" stroke-width="2.2"/><line x1="838.7" y1="279.9" x2="833.5" y2="265.3" stroke="#d3deef" stroke-width="2.2"/><line x1="844" y1="277.7" x2="837.6" y2="263.6" stroke="#d3deef" stroke-width="2.2"/><line x1="846.5" y1="276.6" x2="840.1" y2="262.4" stroke="#d3deef" stroke-width="2.2"/><line x1="851.6" y1="274" x2="844.2" y2="260.4" stroke="#d3deef" stroke-width="2.2"/><line x1="854" y1="272.8" x2="846.6" y2="259.1" stroke="#d3deef" stroke-width="2.2"/><line x1="858.9" y1="269.9" x2="850.5" y2="256.8" stroke="#d3deef" stroke-width="2.2"/><line x1="861.1" y1="268.5" x2="852.9" y2="255.3" stroke="#d3deef" stroke-width="2.2"/><line x1="865.9" y1="265.2" x2="856.6" y2="252.8" stroke="#d3deef" stroke-width="2.2"/><line x1="868" y1="263.6" x2="858.9" y2="251.1" stroke="#d3deef" stroke-width="2.2"/><line x1="872.5" y1="260" x2="862.3" y2="248.3" stroke="#d3deef" stroke-width="2.2"/><line x1="874.5" y1="258.3" x2="864.5" y2="246.5" stroke="#d3deef" stroke-width="2.2"/><line x1="878.7" y1="254.4" x2="867.8" y2="243.5" stroke="#d3deef" stroke-width="2.2"/><line x1="880.6" y1="252.5" x2="869.8" y2="241.5" stroke="#d3deef" stroke-width="2.2"/><line x1="884.6" y1="248.4" x2="872.9" y2="238.2" stroke="#d3deef" stroke-width="2.2"/><line x1="886.3" y1="246.4" x2="874.7" y2="236.1" stroke="#d3deef" stroke-width="2.2"/><line x1="889.9" y1="241.9" x2="877.5" y2="232.6" stroke="#d3deef" stroke-width="2.2"/><line x1="891.5" y1="239.8" x2="879.2" y2="230.4" stroke="#d3deef" stroke-width="2.2"/><line x1="894.8" y1="235.1" x2="881.8" y2="226.7" stroke="#d3deef" stroke-width="2.2"/><line x1="896.3" y1="232.9" x2="883.3" y2="224.4" stroke="#d3deef" stroke-width="2.2"/><line x1="899.2" y1="227.9" x2="885.6" y2="220.5" stroke="#d3deef" stroke-width="2.2"/><line x1="900.5" y1="225.6" x2="887" y2="218" stroke="#d3deef" stroke-width="2.2"/><line x1="903.1" y1="220.5" x2="889" y2="214.1" stroke="#d3deef" stroke-width="2.2"/><line x1="904.2" y1="218.1" x2="890.2" y2="211.5" stroke="#d3deef" stroke-width="2.2"/><line x1="906.4" y1="212.8" x2="891.9" y2="207.4" stroke="#d3deef" stroke-width="2.2"/><line x1="907.4" y1="210.3" x2="892.9" y2="204.8" stroke="#d3deef" stroke-width="2.2"/><line x1="909.2" y1="204.8" x2="894.3" y2="200.5" stroke="#d3deef" stroke-width="2.2"/><line x1="910" y1="202.3" x2="895.2" y2="197.8" stroke="#d3deef" stroke-width="2.2"/><line x1="911.4" y1="196.7" x2="896.3" y2="193.4" stroke="#d3deef" stroke-width="2.2"/><line x1="912" y1="194.1" x2="896.9" y2="190.7" stroke="#d3deef" stroke-width="2.2"/><line x1="913" y1="188.5" x2="897.7" y2="186.3" stroke="#d3deef" stroke-width="2.2"/><line x1="913.4" y1="185.9" x2="898.1" y2="183.6" stroke="#d3deef" stroke-width="2.2"/><line x1="914.1" y1="180.2" x2="898.6" y2="179.1" stroke="#d3deef" stroke-width="2.2"/><line x1="914.3" y1="177.5" x2="898.8" y2="176.3" stroke="#d3deef" stroke-width="2.2"/><line x1="914.5" y1="171.8" x2="899" y2="171.8" stroke="#d3deef" stroke-width="2.2"/><line x1="914.5" y1="169.1" x2="899" y2="169" stroke="#d3deef" stroke-width="2.2"/><line x1="914.3" y1="163.4" x2="898.9" y2="164.5" stroke="#d3deef" stroke-width="2.2"/><line x1="914.1" y1="160.7" x2="898.7" y2="161.7" stroke="#d3deef" stroke-width="2.2"/><line x1="913.5" y1="155" x2="898.2" y2="157.2" stroke="#d3deef" stroke-width="2.2"/><line x1="913.2" y1="152.4" x2="897.8" y2="154.5" stroke="#d3deef" stroke-width="2.2"/><line x1="912.2" y1="146.7" x2="897" y2="150" stroke="#d3deef" stroke-width="2.2"/><line x1="911.6" y1="144.1" x2="896.5" y2="147.3" stroke="#d3deef" stroke-width="2.2"/><line x1="910.2" y1="138.6" x2="895.3" y2="142.9" stroke="#d3deef" stroke-width="2.2"/><line x1="909.5" y1="136" x2="894.6" y2="140.2" stroke="#d3deef" stroke-width="2.2"/><line x1="907.7" y1="130.6" x2="893.2" y2="136" stroke="#d3deef" stroke-width="2.2"/><line x1="906.8" y1="128.1" x2="892.2" y2="133.4" stroke="#d3deef" stroke-width="2.2"/><line x1="904.6" y1="122.7" x2="890.3" y2="128.8" stroke="#d3deef" stroke-width="2.2"/><line x1="903.6" y1="120.3" x2="889.2" y2="126.2" stroke="#d3deef" stroke-width="2.2"/><line x1="901.3" y1="115" x2="887.1" y2="121.1" stroke="#d3deef" stroke-width="2.2"/><line x1="900.3" y1="112.5" x2="886" y2="118.5" stroke="#d3deef" stroke-width="2.2"/><line x1="898.1" y1="107.2" x2="883.8" y2="113.3" stroke="#d3deef" stroke-width="2.2"/><line x1="897.1" y1="104.9" x2="882.7" y2="110.7" stroke="#d3deef" stroke-width="2.2"/><line x1="894.8" y1="99.4" x2="880.6" y2="105.6" stroke="#d3deef" stroke-width="2.2"/><line x1="893.9" y1="97.2" x2="879.5" y2="103" stroke="#d3deef" stroke-width="2.2"/><line x1="891.5" y1="91.6" x2="877.3" y2="97.8" stroke="#d3deef" stroke-width="2.2"/><line x1="890.6" y1="89.5" x2="876.2" y2="95.3" stroke="#d3deef" stroke-width="2.2"/><line x1="888.2" y1="83.7" x2="874.1" y2="90.1" stroke="#d3deef" stroke-width="2.2"/><line x1="887.4" y1="81.9" x2="873" y2="87.5" stroke="#d3deef" stroke-width="2.2"/><line x1="884.9" y1="75.9" x2="870.8" y2="82.3" stroke="#d3deef" stroke-width="2.2"/><line x1="884.2" y1="74.2" x2="869.7" y2="79.8" stroke="#d3deef" stroke-width="2.2"/><line x1="881.7" y1="68.1" x2="867.6" y2="74.6" stroke="#d3deef" stroke-width="2.2"/><line x1="881" y1="66.5" x2="866.5" y2="72" stroke="#d3deef" stroke-width="2.2"/><line x1="879.7" y1="63.5" x2="865.6" y2="70" stroke="#d3deef" stroke-width="2.2"/><line x1="879" y1="61.9" x2="864.5" y2="67.4" stroke="#d3deef" stroke-width="2.2"/><line x1="877.8" y1="58.9" x2="863" y2="63.5" stroke="#d3deef" stroke-width="2.2"/><line x1="877.3" y1="57.2" x2="862.2" y2="60.8" stroke="#d3deef" stroke-width="2.2"/><line x1="877" y1="54" x2="861.5" y2="53.6" stroke="#d3deef" stroke-width="2.2"/><line x1="877.1" y1="52.2" x2="861.6" y2="50.8" stroke="#d3deef" stroke-width="2.2"/><line x1="877.8" y1="49.1" x2="863.3" y2="43.5" stroke="#d3deef" stroke-width="2.2"/><line x1="878.5" y1="47.4" x2="864.4" y2="40.9" stroke="#d3deef" stroke-width="2.2"/><line x1="880.2" y1="44.7" x2="868.3" y2="34.8" stroke="#d3deef" stroke-width="2.2"/><line x1="881.4" y1="43.4" x2="870.1" y2="32.7" stroke="#d3deef" stroke-width="2.2"/><line x1="884" y1="41.3" x2="876" y2="28" stroke="#c3cae8" stroke-width="1"/><line x1="885.4" y1="40.5" x2="878.4" y2="26.7" stroke="#c3cae8" stroke-width="1"/><line x1="415.5" y1="39" x2="414.9" y2="23.5" stroke="#c3cae8" stroke-width="1"/><line x1="417.1" y1="39" x2="417.7" y2="23.5" stroke="#c3cae8" stroke-width="1"/><line x1="422.7" y1="39" x2="422.1" y2="23.5" stroke="#c3cae8" stroke-width="1"/><line x1="424.3" y1="39" x2="424.9" y2="23.5" stroke="#c3cae8" stroke-width="1"/><line x1="429.9" y1="39" x2="429.3" y2="23.5" stroke="#c3cae8" stroke-width="1"/><line x1="431.5" y1="39" x2="432.1" y2="23.5" stroke="#c3cae8" stroke-width="1"/><line x1="437.1" y1="39" x2="436.5" y2="23.5" stroke="#c3cae8" stroke-width="1"/><line x1="438.7" y1="39" x2="439.3" y2="23.5" stroke="#c3cae8" stroke-width="1"/><line x1="444.3" y1="39" x2="443.7" y2="23.5" stroke="#c3cae8" stroke-width="1"/><line x1="445.9" y1="39" x2="446.5" y2="23.5" stroke="#c3cae8" stroke-width="1"/><line x1="451.5" y1="39" x2="450.9" y2="23.5" stroke="#c3cae8" stroke-width="1"/><line x1="453.1" y1="39" x2="453.7" y2="23.5" stroke="#c3cae8" stroke-width="1"/><line x1="458.7" y1="39" x2="458.1" y2="23.5" stroke="#c3cae8" stroke-width="1"/><line x1="460.3" y1="39" x2="460.9" y2="23.5" stroke="#c3cae8" stroke-width="1"/><line x1="465.9" y1="39" x2="465.3" y2="23.5" stroke="#c3cae8" stroke-width="1"/><line x1="467.5" y1="39" x2="468.1" y2="23.5" stroke="#c3cae8" stroke-width="1"/><line x1="473.1" y1="39" x2="472.5" y2="23.5" stroke="#c3cae8" stroke-width="1"/><line x1="474.7" y1="39" x2="475.3" y2="23.5" stroke="#c3cae8" stroke-width="1"/><line x1="480.3" y1="39" x2="479.7" y2="23.5" stroke="#c3cae8" stroke-width="1"/><line x1="481.9" y1="39" x2="482.5" y2="23.5" stroke="#c3cae8" stroke-width="1"/><line x1="487.5" y1="39" x2="486.9" y2="23.5" stroke="#c3cae8" stroke-width="1"/><line x1="489.1" y1="39" x2="489.7" y2="23.5" stroke="#c3cae8" stroke-width="1"/><line x1="494.7" y1="39" x2="494.1" y2="23.5" stroke="#c3cae8" stroke-width="1"/><line x1="496.3" y1="39" x2="496.9" y2="23.5" stroke="#c3cae8" stroke-width="1"/><line x1="501.9" y1="39" x2="501.3" y2="23.5" stroke="#c3cae8" stroke-width="1"/><line x1="503.5" y1="39" x2="504.1" y2="23.5" stroke="#c3cae8" stroke-width="1"/><line x1="509.1" y1="39" x2="508.5" y2="23.5" stroke="#c3cae8" stroke-width="1"/><line x1="510.7" y1="39" x2="511.3" y2="23.5" stroke="#c3cae8" stroke-width="1"/><line x1="516.3" y1="39" x2="515.7" y2="23.5" stroke="#c3cae8" stroke-width="1"/><line x1="517.9" y1="39" x2="518.5" y2="23.5" stroke="#c3cae8" stroke-width="1"/><line x1="523.5" y1="39" x2="522.9" y2="23.5" stroke="#c3cae8" stroke-width="1"/><line x1="525.1" y1="39" x2="525.7" y2="23.5" stroke="#c3cae8" stroke-width="1"/><line x1="530.7" y1="39" x2="530.1" y2="23.5" stroke="#c3cae8" stroke-width="1"/><line x1="532.3" y1="39" x2="532.9" y2="23.5" stroke="#c3cae8" stroke-width="1"/><line x1="537.9" y1="39" x2="537.3" y2="23.5" stroke="#c3cae8" stroke-width="1"/><line x1="539.5" y1="39" x2="540.1" y2="23.5" stroke="#c3cae8" stroke-width="1"/><line x1="545.1" y1="39" x2="544.5" y2="23.5" stroke="#c3cae8" stroke-width="1"/><line x1="546.7" y1="39" x2="547.3" y2="23.5" stroke="#c3cae8" stroke-width="1"/><line x1="552.3" y1="39" x2="551.7" y2="23.5" stroke="#c3cae8" stroke-width="1"/><line x1="553.9" y1="39" x2="554.5" y2="23.5" stroke="#c3cae8" stroke-width="1"/><line x1="559.5" y1="39" x2="558.9" y2="23.5" stroke="#c3cae8" stroke-width="1"/><line x1="561.1" y1="39" x2="561.7" y2="23.5" stroke="#c3cae8" stroke-width="1"/><line x1="566.7" y1="39" x2="566.1" y2="23.5" stroke="#c3cae8" stroke-width="1"/><line x1="568.3" y1="39" x2="568.9" y2="23.5" stroke="#c3cae8" stroke-width="1"/><line x1="573.9" y1="39" x2="573.3" y2="23.5" stroke="#c3cae8" stroke-width="1"/><line x1="575.5" y1="39" x2="576.1" y2="23.5" stroke="#c3cae8" stroke-width="1"/><line x1="581.1" y1="39" x2="580.5" y2="23.5" stroke="#c3cae8" stroke-width="1"/><line x1="582.7" y1="39" x2="583.3" y2="23.5" stroke="#c3cae8" stroke-width="1"/><line x1="588.3" y1="39" x2="587.7" y2="23.5" stroke="#c3cae8" stroke-width="1"/><line x1="589.9" y1="39" x2="590.5" y2="23.5" stroke="#c3cae8" stroke-width="1"/><line x1="595.5" y1="39" x2="594.9" y2="23.5" stroke="#c3cae8" stroke-width="1"/><line x1="597.1" y1="39" x2="597.7" y2="23.5" stroke="#c3cae8" stroke-width="1"/><line x1="602.7" y1="39" x2="602.1" y2="23.5" stroke="#c3cae8" stroke-width="1"/><line x1="604.3" y1="39" x2="604.9" y2="23.5" stroke="#c3cae8" stroke-width="1"/><line x1="609.9" y1="39" x2="609.3" y2="23.5" stroke="#c3cae8" stroke-width="1"/><line x1="611.5" y1="39" x2="612.1" y2="23.5" stroke="#c3cae8" stroke-width="1"/><line x1="617.1" y1="39" x2="616.5" y2="23.5" stroke="#c3cae8" stroke-width="1"/><line x1="618.7" y1="39" x2="619.3" y2="23.5" stroke="#c3cae8" stroke-width="1"/><line x1="624.3" y1="39" x2="623.7" y2="23.5" stroke="#c3cae8" stroke-width="1"/><line x1="625.9" y1="39" x2="626.5" y2="23.5" stroke="#c3cae8" stroke-width="1"/><line x1="631.5" y1="39" x2="630.9" y2="23.5" stroke="#c3cae8" stroke-width="1"/><line x1="633.1" y1="39" x2="633.7" y2="23.5" stroke="#c3cae8" stroke-width="1"/><line x1="638.7" y1="39" x2="638.1" y2="23.5" stroke="#c3cae8" stroke-width="1"/><line x1="640.3" y1="39" x2="640.9" y2="23.5" stroke="#c3cae8" stroke-width="1"/><line x1="645.9" y1="39" x2="645.3" y2="23.5" stroke="#c3cae8" stroke-width="1"/><line x1="647.5" y1="39" x2="648.1" y2="23.5" stroke="#c3cae8" stroke-width="1"/><line x1="653.1" y1="39" x2="652.5" y2="23.5" stroke="#c3cae8" stroke-width="1"/><line x1="654.7" y1="39" x2="655.3" y2="23.5" stroke="#c3cae8" stroke-width="1"/><line x1="660.3" y1="39" x2="659.7" y2="23.5" stroke="#c3cae8" stroke-width="1"/><line x1="661.9" y1="39" x2="662.5" y2="23.5" stroke="#c3cae8" stroke-width="1"/><line x1="667.5" y1="39" x2="666.9" y2="23.5" stroke="#c3cae8" stroke-width="1"/><line x1="669.1" y1="39" x2="669.7" y2="23.5" stroke="#c3cae8" stroke-width="1"/><line x1="674.7" y1="39" x2="674.1" y2="23.5" stroke="#c3cae8" stroke-width="1"/><line x1="676.3" y1="39" x2="676.9" y2="23.5" stroke="#c3cae8" stroke-width="1"/><line x1="681.9" y1="39" x2="681.3" y2="23.5" stroke="#c3cae8" stroke-width="1"/><line x1="683.5" y1="39" x2="684.1" y2="23.5" stroke="#c3cae8" stroke-width="1"/><line x1="689.1" y1="39" x2="688.5" y2="23.5" stroke="#c3cae8" stroke-width="1"/><line x1="690.7" y1="39" x2="691.3" y2="23.5" stroke="#c3cae8" stroke-width="1"/><line x1="696.3" y1="39" x2="695.7" y2="23.5" stroke="#c3cae8" stroke-width="1"/><line x1="697.9" y1="39" x2="698.5" y2="23.5" stroke="#c3cae8" stroke-width="1"/><line x1="1271.2" y1="39" x2="1270.6" y2="23.5" stroke="#c3cae8" stroke-width="1"/><line x1="1272.8" y1="39" x2="1273.4" y2="23.5" stroke="#c3cae8" stroke-width="1"/><line x1="1264" y1="39" x2="1263.4" y2="23.5" stroke="#c3cae8" stroke-width="1"/><line x1="1265.6" y1="39" x2="1266.2" y2="23.5" stroke="#c3cae8" stroke-width="1"/><line x1="1256.8" y1="39" x2="1256.2" y2="23.5" stroke="#c3cae8" stroke-width="1"/><line x1="1258.4" y1="39" x2="1259" y2="23.5" stroke="#c3cae8" stroke-width="1"/><line x1="1249.6" y1="39" x2="1249" y2="23.5" stroke="#c3cae8" stroke-width="1"/><line x1="1251.2" y1="39" x2="1251.8" y2="23.5" stroke="#c3cae8" stroke-width="1"/><line x1="1242.4" y1="39" x2="1241.8" y2="23.5" stroke="#c3cae8" stroke-width="1"/><line x1="1244" y1="39" x2="1244.6" y2="23.5" stroke="#c3cae8" stroke-width="1"/><line x1="1235.2" y1="39" x2="1234.6" y2="23.5" stroke="#c3cae8" stroke-width="1"/><line x1="1236.8" y1="39" x2="1237.4" y2="23.5" stroke="#c3cae8" stroke-width="1"/><line x1="1228" y1="39" x2="1227.4" y2="23.5" stroke="#c3cae8" stroke-width="1"/><line x1="1229.6" y1="39" x2="1230.2" y2="23.5" stroke="#c3cae8" stroke-width="1"/><line x1="1220.8" y1="39" x2="1220.2" y2="23.5" stroke="#c3cae8" stroke-width="1"/><line x1="1222.4" y1="39" x2="1223" y2="23.5" stroke="#c3cae8" stroke-width="1"/><line x1="1213.6" y1="39" x2="1213" y2="23.5" stroke="#c3cae8" stroke-width="1"/><line x1="1215.2" y1="39" x2="1215.8" y2="23.5" stroke="#c3cae8" stroke-width="1"/><line x1="1206.4" y1="39" x2="1205.8" y2="23.5" stroke="#c3cae8" stroke-width="1"/><line x1="1208" y1="39" x2="1208.6" y2="23.5" stroke="#c3cae8" stroke-width="1"/><line x1="1199.2" y1="39" x2="1198.6" y2="23.5" stroke="#c3cae8" stroke-width="1"/><line x1="1200.8" y1="39" x2="1201.4" y2="23.5" stroke="#c3cae8" stroke-width="1"/><line x1="1192" y1="39" x2="1191.4" y2="23.5" stroke="#c3cae8" stroke-width="1"/><line x1="1193.6" y1="39" x2="1194.2" y2="23.5" stroke="#c3cae8" stroke-width="1"/><line x1="1184.8" y1="39" x2="1184.2" y2="23.5" stroke="#c3cae8" stroke-width="1"/><line x1="1186.4" y1="39" x2="1187" y2="23.5" stroke="#c3cae8" stroke-width="1"/><line x1="1177.6" y1="39" x2="1177" y2="23.5" stroke="#c3cae8" stroke-width="1"/><line x1="1179.2" y1="39" x2="1179.8" y2="23.5" stroke="#c3cae8" stroke-width="1"/><line x1="1170.4" y1="39" x2="1169.8" y2="23.5" stroke="#c3cae8" stroke-width="1"/><line x1="1172" y1="39" x2="1172.6" y2="23.5" stroke="#c3cae8" stroke-width="1"/><line x1="1163.2" y1="39" x2="1162.6" y2="23.5" stroke="#c3cae8" stroke-width="1"/><line x1="1164.8" y1="39" x2="1165.4" y2="23.5" stroke="#c3cae8" stroke-width="1"/><line x1="1156" y1="39" x2="1155.4" y2="23.5" stroke="#c3cae8" stroke-width="1"/><line x1="1157.6" y1="39" x2="1158.2" y2="23.5" stroke="#c3cae8" stroke-width="1"/><line x1="1148.8" y1="39" x2="1148.2" y2="23.5" stroke="#c3cae8" stroke-width="1"/><line x1="1150.4" y1="39" x2="1151" y2="23.5" stroke="#c3cae8" stroke-width="1"/><line x1="1141.6" y1="39" x2="1141" y2="23.5" stroke="#c3cae8" stroke-width="1"/><line x1="1143.2" y1="39" x2="1143.8" y2="23.5" stroke="#c3cae8" stroke-width="1"/><line x1="1134.4" y1="39" x2="1133.8" y2="23.5" stroke="#c3cae8" stroke-width="1"/><line x1="1136" y1="39" x2="1136.6" y2="23.5" stroke="#c3cae8" stroke-width="1"/><line x1="1127.2" y1="39" x2="1126.6" y2="23.5" stroke="#c3cae8" stroke-width="1"/><line x1="1128.8" y1="39" x2="1129.4" y2="23.5" stroke="#c3cae8" stroke-width="1"/><line x1="1120" y1="39" x2="1119.4" y2="23.5" stroke="#c3cae8" stroke-width="1"/><line x1="1121.6" y1="39" x2="1122.2" y2="23.5" stroke="#c3cae8" stroke-width="1"/><line x1="1112.8" y1="39" x2="1112.2" y2="23.5" stroke="#c3cae8" stroke-width="1"/><line x1="1114.4" y1="39" x2="1115" y2="23.5" stroke="#c3cae8" stroke-width="1"/><line x1="1105.6" y1="39" x2="1105" y2="23.5" stroke="#c3cae8" stroke-width="1"/><line x1="1107.2" y1="39" x2="1107.8" y2="23.5" stroke="#c3cae8" stroke-width="1"/><line x1="1098.4" y1="39" x2="1097.8" y2="23.5" stroke="#c3cae8" stroke-width="1"/><line x1="1100" y1="39" x2="1100.6" y2="23.5" stroke="#c3cae8" stroke-width="1"/><line x1="1091.2" y1="39" x2="1090.6" y2="23.5" stroke="#c3cae8" stroke-width="1"/><line x1="1092.8" y1="39" x2="1093.4" y2="23.5" stroke="#c3cae8" stroke-width="1"/><line x1="1084" y1="39" x2="1083.4" y2="23.5" stroke="#c3cae8" stroke-width="1"/><line x1="1085.6" y1="39" x2="1086.2" y2="23.5" stroke="#c3cae8" stroke-width="1"/><line x1="1076.8" y1="39" x2="1076.2" y2="23.5" stroke="#c3cae8" stroke-width="1"/><line x1="1078.4" y1="39" x2="1079" y2="23.5" stroke="#c3cae8" stroke-width="1"/><line x1="1069.6" y1="39" x2="1069" y2="23.5" stroke="#c3cae8" stroke-width="1"/><line x1="1071.2" y1="39" x2="1071.8" y2="23.5" stroke="#c3cae8" stroke-width="1"/><line x1="1062.4" y1="39" x2="1061.8" y2="23.5" stroke="#c3cae8" stroke-width="1"/><line x1="1064" y1="39" x2="1064.6" y2="23.5" stroke="#c3cae8" stroke-width="1"/><line x1="1055.2" y1="39" x2="1054.6" y2="23.5" stroke="#c3cae8" stroke-width="1"/><line x1="1056.8" y1="39" x2="1057.4" y2="23.5" stroke="#c3cae8" stroke-width="1"/><line x1="1048" y1="39" x2="1047.4" y2="23.5" stroke="#c3cae8" stroke-width="1"/><line x1="1049.6" y1="39" x2="1050.2" y2="23.5" stroke="#c3cae8" stroke-width="1"/><line x1="1040.8" y1="39" x2="1040.2" y2="23.5" stroke="#c3cae8" stroke-width="1"/><line x1="1042.4" y1="39" x2="1043" y2="23.5" stroke="#c3cae8" stroke-width="1"/><line x1="1033.6" y1="39" x2="1033" y2="23.5" stroke="#c3cae8" stroke-width="1"/><line x1="1035.2" y1="39" x2="1035.8" y2="23.5" stroke="#c3cae8" stroke-width="1"/><line x1="1026.4" y1="39" x2="1025.8" y2="23.5" stroke="#c3cae8" stroke-width="1"/><line x1="1028" y1="39" x2="1028.6" y2="23.5" stroke="#c3cae8" stroke-width="1"/><line x1="1019.2" y1="39" x2="1018.6" y2="23.5" stroke="#c3cae8" stroke-width="1"/><line x1="1020.8" y1="39" x2="1021.4" y2="23.5" stroke="#c3cae8" stroke-width="1"/><line x1="1012" y1="39" x2="1011.4" y2="23.5" stroke="#c3cae8" stroke-width="1"/><line x1="1013.6" y1="39" x2="1014.2" y2="23.5" stroke="#c3cae8" stroke-width="1"/><line x1="1004.8" y1="39" x2="1004.2" y2="23.5" stroke="#c3cae8" stroke-width="1"/><line x1="1006.4" y1="39" x2="1007" y2="23.5" stroke="#c3cae8" stroke-width="1"/><line x1="997.6" y1="39" x2="997" y2="23.5" stroke="#c3cae8" stroke-width="1"/><line x1="999.2" y1="39" x2="999.8" y2="23.5" stroke="#c3cae8" stroke-width="1"/><line x1="990.4" y1="39" x2="989.8" y2="23.5" stroke="#c3cae8" stroke-width="1"/><line x1="992" y1="39" x2="992.6" y2="23.5" stroke="#c3cae8" stroke-width="1"/><line x1="983.2" y1="39" x2="982.6" y2="23.5" stroke="#c3cae8" stroke-width="1"/><line x1="984.8" y1="39" x2="985.4" y2="23.5" stroke="#c3cae8" stroke-width="1"/><line x1="976" y1="39" x2="975.4" y2="23.5" stroke="#c3cae8" stroke-width="1"/><line x1="977.6" y1="39" x2="978.2" y2="23.5" stroke="#c3cae8" stroke-width="1"/><line x1="968.8" y1="39" x2="968.2" y2="23.5" stroke="#c3cae8" stroke-width="1"/><line x1="970.4" y1="39" x2="971" y2="23.5" stroke="#c3cae8" stroke-width="1"/><line x1="961.6" y1="39" x2="961" y2="23.5" stroke="#c3cae8" stroke-width="1"/><line x1="963.2" y1="39" x2="963.8" y2="23.5" stroke="#c3cae8" stroke-width="1"/><line x1="954.4" y1="39" x2="953.8" y2="23.5" stroke="#c3cae8" stroke-width="1"/><line x1="956" y1="39" x2="956.6" y2="23.5" stroke="#c3cae8" stroke-width="1"/><line x1="947.2" y1="39" x2="946.6" y2="23.5" stroke="#c3cae8" stroke-width="1"/><line x1="948.8" y1="39" x2="949.4" y2="23.5" stroke="#c3cae8" stroke-width="1"/><line x1="940" y1="39" x2="939.4" y2="23.5" stroke="#c3cae8" stroke-width="1"/><line x1="941.6" y1="39" x2="942.2" y2="23.5" stroke="#c3cae8" stroke-width="1"/><line x1="932.8" y1="39" x2="932.2" y2="23.5" stroke="#c3cae8" stroke-width="1"/><line x1="934.4" y1="39" x2="935" y2="23.5" stroke="#c3cae8" stroke-width="1"/><line x1="925.6" y1="39" x2="925" y2="23.5" stroke="#c3cae8" stroke-width="1"/><line x1="927.2" y1="39" x2="927.8" y2="23.5" stroke="#c3cae8" stroke-width="1"/><line x1="918.4" y1="39" x2="917.8" y2="23.5" stroke="#c3cae8" stroke-width="1"/><line x1="920" y1="39" x2="920.6" y2="23.5" stroke="#c3cae8" stroke-width="1"/><line x1="911.2" y1="39" x2="910.6" y2="23.5" stroke="#c3cae8" stroke-width="1"/><line x1="912.8" y1="39" x2="913.4" y2="23.5" stroke="#c3cae8" stroke-width="1"/><line x1="904" y1="39" x2="903.4" y2="23.5" stroke="#c3cae8" stroke-width="1"/><line x1="905.6" y1="39" x2="906.2" y2="23.5" stroke="#c3cae8" stroke-width="1"/><line x1="896.8" y1="39" x2="896.2" y2="23.5" stroke="#c3cae8" stroke-width="1"/><line x1="898.4" y1="39" x2="899" y2="23.5" stroke="#c3cae8" stroke-width="1"/></g><g fill="#8a93af" stroke="#737c9a" stroke-width="0.8"><circle cx="704.5" cy="4.1" r="2.3"/><circle cx="711.6" cy="4.9" r="2.3"/><circle cx="718.6" cy="6.8" r="2.5"/><circle cx="725.5" cy="9.9" r="2.7"/><circle cx="731.9" cy="14" r="3"/><circle cx="737.7" cy="19" r="3.4"/><circle cx="742.6" cy="24.8" r="3.8"/><circle cx="746.5" cy="31.2" r="3.8"/><circle cx="749.4" cy="38.2" r="3.8"/><circle cx="751.3" cy="45.6" r="3.8"/><circle cx="752" cy="53.2" r="3.8"/><circle cx="751.5" cy="60.7" r="3.8"/><circle cx="750" cy="68.2" r="3.8"/><circle cx="747.3" cy="75.3" r="3.8"/><circle cx="744.4" cy="82.3" r="3.8"/><circle cx="741.4" cy="89.3" r="3.8"/><circle cx="738.5" cy="96.3" r="3.1"/><circle cx="736" cy="102.2" r="3.1"/><circle cx="733.5" cy="108.1" r="3.1"/><circle cx="731" cy="114" r="3.1"/><circle cx="728.6" cy="119.9" r="3.1"/><circle cx="726.1" cy="125.8" r="3.1"/><circle cx="723.6" cy="131.7" r="3.1"/><circle cx="721.1" cy="137.6" r="3.1"/><circle cx="718.8" cy="143.6" r="3.1"/><circle cx="717" cy="149.7" r="3.1"/><circle cx="715.7" cy="156" r="3.1"/><circle cx="714.9" cy="162.3" r="3.1"/><circle cx="714.5" cy="168.7" r="3.1"/><circle cx="714.7" cy="175.1" r="3.1"/><circle cx="715.3" cy="181.5" r="3.1"/><circle cx="716.4" cy="187.8" r="3.1"/><circle cx="718.1" cy="194" r="3.1"/><circle cx="720.2" cy="200" r="3.1"/><circle cx="722.7" cy="205.9" r="3.1"/><circle cx="725.7" cy="211.5" r="3.1"/><circle cx="729.1" cy="216.9" r="3.1"/><circle cx="733" cy="222" r="3.1"/><circle cx="737.2" cy="226.8" r="3.1"/><circle cx="741.8" cy="231.3" r="3.1"/><circle cx="746.7" cy="235.4" r="3.1"/><circle cx="751.9" cy="239.1" r="3.1"/><circle cx="757.4" cy="242.4" r="3.1"/><circle cx="763.2" cy="245.2" r="3.1"/><circle cx="769.1" cy="247.6" r="3.1"/><circle cx="775.2" cy="249.6" r="3.1"/><circle cx="781.4" cy="251" r="3.1"/><circle cx="787.7" cy="252" r="3.1"/><circle cx="794.1" cy="252.4" r="3.1"/><circle cx="800.5" cy="252.4" r="3.1"/><circle cx="806.9" cy="251.9" r="3.1"/><circle cx="813.2" cy="250.9" r="3.1"/><circle cx="819.4" cy="249.4" r="3.1"/><circle cx="825.5" cy="247.4" r="3.1"/><circle cx="831.4" cy="245" r="3.1"/><circle cx="837.1" cy="242.1" r="3.1"/><circle cx="842.6" cy="238.7" r="3.1"/><circle cx="847.8" cy="235" r="3.1"/><circle cx="852.7" cy="230.9" r="3.1"/><circle cx="857.2" cy="226.4" r="3.1"/><circle cx="861.4" cy="221.5" r="3.1"/><circle cx="865.2" cy="216.4" r="3.1"/><circle cx="868.6" cy="211" r="3.1"/><circle cx="871.6" cy="205.3" r="3.1"/><circle cx="874.1" cy="199.4" r="3.1"/><circle cx="876.1" cy="193.3" r="3.1"/><circle cx="877.7" cy="187.1" r="3.1"/><circle cx="878.8" cy="180.8" r="3.1"/><circle cx="879.4" cy="174.5" r="3.1"/><circle cx="879.5" cy="168.1" r="3.1"/><circle cx="879.1" cy="161.7" r="3.1"/><circle cx="878.2" cy="155.3" r="3.1"/><circle cx="876.8" cy="149.1" r="3.1"/><circle cx="874.9" cy="143" r="3.1"/><circle cx="872.6" cy="137" r="3.1"/><circle cx="870.1" cy="131.1" r="3.1"/><circle cx="867.7" cy="125.2" r="3.1"/><circle cx="865.2" cy="119.3" r="3.1"/><circle cx="862.7" cy="113.4" r="3.1"/><circle cx="860.2" cy="107.5" r="3.1"/><circle cx="857.8" cy="101.6" r="3.1"/><circle cx="855.3" cy="95.7" r="3.1"/><circle cx="852.8" cy="89.8" r="3.8"/><circle cx="849.9" cy="82.8" r="3.8"/><circle cx="846.9" cy="75.8" r="3.8"/><circle cx="844.2" cy="68.7" r="3.8"/><circle cx="842.5" cy="61.3" r="3.8"/><circle cx="842" cy="53.7" r="3.8"/><circle cx="842.6" cy="46.1" r="3.8"/><circle cx="844.4" cy="38.8" r="3.8"/><circle cx="847.2" cy="31.7" r="3.8"/><circle cx="851.1" cy="25.2" r="3.8"/><circle cx="856" cy="19.3" r="3.5"/><circle cx="861.6" cy="14.3" r="3.1"/><circle cx="868" cy="10.1" r="2.8"/><circle cx="874.9" cy="7" r="2.5"/><circle cx="882.2" cy="5" r="2.3"/><circle cx="889.3" cy="4.1" r="2.3"/><circle cx="416.3" cy="4" r="2.3"/><circle cx="423.5" cy="4" r="2.3"/><circle cx="430.7" cy="4" r="2.3"/><circle cx="437.9" cy="4" r="2.3"/><circle cx="445.1" cy="4" r="2.3"/><circle cx="452.3" cy="4" r="2.3"/><circle cx="459.5" cy="4" r="2.3"/><circle cx="466.7" cy="4" r="2.3"/><circle cx="473.9" cy="4" r="2.3"/><circle cx="481.1" cy="4" r="2.3"/><circle cx="488.3" cy="4" r="2.3"/><circle cx="495.5" cy="4" r="2.3"/><circle cx="502.7" cy="4" r="2.3"/><circle cx="509.9" cy="4" r="2.3"/><circle cx="517.1" cy="4" r="2.3"/><circle cx="524.3" cy="4" r="2.3"/><circle cx="531.5" cy="4" r="2.3"/><circle cx="538.7" cy="4" r="2.3"/><circle cx="545.9" cy="4" r="2.3"/><circle cx="553.1" cy="4" r="2.3"/><circle cx="560.3" cy="4" r="2.3"/><circle cx="567.5" cy="4" r="2.3"/><circle cx="574.7" cy="4" r="2.3"/><circle cx="581.9" cy="4" r="2.3"/><circle cx="589.1" cy="4" r="2.3"/><circle cx="596.3" cy="4" r="2.3"/><circle cx="603.5" cy="4" r="2.3"/><circle cx="610.7" cy="4" r="2.3"/><circle cx="617.9" cy="4" r="2.3"/><circle cx="625.1" cy="4" r="2.3"/><circle cx="632.3" cy="4" r="2.3"/><circle cx="639.5" cy="4" r="2.3"/><circle cx="646.7" cy="4" r="2.3"/><circle cx="653.9" cy="4" r="2.3"/><circle cx="661.1" cy="4" r="2.3"/><circle cx="668.3" cy="4" r="2.3"/><circle cx="675.5" cy="4" r="2.3"/><circle cx="682.7" cy="4" r="2.3"/><circle cx="689.9" cy="4" r="2.3"/><circle cx="697.1" cy="4" r="2.3"/><circle cx="1272" cy="4" r="2.3"/><circle cx="1264.8" cy="4" r="2.3"/><circle cx="1257.6" cy="4" r="2.3"/><circle cx="1250.4" cy="4" r="2.3"/><circle cx="1243.2" cy="4" r="2.3"/><circle cx="1236" cy="4" r="2.3"/><circle cx="1228.8" cy="4" r="2.3"/><circle cx="1221.6" cy="4" r="2.3"/><circle cx="1214.4" cy="4" r="2.3"/><circle cx="1207.2" cy="4" r="2.3"/><circle cx="1200" cy="4" r="2.3"/><circle cx="1192.8" cy="4" r="2.3"/><circle cx="1185.6" cy="4" r="2.3"/><circle cx="1178.4" cy="4" r="2.3"/><circle cx="1171.2" cy="4" r="2.3"/><circle cx="1164" cy="4" r="2.3"/><circle cx="1156.8" cy="4" r="2.3"/><circle cx="1149.6" cy="4" r="2.3"/><circle cx="1142.4" cy="4" r="2.3"/><circle cx="1135.2" cy="4" r="2.3"/><circle cx="1128" cy="4" r="2.3"/><circle cx="1120.8" cy="4" r="2.3"/><circle cx="1113.6" cy="4" r="2.3"/><circle cx="1106.4" cy="4" r="2.3"/><circle cx="1099.2" cy="4" r="2.3"/><circle cx="1092" cy="4" r="2.3"/><circle cx="1084.8" cy="4" r="2.3"/><circle cx="1077.6" cy="4" r="2.3"/><circle cx="1070.4" cy="4" r="2.3"/><circle cx="1063.2" cy="4" r="2.3"/><circle cx="1056" cy="4" r="2.3"/><circle cx="1048.8" cy="4" r="2.3"/><circle cx="1041.6" cy="4" r="2.3"/><circle cx="1034.4" cy="4" r="2.3"/><circle cx="1027.2" cy="4" r="2.3"/><circle cx="1020" cy="4" r="2.3"/><circle cx="1012.8" cy="4" r="2.3"/><circle cx="1005.6" cy="4" r="2.3"/><circle cx="998.4" cy="4" r="2.3"/><circle cx="991.2" cy="4" r="2.3"/><circle cx="984" cy="4" r="2.3"/><circle cx="976.8" cy="4" r="2.3"/><circle cx="969.6" cy="4" r="2.3"/><circle cx="962.4" cy="4" r="2.3"/><circle cx="955.2" cy="4" r="2.3"/><circle cx="948" cy="4" r="2.3"/><circle cx="940.8" cy="4" r="2.3"/><circle cx="933.6" cy="4" r="2.3"/><circle cx="926.4" cy="4" r="2.3"/><circle cx="919.2" cy="4" r="2.3"/><circle cx="912" cy="4" r="2.3"/><circle cx="904.8" cy="4" r="2.3"/><circle cx="897.6" cy="4" r="2.3"/><circle cx="704.5" cy="39.2" r="2.3"/><circle cx="711" cy="42" r="2.5"/><circle cx="714.5" cy="45.6" r="2.5"/><circle cx="716.5" cy="50.2" r="2.5"/><circle cx="717" cy="55.1" r="2.5"/><circle cx="715.8" cy="60" r="2.5"/><circle cx="713.8" cy="64.6" r="2.5"/><circle cx="711.9" cy="69.2" r="2.5"/><circle cx="710" cy="73.8" r="2.7"/><circle cx="706.7" cy="81.5" r="2.9"/><circle cx="703.5" cy="89.3" r="3.1"/><circle cx="700.2" cy="97" r="3.4"/><circle cx="696.9" cy="104.8" r="3.6"/><circle cx="693.7" cy="112.5" r="3.8"/><circle cx="690.4" cy="120.3" r="3.8"/><circle cx="687.2" cy="128" r="3.8"/><circle cx="684.5" cy="136" r="3.8"/><circle cx="682.4" cy="144.1" r="3.8"/><circle cx="680.8" cy="152.4" r="3.8"/><circle cx="679.9" cy="160.7" r="3.8"/><circle cx="679.5" cy="169.1" r="3.8"/><circle cx="679.7" cy="177.5" r="3.8"/><circle cx="680.6" cy="185.8" r="3.8"/><circle cx="682" cy="194.1" r="3.8"/><circle cx="684" cy="202.3" r="3.8"/><circle cx="686.6" cy="210.3" r="3.8"/><circle cx="689.8" cy="218" r="3.8"/><circle cx="693.5" cy="225.6" r="3.8"/><circle cx="697.7" cy="232.8" r="3.8"/><circle cx="702.5" cy="239.8" r="3.8"/><circle cx="707.7" cy="246.3" r="3.8"/><circle cx="713.4" cy="252.5" r="3.8"/><circle cx="719.5" cy="258.3" r="3.8"/><circle cx="726" cy="263.6" r="3.8"/><circle cx="732.8" cy="268.4" r="3.8"/><circle cx="740" cy="272.8" r="3.8"/><circle cx="747.5" cy="276.6" r="3.8"/><circle cx="755.3" cy="279.8" r="3.8"/><circle cx="763.2" cy="282.5" r="3.8"/><circle cx="771.3" cy="284.7" r="3.8"/><circle cx="779.6" cy="286.2" r="3.8"/><circle cx="787.9" cy="287.1" r="3.8"/><circle cx="796.3" cy="287.5" r="3.8"/><circle cx="804.7" cy="287.2" r="3.8"/><circle cx="813.1" cy="286.4" r="3.8"/><circle cx="821.3" cy="285" r="3.8"/><circle cx="829.5" cy="282.9" r="3.8"/><circle cx="837.5" cy="280.3" r="3.8"/><circle cx="845.3" cy="277.1" r="3.8"/><circle cx="852.8" cy="273.4" r="3.8"/><circle cx="860" cy="269.2" r="3.8"/><circle cx="866.9" cy="264.4" r="3.8"/><circle cx="873.5" cy="259.2" r="3.8"/><circle cx="879.7" cy="253.5" r="3.8"/><circle cx="885.4" cy="247.4" r="3.8"/><circle cx="890.7" cy="240.8" r="3.8"/><circle cx="895.6" cy="234" r="3.8"/><circle cx="899.9" cy="226.8" r="3.8"/><circle cx="903.7" cy="219.3" r="3.8"/><circle cx="906.9" cy="211.5" r="3.8"/><circle cx="909.6" cy="203.6" r="3.8"/><circle cx="911.7" cy="195.4" r="3.8"/><circle cx="913.2" cy="187.2" r="3.8"/><circle cx="914.2" cy="178.8" r="3.8"/><circle cx="914.5" cy="170.4" r="3.8"/><circle cx="914.2" cy="162.1" r="3.8"/><circle cx="913.4" cy="153.7" r="3.8"/><circle cx="911.9" cy="145.4" r="3.8"/><circle cx="909.9" cy="137.3" r="3.8"/><circle cx="907.2" cy="129.3" r="3.8"/><circle cx="904.1" cy="121.5" r="3.8"/><circle cx="900.8" cy="113.8" r="3.8"/><circle cx="897.6" cy="106" r="3.6"/><circle cx="894.3" cy="98.3" r="3.4"/><circle cx="891.1" cy="90.5" r="3.2"/><circle cx="887.8" cy="82.8" r="2.9"/><circle cx="884.6" cy="75.1" r="2.7"/><circle cx="881.3" cy="67.3" r="2.5"/><circle cx="879.4" cy="62.7" r="2.5"/><circle cx="877.6" cy="58" r="2.5"/><circle cx="877" cy="53.1" r="2.5"/><circle cx="878.1" cy="48.2" r="2.5"/><circle cx="880.8" cy="44" r="2.5"/><circle cx="884.7" cy="40.9" r="2.3"/><circle cx="416.3" cy="39" r="2.3"/><circle cx="423.5" cy="39" r="2.3"/><circle cx="430.7" cy="39" r="2.3"/><circle cx="437.9" cy="39" r="2.3"/><circle cx="445.1" cy="39" r="2.3"/><circle cx="452.3" cy="39" r="2.3"/><circle cx="459.5" cy="39" r="2.3"/><circle cx="466.7" cy="39" r="2.3"/><circle cx="473.9" cy="39" r="2.3"/><circle cx="481.1" cy="39" r="2.3"/><circle cx="488.3" cy="39" r="2.3"/><circle cx="495.5" cy="39" r="2.3"/><circle cx="502.7" cy="39" r="2.3"/><circle cx="509.9" cy="39" r="2.3"/><circle cx="517.1" cy="39" r="2.3"/><circle cx="524.3" cy="39" r="2.3"/><circle cx="531.5" cy="39" r="2.3"/><circle cx="538.7" cy="39" r="2.3"/><circle cx="545.9" cy="39" r="2.3"/><circle cx="553.1" cy="39" r="2.3"/><circle cx="560.3" cy="39" r="2.3"/><circle cx="567.5" cy="39" r="2.3"/><circle cx="574.7" cy="39" r="2.3"/><circle cx="581.9" cy="39" r="2.3"/><circle cx="589.1" cy="39" r="2.3"/><circle cx="596.3" cy="39" r="2.3"/><circle cx="603.5" cy="39" r="2.3"/><circle cx="610.7" cy="39" r="2.3"/><circle cx="617.9" cy="39" r="2.3"/><circle cx="625.1" cy="39" r="2.3"/><circle cx="632.3" cy="39" r="2.3"/><circle cx="639.5" cy="39" r="2.3"/><circle cx="646.7" cy="39" r="2.3"/><circle cx="653.9" cy="39" r="2.3"/><circle cx="661.1" cy="39" r="2.3"/><circle cx="668.3" cy="39" r="2.3"/><circle cx="675.5" cy="39" r="2.3"/><circle cx="682.7" cy="39" r="2.3"/><circle cx="689.9" cy="39" r="2.3"/><circle cx="697.1" cy="39" r="2.3"/><circle cx="1272" cy="39" r="2.3"/><circle cx="1264.8" cy="39" r="2.3"/><circle cx="1257.6" cy="39" r="2.3"/><circle cx="1250.4" cy="39" r="2.3"/><circle cx="1243.2" cy="39" r="2.3"/><circle cx="1236" cy="39" r="2.3"/><circle cx="1228.8" cy="39" r="2.3"/><circle cx="1221.6" cy="39" r="2.3"/><circle cx="1214.4" cy="39" r="2.3"/><circle cx="1207.2" cy="39" r="2.3"/><circle cx="1200" cy="39" r="2.3"/><circle cx="1192.8" cy="39" r="2.3"/><circle cx="1185.6" cy="39" r="2.3"/><circle cx="1178.4" cy="39" r="2.3"/><circle cx="1171.2" cy="39" r="2.3"/><circle cx="1164" cy="39" r="2.3"/><circle cx="1156.8" cy="39" r="2.3"/><circle cx="1149.6" cy="39" r="2.3"/><circle cx="1142.4" cy="39" r="2.3"/><circle cx="1135.2" cy="39" r="2.3"/><circle cx="1128" cy="39" r="2.3"/><circle cx="1120.8" cy="39" r="2.3"/><circle cx="1113.6" cy="39" r="2.3"/><circle cx="1106.4" cy="39" r="2.3"/><circle cx="1099.2" cy="39" r="2.3"/><circle cx="1092" cy="39" r="2.3"/><circle cx="1084.8" cy="39" r="2.3"/><circle cx="1077.6" cy="39" r="2.3"/><circle cx="1070.4" cy="39" r="2.3"/><circle cx="1063.2" cy="39" r="2.3"/><circle cx="1056" cy="39" r="2.3"/><circle cx="1048.8" cy="39" r="2.3"/><circle cx="1041.6" cy="39" r="2.3"/><circle cx="1034.4" cy="39" r="2.3"/><circle cx="1027.2" cy="39" r="2.3"/><circle cx="1020" cy="39" r="2.3"/><circle cx="1012.8" cy="39" r="2.3"/><circle cx="1005.6" cy="39" r="2.3"/><circle cx="998.4" cy="39" r="2.3"/><circle cx="991.2" cy="39" r="2.3"/><circle cx="984" cy="39" r="2.3"/><circle cx="976.8" cy="39" r="2.3"/><circle cx="969.6" cy="39" r="2.3"/><circle cx="962.4" cy="39" r="2.3"/><circle cx="955.2" cy="39" r="2.3"/><circle cx="948" cy="39" r="2.3"/><circle cx="940.8" cy="39" r="2.3"/><circle cx="933.6" cy="39" r="2.3"/><circle cx="926.4" cy="39" r="2.3"/><circle cx="919.2" cy="39" r="2.3"/><circle cx="912" cy="39" r="2.3"/><circle cx="904.8" cy="39" r="2.3"/><circle cx="897.6" cy="39" r="2.3"/></g><use href="#lnps" transform="translate(796.5,164.5) scale(0.405)"/><circle cx="573" cy="358" r="90" fill="url(#gLumen)"/><circle cx="573" cy="358" r="111" stroke="#eef3fa" stroke-width="40" fill="none"/><g stroke="#d6e0f0" stroke-width="1.8" stroke-linecap="round"><line x1="663.5" y1="359.2" x2="682" y2="359"/><line x1="663.5" y1="356.8" x2="682" y2="357"/><line x1="704.5" y1="359.6" x2="686" y2="359"/><line x1="704.5" y1="356.4" x2="686" y2="357"/><line x1="663.1" y1="366.1" x2="681.6" y2="367.3"/><line x1="663.3" y1="363.7" x2="681.8" y2="365.3"/><line x1="704" y1="369.7" x2="685.6" y2="367.6"/><line x1="704.2" y1="366.5" x2="685.7" y2="365.7"/><line x1="662.3" y1="373" x2="680.6" y2="375.6"/><line x1="662.6" y1="370.6" x2="680.9" y2="373.7"/><line x1="702.7" y1="379.7" x2="684.5" y2="376.2"/><line x1="703.2" y1="376.5" x2="684.8" y2="374.3"/><line x1="660.8" y1="379.8" x2="678.9" y2="383.8"/><line x1="661.4" y1="377.5" x2="679.4" y2="381.9"/><line x1="700.7" y1="389.5" x2="682.8" y2="384.7"/><line x1="701.4" y1="386.4" x2="683.3" y2="382.8"/><line x1="658.9" y1="386.4" x2="676.6" y2="391.8"/><line x1="659.6" y1="384.2" x2="677.2" y2="389.9"/><line x1="697.9" y1="399.2" x2="680.4" y2="393"/><line x1="698.9" y1="396.2" x2="681" y2="391.1"/><line x1="656.5" y1="392.9" x2="673.7" y2="399.7"/><line x1="657.4" y1="390.7" x2="674.5" y2="397.8"/><line x1="694.4" y1="408.6" x2="677.4" y2="401.2"/><line x1="695.6" y1="405.7" x2="678.2" y2="399.3"/><line x1="653.6" y1="399.2" x2="670.2" y2="407.3"/><line x1="654.6" y1="397.1" x2="671.1" y2="405.5"/><line x1="690.1" y1="417.8" x2="673.8" y2="409"/><line x1="691.6" y1="414.9" x2="674.7" y2="407.2"/><line x1="650.2" y1="405.3" x2="666.2" y2="414.6"/><line x1="651.4" y1="403.2" x2="667.2" y2="412.8"/><line x1="685.2" y1="426.6" x2="669.6" y2="416.6"/><line x1="686.9" y1="423.8" x2="670.6" y2="414.9"/><line x1="646.3" y1="411" x2="661.6" y2="421.5"/><line x1="647.7" y1="409.1" x2="662.7" y2="419.9"/><line x1="679.6" y1="435" x2="664.9" y2="423.8"/><line x1="681.5" y1="432.3" x2="666" y2="422.2"/><line x1="642.1" y1="416.5" x2="656.5" y2="428.1"/><line x1="643.6" y1="414.7" x2="657.7" y2="426.6"/><line x1="673.4" y1="442.9" x2="659.5" y2="430.7"/><line x1="675.5" y1="440.4" x2="660.8" y2="429.1"/><line x1="637.4" y1="421.6" x2="650.8" y2="434.3"/><line x1="639" y1="419.9" x2="652.2" y2="432.9"/><line x1="666.6" y1="450.3" x2="653.7" y2="437.1"/><line x1="668.9" y1="448" x2="655.1" y2="435.6"/><line x1="632.3" y1="426.4" x2="644.8" y2="440"/><line x1="634.1" y1="424.8" x2="646.3" y2="438.7"/><line x1="659.3" y1="457.2" x2="647.4" y2="443"/><line x1="661.7" y1="455.1" x2="648.9" y2="441.7"/><line x1="626.9" y1="430.7" x2="638.3" y2="445.3"/><line x1="628.8" y1="429.2" x2="639.9" y2="444.1"/><line x1="651.4" y1="463.6" x2="640.7" y2="448.5"/><line x1="654" y1="461.6" x2="642.3" y2="447.3"/><line x1="621.2" y1="434.6" x2="631.4" y2="450"/><line x1="623.2" y1="433.3" x2="633.1" y2="448.9"/><line x1="643.1" y1="469.2" x2="633.6" y2="453.4"/><line x1="645.8" y1="467.5" x2="635.3" y2="452.3"/><line x1="615.2" y1="438.1" x2="624.2" y2="454.2"/><line x1="617.3" y1="436.9" x2="625.9" y2="453.3"/><line x1="634.4" y1="474.3" x2="626.1" y2="457.7"/><line x1="637.2" y1="472.8" x2="627.9" y2="456.8"/><line x1="608.9" y1="441.1" x2="616.7" y2="457.9"/><line x1="611.1" y1="440.1" x2="618.5" y2="457.1"/><line x1="625.3" y1="478.6" x2="618.3" y2="461.5"/><line x1="628.3" y1="477.3" x2="620.1" y2="460.7"/><line x1="602.5" y1="443.6" x2="608.9" y2="460.9"/><line x1="604.7" y1="442.8" x2="610.8" y2="460.2"/><line x1="615.9" y1="482.3" x2="610.3" y2="464.7"/><line x1="619" y1="481.2" x2="612.1" y2="464"/><line x1="595.8" y1="445.6" x2="600.9" y2="463.4"/><line x1="598.1" y1="444.9" x2="602.8" y2="462.8"/><line x1="606.3" y1="485.2" x2="602" y2="467.2"/><line x1="609.4" y1="484.4" x2="603.9" y2="466.7"/><line x1="589.1" y1="447.1" x2="592.8" y2="465.2"/><line x1="591.4" y1="446.6" x2="594.7" y2="464.8"/><line x1="596.5" y1="487.4" x2="593.5" y2="469.1"/><line x1="599.6" y1="486.8" x2="595.5" y2="468.7"/><line x1="582.2" y1="448" x2="584.5" y2="466.4"/><line x1="584.6" y1="447.8" x2="586.5" y2="466.2"/><line x1="586.5" y1="488.8" x2="585" y2="470.4"/><line x1="589.7" y1="488.4" x2="587" y2="470.1"/><line x1="575.3" y1="448.5" x2="576.2" y2="467"/><line x1="577.7" y1="448.4" x2="578.2" y2="466.9"/><line x1="576.4" y1="489.5" x2="576.3" y2="471"/><line x1="579.6" y1="489.3" x2="578.3" y2="470.9"/><line x1="568.3" y1="448.4" x2="567.8" y2="466.9"/><line x1="570.7" y1="448.5" x2="569.8" y2="467"/><line x1="566.4" y1="489.3" x2="567.7" y2="470.9"/><line x1="569.6" y1="489.5" x2="569.7" y2="471"/><line x1="561.4" y1="447.8" x2="559.5" y2="466.2"/><line x1="563.8" y1="448" x2="561.5" y2="466.4"/><line x1="556.3" y1="488.4" x2="559" y2="470.1"/><line x1="559.5" y1="488.8" x2="561" y2="470.4"/><line x1="554.6" y1="446.6" x2="551.3" y2="464.8"/><line x1="556.9" y1="447.1" x2="553.2" y2="465.2"/><line x1="546.4" y1="486.8" x2="550.5" y2="468.7"/><line x1="549.5" y1="487.4" x2="552.5" y2="469.1"/><line x1="547.9" y1="444.9" x2="543.2" y2="462.8"/><line x1="550.2" y1="445.6" x2="545.1" y2="463.4"/><line x1="536.6" y1="484.4" x2="542.1" y2="466.7"/><line x1="539.7" y1="485.2" x2="544" y2="467.2"/><line x1="541.3" y1="442.8" x2="535.2" y2="460.2"/><line x1="543.5" y1="443.6" x2="537.1" y2="460.9"/><line x1="527" y1="481.2" x2="533.9" y2="464"/><line x1="530.1" y1="482.3" x2="535.7" y2="464.7"/><line x1="534.9" y1="440.1" x2="527.5" y2="457.1"/><line x1="537.1" y1="441.1" x2="529.3" y2="457.9"/><line x1="517.7" y1="477.3" x2="525.9" y2="460.7"/><line x1="520.7" y1="478.6" x2="527.7" y2="461.5"/><line x1="528.7" y1="436.9" x2="520.1" y2="453.3"/><line x1="530.8" y1="438.1" x2="521.8" y2="454.2"/><line x1="508.8" y1="472.8" x2="518.1" y2="456.8"/><line x1="511.6" y1="474.3" x2="519.9" y2="457.7"/><line x1="522.8" y1="433.3" x2="512.9" y2="448.9"/><line x1="524.8" y1="434.6" x2="514.6" y2="450"/><line x1="500.2" y1="467.5" x2="510.7" y2="452.3"/><line x1="502.9" y1="469.2" x2="512.4" y2="453.4"/><line x1="517.2" y1="429.2" x2="506.1" y2="444.1"/><line x1="519.1" y1="430.7" x2="507.7" y2="445.3"/><line x1="492" y1="461.6" x2="503.7" y2="447.3"/><line x1="494.6" y1="463.6" x2="505.3" y2="448.5"/><line x1="511.9" y1="424.8" x2="499.7" y2="438.7"/><line x1="513.7" y1="426.4" x2="501.2" y2="440"/><line x1="484.3" y1="455.1" x2="497.1" y2="441.7"/><line x1="486.7" y1="457.2" x2="498.6" y2="443"/><line x1="507" y1="419.9" x2="493.8" y2="432.9"/><line x1="508.6" y1="421.6" x2="495.2" y2="434.3"/><line x1="477.1" y1="448" x2="490.9" y2="435.6"/><line x1="479.4" y1="450.3" x2="492.3" y2="437.1"/><line x1="502.4" y1="414.7" x2="488.3" y2="426.6"/><line x1="503.9" y1="416.5" x2="489.5" y2="428.1"/><line x1="470.5" y1="440.4" x2="485.2" y2="429.1"/><line x1="472.6" y1="442.9" x2="486.5" y2="430.7"/><line x1="498.3" y1="409.1" x2="483.3" y2="419.9"/><line x1="499.7" y1="411" x2="484.4" y2="421.5"/><line x1="464.5" y1="432.3" x2="480" y2="422.2"/><line x1="466.4" y1="435" x2="481.1" y2="423.8"/><line x1="494.6" y1="403.2" x2="478.8" y2="412.8"/><line x1="495.8" y1="405.3" x2="479.8" y2="414.6"/><line x1="459.1" y1="423.8" x2="475.4" y2="414.9"/><line x1="460.8" y1="426.6" x2="476.4" y2="416.6"/><line x1="491.4" y1="397.1" x2="474.9" y2="405.5"/><line x1="492.4" y1="399.2" x2="475.8" y2="407.3"/><line x1="454.4" y1="414.9" x2="471.3" y2="407.2"/><line x1="455.9" y1="417.8" x2="472.2" y2="409"/><line x1="488.6" y1="390.7" x2="471.5" y2="397.8"/><line x1="489.5" y1="392.9" x2="472.3" y2="399.7"/><line x1="450.4" y1="405.7" x2="467.8" y2="399.3"/><line x1="451.6" y1="408.6" x2="468.6" y2="401.2"/><line x1="486.4" y1="384.2" x2="468.8" y2="389.9"/><line x1="487.1" y1="386.4" x2="469.4" y2="391.8"/><line x1="447.1" y1="396.2" x2="465" y2="391.1"/><line x1="448.1" y1="399.2" x2="465.6" y2="393"/><line x1="484.6" y1="377.5" x2="466.6" y2="381.9"/><line x1="485.2" y1="379.8" x2="467.1" y2="383.8"/><line x1="444.6" y1="386.4" x2="462.7" y2="382.8"/><line x1="445.3" y1="389.5" x2="463.2" y2="384.7"/><line x1="483.4" y1="370.6" x2="465.1" y2="373.7"/><line x1="483.7" y1="373" x2="465.4" y2="375.6"/><line x1="442.8" y1="376.5" x2="461.2" y2="374.3"/><line x1="443.3" y1="379.7" x2="461.5" y2="376.2"/><line x1="482.7" y1="363.7" x2="464.2" y2="365.3"/><line x1="482.9" y1="366.1" x2="464.4" y2="367.3"/><line x1="441.8" y1="366.5" x2="460.3" y2="365.7"/><line x1="442" y1="369.7" x2="460.4" y2="367.6"/><line x1="482.5" y1="356.8" x2="464" y2="357"/><line x1="482.5" y1="359.2" x2="464" y2="359"/><line x1="441.5" y1="356.4" x2="460" y2="357"/><line x1="441.5" y1="359.6" x2="460" y2="359"/><line x1="482.9" y1="349.9" x2="464.4" y2="348.7"/><line x1="482.7" y1="352.3" x2="464.2" y2="350.7"/><line x1="442" y1="346.3" x2="460.4" y2="348.4"/><line x1="441.8" y1="349.5" x2="460.3" y2="350.3"/><line x1="483.7" y1="343" x2="465.4" y2="340.4"/><line x1="483.4" y1="345.4" x2="465.1" y2="342.3"/><line x1="443.3" y1="336.3" x2="461.5" y2="339.8"/><line x1="442.8" y1="339.5" x2="461.2" y2="341.7"/><line x1="485.2" y1="336.2" x2="467.1" y2="332.2"/><line x1="484.6" y1="338.5" x2="466.6" y2="334.1"/><line x1="445.3" y1="326.5" x2="463.2" y2="331.3"/><line x1="444.6" y1="329.6" x2="462.7" y2="333.2"/><line x1="487.1" y1="329.6" x2="469.4" y2="324.2"/><line x1="486.4" y1="331.8" x2="468.8" y2="326.1"/><line x1="448.1" y1="316.8" x2="465.6" y2="323"/><line x1="447.1" y1="319.8" x2="465" y2="324.9"/><line x1="489.5" y1="323.1" x2="472.3" y2="316.3"/><line x1="488.6" y1="325.3" x2="471.5" y2="318.2"/><line x1="451.6" y1="307.4" x2="468.6" y2="314.8"/><line x1="450.4" y1="310.3" x2="467.8" y2="316.7"/><line x1="492.4" y1="316.8" x2="475.8" y2="308.7"/><line x1="491.4" y1="318.9" x2="474.9" y2="310.5"/><line x1="455.9" y1="298.2" x2="472.2" y2="307"/><line x1="454.4" y1="301.1" x2="471.3" y2="308.8"/><line x1="495.8" y1="310.7" x2="479.8" y2="301.4"/><line x1="494.6" y1="312.8" x2="478.8" y2="303.2"/><line x1="460.8" y1="289.4" x2="476.4" y2="299.4"/><line x1="459.1" y1="292.2" x2="475.4" y2="301.1"/><line x1="499.7" y1="305" x2="484.4" y2="294.5"/><line x1="498.3" y1="306.9" x2="483.3" y2="296.1"/><line x1="466.4" y1="281" x2="481.1" y2="292.2"/><line x1="464.5" y1="283.7" x2="480" y2="293.8"/><line x1="503.9" y1="299.5" x2="489.5" y2="287.9"/><line x1="502.4" y1="301.3" x2="488.3" y2="289.4"/><line x1="472.6" y1="273.1" x2="486.5" y2="285.3"/><line x1="470.5" y1="275.6" x2="485.2" y2="286.9"/><line x1="508.6" y1="294.4" x2="495.2" y2="281.7"/><line x1="507" y1="296.1" x2="493.8" y2="283.1"/><line x1="479.4" y1="265.7" x2="492.3" y2="278.9"/><line x1="477.1" y1="268" x2="490.9" y2="280.4"/><line x1="513.7" y1="289.6" x2="501.2" y2="276"/><line x1="511.9" y1="291.2" x2="499.7" y2="277.3"/><line x1="486.7" y1="258.8" x2="498.6" y2="273"/><line x1="484.3" y1="260.9" x2="497.1" y2="274.3"/><line x1="519.1" y1="285.3" x2="507.7" y2="270.7"/><line x1="517.2" y1="286.8" x2="506.1" y2="271.9"/><line x1="494.6" y1="252.4" x2="505.3" y2="267.5"/><line x1="492" y1="254.4" x2="503.7" y2="268.7"/><line x1="524.8" y1="281.4" x2="514.6" y2="266"/><line x1="522.8" y1="282.7" x2="512.9" y2="267.1"/><line x1="502.9" y1="246.8" x2="512.4" y2="262.6"/><line x1="500.2" y1="248.5" x2="510.7" y2="263.7"/><line x1="530.8" y1="277.9" x2="521.8" y2="261.8"/><line x1="528.7" y1="279.1" x2="520.1" y2="262.7"/><line x1="511.6" y1="241.7" x2="519.9" y2="258.3"/><line x1="508.8" y1="243.2" x2="518.1" y2="259.2"/><line x1="537.1" y1="274.9" x2="529.3" y2="258.1"/><line x1="534.9" y1="275.9" x2="527.5" y2="258.9"/><line x1="520.7" y1="237.4" x2="527.7" y2="254.5"/><line x1="517.7" y1="238.7" x2="525.9" y2="255.3"/><line x1="543.5" y1="272.4" x2="537.1" y2="255.1"/><line x1="541.3" y1="273.2" x2="535.2" y2="255.8"/><line x1="530.1" y1="233.7" x2="535.7" y2="251.3"/><line x1="527" y1="234.8" x2="533.9" y2="252"/><line x1="550.2" y1="270.4" x2="545.1" y2="252.6"/><line x1="547.9" y1="271.1" x2="543.2" y2="253.2"/><line x1="539.7" y1="230.8" x2="544" y2="248.8"/><line x1="536.6" y1="231.6" x2="542.1" y2="249.3"/><line x1="556.9" y1="268.9" x2="553.2" y2="250.8"/><line x1="554.6" y1="269.4" x2="551.3" y2="251.2"/><line x1="549.5" y1="228.6" x2="552.5" y2="246.9"/><line x1="546.4" y1="229.2" x2="550.5" y2="247.3"/><line x1="563.8" y1="268" x2="561.5" y2="249.6"/><line x1="561.4" y1="268.2" x2="559.5" y2="249.8"/><line x1="559.5" y1="227.2" x2="561" y2="245.6"/><line x1="556.3" y1="227.6" x2="559" y2="245.9"/><line x1="570.7" y1="267.5" x2="569.8" y2="249"/><line x1="568.3" y1="267.6" x2="567.8" y2="249.1"/><line x1="569.6" y1="226.5" x2="569.7" y2="245"/><line x1="566.4" y1="226.7" x2="567.7" y2="245.1"/><line x1="577.7" y1="267.6" x2="578.2" y2="249.1"/><line x1="575.3" y1="267.5" x2="576.2" y2="249"/><line x1="579.6" y1="226.7" x2="578.3" y2="245.1"/><line x1="576.4" y1="226.5" x2="576.3" y2="245"/><line x1="584.6" y1="268.2" x2="586.5" y2="249.8"/><line x1="582.2" y1="268" x2="584.5" y2="249.6"/><line x1="589.7" y1="227.6" x2="587" y2="245.9"/><line x1="586.5" y1="227.2" x2="585" y2="245.6"/><line x1="591.4" y1="269.4" x2="594.7" y2="251.2"/><line x1="589.1" y1="268.9" x2="592.8" y2="250.8"/><line x1="599.6" y1="229.2" x2="595.5" y2="247.3"/><line x1="596.5" y1="228.6" x2="593.5" y2="246.9"/><line x1="598.1" y1="271.1" x2="602.8" y2="253.2"/><line x1="595.8" y1="270.4" x2="600.9" y2="252.6"/><line x1="609.4" y1="231.6" x2="603.9" y2="249.3"/><line x1="606.3" y1="230.8" x2="602" y2="248.8"/><line x1="604.7" y1="273.2" x2="610.8" y2="255.8"/><line x1="602.5" y1="272.4" x2="608.9" y2="255.1"/><line x1="619" y1="234.8" x2="612.1" y2="252"/><line x1="615.9" y1="233.7" x2="610.3" y2="251.3"/><line x1="611.1" y1="275.9" x2="618.5" y2="258.9"/><line x1="608.9" y1="274.9" x2="616.7" y2="258.1"/><line x1="628.3" y1="238.7" x2="620.1" y2="255.3"/><line x1="625.3" y1="237.4" x2="618.3" y2="254.5"/><line x1="617.3" y1="279.1" x2="625.9" y2="262.7"/><line x1="615.2" y1="277.9" x2="624.2" y2="261.8"/><line x1="637.2" y1="243.2" x2="627.9" y2="259.2"/><line x1="634.4" y1="241.7" x2="626.1" y2="258.3"/><line x1="623.2" y1="282.7" x2="633.1" y2="267.1"/><line x1="621.2" y1="281.4" x2="631.4" y2="266"/><line x1="645.8" y1="248.5" x2="635.3" y2="263.7"/><line x1="643.1" y1="246.8" x2="633.6" y2="262.6"/><line x1="628.8" y1="286.8" x2="639.9" y2="271.9"/><line x1="626.9" y1="285.3" x2="638.3" y2="270.7"/><line x1="654" y1="254.4" x2="642.3" y2="268.7"/><line x1="651.4" y1="252.4" x2="640.7" y2="267.5"/><line x1="634.1" y1="291.2" x2="646.3" y2="277.3"/><line x1="632.3" y1="289.6" x2="644.8" y2="276"/><line x1="661.7" y1="260.9" x2="648.9" y2="274.3"/><line x1="659.3" y1="258.8" x2="647.4" y2="273"/><line x1="639" y1="296.1" x2="652.2" y2="283.1"/><line x1="637.4" y1="294.4" x2="650.8" y2="281.7"/><line x1="668.9" y1="268" x2="655.1" y2="280.4"/><line x1="666.6" y1="265.7" x2="653.7" y2="278.9"/><line x1="643.6" y1="301.3" x2="657.7" y2="289.4"/><line x1="642.1" y1="299.5" x2="656.5" y2="287.9"/><line x1="675.5" y1="275.6" x2="660.8" y2="286.9"/><line x1="673.4" y1="273.1" x2="659.5" y2="285.3"/><line x1="647.7" y1="306.9" x2="662.7" y2="296.1"/><line x1="646.3" y1="305" x2="661.6" y2="294.5"/><line x1="681.5" y1="283.7" x2="666" y2="293.8"/><line x1="679.6" y1="281" x2="664.9" y2="292.2"/><line x1="651.4" y1="312.8" x2="667.2" y2="303.2"/><line x1="650.2" y1="310.7" x2="666.2" y2="301.4"/><line x1="686.9" y1="292.2" x2="670.6" y2="301.1"/><line x1="685.2" y1="289.4" x2="669.6" y2="299.4"/><line x1="654.6" y1="318.9" x2="671.1" y2="310.5"/><line x1="653.6" y1="316.8" x2="670.2" y2="308.7"/><line x1="691.6" y1="301.1" x2="674.7" y2="308.8"/><line x1="690.1" y1="298.2" x2="673.8" y2="307"/><line x1="657.4" y1="325.3" x2="674.5" y2="318.2"/><line x1="656.5" y1="323.1" x2="673.7" y2="316.3"/><line x1="695.6" y1="310.3" x2="678.2" y2="316.7"/><line x1="694.4" y1="307.4" x2="677.4" y2="314.8"/><line x1="659.6" y1="331.8" x2="677.2" y2="326.1"/><line x1="658.9" y1="329.6" x2="676.6" y2="324.2"/><line x1="698.9" y1="319.8" x2="681" y2="324.9"/><line x1="697.9" y1="316.8" x2="680.4" y2="323"/><line x1="661.4" y1="338.5" x2="679.4" y2="334.1"/><line x1="660.8" y1="336.2" x2="678.9" y2="332.2"/><line x1="701.4" y1="329.6" x2="683.3" y2="333.2"/><line x1="700.7" y1="326.5" x2="682.8" y2="331.3"/><line x1="662.6" y1="345.4" x2="680.9" y2="342.3"/><line x1="662.3" y1="343" x2="680.6" y2="340.4"/><line x1="703.2" y1="339.5" x2="684.8" y2="341.7"/><line x1="702.7" y1="336.3" x2="684.5" y2="339.8"/><line x1="663.3" y1="352.3" x2="681.8" y2="350.7"/><line x1="663.1" y1="349.9" x2="681.6" y2="348.7"/><line x1="704.2" y1="349.5" x2="685.7" y2="350.3"/><line x1="704" y1="346.3" x2="685.6" y2="348.4"/></g><g fill="#8991ad" stroke="#6f7896" stroke-width="0.8"><circle cx="663.5" cy="358" r="3"/><circle cx="704.5" cy="358" r="4"/><circle cx="663.2" cy="364.9" r="3"/><circle cx="704.1" cy="368.1" r="4"/><circle cx="662.4" cy="371.8" r="3"/><circle cx="703" cy="378.1" r="4"/><circle cx="661.1" cy="378.6" r="3"/><circle cx="701" cy="388" r="4"/><circle cx="659.3" cy="385.3" r="3"/><circle cx="698.4" cy="397.7" r="4"/><circle cx="656.9" cy="391.8" r="3"/><circle cx="695" cy="407.2" r="4"/><circle cx="654.1" cy="398.2" r="3"/><circle cx="690.8" cy="416.3" r="4"/><circle cx="650.8" cy="404.2" r="3"/><circle cx="686" cy="425.2" r="4"/><circle cx="647" cy="410.1" r="3"/><circle cx="680.6" cy="433.7" r="4"/><circle cx="642.8" cy="415.6" r="3"/><circle cx="674.5" cy="441.7" r="4"/><circle cx="638.2" cy="420.8" r="3"/><circle cx="667.7" cy="449.2" r="4"/><circle cx="633.2" cy="425.6" r="3"/><circle cx="660.5" cy="456.2" r="4"/><circle cx="627.9" cy="430" r="3"/><circle cx="652.7" cy="462.6" r="4"/><circle cx="622.2" cy="434" r="3"/><circle cx="644.5" cy="468.4" r="4"/><circle cx="616.2" cy="437.5" r="3"/><circle cx="635.8" cy="473.5" r="4"/><circle cx="610" cy="440.6" r="3"/><circle cx="626.8" cy="478" r="4"/><circle cx="603.6" cy="443.2" r="3"/><circle cx="617.4" cy="481.8" r="4"/><circle cx="597" cy="445.3" r="3"/><circle cx="607.8" cy="484.8" r="4"/><circle cx="590.2" cy="446.8" r="3"/><circle cx="598" cy="487.1" r="4"/><circle cx="583.4" cy="447.9" r="3"/><circle cx="588.1" cy="488.6" r="4"/><circle cx="576.5" cy="448.4" r="3"/><circle cx="578" cy="489.4" r="4"/><circle cx="569.5" cy="448.4" r="3"/><circle cx="568" cy="489.4" r="4"/><circle cx="562.6" cy="447.9" r="3"/><circle cx="557.9" cy="488.6" r="4"/><circle cx="555.8" cy="446.8" r="3"/><circle cx="548" cy="487.1" r="4"/><circle cx="549" cy="445.3" r="3"/><circle cx="538.2" cy="484.8" r="4"/><circle cx="542.4" cy="443.2" r="3"/><circle cx="528.6" cy="481.8" r="4"/><circle cx="536" cy="440.6" r="3"/><circle cx="519.2" cy="478" r="4"/><circle cx="529.8" cy="437.5" r="3"/><circle cx="510.2" cy="473.5" r="4"/><circle cx="523.8" cy="434" r="3"/><circle cx="501.5" cy="468.4" r="4"/><circle cx="518.1" cy="430" r="3"/><circle cx="493.3" cy="462.6" r="4"/><circle cx="512.8" cy="425.6" r="3"/><circle cx="485.5" cy="456.2" r="4"/><circle cx="507.8" cy="420.8" r="3"/><circle cx="478.3" cy="449.2" r="4"/><circle cx="503.2" cy="415.6" r="3"/><circle cx="471.5" cy="441.7" r="4"/><circle cx="499" cy="410.1" r="3"/><circle cx="465.4" cy="433.7" r="4"/><circle cx="495.2" cy="404.2" r="3"/><circle cx="460" cy="425.2" r="4"/><circle cx="491.9" cy="398.2" r="3"/><circle cx="455.2" cy="416.3" r="4"/><circle cx="489.1" cy="391.8" r="3"/><circle cx="451" cy="407.2" r="4"/><circle cx="486.7" cy="385.3" r="3"/><circle cx="447.6" cy="397.7" r="4"/><circle cx="484.9" cy="378.6" r="3"/><circle cx="445" cy="388" r="4"/><circle cx="483.6" cy="371.8" r="3"/><circle cx="443" cy="378.1" r="4"/><circle cx="482.8" cy="364.9" r="3"/><circle cx="441.9" cy="368.1" r="4"/><circle cx="482.5" cy="358" r="3"/><circle cx="441.5" cy="358" r="4"/><circle cx="482.8" cy="351.1" r="3"/><circle cx="441.9" cy="347.9" r="4"/><circle cx="483.6" cy="344.2" r="3"/><circle cx="443" cy="337.9" r="4"/><circle cx="484.9" cy="337.4" r="3"/><circle cx="445" cy="328" r="4"/><circle cx="486.7" cy="330.7" r="3"/><circle cx="447.6" cy="318.3" r="4"/><circle cx="489.1" cy="324.2" r="3"/><circle cx="451" cy="308.8" r="4"/><circle cx="491.9" cy="317.8" r="3"/><circle cx="455.2" cy="299.7" r="4"/><circle cx="495.2" cy="311.8" r="3"/><circle cx="460" cy="290.8" r="4"/><circle cx="499" cy="305.9" r="3"/><circle cx="465.4" cy="282.3" r="4"/><circle cx="503.2" cy="300.4" r="3"/><circle cx="471.5" cy="274.3" r="4"/><circle cx="507.8" cy="295.2" r="3"/><circle cx="478.3" cy="266.8" r="4"/><circle cx="512.8" cy="290.4" r="3"/><circle cx="485.5" cy="259.8" r="4"/><circle cx="518.1" cy="286" r="3"/><circle cx="493.3" cy="253.4" r="4"/><circle cx="523.8" cy="282" r="3"/><circle cx="501.5" cy="247.6" r="4"/><circle cx="529.8" cy="278.5" r="3"/><circle cx="510.2" cy="242.5" r="4"/><circle cx="536" cy="275.4" r="3"/><circle cx="519.2" cy="238" r="4"/><circle cx="542.4" cy="272.8" r="3"/><circle cx="528.6" cy="234.2" r="4"/><circle cx="549" cy="270.7" r="3"/><circle cx="538.2" cy="231.2" r="4"/><circle cx="555.8" cy="269.2" r="3"/><circle cx="548" cy="228.9" r="4"/><circle cx="562.6" cy="268.1" r="3"/><circle cx="557.9" cy="227.4" r="4"/><circle cx="569.5" cy="267.6" r="3"/><circle cx="568" cy="226.6" r="4"/><circle cx="576.5" cy="267.6" r="3"/><circle cx="578" cy="226.6" r="4"/><circle cx="583.4" cy="268.1" r="3"/><circle cx="588.1" cy="227.4" r="4"/><circle cx="590.2" cy="269.2" r="3"/><circle cx="598" cy="228.9" r="4"/><circle cx="597" cy="270.7" r="3"/><circle cx="607.8" cy="231.2" r="4"/><circle cx="603.6" cy="272.8" r="3"/><circle cx="617.4" cy="234.2" r="4"/><circle cx="610" cy="275.4" r="3"/><circle cx="626.8" cy="238" r="4"/><circle cx="616.2" cy="278.5" r="3"/><circle cx="635.8" cy="242.5" r="4"/><circle cx="622.2" cy="282" r="3"/><circle cx="644.5" cy="247.6" r="4"/><circle cx="627.9" cy="286" r="3"/><circle cx="652.7" cy="253.4" r="4"/><circle cx="633.2" cy="290.4" r="3"/><circle cx="660.5" cy="259.8" r="4"/><circle cx="638.2" cy="295.2" r="3"/><circle cx="667.7" cy="266.8" r="4"/><circle cx="642.8" cy="300.4" r="3"/><circle cx="674.5" cy="274.3" r="4"/><circle cx="647" cy="305.9" r="3"/><circle cx="680.6" cy="282.3" r="4"/><circle cx="650.8" cy="311.8" r="3"/><circle cx="686" cy="290.8" r="4"/><circle cx="654.1" cy="317.8" r="3"/><circle cx="690.8" cy="299.7" r="4"/><circle cx="656.9" cy="324.2" r="3"/><circle cx="695" cy="308.8" r="4"/><circle cx="659.3" cy="330.7" r="3"/><circle cx="698.4" cy="318.3" r="4"/><circle cx="661.1" cy="337.4" r="3"/><circle cx="701" cy="328" r="4"/><circle cx="662.4" cy="344.2" r="3"/><circle cx="703" cy="337.9" r="4"/><circle cx="663.2" cy="351.1" r="3"/><circle cx="704.1" cy="347.9" r="4"/></g><use href="#lnps" transform="translate(574,358) scale(0.40)"/><circle cx="836" cy="511" r="104" fill="url(#gLumen2)"/><path d="M782.4 408.1 L784.7 407 L787 405.9 L789.3 404.8 L791.6 403.8 L794 402.9 L796.3 402 L798.7 401.2 L801.1 400.4 L803.5 399.6 L806 399 L808.4 398.3 L810.9 397.7 L813.4 397.2 L815.9 396.8 L818.4 396.4 L820.9 396 L823.4 395.7 L825.9 395.4 L828.4 395.2 L830.9 395.1" stroke="#eef3fa" stroke-width="34" fill="none"/><g stroke-linecap="round"><line x1="832.9" y1="415" x2="832.2" y2="397.1" stroke="#ccd7ec" stroke-width="1.7"/><line x1="830.8" y1="415.1" x2="829.8" y2="397.2" stroke="#ccd7ec" stroke-width="1.7"/><line x1="831.5" y1="375.1" x2="832.1" y2="393.1" stroke="#ccd7ec" stroke-width="1.7"/><line x1="828.6" y1="375.2" x2="829.7" y2="393.2" stroke="#ccd7ec" stroke-width="1.7"/><line x1="824.5" y1="415.7" x2="822.3" y2="397.8" stroke="#ccd7ec" stroke-width="1.7"/><line x1="822.4" y1="416" x2="819.9" y2="398.1" stroke="#ccd7ec" stroke-width="1.7"/><line x1="819.7" y1="376" x2="821.8" y2="393.9" stroke="#ccd7ec" stroke-width="1.7"/><line x1="816.8" y1="376.4" x2="819.4" y2="394.2" stroke="#ccd7ec" stroke-width="1.7"/><line x1="816.2" y1="417" x2="812.5" y2="399.4" stroke="#ccd7ec" stroke-width="1.7"/><line x1="814.2" y1="417.5" x2="810.2" y2="400" stroke="#ccd7ec" stroke-width="1.7"/><line x1="808" y1="377.9" x2="811.6" y2="395.5" stroke="#ccd7ec" stroke-width="1.7"/><line x1="805.1" y1="378.5" x2="809.3" y2="396.1" stroke="#ccd7ec" stroke-width="1.7"/><line x1="808.1" y1="419.1" x2="802.9" y2="401.9" stroke="#ccd7ec" stroke-width="1.7"/><line x1="806.1" y1="419.8" x2="800.6" y2="402.6" stroke="#ccd7ec" stroke-width="1.7"/><line x1="796.5" y1="380.9" x2="801.7" y2="398.1" stroke="#ccd7ec" stroke-width="1.7"/><line x1="793.7" y1="381.7" x2="799.4" y2="398.8" stroke="#ccd7ec" stroke-width="1.7"/><line x1="800.2" y1="421.9" x2="793.5" y2="405.2" stroke="#ccd7ec" stroke-width="1.7"/><line x1="798.3" y1="422.7" x2="791.3" y2="406.1" stroke="#ccd7ec" stroke-width="1.7"/><line x1="785.3" y1="384.8" x2="792" y2="401.5" stroke="#ccd7ec" stroke-width="1.7"/><line x1="782.6" y1="385.9" x2="789.7" y2="402.4" stroke="#ccd7ec" stroke-width="1.7"/><line x1="792.6" y1="425.4" x2="784.4" y2="409.3" stroke="#ccd7ec" stroke-width="1.7"/><line x1="790.7" y1="426.3" x2="782.3" y2="410.4" stroke="#ccd7ec" stroke-width="1.7"/><line x1="774.5" y1="389.7" x2="782.6" y2="405.8" stroke="#ccd7ec" stroke-width="1.7"/><line x1="771.9" y1="391" x2="780.4" y2="406.9" stroke="#ccd7ec" stroke-width="1.7"/></g><g fill="#8a93af" stroke="#737c9a" stroke-width="0.8"><circle cx="831.8" cy="415.1" r="3"/><circle cx="830.1" cy="375.1" r="4.2"/><circle cx="823.5" cy="415.8" r="3"/><circle cx="818.2" cy="376.2" r="4.2"/><circle cx="815.2" cy="417.3" r="3"/><circle cx="806.6" cy="378.2" r="4.2"/><circle cx="807.1" cy="419.4" r="3"/><circle cx="795.1" cy="381.3" r="4.2"/><circle cx="799.3" cy="422.3" r="3"/><circle cx="784" cy="385.4" r="4.2"/><circle cx="791.7" cy="425.8" r="3"/><circle cx="773.2" cy="390.4" r="4.2"/></g><path d="M869.9 400.1 L873.1 401.1 L876.2 402.2 L879.4 403.4 L882.4 404.7 L885.5 406.1 L888.5 407.6 L891.4 409.1 L894.4 410.7 L897.2 412.5 L900 414.3 L902.8 416.2 L905.5 418.1 L908.1 420.2 L910.7 422.3 L913.2 424.5 L915.7 426.7 L918.1 429 L920.4 431.4 L922.7 433.9 L924.9 436.4" stroke="#eef3fa" stroke-width="34" fill="none"/><g stroke-linecap="round"><line x1="910.2" y1="450.1" x2="924.1" y2="438.6" stroke="#ccd7ec" stroke-width="1.7"/><line x1="908.9" y1="448.5" x2="922.6" y2="436.8" stroke="#ccd7ec" stroke-width="1.7"/><line x1="941.1" y1="424.7" x2="927.2" y2="436.1" stroke="#ccd7ec" stroke-width="1.7"/><line x1="939.2" y1="422.5" x2="925.6" y2="434.2" stroke="#ccd7ec" stroke-width="1.7"/><line x1="905" y1="444.2" x2="917.9" y2="431.6" stroke="#ccd7ec" stroke-width="1.7"/><line x1="903.5" y1="442.7" x2="916.2" y2="429.9" stroke="#ccd7ec" stroke-width="1.7"/><line x1="933.7" y1="416.4" x2="920.7" y2="428.8" stroke="#ccd7ec" stroke-width="1.7"/><line x1="931.6" y1="414.3" x2="919" y2="427.1" stroke="#ccd7ec" stroke-width="1.7"/><line x1="899.2" y1="438.8" x2="911.1" y2="425.2" stroke="#ccd7ec" stroke-width="1.7"/><line x1="897.6" y1="437.4" x2="909.2" y2="423.6" stroke="#ccd7ec" stroke-width="1.7"/><line x1="925.6" y1="408.7" x2="913.7" y2="422.1" stroke="#ccd7ec" stroke-width="1.7"/><line x1="923.3" y1="406.7" x2="911.8" y2="420.6" stroke="#ccd7ec" stroke-width="1.7"/><line x1="893.1" y1="433.8" x2="903.7" y2="419.3" stroke="#ccd7ec" stroke-width="1.7"/><line x1="891.4" y1="432.6" x2="901.8" y2="417.9" stroke="#ccd7ec" stroke-width="1.7"/><line x1="916.9" y1="401.6" x2="906.1" y2="416.1" stroke="#ccd7ec" stroke-width="1.7"/><line x1="914.5" y1="399.9" x2="904.1" y2="414.7" stroke="#ccd7ec" stroke-width="1.7"/><line x1="886.5" y1="429.4" x2="896" y2="414.1" stroke="#ccd7ec" stroke-width="1.7"/><line x1="884.7" y1="428.3" x2="893.9" y2="412.8" stroke="#ccd7ec" stroke-width="1.7"/><line x1="907.6" y1="395.4" x2="898.1" y2="410.6" stroke="#ccd7ec" stroke-width="1.7"/><line x1="905.1" y1="393.8" x2="896" y2="409.4" stroke="#ccd7ec" stroke-width="1.7"/><line x1="879.7" y1="425.5" x2="887.8" y2="409.4" stroke="#ccd7ec" stroke-width="1.7"/><line x1="877.8" y1="424.6" x2="885.7" y2="408.4" stroke="#ccd7ec" stroke-width="1.7"/><line x1="897.8" y1="389.9" x2="889.6" y2="405.9" stroke="#ccd7ec" stroke-width="1.7"/><line x1="895.2" y1="388.6" x2="887.4" y2="404.8" stroke="#ccd7ec" stroke-width="1.7"/><line x1="872.5" y1="422.2" x2="879.3" y2="405.5" stroke="#ccd7ec" stroke-width="1.7"/><line x1="870.5" y1="421.4" x2="877.1" y2="404.6" stroke="#ccd7ec" stroke-width="1.7"/><line x1="887.7" y1="385.2" x2="880.8" y2="401.8" stroke="#ccd7ec" stroke-width="1.7"/><line x1="885" y1="384.1" x2="878.5" y2="400.9" stroke="#ccd7ec" stroke-width="1.7"/><line x1="865.1" y1="419.5" x2="870.5" y2="402.3" stroke="#ccd7ec" stroke-width="1.7"/><line x1="863.1" y1="418.9" x2="868.2" y2="401.6" stroke="#ccd7ec" stroke-width="1.7"/><line x1="877.2" y1="381.4" x2="871.6" y2="398.5" stroke="#ccd7ec" stroke-width="1.7"/><line x1="874.4" y1="380.5" x2="869.4" y2="397.8" stroke="#ccd7ec" stroke-width="1.7"/></g><g fill="#8a93af" stroke="#737c9a" stroke-width="0.8"><circle cx="909.5" cy="449.3" r="3"/><circle cx="940.2" cy="423.6" r="4.2"/><circle cx="904.2" cy="443.5" r="3"/><circle cx="932.6" cy="415.3" r="4.2"/><circle cx="898.4" cy="438.1" r="3"/><circle cx="924.5" cy="407.7" r="4.2"/><circle cx="892.2" cy="433.2" r="3"/><circle cx="915.7" cy="400.8" r="4.2"/><circle cx="885.6" cy="428.8" r="3"/><circle cx="906.3" cy="394.6" r="4.2"/><circle cx="878.7" cy="425" r="3"/><circle cx="896.5" cy="389.2" r="4.2"/><circle cx="871.5" cy="421.8" r="3"/><circle cx="886.3" cy="384.7" r="4.2"/><circle cx="864.1" cy="419.2" r="3"/><circle cx="875.8" cy="380.9" r="4.2"/></g><path d="M944.7 470.4 L945.3 472.1 L945.9 473.8 L946.4 475.5 L947 477.2 L947.5 478.9 L948 480.7 L948.4 482.4 L948.9 484.2 L949.3 485.9 L949.6 487.7 L950 489.4 L950.3 491.2 L950.6 493 L950.9 494.8 L951.1 496.6 L951.3 498.4 L951.5 500.1 L951.6 501.9 L951.8 503.7 L951.9 505.5" stroke="#eef3fa" stroke-width="34" fill="none"/><g stroke-linecap="round"><line x1="931.9" y1="507.5" x2="949.9" y2="506.8" stroke="#ccd7ec" stroke-width="1.7"/><line x1="931.8" y1="505.4" x2="949.8" y2="504.4" stroke="#ccd7ec" stroke-width="1.7"/><line x1="971.9" y1="506.1" x2="953.9" y2="506.6" stroke="#ccd7ec" stroke-width="1.7"/><line x1="971.8" y1="503.1" x2="953.8" y2="504.2" stroke="#ccd7ec" stroke-width="1.7"/><line x1="931.4" y1="500.1" x2="949.3" y2="498" stroke="#ccd7ec" stroke-width="1.7"/><line x1="931.1" y1="498" x2="949" y2="495.6" stroke="#ccd7ec" stroke-width="1.7"/><line x1="971.1" y1="495.5" x2="953.2" y2="497.5" stroke="#ccd7ec" stroke-width="1.7"/><line x1="970.8" y1="492.6" x2="952.9" y2="495.1" stroke="#ccd7ec" stroke-width="1.7"/><line x1="930.3" y1="492.7" x2="947.9" y2="489.3" stroke="#ccd7ec" stroke-width="1.7"/><line x1="929.8" y1="490.7" x2="947.4" y2="486.9" stroke="#ccd7ec" stroke-width="1.7"/><line x1="969.5" y1="485.1" x2="951.8" y2="488.4" stroke="#ccd7ec" stroke-width="1.7"/><line x1="968.9" y1="482.2" x2="951.3" y2="486.1" stroke="#ccd7ec" stroke-width="1.7"/><line x1="928.5" y1="485.5" x2="945.9" y2="480.6" stroke="#ccd7ec" stroke-width="1.7"/><line x1="928" y1="483.4" x2="945.2" y2="478.3" stroke="#ccd7ec" stroke-width="1.7"/><line x1="967.1" y1="474.8" x2="949.7" y2="479.5" stroke="#ccd7ec" stroke-width="1.7"/><line x1="966.3" y1="472" x2="949.1" y2="477.2" stroke="#ccd7ec" stroke-width="1.7"/><line x1="926.3" y1="478.4" x2="943.2" y2="472.2" stroke="#ccd7ec" stroke-width="1.7"/><line x1="925.6" y1="476.4" x2="942.4" y2="470" stroke="#ccd7ec" stroke-width="1.7"/><line x1="963.9" y1="464.7" x2="946.9" y2="470.8" stroke="#ccd7ec" stroke-width="1.7"/><line x1="962.9" y1="462" x2="946.1" y2="468.6" stroke="#ccd7ec" stroke-width="1.7"/></g><g fill="#8a93af" stroke="#737c9a" stroke-width="0.8"><circle cx="931.9" cy="506.5" r="3"/><circle cx="971.8" cy="504.6" r="4.2"/><circle cx="931.3" cy="499.1" r="3"/><circle cx="970.9" cy="494.1" r="4.2"/><circle cx="930" cy="491.7" r="3"/><circle cx="969.2" cy="483.7" r="4.2"/><circle cx="928.3" cy="484.5" r="3"/><circle cx="966.7" cy="473.4" r="4.2"/><circle cx="925.9" cy="477.4" r="3"/><circle cx="963.4" cy="463.4" r="4.2"/></g><path d="M946.9 544.9 L945.8 548.5 L944.5 552 L943.1 555.5 L941.6 558.9 L940 562.3 L938.3 565.6 L936.5 568.9 L934.6 572.1 L932.6 575.3 L930.4 578.4 L928.2 581.4 L925.9 584.3 L923.5 587.2 L921 590 L918.4 592.7 L915.7 595.3 L912.9 597.8 L910.1 600.3 L907.2 602.6 L904.2 604.8" stroke="#eef3fa" stroke-width="34" fill="none"/><g stroke-linecap="round"><line x1="891.6" y1="589.3" x2="902" y2="603.9" stroke="#ccd7ec" stroke-width="1.7"/><line x1="893.3" y1="588" x2="904" y2="602.5" stroke="#ccd7ec" stroke-width="1.7"/><line x1="914.7" y1="621.9" x2="904.4" y2="607.2" stroke="#ccd7ec" stroke-width="1.7"/><line x1="917.1" y1="620.2" x2="906.3" y2="605.8" stroke="#ccd7ec" stroke-width="1.7"/><line x1="897.7" y1="584.5" x2="909.3" y2="598.3" stroke="#ccd7ec" stroke-width="1.7"/><line x1="899.3" y1="583.2" x2="911.1" y2="596.7" stroke="#ccd7ec" stroke-width="1.7"/><line x1="923.4" y1="615.2" x2="911.9" y2="601.3" stroke="#ccd7ec" stroke-width="1.7"/><line x1="925.7" y1="613.3" x2="913.7" y2="599.8" stroke="#ccd7ec" stroke-width="1.7"/><line x1="903.4" y1="579.3" x2="916.1" y2="592.1" stroke="#ccd7ec" stroke-width="1.7"/><line x1="904.9" y1="577.8" x2="917.8" y2="590.4" stroke="#ccd7ec" stroke-width="1.7"/><line x1="931.6" y1="607.8" x2="919" y2="594.9" stroke="#ccd7ec" stroke-width="1.7"/><line x1="933.6" y1="605.7" x2="920.6" y2="593.2" stroke="#ccd7ec" stroke-width="1.7"/><line x1="908.7" y1="573.7" x2="922.4" y2="585.4" stroke="#ccd7ec" stroke-width="1.7"/><line x1="910.1" y1="572.1" x2="923.9" y2="583.6" stroke="#ccd7ec" stroke-width="1.7"/><line x1="939" y1="599.8" x2="925.5" y2="588" stroke="#ccd7ec" stroke-width="1.7"/><line x1="940.9" y1="597.5" x2="927" y2="586.1" stroke="#ccd7ec" stroke-width="1.7"/><line x1="913.5" y1="567.6" x2="928.1" y2="578.2" stroke="#ccd7ec" stroke-width="1.7"/><line x1="914.8" y1="565.9" x2="929.5" y2="576.2" stroke="#ccd7ec" stroke-width="1.7"/><line x1="945.9" y1="591.2" x2="931.4" y2="580.5" stroke="#ccd7ec" stroke-width="1.7"/><line x1="947.6" y1="588.8" x2="932.8" y2="578.5" stroke="#ccd7ec" stroke-width="1.7"/><line x1="917.9" y1="561.2" x2="933.2" y2="570.5" stroke="#ccd7ec" stroke-width="1.7"/><line x1="918.9" y1="559.4" x2="934.5" y2="568.5" stroke="#ccd7ec" stroke-width="1.7"/><line x1="952" y1="582.1" x2="936.7" y2="572.6" stroke="#ccd7ec" stroke-width="1.7"/><line x1="953.5" y1="579.5" x2="937.9" y2="570.5" stroke="#ccd7ec" stroke-width="1.7"/><line x1="921.6" y1="554.4" x2="937.7" y2="562.5" stroke="#ccd7ec" stroke-width="1.7"/><line x1="922.6" y1="552.5" x2="938.8" y2="560.3" stroke="#ccd7ec" stroke-width="1.7"/><line x1="957.3" y1="572.5" x2="941.3" y2="564.3" stroke="#ccd7ec" stroke-width="1.7"/><line x1="958.6" y1="569.8" x2="942.4" y2="562.1" stroke="#ccd7ec" stroke-width="1.7"/><line x1="924.9" y1="547.4" x2="941.5" y2="554.1" stroke="#ccd7ec" stroke-width="1.7"/><line x1="925.6" y1="545.4" x2="942.4" y2="551.9" stroke="#ccd7ec" stroke-width="1.7"/><line x1="961.9" y1="562.5" x2="945.3" y2="555.6" stroke="#ccd7ec" stroke-width="1.7"/><line x1="963" y1="559.8" x2="946.1" y2="553.4" stroke="#ccd7ec" stroke-width="1.7"/><line x1="927.5" y1="540.1" x2="944.7" y2="545.5" stroke="#ccd7ec" stroke-width="1.7"/><line x1="928.1" y1="538.1" x2="945.4" y2="543.2" stroke="#ccd7ec" stroke-width="1.7"/><line x1="965.6" y1="552.2" x2="948.5" y2="546.6" stroke="#ccd7ec" stroke-width="1.7"/><line x1="966.5" y1="549.4" x2="949.2" y2="544.4" stroke="#ccd7ec" stroke-width="1.7"/></g><g fill="#8a93af" stroke="#737c9a" stroke-width="0.8"><circle cx="892.4" cy="588.7" r="3"/><circle cx="915.9" cy="621" r="4.2"/><circle cx="898.5" cy="583.9" r="3"/><circle cx="924.6" cy="614.2" r="4.2"/><circle cx="904.2" cy="578.6" r="3"/><circle cx="932.6" cy="606.7" r="4.2"/><circle cx="909.4" cy="572.9" r="3"/><circle cx="940" cy="598.6" r="4.2"/><circle cx="914.2" cy="566.7" r="3"/><circle cx="946.7" cy="590" r="4.2"/><circle cx="918.4" cy="560.3" r="3"/><circle cx="952.7" cy="580.8" r="4.2"/><circle cx="922.1" cy="553.5" r="3"/><circle cx="958" cy="571.2" r="4.2"/><circle cx="925.2" cy="546.4" r="3"/><circle cx="962.4" cy="561.1" r="4.2"/><circle cx="927.8" cy="539.1" r="3"/><circle cx="966.1" cy="550.8" r="4.2"/></g><path d="M868 622.5 L865.9 623.1 L863.9 623.6 L861.8 624.1 L859.7 624.5 L857.6 625 L855.5 625.3 L853.4 625.7 L851.3 626 L849.2 626.2 L847.1 626.5 L845 626.7 L842.9 626.8 L840.8 626.9 L838.6 627 L836.5 627 L834.4 627 L832.3 626.9 L830.1 626.9 L828 626.7 L825.9 626.6" stroke="#eef3fa" stroke-width="34" fill="none"/><g stroke-linecap="round"><line x1="826.6" y1="606.5" x2="824.9" y2="624.5" stroke="#ccd7ec" stroke-width="1.7"/><line x1="828.7" y1="606.7" x2="827.3" y2="624.7" stroke="#ccd7ec" stroke-width="1.7"/><line x1="822.7" y1="646.4" x2="824.5" y2="628.4" stroke="#ccd7ec" stroke-width="1.7"/><line x1="825.6" y1="646.6" x2="826.9" y2="628.7" stroke="#ccd7ec" stroke-width="1.7"/><line x1="833.6" y1="607" x2="833.2" y2="625" stroke="#ccd7ec" stroke-width="1.7"/><line x1="835.7" y1="607" x2="835.6" y2="625" stroke="#ccd7ec" stroke-width="1.7"/><line x1="832.6" y1="647" x2="833.2" y2="629" stroke="#ccd7ec" stroke-width="1.7"/><line x1="835.6" y1="647" x2="835.6" y2="629" stroke="#ccd7ec" stroke-width="1.7"/><line x1="840.6" y1="606.9" x2="841.6" y2="624.9" stroke="#ccd7ec" stroke-width="1.7"/><line x1="842.7" y1="606.8" x2="844" y2="624.7" stroke="#ccd7ec" stroke-width="1.7"/><line x1="842.6" y1="646.8" x2="841.8" y2="628.9" stroke="#ccd7ec" stroke-width="1.7"/><line x1="845.5" y1="646.7" x2="844.2" y2="628.7" stroke="#ccd7ec" stroke-width="1.7"/><line x1="847.7" y1="606.3" x2="849.9" y2="624.2" stroke="#ccd7ec" stroke-width="1.7"/><line x1="849.7" y1="606" x2="852.3" y2="623.8" stroke="#ccd7ec" stroke-width="1.7"/><line x1="852.5" y1="646" x2="850.4" y2="628.1" stroke="#ccd7ec" stroke-width="1.7"/><line x1="855.4" y1="645.6" x2="852.8" y2="627.8" stroke="#ccd7ec" stroke-width="1.7"/><line x1="854.6" y1="605.2" x2="858.1" y2="622.8" stroke="#ccd7ec" stroke-width="1.7"/><line x1="856.7" y1="604.8" x2="860.5" y2="622.3" stroke="#ccd7ec" stroke-width="1.7"/><line x1="862.4" y1="644.4" x2="859" y2="626.8" stroke="#ccd7ec" stroke-width="1.7"/><line x1="865.3" y1="643.8" x2="861.3" y2="626.3" stroke="#ccd7ec" stroke-width="1.7"/><line x1="861.5" y1="603.6" x2="866.3" y2="620.9" stroke="#ccd7ec" stroke-width="1.7"/><line x1="863.5" y1="603" x2="868.6" y2="620.3" stroke="#ccd7ec" stroke-width="1.7"/><line x1="872.1" y1="642.1" x2="867.4" y2="624.8" stroke="#ccd7ec" stroke-width="1.7"/><line x1="874.9" y1="641.3" x2="869.7" y2="624.1" stroke="#ccd7ec" stroke-width="1.7"/></g><g fill="#8a93af" stroke="#737c9a" stroke-width="0.8"><circle cx="827.6" cy="606.6" r="3"/><circle cx="824.1" cy="646.5" r="4.2"/><circle cx="834.7" cy="607" r="3"/><circle cx="834.1" cy="647" r="4.2"/><circle cx="841.7" cy="606.8" r="3"/><circle cx="844.1" cy="646.8" r="4.2"/><circle cx="848.7" cy="606.2" r="3"/><circle cx="854" cy="645.8" r="4.2"/><circle cx="855.6" cy="605" r="3"/><circle cx="863.8" cy="644.1" r="4.2"/><circle cx="862.5" cy="603.3" r="3"/><circle cx="873.5" cy="641.7" r="4.2"/></g><path d="M787.7 616.5 L785 615.2 L782.4 613.9 L779.7 612.4 L777.2 611 L774.6 609.4 L772.1 607.8 L769.6 606.1 L767.2 604.4 L764.9 602.6 L762.5 600.8 L760.2 598.9 L758 596.9 L755.8 594.9 L753.7 592.8 L751.6 590.6 L749.6 588.4 L747.7 586.2 L745.8 583.9 L743.9 581.6 L742.2 579.2" stroke="#eef3fa" stroke-width="34" fill="none"/><g stroke-linecap="round"><line x1="757.7" y1="566.6" x2="743.1" y2="577" stroke="#ccd7ec" stroke-width="1.7"/><line x1="759" y1="568.3" x2="744.5" y2="579" stroke="#ccd7ec" stroke-width="1.7"/><line x1="725.1" y1="589.7" x2="739.8" y2="579.4" stroke="#ccd7ec" stroke-width="1.7"/><line x1="726.8" y1="592.1" x2="741.2" y2="581.3" stroke="#ccd7ec" stroke-width="1.7"/><line x1="762.8" y1="573.1" x2="749" y2="584.7" stroke="#ccd7ec" stroke-width="1.7"/><line x1="764.1" y1="574.6" x2="750.6" y2="586.5" stroke="#ccd7ec" stroke-width="1.7"/><line x1="732.2" y1="598.9" x2="746" y2="587.4" stroke="#ccd7ec" stroke-width="1.7"/><line x1="734.2" y1="601.2" x2="747.6" y2="589.2" stroke="#ccd7ec" stroke-width="1.7"/><line x1="768.3" y1="579.1" x2="755.7" y2="591.9" stroke="#ccd7ec" stroke-width="1.7"/><line x1="769.8" y1="580.6" x2="757.4" y2="593.6" stroke="#ccd7ec" stroke-width="1.7"/><line x1="740.1" y1="607.5" x2="752.9" y2="594.8" stroke="#ccd7ec" stroke-width="1.7"/><line x1="742.2" y1="609.5" x2="754.6" y2="596.4" stroke="#ccd7ec" stroke-width="1.7"/><line x1="774.4" y1="584.6" x2="762.9" y2="598.5" stroke="#ccd7ec" stroke-width="1.7"/><line x1="776" y1="586" x2="764.7" y2="600" stroke="#ccd7ec" stroke-width="1.7"/><line x1="748.7" y1="615.3" x2="760.3" y2="601.6" stroke="#ccd7ec" stroke-width="1.7"/><line x1="751" y1="617.2" x2="762.2" y2="603.1" stroke="#ccd7ec" stroke-width="1.7"/><line x1="780.9" y1="589.6" x2="770.6" y2="604.4" stroke="#ccd7ec" stroke-width="1.7"/><line x1="782.6" y1="590.8" x2="772.6" y2="605.7" stroke="#ccd7ec" stroke-width="1.7"/><line x1="758" y1="622.4" x2="768.3" y2="607.7" stroke="#ccd7ec" stroke-width="1.7"/><line x1="760.4" y1="624" x2="770.3" y2="609" stroke="#ccd7ec" stroke-width="1.7"/><line x1="787.8" y1="594" x2="778.8" y2="609.6" stroke="#ccd7ec" stroke-width="1.7"/><line x1="789.6" y1="595.1" x2="780.9" y2="610.8" stroke="#ccd7ec" stroke-width="1.7"/><line x1="767.8" y1="628.6" x2="776.8" y2="613.1" stroke="#ccd7ec" stroke-width="1.7"/><line x1="770.3" y1="630.1" x2="778.9" y2="614.3" stroke="#ccd7ec" stroke-width="1.7"/><line x1="795.1" y1="597.8" x2="787.5" y2="614.2" stroke="#ccd7ec" stroke-width="1.7"/><line x1="797" y1="598.7" x2="789.6" y2="615.2" stroke="#ccd7ec" stroke-width="1.7"/><line x1="778" y1="634" x2="785.8" y2="617.8" stroke="#ccd7ec" stroke-width="1.7"/><line x1="780.7" y1="635.3" x2="788" y2="618.8" stroke="#ccd7ec" stroke-width="1.7"/></g><g fill="#8a93af" stroke="#737c9a" stroke-width="0.8"><circle cx="758.3" cy="567.4" r="3"/><circle cx="726" cy="590.9" r="4.2"/><circle cx="763.4" cy="573.9" r="3"/><circle cx="733.2" cy="600" r="4.2"/><circle cx="769.1" cy="579.8" r="3"/><circle cx="741.2" cy="608.5" r="4.2"/><circle cx="775.2" cy="585.3" r="3"/><circle cx="749.9" cy="616.2" r="4.2"/><circle cx="781.8" cy="590.2" r="3"/><circle cx="759.2" cy="623.2" r="4.2"/><circle cx="788.7" cy="594.6" r="3"/><circle cx="769" cy="629.4" r="4.2"/><circle cx="796" cy="598.3" r="3"/><circle cx="779.4" cy="634.7" r="4.2"/></g><path d="M724.5 543 L723.5 539.4 L722.7 535.8 L722 532.2 L721.3 528.5 L720.8 524.9 L720.5 521.2 L720.2 517.5 L720 513.8 L720 510.1 L720.1 506.4 L720.3 502.8 L720.6 499.1 L721.1 495.4 L721.6 491.8 L722.3 488.1 L723.1 484.5 L724 480.9 L725 477.4 L726.1 473.9 L727.3 470.4" stroke="#eef3fa" stroke-width="34" fill="none"/><g stroke-linecap="round"><line x1="746.4" y1="476.4" x2="729.6" y2="470" stroke="#ccd7ec" stroke-width="1.7"/><line x1="745.7" y1="478.4" x2="728.8" y2="472.2" stroke="#ccd7ec" stroke-width="1.7"/><line x1="709.1" y1="462" x2="725.9" y2="468.6" stroke="#ccd7ec" stroke-width="1.7"/><line x1="708.1" y1="464.7" x2="725.1" y2="470.8" stroke="#ccd7ec" stroke-width="1.7"/><line x1="744" y1="483.6" x2="726.7" y2="478.5" stroke="#ccd7ec" stroke-width="1.7"/><line x1="743.4" y1="485.6" x2="726.1" y2="480.9" stroke="#ccd7ec" stroke-width="1.7"/><line x1="705.6" y1="472.2" x2="722.9" y2="477.4" stroke="#ccd7ec" stroke-width="1.7"/><line x1="704.8" y1="475.1" x2="722.2" y2="479.8" stroke="#ccd7ec" stroke-width="1.7"/><line x1="742.1" y1="491" x2="724.5" y2="487.3" stroke="#ccd7ec" stroke-width="1.7"/><line x1="741.7" y1="493.1" x2="724" y2="489.7" stroke="#ccd7ec" stroke-width="1.7"/><line x1="703" y1="482.7" x2="720.6" y2="486.6" stroke="#ccd7ec" stroke-width="1.7"/><line x1="702.4" y1="485.6" x2="720.1" y2="488.9" stroke="#ccd7ec" stroke-width="1.7"/><line x1="740.8" y1="498.6" x2="722.9" y2="496.3" stroke="#ccd7ec" stroke-width="1.7"/><line x1="740.6" y1="500.7" x2="722.7" y2="498.7" stroke="#ccd7ec" stroke-width="1.7"/><line x1="701.1" y1="493.4" x2="719" y2="495.8" stroke="#ccd7ec" stroke-width="1.7"/><line x1="700.8" y1="496.3" x2="718.7" y2="498.2" stroke="#ccd7ec" stroke-width="1.7"/><line x1="740.1" y1="506.2" x2="722.1" y2="505.3" stroke="#ccd7ec" stroke-width="1.7"/><line x1="740" y1="508.3" x2="722" y2="507.7" stroke="#ccd7ec" stroke-width="1.7"/><line x1="700.2" y1="504.2" x2="718.1" y2="505.2" stroke="#ccd7ec" stroke-width="1.7"/><line x1="700" y1="507.1" x2="718" y2="507.6" stroke="#ccd7ec" stroke-width="1.7"/><line x1="740" y1="513.8" x2="722" y2="514.4" stroke="#ccd7ec" stroke-width="1.7"/><line x1="740.1" y1="515.9" x2="722.1" y2="516.8" stroke="#ccd7ec" stroke-width="1.7"/><line x1="700.1" y1="515" x2="718" y2="514.6" stroke="#ccd7ec" stroke-width="1.7"/><line x1="700.2" y1="518" x2="718.1" y2="517" stroke="#ccd7ec" stroke-width="1.7"/><line x1="740.6" y1="521.4" x2="722.7" y2="523.5" stroke="#ccd7ec" stroke-width="1.7"/><line x1="740.8" y1="523.5" x2="723" y2="525.8" stroke="#ccd7ec" stroke-width="1.7"/><line x1="700.8" y1="525.8" x2="718.7" y2="523.9" stroke="#ccd7ec" stroke-width="1.7"/><line x1="701.2" y1="528.7" x2="719" y2="526.3" stroke="#ccd7ec" stroke-width="1.7"/><line x1="741.7" y1="529" x2="724" y2="532.4" stroke="#ccd7ec" stroke-width="1.7"/><line x1="742.1" y1="531.1" x2="724.5" y2="534.8" stroke="#ccd7ec" stroke-width="1.7"/><line x1="702.4" y1="536.5" x2="720.1" y2="533.2" stroke="#ccd7ec" stroke-width="1.7"/><line x1="703" y1="539.4" x2="720.6" y2="535.6" stroke="#ccd7ec" stroke-width="1.7"/><line x1="743.4" y1="536.5" x2="726.1" y2="541.3" stroke="#ccd7ec" stroke-width="1.7"/><line x1="744" y1="538.5" x2="726.7" y2="543.6" stroke="#ccd7ec" stroke-width="1.7"/><line x1="704.9" y1="547.1" x2="722.2" y2="542.4" stroke="#ccd7ec" stroke-width="1.7"/><line x1="705.7" y1="549.9" x2="722.9" y2="544.7" stroke="#ccd7ec" stroke-width="1.7"/></g><g fill="#8a93af" stroke="#737c9a" stroke-width="0.8"><circle cx="746.1" cy="477.4" r="3"/><circle cx="708.6" cy="463.4" r="4.2"/><circle cx="743.7" cy="484.6" r="3"/><circle cx="705.2" cy="473.7" r="4.2"/><circle cx="741.9" cy="492.1" r="3"/><circle cx="702.7" cy="484.2" r="4.2"/><circle cx="740.7" cy="499.6" r="3"/><circle cx="701" cy="494.9" r="4.2"/><circle cx="740.1" cy="507.2" r="3"/><circle cx="700.1" cy="505.7" r="4.2"/><circle cx="740.1" cy="514.9" r="3"/><circle cx="700.1" cy="516.5" r="4.2"/><circle cx="740.7" cy="522.5" r="3"/><circle cx="701" cy="527.3" r="4.2"/><circle cx="741.9" cy="530" r="3"/><circle cx="702.7" cy="538" r="4.2"/><circle cx="743.7" cy="537.5" r="3"/><circle cx="705.3" cy="548.5" r="4.2"/></g><g stroke="#ccd7ec" stroke-width="1.7"><line x1="737" y1="424" x2="750" y2="433"/><line x1="735" y1="427" x2="749" y2="436"/><line x1="750" y1="433" x2="764" y2="446"/><line x1="749" y1="436" x2="762" y2="448"/></g><g fill="#8a93af" stroke="#737c9a" stroke-width="0.8"><ellipse cx="734.6" cy="421.4" rx="5.2" ry="4.2" transform="rotate(40 734.6 421.4)"/><ellipse cx="765.9" cy="448" rx="4.6" ry="3.8" transform="rotate(40 765.9 448)"/></g><path d="M851.2 377.5 L850.5 378.7 L849.8 379.9 L849.1 381.1 L848.6 382.2 L848.1 383.2 L847.8 384.2 L847.6 385.2 L847.6 386.1 L847.7 387 L848.1 387.9 L848.6 388.8 L849.2 389.6 L850 390.5 L851 391.3 L852.1 392.2 L853.3 393.1 L854.6 394 L855.9 394.9 L857.3 395.9 L858.6 396.9 L859.9 398 L861.1 399.1 L862.2 400.3 L863.2 401.5 L864.1 402.8 L864.8 404.1 L865.3 405.4 L865.6 406.8 L865.7 408.2 L865.7 409.6 L865.4 411.1 L865 412.5 L864.4 413.9 L863.7 415.4 L862.9 416.8 L862 418.1 L861 419.5 L860 420.8 L859 422 L858 423.3 L857.1 424.4 L856.2 425.5 L855.5 426.6 L854.9 427.6 L854.5 428.6 L854.2 429.6 L854.1 430.5 L854.2 431.4 L854.4 432.3 L854.8 433.2 L855.4 434.1 L856.1 435 L856.9 435.9 L857.8 436.9 L858.7 437.8 L859.8 438.8 L860.8 439.9 L861.8 441 L862.7 442.1 L863.6 443.3" stroke="#111" stroke-width="1.4" fill="none"/><path d="M850.8 374.5 L852.2 375.5 L853.7 376.6 L855 377.7 L856.3 378.8 L857.4 380 L858.5 381.2 L859.3 382.5 L860 383.8 L860.6 385.2 L860.9 386.6 L861.1 388 L861 389.4 L860.8 390.8 L860.5 392.2 L860 393.6 L859.4 395 L858.7 396.3 L857.9 397.7 L857.1 398.9 L856.3 400.2 L855.5 401.4 L854.8 402.5 L854.1 403.6 L853.5 404.7 L853.1 405.7 L852.8 406.7 L852.7 407.6 L852.7 408.6 L852.9 409.4 L853.3 410.3 L853.8 411.2 L854.5 412.1 L855.3 412.9 L856.3 413.8 L857.3 414.7 L858.4 415.7 L859.5 416.7 L860.7 417.7 L861.8 418.7 L862.9 419.9 L863.9 421 L864.8 422.2 L865.5 423.5 L866.2 424.8 L866.6 426.1 L866.9 427.5 L867 428.9 L866.9 430.3 L866.6 431.8 L866.2 433.3 L865.5 434.7 L864.8 436.2 L863.9 437.6 L862.9 439 L861.8 440.4 L860.7 441.7 L859.6 443.1 L858.4 444.3 L857.4 445.5 L856.4 446.7" stroke="#111" stroke-width="1.4" fill="none"/><line x1="850.5" y1="378.7" x2="852.2" y2="375.5" stroke="#111" stroke-width="0.9"/><line x1="848.6" y1="382.2" x2="856.3" y2="378.8" stroke="#111" stroke-width="0.9"/><line x1="847.6" y1="385.2" x2="859.3" y2="382.5" stroke="#111" stroke-width="0.9"/><line x1="848.1" y1="387.9" x2="860.9" y2="386.6" stroke="#111" stroke-width="0.9"/><line x1="850" y1="390.5" x2="860.8" y2="390.8" stroke="#111" stroke-width="0.9"/><line x1="853.3" y1="393.1" x2="859.4" y2="395" stroke="#111" stroke-width="0.9"/><line x1="857.3" y1="395.9" x2="857.1" y2="398.9" stroke="#111" stroke-width="0.9"/><line x1="861.1" y1="399.1" x2="854.8" y2="402.5" stroke="#111" stroke-width="0.9"/><line x1="864.1" y1="402.8" x2="853.1" y2="405.7" stroke="#111" stroke-width="0.9"/><line x1="865.6" y1="406.8" x2="852.7" y2="408.6" stroke="#111" stroke-width="0.9"/><line x1="865.4" y1="411.1" x2="853.8" y2="411.2" stroke="#111" stroke-width="0.9"/><line x1="863.7" y1="415.4" x2="856.3" y2="413.8" stroke="#111" stroke-width="0.9"/><line x1="861" y1="419.5" x2="859.5" y2="416.7" stroke="#111" stroke-width="0.9"/><line x1="858" y1="423.3" x2="862.9" y2="419.9" stroke="#111" stroke-width="0.9"/><line x1="855.5" y1="426.6" x2="865.5" y2="423.5" stroke="#111" stroke-width="0.9"/><line x1="854.2" y1="429.6" x2="866.9" y2="427.5" stroke="#111" stroke-width="0.9"/><line x1="854.4" y1="432.3" x2="866.6" y2="431.8" stroke="#111" stroke-width="0.9"/><line x1="856.1" y1="435" x2="864.8" y2="436.2" stroke="#111" stroke-width="0.9"/><line x1="858.7" y1="437.8" x2="861.8" y2="440.4" stroke="#111" stroke-width="0.9"/><line x1="861.8" y1="441" x2="858.4" y2="444.3" stroke="#111" stroke-width="0.9"/><circle cx="850.5" cy="372.4" r="2.6" fill="#fff" stroke="#333" stroke-width="0.9"/><circle cx="849.9" cy="367.2" r="2.6" fill="#fff" stroke="#333" stroke-width="0.9"/><circle cx="849.2" cy="362.1" r="2.6" fill="#fff" stroke="#333" stroke-width="0.9"/><path d="M970.7 420.8 L969.2 420.4 L967.7 419.9 L966.2 419.5 L964.9 419.1 L963.5 418.8 L962.3 418.5 L961.2 418.4 L960.2 418.4 L959.2 418.5 L958.4 418.7 L957.6 419.1 L956.9 419.6 L956.4 420.2 L955.8 421 L955.4 421.9 L954.9 423 L954.5 424.1 L954.1 425.3 L953.8 426.6 L953.4 427.9 L953 429.3 L952.5 430.7 L952 432 L951.4 433.4 L950.8 434.6 L950.1 435.8 L949.3 436.9 L948.4 437.9 L947.4 438.8 L946.4 439.6 L945.2 440.2 L944 440.8 L942.7 441.2 L941.4 441.4 L940 441.6 L938.6 441.7 L937.2 441.7 L935.7 441.6 L934.3 441.4 L932.9 441.2 L931.5 441.1 L930.2 440.9 L928.9 440.7 L927.7 440.6 L926.6 440.6 L925.5 440.7 L924.6 440.8 L923.8 441.1 L923 441.5 L922.4 442 L921.8 442.7 L921.3 443.5 L920.9 444.5 L920.6 445.6 L920.3 446.8 L920.1 448.1 L919.9 449.5 L919.7 451 L919.5 452.6 L919.3 454.2" stroke="#111" stroke-width="1.4" fill="none"/><path d="M973.3 419.2 L972.8 420.5 L972.3 421.7 L971.7 423 L971 424.2 L970.3 425.3 L969.5 426.4 L968.6 427.4 L967.7 428.2 L966.6 429 L965.4 429.6 L964.2 430.1 L962.9 430.5 L961.5 430.7 L960.1 430.8 L958.6 430.8 L957 430.7 L955.5 430.5 L953.9 430.2 L952.4 429.9 L950.9 429.6 L949.4 429.2 L947.9 428.9 L946.5 428.5 L945.2 428.3 L944 428.1 L942.9 428 L941.8 427.9 L940.9 428.1 L940 428.3 L939.3 428.7 L938.6 429.2 L938.1 429.9 L937.6 430.7 L937.2 431.7 L936.8 432.7 L936.5 433.9 L936.2 435.2 L935.9 436.6 L935.7 438.1 L935.4 439.6 L935.1 441.1 L934.7 442.7 L934.3 444.2 L933.9 445.7 L933.4 447.2 L932.7 448.5 L932.1 449.8 L931.3 451 L930.4 452 L929.4 452.9 L928.4 453.7 L927.3 454.4 L926.1 454.9 L924.8 455.4 L923.5 455.6 L922.2 455.8 L920.8 455.9 L919.5 455.9 L918.1 455.9 L916.7 455.8" stroke="#111" stroke-width="1.4" fill="none"/><line x1="969.2" y1="420.4" x2="972.8" y2="420.5" stroke="#111" stroke-width="0.9"/><line x1="964.9" y1="419.1" x2="971" y2="424.2" stroke="#111" stroke-width="0.9"/><line x1="961.2" y1="418.4" x2="968.6" y2="427.4" stroke="#111" stroke-width="0.9"/><line x1="958.4" y1="418.7" x2="965.4" y2="429.6" stroke="#111" stroke-width="0.9"/><line x1="956.4" y1="420.2" x2="961.5" y2="430.7" stroke="#111" stroke-width="0.9"/><line x1="954.9" y1="423" x2="957" y2="430.7" stroke="#111" stroke-width="0.9"/><line x1="953.8" y1="426.6" x2="952.4" y2="429.9" stroke="#111" stroke-width="0.9"/><line x1="952.5" y1="430.7" x2="947.9" y2="428.9" stroke="#111" stroke-width="0.9"/><line x1="950.8" y1="434.6" x2="944" y2="428.1" stroke="#111" stroke-width="0.9"/><line x1="948.4" y1="437.9" x2="940.9" y2="428.1" stroke="#111" stroke-width="0.9"/><line x1="945.2" y1="440.2" x2="938.6" y2="429.2" stroke="#111" stroke-width="0.9"/><line x1="941.4" y1="441.4" x2="937.2" y2="431.7" stroke="#111" stroke-width="0.9"/><line x1="937.2" y1="441.7" x2="936.2" y2="435.2" stroke="#111" stroke-width="0.9"/><line x1="932.9" y1="441.2" x2="935.4" y2="439.6" stroke="#111" stroke-width="0.9"/><line x1="928.9" y1="440.7" x2="934.3" y2="444.2" stroke="#111" stroke-width="0.9"/><line x1="925.5" y1="440.7" x2="932.7" y2="448.5" stroke="#111" stroke-width="0.9"/><line x1="923" y1="441.5" x2="930.4" y2="452" stroke="#111" stroke-width="0.9"/><line x1="921.3" y1="443.5" x2="927.3" y2="454.4" stroke="#111" stroke-width="0.9"/><line x1="920.3" y1="446.8" x2="923.5" y2="455.6" stroke="#111" stroke-width="0.9"/><line x1="919.7" y1="451" x2="919.5" y2="455.9" stroke="#111" stroke-width="0.9"/><circle cx="975.1" cy="418" r="2.6" fill="#fff" stroke="#333" stroke-width="0.9"/><circle cx="979.4" cy="415.2" r="2.6" fill="#fff" stroke="#333" stroke-width="0.9"/><circle cx="983.8" cy="412.4" r="2.6" fill="#fff" stroke="#333" stroke-width="0.9"/><path d="M867.7 459.8 L866.4 459.8 L865.1 459.8 L863.8 459.8 L862.7 459.8 L861.6 459.9 L860.5 460.1 L859.6 460.3 L858.8 460.7 L858 461.2 L857.3 461.8 L856.7 462.6 L856.2 463.4 L855.8 464.4 L855.4 465.5 L855.1 466.8 L854.8 468.1 L854.5 469.5 L854.2 471 L853.9 472.6 L853.6 474.1 L853.3 475.7 L852.9 477.3 L852.4 478.8 L851.9 480.3 L851.3 481.7 L850.6 483.1 L849.8 484.3 L848.9 485.4 L847.9 486.3 L846.8 487.1 L845.6 487.8 L844.3 488.3 L842.9 488.7 L841.5 489 L840 489.1 L838.5 489.1 L836.9 488.9 L835.3 488.7 L833.7 488.4 L832.1 488.1 L830.5 487.8 L829 487.4 L827.5 487 L826.1 486.7 L824.8 486.4 L823.5 486.2 L822.3 486.1 L821.2 486.1 L820.2 486.2 L819.3 486.5 L818.5 486.8 L817.7 487.3 L817 488 L816.4 488.7 L815.8 489.6 L815.3 490.5 L814.8 491.6 L814.3 492.7 L813.8 493.9 L813.3 495.2" stroke="#111" stroke-width="1.4" fill="none"/><path d="M870.3 458.2 L870 459.9 L869.7 461.6 L869.3 463.3 L868.9 464.9 L868.3 466.4 L867.7 467.9 L867.1 469.3 L866.3 470.6 L865.4 471.7 L864.4 472.7 L863.3 473.6 L862.2 474.3 L860.9 474.9 L859.6 475.3 L858.3 475.6 L856.9 475.8 L855.5 475.9 L854 476 L852.5 475.9 L851.1 475.8 L849.7 475.6 L848.3 475.5 L847 475.4 L845.7 475.2 L844.5 475.2 L843.4 475.2 L842.3 475.3 L841.4 475.5 L840.5 475.8 L839.7 476.2 L839 476.8 L838.3 477.5 L837.8 478.3 L837.2 479.2 L836.8 480.2 L836.3 481.3 L835.9 482.5 L835.5 483.8 L835.1 485.1 L834.6 486.5 L834.1 487.8 L833.6 489.2 L833 490.5 L832.3 491.8 L831.6 493 L830.7 494.1 L829.8 495.1 L828.8 496 L827.6 496.8 L826.4 497.4 L825.1 497.9 L823.7 498.2 L822.2 498.4 L820.7 498.5 L819.1 498.4 L817.4 498.3 L815.8 498 L814.1 497.7 L812.4 497.3 L810.7 496.8" stroke="#111" stroke-width="1.4" fill="none"/><line x1="866.4" y1="459.8" x2="870" y2="459.9" stroke="#111" stroke-width="0.9"/><line x1="862.7" y1="459.8" x2="868.9" y2="464.9" stroke="#111" stroke-width="0.9"/><line x1="859.6" y1="460.3" x2="867.1" y2="469.3" stroke="#111" stroke-width="0.9"/><line x1="857.3" y1="461.8" x2="864.4" y2="472.7" stroke="#111" stroke-width="0.9"/><line x1="855.8" y1="464.4" x2="860.9" y2="474.9" stroke="#111" stroke-width="0.9"/><line x1="854.8" y1="468.1" x2="856.9" y2="475.8" stroke="#111" stroke-width="0.9"/><line x1="853.9" y1="472.6" x2="852.5" y2="475.9" stroke="#111" stroke-width="0.9"/><line x1="852.9" y1="477.3" x2="848.3" y2="475.5" stroke="#111" stroke-width="0.9"/><line x1="851.3" y1="481.7" x2="844.5" y2="475.2" stroke="#111" stroke-width="0.9"/><line x1="848.9" y1="485.4" x2="841.4" y2="475.5" stroke="#111" stroke-width="0.9"/><line x1="845.6" y1="487.8" x2="839" y2="476.8" stroke="#111" stroke-width="0.9"/><line x1="841.5" y1="489" x2="837.2" y2="479.2" stroke="#111" stroke-width="0.9"/><line x1="836.9" y1="488.9" x2="835.9" y2="482.5" stroke="#111" stroke-width="0.9"/><line x1="832.1" y1="488.1" x2="834.6" y2="486.5" stroke="#111" stroke-width="0.9"/><line x1="827.5" y1="487" x2="833" y2="490.5" stroke="#111" stroke-width="0.9"/><line x1="823.5" y1="486.2" x2="830.7" y2="494.1" stroke="#111" stroke-width="0.9"/><line x1="820.2" y1="486.2" x2="827.6" y2="496.8" stroke="#111" stroke-width="0.9"/><line x1="817.7" y1="487.3" x2="823.7" y2="498.2" stroke="#111" stroke-width="0.9"/><line x1="815.8" y1="489.6" x2="819.1" y2="498.4" stroke="#111" stroke-width="0.9"/><line x1="814.3" y1="492.7" x2="814.1" y2="497.7" stroke="#111" stroke-width="0.9"/><circle cx="872.1" cy="457" r="2.6" fill="#fff" stroke="#333" stroke-width="0.9"/><circle cx="876.4" cy="454.2" r="2.6" fill="#fff" stroke="#333" stroke-width="0.9"/><circle cx="880.8" cy="451.4" r="2.6" fill="#fff" stroke="#333" stroke-width="0.9"/><path d="M772.9 482.2 L772.4 484 L771.9 485.6 L771.5 487.3 L771.1 488.8 L770.9 490.2 L770.7 491.5 L770.6 492.6 L770.8 493.6 L771 494.5 L771.5 495.3 L772.1 496 L772.9 496.5 L773.9 497 L775 497.4 L776.2 497.8 L777.6 498.1 L779 498.4 L780.5 498.7 L782 499.1 L783.5 499.6 L785 500.1 L786.4 500.7 L787.7 501.4 L788.9 502.2 L790 503.2 L791 504.2 L791.8 505.4 L792.4 506.7 L792.9 508.1 L793.2 509.6 L793.4 511.1 L793.5 512.7 L793.5 514.3 L793.3 515.9 L793.2 517.5 L793 519.1 L792.8 520.6 L792.6 522 L792.5 523.3 L792.5 524.6 L792.6 525.6 L792.9 526.6 L793.3 527.4 L793.8 528.1 L794.6 528.7 L795.5 529.1 L796.6 529.5 L797.8 529.7 L799.2 529.9 L800.8 530 L802.4 530.1 L804.1 530.2 L805.9 530.3 L807.8 530.4 L809.6 530.6 L811.4 530.9 L813.1 531.2 L814.8 531.7 L816.3 532.3 L817.7 533" stroke="#111" stroke-width="1.4" fill="none"/><path d="M771.1 479.8 L772.5 480.2 L773.9 480.7 L775.3 481.3 L776.7 481.9 L777.9 482.7 L779 483.6 L780 484.6 L780.9 485.7 L781.6 486.9 L782.1 488.3 L782.5 489.8 L782.7 491.3 L782.8 493 L782.7 494.7 L782.6 496.4 L782.3 498.2 L782 499.9 L781.6 501.6 L781.2 503.3 L780.8 504.9 L780.5 506.4 L780.3 507.8 L780.2 509.1 L780.2 510.2 L780.3 511.2 L780.7 512.1 L781.2 512.8 L781.8 513.4 L782.7 513.9 L783.7 514.3 L784.9 514.7 L786.2 514.9 L787.7 515.1 L789.2 515.3 L790.9 515.5 L792.5 515.7 L794.2 516 L795.9 516.3 L797.6 516.7 L799.1 517.2 L800.6 517.8 L802 518.6 L803.2 519.4 L804.3 520.4 L805.2 521.5 L806 522.7 L806.6 524 L807 525.3 L807.3 526.8 L807.5 528.3 L807.6 529.8 L807.6 531.3 L807.6 532.8 L807.5 534.2 L807.5 535.6 L807.5 536.9 L807.5 538.1 L807.7 539.2 L807.9 540.2 L808.3 541" stroke="#111" stroke-width="1.4" fill="none"/><line x1="772.4" y1="484" x2="772.5" y2="480.2" stroke="#111" stroke-width="0.9"/><line x1="771.1" y1="488.8" x2="776.7" y2="481.9" stroke="#111" stroke-width="0.9"/><line x1="770.6" y1="492.6" x2="780" y2="484.6" stroke="#111" stroke-width="0.9"/><line x1="771.5" y1="495.3" x2="782.1" y2="488.3" stroke="#111" stroke-width="0.9"/><line x1="773.9" y1="497" x2="782.8" y2="493" stroke="#111" stroke-width="0.9"/><line x1="777.6" y1="498.1" x2="782.3" y2="498.2" stroke="#111" stroke-width="0.9"/><line x1="782" y1="499.1" x2="781.2" y2="503.3" stroke="#111" stroke-width="0.9"/><line x1="786.4" y1="500.7" x2="780.3" y2="507.8" stroke="#111" stroke-width="0.9"/><line x1="790" y1="503.2" x2="780.3" y2="511.2" stroke="#111" stroke-width="0.9"/><line x1="792.4" y1="506.7" x2="781.8" y2="513.4" stroke="#111" stroke-width="0.9"/><line x1="793.4" y1="511.1" x2="784.9" y2="514.7" stroke="#111" stroke-width="0.9"/><line x1="793.3" y1="515.9" x2="789.2" y2="515.3" stroke="#111" stroke-width="0.9"/><line x1="792.8" y1="520.6" x2="794.2" y2="516" stroke="#111" stroke-width="0.9"/><line x1="792.5" y1="524.6" x2="799.1" y2="517.2" stroke="#111" stroke-width="0.9"/><line x1="793.3" y1="527.4" x2="803.2" y2="519.4" stroke="#111" stroke-width="0.9"/><line x1="795.5" y1="529.1" x2="806" y2="522.7" stroke="#111" stroke-width="0.9"/><line x1="799.2" y1="529.9" x2="807.3" y2="526.8" stroke="#111" stroke-width="0.9"/><line x1="804.1" y1="530.2" x2="807.6" y2="531.3" stroke="#111" stroke-width="0.9"/><line x1="809.6" y1="530.6" x2="807.5" y2="535.6" stroke="#111" stroke-width="0.9"/><line x1="814.8" y1="531.7" x2="807.7" y2="539.2" stroke="#111" stroke-width="0.9"/><circle cx="769.8" cy="478.1" r="2.6" fill="#fff" stroke="#333" stroke-width="0.9"/><circle cx="766.8" cy="473.9" r="2.6" fill="#fff" stroke="#333" stroke-width="0.9"/><circle cx="763.7" cy="469.7" r="2.6" fill="#fff" stroke="#333" stroke-width="0.9"/><path d="M883 596.9 L882.8 595.5 L882.6 594.2 L882.4 592.9 L882.1 591.7 L881.8 590.6 L881.5 589.6 L881.1 588.7 L880.6 587.8 L880 587.1 L879.2 586.6 L878.4 586.1 L877.5 585.7 L876.4 585.4 L875.3 585.2 L874 585 L872.7 585 L871.2 584.9 L869.7 584.9 L868.1 584.9 L866.5 584.8 L864.9 584.7 L863.3 584.6 L861.7 584.4 L860.1 584.2 L858.6 583.8 L857.2 583.3 L855.8 582.7 L854.6 582 L853.4 581.2 L852.4 580.3 L851.5 579.2 L850.7 578 L850.1 576.8 L849.6 575.4 L849.2 573.9 L848.9 572.4 L848.7 570.8 L848.5 569.2 L848.5 567.6 L848.5 566 L848.5 564.4 L848.5 562.8 L848.6 561.3 L848.6 559.9 L848.5 558.5 L848.5 557.2 L848.3 556.1 L848 555 L847.7 554.1 L847.2 553.2 L846.7 552.5 L846 551.8 L845.2 551.3 L844.3 550.9 L843.3 550.5 L842.2 550.1 L841 549.9 L839.7 549.6 L838.4 549.3 L837 549.1" stroke="#111" stroke-width="1.4" fill="none"/><path d="M885 599.1 L883.3 599.1 L881.6 599 L879.9 598.9 L878.3 598.8 L876.7 598.5 L875.1 598.1 L873.7 597.7 L872.3 597.1 L871 596.4 L869.9 595.6 L868.8 594.6 L867.9 593.6 L867.1 592.4 L866.5 591.2 L865.9 589.9 L865.5 588.5 L865.1 587.1 L864.8 585.6 L864.6 584.1 L864.5 582.7 L864.3 581.2 L864.2 579.8 L864.1 578.4 L864 577.1 L863.8 575.9 L863.6 574.8 L863.3 573.7 L862.9 572.8 L862.4 572 L861.8 571.3 L861.1 570.7 L860.3 570.1 L859.4 569.7 L858.4 569.4 L857.3 569.1 L856.1 568.9 L854.8 568.7 L853.4 568.5 L852 568.3 L850.5 568.1 L849.1 567.9 L847.6 567.7 L846.2 567.3 L844.7 566.9 L843.4 566.4 L842.1 565.8 L840.9 565.1 L839.8 564.2 L838.8 563.3 L837.9 562.2 L837.1 561 L836.4 559.7 L835.9 558.3 L835.5 556.9 L835.2 555.3 L835 553.7 L834.9 552 L834.9 550.3 L834.9 548.6 L835 546.9" stroke="#111" stroke-width="1.4" fill="none"/><line x1="882.8" y1="595.5" x2="883.3" y2="599.1" stroke="#111" stroke-width="0.9"/><line x1="882.1" y1="591.7" x2="878.3" y2="598.8" stroke="#111" stroke-width="0.9"/><line x1="881.1" y1="588.7" x2="873.7" y2="597.7" stroke="#111" stroke-width="0.9"/><line x1="879.2" y1="586.6" x2="869.9" y2="595.6" stroke="#111" stroke-width="0.9"/><line x1="876.4" y1="585.4" x2="867.1" y2="592.4" stroke="#111" stroke-width="0.9"/><line x1="872.7" y1="585" x2="865.5" y2="588.5" stroke="#111" stroke-width="0.9"/><line x1="868.1" y1="584.9" x2="864.6" y2="584.1" stroke="#111" stroke-width="0.9"/><line x1="863.3" y1="584.6" x2="864.2" y2="579.8" stroke="#111" stroke-width="0.9"/><line x1="858.6" y1="583.8" x2="863.8" y2="575.9" stroke="#111" stroke-width="0.9"/><line x1="854.6" y1="582" x2="862.9" y2="572.8" stroke="#111" stroke-width="0.9"/><line x1="851.5" y1="579.2" x2="861.1" y2="570.7" stroke="#111" stroke-width="0.9"/><line x1="849.6" y1="575.4" x2="858.4" y2="569.4" stroke="#111" stroke-width="0.9"/><line x1="848.7" y1="570.8" x2="854.8" y2="568.7" stroke="#111" stroke-width="0.9"/><line x1="848.5" y1="566" x2="850.5" y2="568.1" stroke="#111" stroke-width="0.9"/><line x1="848.6" y1="561.3" x2="846.2" y2="567.3" stroke="#111" stroke-width="0.9"/><line x1="848.5" y1="557.2" x2="842.1" y2="565.8" stroke="#111" stroke-width="0.9"/><line x1="847.7" y1="554.1" x2="838.8" y2="563.3" stroke="#111" stroke-width="0.9"/><line x1="846" y1="551.8" x2="836.4" y2="559.7" stroke="#111" stroke-width="0.9"/><line x1="843.3" y1="550.5" x2="835.2" y2="555.3" stroke="#111" stroke-width="0.9"/><line x1="839.7" y1="549.6" x2="834.9" y2="550.3" stroke="#111" stroke-width="0.9"/><circle cx="886" cy="598.4" r="2.6" fill="#fff" stroke="#333" stroke-width="0.9"/><circle cx="886" cy="593.2" r="2.6" fill="#fff" stroke="#333" stroke-width="0.9"/><circle cx="886" cy="588" r="2.6" fill="#fff" stroke="#333" stroke-width="0.9"/><line x1="838.6" y1="422.4" x2="831.7" y2="407.3" stroke="#1a1a1a" stroke-width="1.3"/><line x1="841.3" y1="421.1" x2="834.5" y2="406.1" stroke="#1a1a1a" stroke-width="1.3"/><circle cx="841" cy="424" r="5" fill="url(#gR)"/><line x1="860.5" y1="441.1" x2="866.5" y2="425.7" stroke="#1a1a1a" stroke-width="1.3"/><line x1="863.3" y1="442.2" x2="869.3" y2="426.8" stroke="#1a1a1a" stroke-width="1.3"/><circle cx="861" cy="444" r="5" fill="url(#gR)"/><line x1="779.3" y1="436.5" x2="769.6" y2="423.1" stroke="#1a1a1a" stroke-width="1.3"/><line x1="781.7" y1="434.7" x2="772" y2="421.4" stroke="#1a1a1a" stroke-width="1.3"/><circle cx="782" cy="437.6" r="5" fill="url(#gR)"/><line x1="798.2" y1="456.1" x2="787.2" y2="443.8" stroke="#1a1a1a" stroke-width="1.3"/><line x1="800.5" y1="454.1" x2="789.5" y2="441.8" stroke="#1a1a1a" stroke-width="1.3"/><circle cx="801" cy="457" r="5" fill="url(#gR)"/><line x1="753.7" y1="461.4" x2="737.4" y2="463.8" stroke="#1a1a1a" stroke-width="1.3"/><line x1="753.3" y1="458.5" x2="737" y2="460.8" stroke="#1a1a1a" stroke-width="1.3"/><circle cx="756" cy="459.6" r="5" fill="url(#gR)"/><line x1="858.1" y1="481.6" x2="843.9" y2="473.1" stroke="#1a1a1a" stroke-width="1.3"/><line x1="859.6" y1="479" x2="845.5" y2="470.5" stroke="#1a1a1a" stroke-width="1.3"/><circle cx="861" cy="481.6" r="5" fill="url(#gR)"/><line x1="892.6" y1="479" x2="885.7" y2="463.9" stroke="#1a1a1a" stroke-width="1.3"/><line x1="895.3" y1="477.7" x2="888.5" y2="462.7" stroke="#1a1a1a" stroke-width="1.3"/><circle cx="895" cy="480.6" r="5" fill="url(#gR)"/><line x1="917.1" y1="473.2" x2="931.6" y2="465.3" stroke="#1a1a1a" stroke-width="1.3"/><line x1="918.5" y1="475.8" x2="933" y2="467.9" stroke="#1a1a1a" stroke-width="1.3"/><circle cx="915.6" cy="475.7" r="5" fill="url(#gR)"/><line x1="767.9" y1="515.7" x2="758.2" y2="502.3" stroke="#1a1a1a" stroke-width="1.3"/><line x1="770.3" y1="513.9" x2="760.6" y2="500.6" stroke="#1a1a1a" stroke-width="1.3"/><circle cx="770.6" cy="516.8" r="5" fill="url(#gR)"/><line x1="833.7" y1="517.7" x2="817.7" y2="513.7" stroke="#1a1a1a" stroke-width="1.3"/><line x1="834.4" y1="514.7" x2="818.4" y2="510.8" stroke="#1a1a1a" stroke-width="1.3"/><circle cx="836.5" cy="516.8" r="5" fill="url(#gR)"/><line x1="870.3" y1="532.4" x2="871.4" y2="515.9" stroke="#1a1a1a" stroke-width="1.3"/><line x1="873.3" y1="532.6" x2="874.4" y2="516.2" stroke="#1a1a1a" stroke-width="1.3"/><circle cx="871.6" cy="535" r="5" fill="url(#gR)"/><line x1="923.9" y1="510.8" x2="939.7" y2="506" stroke="#1a1a1a" stroke-width="1.3"/><line x1="924.8" y1="513.7" x2="940.6" y2="508.8" stroke="#1a1a1a" stroke-width="1.3"/><circle cx="922" cy="513" r="5" fill="url(#gR)"/><line x1="924.8" y1="524.8" x2="940.6" y2="529.7" stroke="#1a1a1a" stroke-width="1.3"/><line x1="923.9" y1="527.7" x2="939.7" y2="532.5" stroke="#1a1a1a" stroke-width="1.3"/><circle cx="922" cy="525.5" r="5" fill="url(#gR)"/><line x1="754.1" y1="548.8" x2="738.6" y2="554.3" stroke="#1a1a1a" stroke-width="1.3"/><line x1="753.1" y1="545.9" x2="737.6" y2="551.5" stroke="#1a1a1a" stroke-width="1.3"/><circle cx="756" cy="546.5" r="5" fill="url(#gR)"/><line x1="789.4" y1="559.5" x2="788.9" y2="543.1" stroke="#1a1a1a" stroke-width="1.3"/><line x1="792.4" y1="559.5" x2="791.9" y2="543" stroke="#1a1a1a" stroke-width="1.3"/><circle cx="791" cy="562" r="5" fill="url(#gR)"/><line x1="899.1" y1="559.1" x2="908" y2="545.2" stroke="#1a1a1a" stroke-width="1.3"/><line x1="901.6" y1="560.7" x2="910.5" y2="546.8" stroke="#1a1a1a" stroke-width="1.3"/><circle cx="899" cy="562" r="5" fill="url(#gR)"/><line x1="809.8" y1="588.3" x2="807.6" y2="604.6" stroke="#1a1a1a" stroke-width="1.3"/><line x1="806.8" y1="587.9" x2="804.7" y2="604.2" stroke="#1a1a1a" stroke-width="1.3"/><circle cx="808.6" cy="585.6" r="5" fill="url(#gR)"/><line x1="823.4" y1="592.9" x2="818.1" y2="608.5" stroke="#1a1a1a" stroke-width="1.3"/><line x1="820.6" y1="591.9" x2="815.2" y2="607.5" stroke="#1a1a1a" stroke-width="1.3"/><circle cx="822.8" cy="590" r="5" fill="url(#gR)"/><line x1="885.1" y1="588.6" x2="894" y2="574.7" stroke="#1a1a1a" stroke-width="1.3"/><line x1="887.6" y1="590.2" x2="896.5" y2="576.3" stroke="#1a1a1a" stroke-width="1.3"/><circle cx="885" cy="591.5" r="5" fill="url(#gR)"/><line x1="830.5" y1="438.5" x2="830.5" y2="455" stroke="#8a8a8a" stroke-width="1.3"/><line x1="827.5" y1="438.5" x2="827.5" y2="455" stroke="#8a8a8a" stroke-width="1.3"/><circle cx="829" cy="436" r="5" fill="url(#gG)"/><line x1="891.5" y1="508.5" x2="891.5" y2="525" stroke="#8a8a8a" stroke-width="1.3"/><line x1="888.5" y1="508.5" x2="888.5" y2="525" stroke="#8a8a8a" stroke-width="1.3"/><circle cx="890" cy="506" r="5" fill="url(#gG)"/><line x1="913.5" y1="528" x2="913.5" y2="544.5" stroke="#8a8a8a" stroke-width="1.3"/><line x1="910.5" y1="528" x2="910.5" y2="544.5" stroke="#8a8a8a" stroke-width="1.3"/><circle cx="912" cy="525.5" r="5" fill="url(#gG)"/><line x1="816.5" y1="552.5" x2="816.5" y2="569" stroke="#8a8a8a" stroke-width="1.3"/><line x1="813.5" y1="552.5" x2="813.5" y2="569" stroke="#8a8a8a" stroke-width="1.3"/><circle cx="815" cy="550" r="5" fill="url(#gG)"/>
<use href="#lnp" transform="translate(205,246.5)"/><path d="M653.9 159.6 L652.9 159.8 L651.9 160.1 L651 160.4 L650 160.6 L648.9 161 L647.9 161.3 L646.9 161.6 L645.9 162 L644.8 162.4 L643.8 162.8 L642.7 163.2 L641.7 163.6 L640.6 164.1 L639.6 164.6 L638.5 165 L637.4 165.6 L636.3 166.1 L635.3 166.6 L634.2 167.2 L633.1 167.8 L632 168.3 L631 168.9 L629.9 169.6 L628.8 170.2 L627.7 170.9 L626.7 171.5 L625.6 172.2 L624.5 172.9 L623.5 173.6 L622.4 174.3 L621.3 175.1 L620.3 175.8 L619.2 176.6 L618.2 177.4 L617.2 178.2 L616.1 179 L615.1 179.8 L614.1 180.6 L613.1 181.4 L612.1 182.3 L611.1 183.2 L610.2 184 L609.2 184.9 L608.2 185.8 L607.3 186.8 L606.4 187.7 L605.5 188.6 L604.5 189.6 L603.7 190.5 L602.8 191.5 L601.9 192.5 L601.1 193.4 L600.2 194.4 L599.4 195.4 L598.6 196.5 L597.8 197.5 L597.1 198.5 L596.3 199.6 L595.6 200.6 L594.9 201.7 L599.1 204.3 L599.7 203.3 L600.4 202.3 L601 201.2 L601.7 200.2 L602.4 199.2 L603.1 198.2 L603.8 197.2 L604.5 196.2 L605.3 195.2 L606.1 194.3 L606.8 193.3 L607.6 192.3 L608.5 191.4 L609.3 190.4 L610.1 189.5 L611 188.6 L611.9 187.7 L612.8 186.7 L613.6 185.8 L614.6 185 L615.5 184.1 L616.4 183.2 L617.3 182.4 L618.3 181.5 L619.2 180.7 L620.2 179.8 L621.2 179 L622.1 178.2 L623.1 177.4 L624.1 176.7 L625.1 175.9 L626.1 175.2 L627.1 174.4 L628.1 173.7 L629.1 173 L630.1 172.3 L631.2 171.6 L632.2 170.9 L633.2 170.3 L634.2 169.7 L635.2 169 L636.3 168.4 L637.3 167.8 L638.3 167.3 L639.3 166.7 L640.3 166.2 L641.4 165.6 L642.4 165.1 L643.4 164.6 L644.4 164.2 L645.4 163.7 L646.4 163.3 L647.4 162.8 L648.3 162.4 L649.3 162 L650.3 161.7 L651.3 161.3 L652.2 161 L653.2 160.7 L654.1 160.4 Z" fill="url(#gArr1)"/><polygon points="589.6,218.5 588,197 607,206" fill="#111"/><path d="M569.6 508.1 L570.1 510.7 L570.6 513.2 L571.2 515.8 L571.9 518.2 L572.6 520.7 L573.3 523.1 L574.1 525.5 L575 527.9 L575.9 530.2 L576.8 532.4 L577.8 534.7 L578.8 536.9 L579.9 539 L581 541.2 L582.2 543.2 L583.4 545.3 L584.7 547.3 L586 549.3 L587.4 551.2 L588.8 553.1 L590.3 555 L591.8 556.8 L593.3 558.6 L594.9 560.3 L596.6 562 L598.2 563.7 L600 565.3 L601.8 566.9 L603.6 568.4 L605.4 569.9 L607.3 571.4 L609.3 572.8 L611.3 574.2 L613.3 575.5 L615.4 576.8 L617.5 578.1 L619.6 579.3 L621.8 580.5 L624.1 581.6 L626.4 582.7 L628.7 583.8 L631 584.8 L633.4 585.7 L635.9 586.6 L638.3 587.5 L640.9 588.3 L643.4 589.1 L646 589.9 L648.6 590.6 L651.3 591.2 L654 591.8 L656.7 592.4 L659.5 592.9 L662.3 593.4 L665.1 593.8 L668 594.2 L670.9 594.5 L673.9 594.8 L676.9 595.1 L679.9 595.3 L680.1 590.7 L677.2 590.6 L674.2 590.4 L671.4 590.2 L668.5 589.9 L665.7 589.6 L662.9 589.2 L660.2 588.8 L657.5 588.4 L654.8 587.9 L652.1 587.3 L649.5 586.8 L647 586.1 L644.4 585.5 L641.9 584.8 L639.5 584 L637 583.2 L634.7 582.4 L632.3 581.5 L630 580.6 L627.7 579.7 L625.5 578.7 L623.3 577.6 L621.1 576.5 L619 575.4 L616.9 574.3 L614.9 573 L612.9 571.8 L610.9 570.5 L609 569.2 L607.1 567.8 L605.2 566.4 L603.4 564.9 L601.6 563.4 L599.9 561.9 L598.2 560.3 L596.6 558.7 L595 557.1 L593.4 555.4 L591.9 553.6 L590.4 551.8 L589 550 L587.6 548.2 L586.3 546.3 L585 544.3 L583.7 542.3 L582.5 540.3 L581.3 538.3 L580.2 536.2 L579.1 534 L578.1 531.9 L577.1 529.6 L576.2 527.4 L575.3 525.1 L574.4 522.7 L573.7 520.4 L572.9 518 L572.2 515.5 L571.6 513 L570.9 510.5 L570.4 507.9 Z" fill="url(#gArr2)"/><polygon points="697,593 677,585 677,601" fill="#111"/><path d="M860 368 L860.4 365.2 L860.8 362.3 L861.3 359.5 L861.8 356.6 L862.4 353.8 L863.1 351.1 L863.8 348.3 L864.5 345.6 L865.3 342.9 L866.2 340.2 L867.1 337.5 L868 334.9 L869 332.3 L870.1 329.7 L871.2 327.1 L872.3 324.6 L873.5 322.1 L874.7 319.6 L876 317.2 L877.4 314.8 L878.8 312.4 L880.2 310 L881.7 307.7 L883.2 305.4 L884.8 303.2 L886.4 301 L888.1 298.8 L889.8 296.7 L891.5 294.6 L893.3 292.5 L895.2 290.5 L897.1 288.5 L899 286.6 L901 284.6 L903 282.8 L905.1 281 L907.2 279.2 L909.3 277.4 L911.5 275.7 L913.7 274.1 L916 272.5 L918.3 270.9 L920.6 269.4 L923 267.9 L925.5 266.5 L927.9 265.1 L930.4 263.8 L933 262.5 L935.6 261.3 L938.2 260.1 L940.9 259 L943.6 257.9 L946.3 256.9 L949.1 255.9 L951.9 255 L954.7 254.1 L957.6 253.3 L960.5 252.6 L963.5 251.9 L966.5 251.2 L965.5 246.8 L962.4 247.5 L959.4 248.2 L956.4 249.1 L953.5 250 L950.6 250.9 L947.7 251.9 L944.8 253 L942 254.1 L939.3 255.3 L936.6 256.5 L933.9 257.8 L931.3 259.1 L928.7 260.5 L926.1 261.9 L923.6 263.3 L921.2 264.9 L918.7 266.4 L916.4 268 L914 269.7 L911.7 271.4 L909.5 273.1 L907.3 274.9 L905.1 276.8 L903 278.6 L901 280.6 L898.9 282.5 L897 284.5 L895 286.6 L893.1 288.6 L891.3 290.7 L889.5 292.9 L887.8 295.1 L886.1 297.3 L884.4 299.5 L882.8 301.8 L881.3 304.2 L879.8 306.5 L878.3 308.9 L876.9 311.3 L875.6 313.8 L874.3 316.2 L873 318.7 L871.8 321.3 L870.6 323.8 L869.5 326.4 L868.5 329 L867.5 331.7 L866.5 334.3 L865.6 337 L864.8 339.7 L864 342.5 L863.2 345.2 L862.6 348 L861.9 350.8 L861.3 353.6 L860.8 356.4 L860.3 359.3 L859.9 362.2 L859.5 365.1 L859.2 368 Z" fill="url(#gArr3)"/><polygon points="981.5,244 962,240.5 968,258" fill="#111"/><line x1="769.5" y1="327" x2="769.5" y2="345" stroke="#111" stroke-width="2.6"/><polygon points="769.5,355.5 762.5,341.5 776.5,341.5" fill="#111"/><path d="M1112,145.5 H1192 Q1199,145.5 1199,152.5 V236.5 Q1199,243.5 1192,243.5 H1112 Q1105,243.5 1105,236.5 V208.5 H1134.5 Q1137.5,208.5 1137.5,205.5 V183 Q1137.5,180 1134.5,180 H1105 V152.5 Q1105,145.5 1112,145.5 Z" fill="url(#gRig)" stroke="#12308c" stroke-width="3.8" stroke-linejoin="round"/><rect x="1103" y="181.5" width="32.5" height="25.5" fill="#fff"/><g fill="none" stroke="#111" stroke-width="3" stroke-linejoin="round" stroke-linecap="round"><path d="M977.8 202.2 C976.2 201 971.3 198.4 968 195.2 C964.7 191.9 961.4 185.8 958.1 182.5 C954.8 179.2 951.2 176.2 948.3 175.5 C945.4 174.8 942.3 176.2 940.5 178.3 C938.8 180.4 937.4 184.1 937.7 188.1 C938.1 192.1 939.3 198.8 942.7 202.2 C946.1 205.6 953.2 208 958.1 208.5 C963 209 968.9 206.3 972.2 205.3 C975.5 204.2 976.9 202.7 977.8 202.2"/><path d="M977.8 202.2 C980.4 200.3 988.1 195.4 993.3 190.9 C998.4 186.5 1004.8 178.4 1008.8 175.5 C1012.7 172.5 1014.8 173 1017.2 173.4 C1019.5 173.7 1021.9 176.9 1022.8 177.6"/><path d="M977.8 202.2 C979.7 203 985.3 207.8 989.1 207.1 C992.8 206.4 996.6 201.7 1000.3 198 C1004.1 194.2 1007.8 188 1011.6 184.6 C1015.3 181.2 1020.9 178.8 1022.8 177.6"/><path d="M1022.8 177.6 C1024.2 176.9 1028.7 173.7 1031.3 173.4 C1033.8 173 1035.7 173 1038.3 175.5 C1040.9 177.9 1043.7 183.7 1046.7 188.1 C1049.8 192.6 1054 199.1 1056.6 202.2 C1059.1 205.2 1061.3 205.7 1062.2 206.4"/><path d="M1022.8 177.6 C1023.8 178.2 1025.9 177.9 1028.4 181.1 C1031 184.3 1035 192.3 1038.3 196.6 C1041.6 200.8 1045.1 204.4 1048.1 206.4 C1051.2 208.4 1054.2 208.5 1056.6 208.5 C1058.9 208.5 1061.3 206.8 1062.2 206.4"/><path d="M1062.2 206.4 C1064.8 204.5 1072.3 200 1077.7 195.2 C1083 190.4 1091.7 180.5 1094.5 177.6"/><path d="M1062.2 206.4 C1063.6 206.8 1066.9 209.2 1070.6 208.5 C1074.4 207.8 1080.8 204.5 1084.7 202.2 C1088.6 199.8 1092.3 195.7 1093.8 194.5"/><line x1="951.1" y1="176.9" x2="946.9" y2="205.0" stroke-width="2"/><line x1="960.2" y1="184.6" x2="958.1" y2="207.8" stroke-width="2"/><line x1="967.3" y1="193.8" x2="967.3" y2="206.4" stroke-width="2"/><line x1="986.3" y1="195.9" x2="990.5" y2="206.4" stroke-width="2"/><line x1="994.7" y1="188.8" x2="1000.3" y2="198.0" stroke-width="2"/><line x1="1003.1" y1="182.5" x2="1008.8" y2="190.9" stroke-width="2"/><line x1="1011.6" y1="176.9" x2="1014.4" y2="183.2" stroke-width="2"/><line x1="1031.3" y1="174.8" x2="1027.0" y2="179.7" stroke-width="2"/><line x1="1036.9" y1="181.1" x2="1031.3" y2="186.7" stroke-width="2"/><line x1="1042.5" y1="188.1" x2="1035.5" y2="193.8" stroke-width="2"/><line x1="1048.1" y1="195.2" x2="1041.1" y2="200.8" stroke-width="2"/><line x1="1052.3" y1="202.2" x2="1046.7" y2="205.0" stroke-width="2"/><line x1="1070.6" y1="200.8" x2="1072.0" y2="207.8" stroke-width="2"/><line x1="1076.3" y1="196.6" x2="1077.7" y2="206.4" stroke-width="2"/><line x1="1081.9" y1="192.3" x2="1083.3" y2="203.6" stroke-width="2"/><line x1="1087.5" y1="186.7" x2="1088.9" y2="199.4" stroke-width="2"/></g><g fill="#fff" stroke="#111" stroke-width="1.2"><circle cx="1097.5" cy="194.5" r="4.4"/><circle cx="1109" cy="194.5" r="4.4"/><circle cx="1122" cy="194.5" r="5.6"/></g><g stroke="#1a1a1a" stroke-width="1.7" stroke-dasharray="3.2,2.8" fill="none"><path d="M1084.5,346 V482 H1126"/><path d="M1084.5,391 H1126"/><path d="M1084.5,437 H1126"/></g><polygon points="1135.5,391 1125.5,386.5 1125.5,395.5" fill="#111"/><polygon points="1135.5,437 1125.5,432.5 1125.5,441.5" fill="#111"/><polygon points="1135.5,481.5 1125.5,477 1125.5,486" fill="#111"/><path d="M1121.5,506 Q1121.5,504 1123.5,504 H1132.5 Q1134.5,504 1134.5,506 V557.5 H1153.5 L1127.7,597.5 L1101.5,557.5 H1121.5 Z" fill="#3a3a3a" stroke="#3a3a3a" stroke-width="1" stroke-linejoin="round"/><text x="103.5" y="491.9" font-size="50.9" fill="#c84b51" font-weight="bold" textLength="201.2" lengthAdjust="spacingAndGlyphs">SLR-LNP</text><text x="42.7" y="534.1" font-size="33.7" fill="#c84b51" font-weight="bold" textLength="322.3" lengthAdjust="spacingAndGlyphs">(RIG-I activating LNP)</text><text x="965.2" y="126.4" font-size="31.8" fill="#111" font-weight="bold" textLength="93.6" lengthAdjust="spacingAndGlyphs">SLR20</text><text x="925.8" y="156.6" font-size="26.3" fill="#111" font-weight="normal" textLength="171.7" lengthAdjust="spacingAndGlyphs" stroke="#111" stroke-width="0.35">(RIG-I agonist)</text><text x="1100.8" y="289.8" font-size="31.4" fill="#111" font-weight="bold" textLength="73.2" lengthAdjust="spacingAndGlyphs">RIG-I</text><text x="1071" y="325.2" font-size="32.2" fill="#111" font-weight="bold" textLength="141.1" lengthAdjust="spacingAndGlyphs">activation</text><text x="1141.9" y="402" font-size="31.8" fill="#111" font-weight="bold" textLength="71.3" lengthAdjust="spacingAndGlyphs">IFN-I</text><text x="1142.1" y="448.5" font-size="32.6" fill="#111" font-weight="bold" textLength="67" lengthAdjust="spacingAndGlyphs">ISGs</text><text x="1142" y="494.5" font-size="31.8" fill="#111" font-weight="bold" textLength="91.7" lengthAdjust="spacingAndGlyphs">NF-κB</text><text x="977.6" y="635.8" font-size="34.1" fill="#111" font-weight="bold" textLength="291.8" lengthAdjust="spacingAndGlyphs">Antitumor immunity</text><text x="450.4" y="600.2" font-size="32.4" fill="#111" font-weight="bold" textLength="159.6" lengthAdjust="spacingAndGlyphs">Endosomal</text><text x="451.2" y="634.9" font-size="31" fill="#111" font-weight="bold" textLength="101.8" lengthAdjust="spacingAndGlyphs">escape</text><text x="716" y="349.7" font-size="32.1" fill="#111" font-weight="bold" textLength="40.4" lengthAdjust="spacingAndGlyphs">pH</text>
</svg>
</body></html>
